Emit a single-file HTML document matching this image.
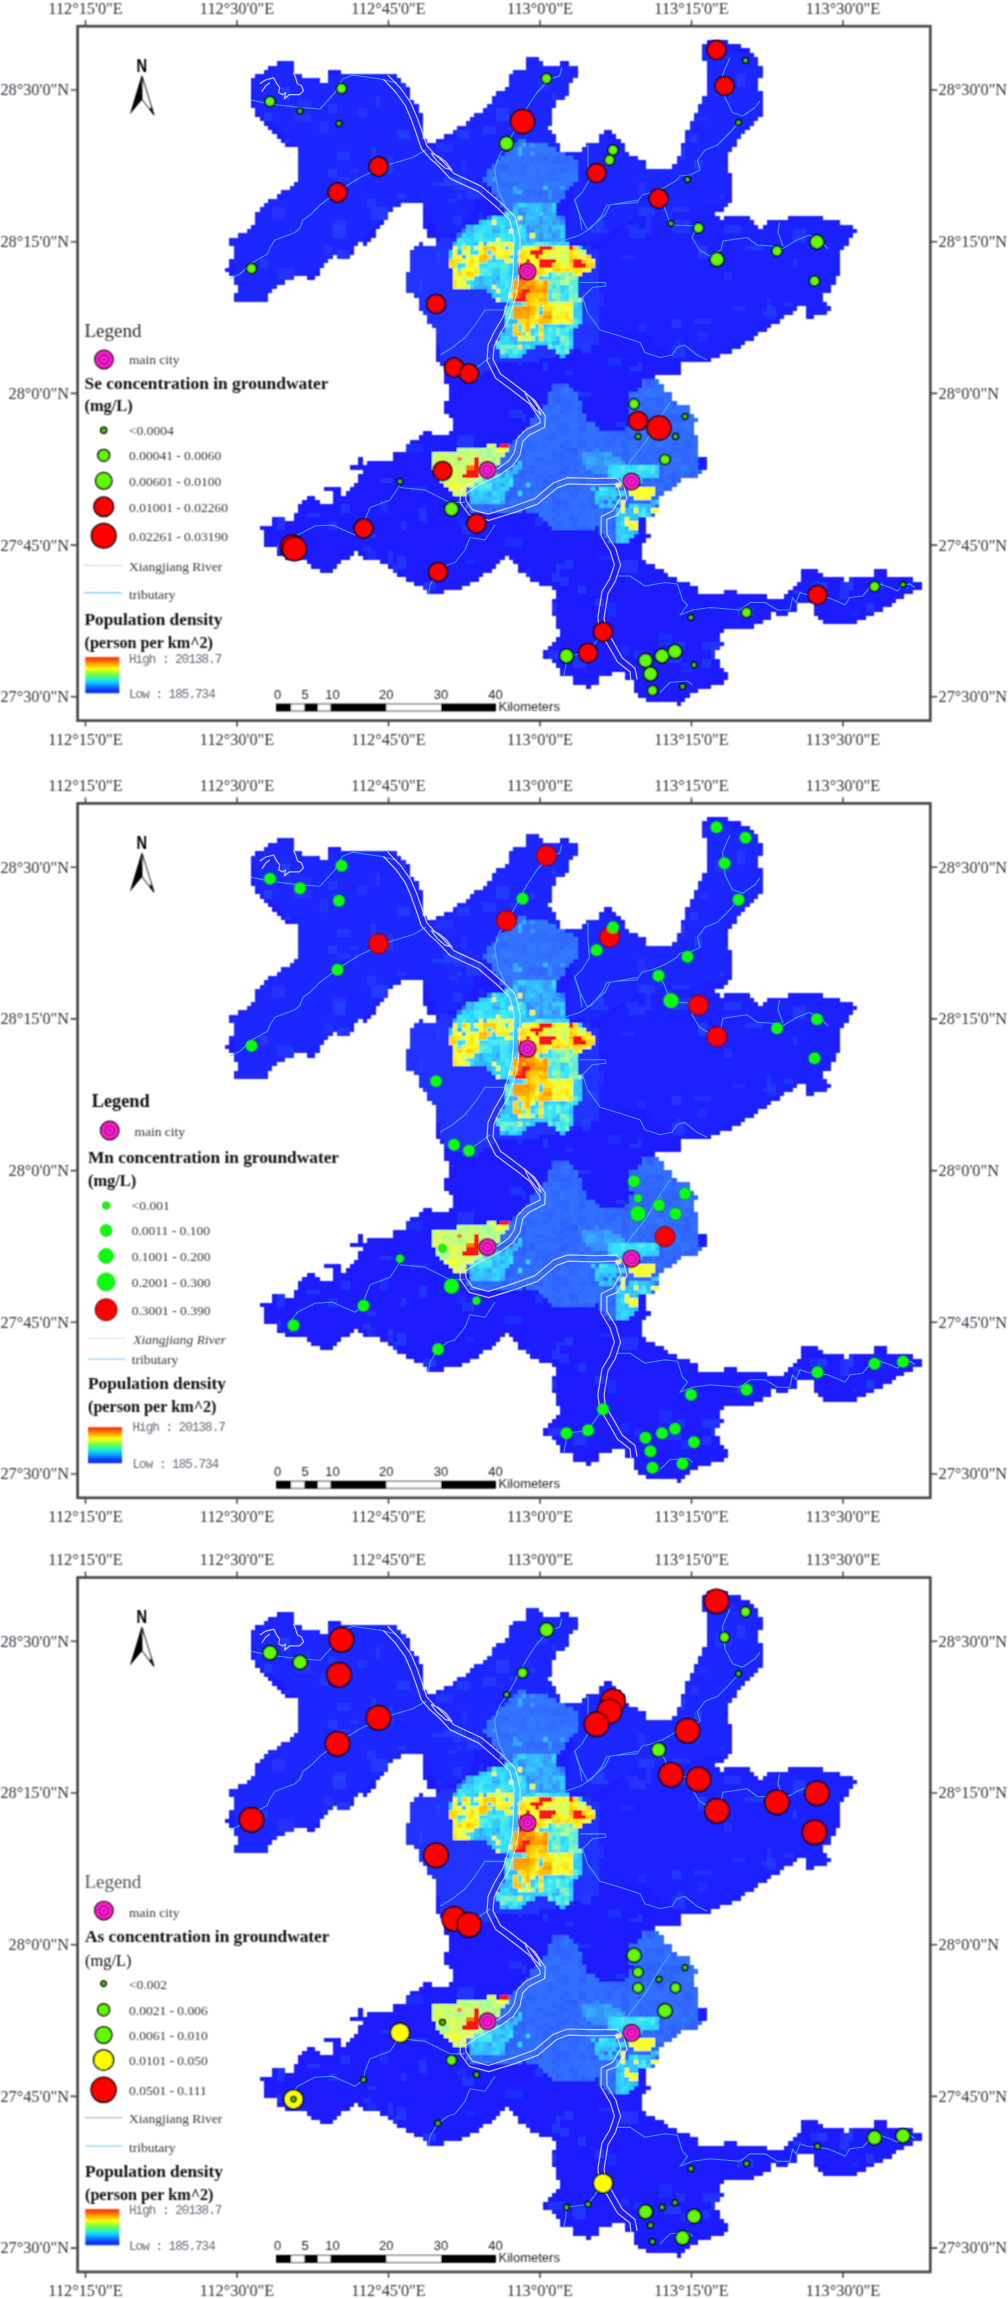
<!DOCTYPE html>
<html><head><meta charset="utf-8"><title>Groundwater concentration maps</title>
<style>
html,body{margin:0;padding:0;background:#fff}
svg{display:block}
text{font-family:"Liberation Serif",serif}
.tk{font-size:16.3px;fill:#30363c}
.lb{font-size:13.5px;fill:#383838}
.bd{font-size:16.4px;font-weight:bold;fill:#111}
.hl{font-size:12.5px;fill:#667;font-family:"Liberation Mono",monospace;letter-spacing:-0.9px}
.sb{font-family:"Liberation Sans",sans-serif;font-size:13px;fill:#222}
.nn{font-family:"Liberation Sans",sans-serif;font-size:17.5px;font-weight:bold;fill:#000}
</style></head><body>
<svg width="1008" height="2298" viewBox="0 0 1008 2298">
<defs><linearGradient id="ramp" x1="0" y1="0" x2="0" y2="1">
<stop offset="0" stop-color="#ff1a00"/><stop offset="0.15" stop-color="#ff8c00"/><stop offset="0.32" stop-color="#ffff10"/><stop offset="0.5" stop-color="#60ff50"/><stop offset="0.62" stop-color="#20f0d0"/><stop offset="0.73" stop-color="#10b8ff"/><stop offset="0.88" stop-color="#1048ff"/><stop offset="1" stop-color="#1020ff"/>
</linearGradient>
<filter id="soft" x="0" y="0" width="100%" height="100%" filterUnits="userSpaceOnUse"><feConvolveMatrix order="3" kernelMatrix="1 2 1 2 4 2 1 2 1" divisor="16" edgeMode="duplicate" preserveAlpha="false"/></filter>
</defs>
<rect width="1008" height="2298" fill="#fff"/>
<g transform="translate(0,0)">
<g filter="url(#soft)"><path fill="#1c1eff" d="M707 40h21v4h-21zM702 44h39v4h-39zM702 48h48v5h-48zM702 53h52v4h-52zM526 57h13v4h-13zM702 57h56v4h-56zM277 61h17v5h-17zM526 61h17v5h-17zM560 61h9v5h-9zM707 61h51v5h-51zM268 66h26v4h-26zM526 66h52v4h-52zM707 66h56v4h-56zM264 70h30v4h-30zM328 70h13v4h-13zM513 70h65v4h-65zM707 70h56v4h-56zM255 74h47v4h-47zM328 74h69v4h-69zM509 74h69v4h-69zM707 74h56v4h-56zM251 78h69v5h-69zM328 78h73v5h-73zM509 78h64v5h-64zM707 78h51v5h-51zM251 83h155v4h-155zM509 83h60v4h-60zM707 83h51v4h-51zM251 87h159v4h-159zM505 87h64v4h-64zM707 87h51v4h-51zM251 91h159v5h-159zM496 91h73v5h-73zM707 91h56v5h-56zM251 96h159v4h-159zM492 96h73v4h-73zM702 96h61v4h-61zM251 100h163v4h-163zM492 100h64v4h-64zM702 100h61v4h-61zM251 104h168v4h-168zM487 104h69v4h-69zM698 104h65v4h-65zM255 108h164v5h-164zM483 108h69v5h-69zM698 108h65v5h-65zM255 113h168v4h-168zM474 113h78v4h-78zM694 113h69v4h-69zM260 117h163v4h-163zM470 117h82v4h-82zM694 117h64v4h-64zM264 121h159v5h-159zM466 121h86v5h-86zM690 121h64v5h-64zM268 126h155v4h-155zM457 126h91v4h-91zM690 126h60v4h-60zM272 130h151v4h-151zM453 130h99v4h-99zM604 130h8v4h-8zM685 130h60v4h-60zM277 134h146v5h-146zM444 134h112v5h-112zM599 134h17v5h-17zM685 134h56v5h-56zM281 139h146v4h-146zM436 139h120v4h-120zM599 139h22v4h-22zM685 139h52v4h-52zM285 143h275v4h-275zM586 143h39v4h-39zM681 143h56v4h-56zM298 147h262v5h-262zM582 147h43v5h-43zM681 147h51v5h-51zM298 152h331v4h-331zM681 152h47v4h-47zM298 156h340v4h-340zM677 156h51v4h-51zM298 160h348v4h-348zM677 160h51v4h-51zM298 164h348v5h-348zM672 164h56v5h-56zM298 169h430v4h-430zM298 173h434v4h-434zM298 177h434v5h-434zM294 182h438v4h-438zM290 186h442v4h-442zM281 190h451v4h-451zM277 194h455v5h-455zM268 199h464v4h-464zM264 203h137v4h-137zM423 203h305v4h-305zM260 207h133v5h-133zM423 207h301v5h-301zM255 212h133v4h-133zM423 212h292v4h-292zM255 216h133v4h-133zM423 216h297v4h-297zM724 216h26v4h-26zM788 216h35v4h-35zM255 220h129v5h-129zM423 220h331v5h-331zM767 220h73v5h-73zM251 225h129v4h-129zM423 225h335v4h-335zM763 225h90v4h-90zM247 229h129v4h-129zM427 229h430v4h-430zM238 233h138v5h-138zM427 233h426v5h-426zM229 238h142v4h-142zM436 238h413v4h-413zM229 242h129v4h-129zM363 242h4v4h-4zM419 242h4v4h-4zM436 242h413v4h-413zM234 246h120v4h-120zM414 246h430v4h-430zM234 250h120v5h-120zM410 250h430v5h-430zM234 255h99v4h-99zM337 255h13v4h-13zM410 255h430v4h-430zM229 259h99v4h-99zM410 259h430v4h-430zM229 263h95v5h-95zM410 263h430v5h-430zM225 268h95v4h-95zM410 268h430v4h-430zM229 272h91v4h-91zM406 272h434v4h-434zM234 276h60v4h-60zM307 276h8v4h-8zM406 276h430v4h-430zM234 280h51v5h-51zM406 280h430v5h-430zM238 285h39v4h-39zM406 285h425v4h-425zM238 289h34v4h-34zM406 289h425v4h-425zM234 293h34v5h-34zM414 293h409v5h-409zM234 298h34v4h-34zM419 298h404v4h-404zM419 302h408v4h-408zM419 306h378v5h-378zM806 306h25v5h-25zM423 311h370v4h-370zM806 311h21v4h-21zM427 315h357v4h-357zM806 315h8v4h-8zM427 319h353v5h-353zM432 324h339v4h-339zM436 328h331v4h-331zM436 332h322v4h-322zM436 336h318v5h-318zM436 341h309v4h-309zM436 345h305v4h-305zM436 349h296v5h-296zM436 354h284v4h-284zM436 358h275v4h-275zM440 362h241v4h-241zM444 366h237v5h-237zM444 371h237v4h-237zM444 375h211v4h-211zM444 379h215v5h-215zM449 384h215v4h-215zM449 388h215v4h-215zM449 392h223v5h-223zM449 397h223v4h-223zM444 401h233v4h-233zM444 405h246v5h-246zM444 410h246v4h-246zM449 414h245v4h-245zM453 418h245v4h-245zM453 422h241v5h-241zM453 427h241v4h-241zM423 431h9v4h-9zM449 431h245v4h-245zM419 435h279v5h-279zM410 440h288v4h-288zM406 444h292v4h-292zM406 448h292v4h-292zM393 452h305v5h-305zM358 457h5v4h-5zM393 457h314v4h-314zM358 461h5v4h-5zM367 461h340v4h-340zM350 465h357v5h-357zM363 470h339v4h-339zM358 474h340v4h-340zM358 478h323v5h-323zM354 483h323v4h-323zM324 487h17v4h-17zM350 487h322v4h-322zM333 491h8v5h-8zM346 491h318v5h-318zM307 496h8v4h-8zM333 496h326v4h-326zM302 500h18v4h-18zM333 500h326v4h-326zM298 504h361v4h-361zM298 508h361v5h-361zM294 513h361v4h-361zM272 517h13v4h-13zM294 517h352v4h-352zM272 521h374v5h-374zM260 526h386v4h-386zM264 530h382v4h-382zM264 534h387v4h-387zM264 538h382v5h-382zM264 543h378v4h-378zM277 547h365v4h-365zM277 551h77v5h-77zM358 551h284v5h-284zM285 556h65v4h-65zM363 556h142v4h-142zM509 556h133v4h-133zM307 560h34v4h-34zM380 560h120v4h-120zM513 560h133v4h-133zM311 564h26v5h-26zM388 564h108v5h-108zM518 564h137v5h-137zM320 569h13v4h-13zM393 569h99v4h-99zM518 569h146v4h-146zM801 569h17v4h-17zM874 569h13v4h-13zM397 573h86v4h-86zM526 573h142v4h-142zM801 573h22v4h-22zM874 573h13v4h-13zM406 577h73v5h-73zM530 577h147v5h-147zM801 577h43v5h-43zM849 577h64v5h-64zM414 582h56v4h-56zM539 582h151v4h-151zM797 582h125v4h-125zM423 586h39v4h-39zM552 586h146v4h-146zM793 586h129v4h-129zM427 590h17v4h-17zM556 590h142v4h-142zM724 590h13v4h-13zM788 590h125v4h-125zM556 594h211v5h-211zM784 594h120v5h-120zM552 599h344v4h-344zM552 603h245v4h-245zM814 603h78v4h-78zM552 607h245v5h-245zM814 607h69v5h-69zM552 612h219v4h-219zM776 612h12v4h-12zM814 612h60v4h-60zM556 616h215v4h-215zM818 616h48v4h-48zM556 620h207v4h-207zM823 620h34v4h-34zM556 624h198v5h-198zM560 629h164v4h-164zM560 633h160v4h-160zM556 637h164v5h-164zM552 642h172v4h-172zM548 646h172v4h-172zM543 650h172v5h-172zM543 655h172v4h-172zM552 659h168v4h-168zM556 663h164v5h-164zM560 668h164v4h-164zM560 672h52v4h-52zM625 672h103v4h-103zM573 676h26v4h-26zM625 676h103v4h-103zM573 680h26v5h-26zM634 680h90v5h-90zM586 685h5v4h-5zM634 685h77v4h-77zM634 689h64v4h-64zM638 693h52v5h-52zM646 698h39v4h-39zM677 702h4v4h-4z"/>
<path fill="#1e26ff" d="M702 44h18v4h-18zM702 48h30v5h-30zM702 53h43v4h-43zM526 57h13v4h-13zM702 57h56v4h-56zM281 61h13v5h-13zM526 61h17v5h-17zM707 61h51v5h-51zM272 66h22v4h-22zM526 66h52v4h-52zM707 66h56v4h-56zM264 70h30v4h-30zM513 70h65v4h-65zM707 70h56v4h-56zM260 74h42v4h-42zM328 74h69v4h-69zM509 74h69v4h-69zM707 74h56v4h-56zM251 78h69v5h-69zM328 78h73v5h-73zM509 78h64v5h-64zM707 78h51v5h-51zM251 83h155v4h-155zM509 83h60v4h-60zM707 83h51v4h-51zM251 87h155v4h-155zM505 87h64v4h-64zM707 87h51v4h-51zM255 91h151v5h-151zM496 91h73v5h-73zM707 91h56v5h-56zM255 96h155v4h-155zM492 96h73v4h-73zM702 96h61v4h-61zM255 100h155v4h-155zM492 100h64v4h-64zM702 100h61v4h-61zM255 104h159v4h-159zM487 104h69v4h-69zM698 104h65v4h-65zM255 108h159v5h-159zM483 108h69v5h-69zM698 108h65v5h-65zM260 113h154v4h-154zM474 113h78v4h-78zM694 113h69v4h-69zM264 117h155v4h-155zM470 117h82v4h-82zM694 117h64v4h-64zM272 121h147v5h-147zM466 121h86v5h-86zM690 121h64v5h-64zM277 126h146v4h-146zM457 126h91v4h-91zM690 126h60v4h-60zM281 130h142v4h-142zM453 130h99v4h-99zM685 130h60v4h-60zM285 134h138v5h-138zM449 134h107v5h-107zM599 134h9v5h-9zM685 134h56v5h-56zM290 139h133v4h-133zM440 139h78v4h-78zM526 139h30v4h-30zM599 139h13v4h-13zM685 139h52v4h-52zM294 143h129v4h-129zM436 143h77v4h-77zM548 143h12v4h-12zM586 143h30v4h-30zM681 143h56v4h-56zM298 147h211v5h-211zM556 147h4v5h-4zM582 147h43v5h-43zM681 147h51v5h-51zM298 152h207v4h-207zM565 152h64v4h-64zM681 152h47v4h-47zM298 156h202v4h-202zM573 156h65v4h-65zM677 156h51v4h-51zM298 160h198v4h-198zM578 160h64v4h-64zM677 160h47v4h-47zM298 164h194v5h-194zM578 164h68v5h-68zM672 164h56v5h-56zM298 169h189v4h-189zM578 169h150v4h-150zM298 173h189v4h-189zM578 173h150v4h-150zM298 177h185v5h-185zM578 177h154v5h-154zM294 182h189v4h-189zM573 182h159v4h-159zM290 186h189v4h-189zM573 186h159v4h-159zM281 190h198v4h-198zM573 190h159v4h-159zM277 194h202v5h-202zM573 194h159v5h-159zM268 199h151v4h-151zM423 199h51v4h-51zM573 199h155v4h-155zM264 203h137v4h-137zM423 203h51v4h-51zM569 203h133v4h-133zM260 207h133v5h-133zM427 207h47v5h-47zM569 207h108v5h-108zM255 212h133v4h-133zM427 212h43v4h-43zM569 212h77v4h-77zM255 216h129v4h-129zM432 216h38v4h-38zM569 216h65v4h-65zM255 220h125v5h-125zM432 220h34v5h-34zM569 220h60v5h-60zM251 225h125v4h-125zM436 225h30v4h-30zM569 225h52v4h-52zM247 229h124v4h-124zM436 229h21v4h-21zM565 229h47v4h-47zM238 233h129v5h-129zM436 233h13v5h-13zM565 233h43v5h-43zM229 238h134v4h-134zM565 238h34v4h-34zM229 242h129v4h-129zM586 242h5v4h-5zM234 246h116v4h-116zM234 250h112v5h-112zM234 255h99v4h-99zM337 255h4v4h-4zM229 259h99v4h-99zM234 263h90v5h-90zM234 268h86v4h-86zM234 272h81v4h-81zM234 276h60v4h-60zM234 280h51v5h-51zM238 285h39v4h-39zM238 289h34v4h-34zM234 293h34v5h-34zM234 298h34v4h-34z"/>
<path fill="#3173ff" d="M518 139h4v4h-4zM513 147h5v5h-5zM535 152h4v4h-4zM513 160h5v4h-5zM526 160h4v4h-4zM535 164h4v5h-4zM487 169h5v4h-5zM548 169h4v4h-4zM513 173h5v4h-5zM487 177h5v5h-5zM487 182h5v4h-5zM530 182h5v4h-5zM492 186h4v4h-4zM565 186h4v4h-4zM522 190h4v4h-4zM505 194h4v5h-4zM513 194h9v5h-9zM530 194h5v5h-5zM509 199h4v4h-4zM646 392h9v5h-9zM543 414h5v4h-5zM560 414h5v4h-5zM560 418h5v4h-5zM569 422h4v5h-4zM681 422h4v5h-4zM685 427h5v4h-5zM591 431h4v4h-4zM586 435h5v5h-5zM522 444h4v4h-4zM659 444h5v4h-5zM548 448h4v4h-4zM578 448h4v4h-4zM634 448h4v4h-4zM539 452h4v5h-4zM629 457h5v4h-5zM672 457h9v4h-9zM634 461h4v4h-4zM578 470h4v4h-4zM664 470h8v4h-8zM526 474h4v4h-4zM634 483h4v4h-4zM651 483h4v4h-4zM535 491h8v5h-8zM582 496h4v4h-4zM634 500h4v4h-4zM526 504h4v4h-4zM539 513h4v4h-4zM591 521h4v5h-4z"/>
<path fill="#3277ff" d="M522 139h4v4h-4zM518 143h4v4h-4zM552 147h4v5h-4zM552 152h4v4h-4zM505 156h4v4h-4zM530 169h5v4h-5zM500 173h5v4h-5zM560 173h5v4h-5zM569 173h9v4h-9zM526 177h4v5h-4zM518 182h8v4h-8zM518 186h4v4h-4zM535 186h4v4h-4zM556 186h4v4h-4zM500 194h5v5h-5zM530 199h5v4h-5zM539 199h4v4h-4zM556 199h4v4h-4z"/>
<path fill="#2f67ff" d="M513 143h5v4h-5zM505 182h4v4h-4zM569 392h4v5h-4zM569 397h4v4h-4zM642 401h4v4h-4zM548 405h4v5h-4zM672 405h5v5h-5zM634 410h4v4h-4zM530 418h5v4h-5zM642 418h4v4h-4zM565 422h4v5h-4zM582 422h4v5h-4zM629 422h5v5h-5zM526 427h13v4h-13zM556 427h4v4h-4zM646 427h5v4h-5zM548 431h4v4h-4zM612 431h4v4h-4zM625 435h4v5h-4zM634 435h4v5h-4zM548 440h4v4h-4zM560 440h5v4h-5zM595 440h4v4h-4zM604 440h4v4h-4zM681 440h4v4h-4zM535 444h4v4h-4zM625 444h4v4h-4zM672 448h9v4h-9zM659 452h5v5h-5zM685 452h5v5h-5zM556 457h4v4h-4zM642 457h4v4h-4zM513 461h5v4h-5zM543 461h5v4h-5zM522 465h4v5h-4zM690 465h4v5h-4zM556 470h4v4h-4zM672 470h5v4h-5zM694 470h8v4h-8zM535 474h4v4h-4zM578 474h4v4h-4zM694 474h4v4h-4zM599 478h5v5h-5zM608 478h4v5h-4zM642 478h4v5h-4zM677 478h4v5h-4zM518 483h4v4h-4zM582 483h4v4h-4zM565 487h4v4h-4zM668 487h4v4h-4zM552 491h4v5h-4zM659 491h5v5h-5zM629 496h5v4h-5zM470 504h4v4h-4zM616 504h5v4h-5zM552 517h4v4h-4z"/>
<path fill="#36a9ff" d="M522 143h4v4h-4zM522 216h4v4h-4zM543 220h5v5h-5zM591 461h4v4h-4z"/>
<path fill="#3170ff" d="M526 143h4v4h-4zM543 143h5v4h-5zM560 152h5v4h-5zM522 156h4v4h-4zM500 160h5v4h-5zM539 160h4v4h-4zM513 169h5v4h-5zM535 169h4v4h-4zM565 169h13v4h-13zM535 173h4v4h-4zM556 177h4v5h-4zM526 182h4v4h-4zM492 190h4v4h-4zM560 190h5v4h-5zM638 388h4v4h-4zM548 392h4v5h-4zM560 392h5v5h-5zM659 392h5v5h-5zM677 405h8v5h-8zM672 410h5v4h-5zM681 410h9v4h-9zM569 414h9v4h-9zM565 418h4v4h-4zM672 422h5v5h-5zM526 431h4v4h-4zM586 431h5v4h-5zM599 431h5v4h-5zM539 435h4v5h-4zM638 435h4v5h-4zM573 440h5v4h-5zM646 440h5v4h-5zM539 444h4v4h-4zM586 444h9v4h-9zM634 444h4v4h-4zM604 448h4v4h-4zM616 448h5v4h-5zM612 452h4v5h-4zM629 452h5v5h-5zM629 461h5v4h-5zM578 465h4v5h-4zM664 465h8v5h-8zM526 478h4v5h-4zM522 483h4v4h-4zM530 483h5v4h-5zM625 483h4v4h-4zM586 487h5v4h-5zM595 487h4v4h-4zM513 500h5v4h-5zM569 500h4v4h-4zM530 504h5v4h-5zM487 508h5v5h-5zM535 508h4v5h-4zM573 508h5v5h-5zM599 513h5v4h-5zM586 517h5v4h-5zM608 530h4v4h-4zM608 534h4v4h-4zM608 538h4v5h-4z"/>
<path fill="#3894ff" d="M530 143h5v4h-5zM530 152h5v4h-5zM582 457h4v4h-4zM604 465h4v5h-4z"/>
<path fill="#3275ff" d="M535 143h4v4h-4zM539 147h4v5h-4zM548 152h4v4h-4zM500 156h5v4h-5zM513 156h5v4h-5zM539 164h4v5h-4zM500 177h5v5h-5zM530 177h5v5h-5zM522 186h4v4h-4zM655 379h4v5h-4zM565 388h4v4h-4z"/>
<path fill="#337bff" d="M539 143h4v4h-4zM496 160h4v4h-4z"/>
<path fill="#3171ff" d="M509 147h4v5h-4zM513 152h5v4h-5zM539 152h4v4h-4zM518 156h4v4h-4zM526 156h4v4h-4zM548 156h4v4h-4zM569 156h4v4h-4zM535 160h4v4h-4zM569 160h4v4h-4zM552 164h4v5h-4zM556 169h4v4h-4zM492 173h4v4h-4zM518 177h4v5h-4zM543 177h5v5h-5zM509 182h4v4h-4zM539 182h4v4h-4zM565 182h8v4h-8zM496 186h9v4h-9zM530 186h5v4h-5zM496 194h4v5h-4zM560 194h5v5h-5zM535 199h4v4h-4zM505 203h4v4h-4zM655 388h4v4h-4zM642 392h4v5h-4zM664 401h4v4h-4zM548 422h4v5h-4zM586 427h9v4h-9zM535 431h8v4h-8zM651 431h4v4h-4zM522 435h4v5h-4zM518 440h4v4h-4zM634 440h4v4h-4zM655 440h4v4h-4zM612 444h4v4h-4zM612 448h4v4h-4zM505 457h4v4h-4zM664 461h4v4h-4zM677 461h4v4h-4zM535 470h4v4h-4zM569 478h4v5h-4zM586 478h9v5h-9zM591 483h4v4h-4zM466 487h4v4h-4zM560 491h9v5h-9zM625 491h4v5h-4zM539 508h4v5h-4zM591 513h4v4h-4z"/>
<path fill="#35b3ff" d="M518 147h4v5h-4zM530 212h5v4h-5zM535 220h4v5h-4zM552 229h4v4h-4zM548 233h4v5h-4zM616 461h5v4h-5zM492 483h4v4h-4z"/>
<path fill="#3274ff" d="M522 147h4v5h-4zM548 147h4v5h-4zM522 160h4v4h-4zM509 164h4v5h-4zM543 173h5v4h-5zM496 190h4v4h-4zM513 199h5v4h-5zM646 388h5v4h-5zM573 422h5v5h-5zM659 440h5v4h-5zM535 452h4v5h-4zM681 465h4v5h-4zM543 504h5v4h-5zM500 508h5v5h-5zM591 517h4v4h-4z"/>
<path fill="#3172ff" d="M526 147h4v5h-4zM518 164h4v5h-4zM526 164h4v5h-4zM556 164h4v5h-4zM492 169h4v4h-4zM518 169h4v4h-4zM526 173h4v4h-4zM539 173h4v4h-4zM483 177h4v5h-4zM522 177h4v5h-4zM500 190h5v4h-5zM522 194h4v5h-4zM526 199h4v4h-4zM548 199h4v4h-4zM462 229h4v4h-4zM642 384h4v4h-4zM655 384h4v4h-4zM565 392h4v5h-4zM548 401h4v4h-4zM552 410h8v4h-8zM690 414h4v4h-4zM543 418h5v4h-5zM543 422h5v5h-5zM591 422h4v5h-4zM573 427h5v4h-5zM638 431h4v4h-4zM642 435h4v5h-4zM668 435h4v5h-4zM552 440h4v4h-4zM629 444h5v4h-5zM655 444h4v4h-4zM582 448h4v4h-4zM608 448h4v4h-4zM694 448h4v4h-4zM578 452h4v5h-4zM530 461h5v4h-5zM685 465h5v5h-5zM582 470h4v4h-4zM530 474h5v4h-5zM586 483h5v4h-5zM604 483h4v4h-4zM629 483h5v4h-5zM616 487h5v4h-5zM655 487h4v4h-4zM578 491h4v5h-4zM535 496h4v4h-4zM578 496h4v4h-4zM509 500h4v4h-4zM496 504h4v4h-4zM483 508h4v5h-4zM505 508h4v5h-4zM586 521h5v5h-5z"/>
<path fill="#3174ff" d="M530 147h5v5h-5zM569 164h4v5h-4zM487 173h5v4h-5zM565 177h4v5h-4zM548 182h4v4h-4zM560 182h5v4h-5zM556 405h4v5h-4zM685 422h5v5h-5zM548 427h4v4h-4zM642 431h4v4h-4zM668 431h4v4h-4zM681 470h4v4h-4z"/>
<path fill="#3276ff" d="M535 147h4v5h-4zM522 152h4v4h-4zM543 152h5v4h-5zM509 156h4v4h-4zM505 160h4v4h-4zM530 164h5v5h-5zM548 164h4v5h-4zM539 169h4v4h-4zM509 173h4v4h-4zM530 173h5v4h-5zM513 177h5v5h-5zM526 186h4v4h-4zM552 186h4v4h-4zM505 190h8v4h-8zM509 194h4v5h-4zM522 199h4v4h-4zM552 199h4v4h-4z"/>
<path fill="#3278ff" d="M543 147h5v5h-5zM526 169h4v4h-4zM505 173h4v4h-4zM505 177h8v5h-8zM560 177h5v5h-5zM573 177h5v5h-5zM535 182h4v4h-4zM539 186h4v4h-4zM487 216h5v4h-5z"/>
<path fill="#306cff" d="M505 152h4v4h-4zM535 156h4v4h-4zM560 156h5v4h-5zM543 160h5v4h-5zM522 164h4v5h-4zM505 169h4v4h-4zM496 173h4v4h-4zM535 190h4v4h-4zM535 194h4v5h-4zM629 392h5v5h-5zM664 392h4v5h-4zM565 397h4v4h-4zM638 397h4v4h-4zM543 405h5v5h-5zM634 405h4v5h-4zM646 405h5v5h-5zM655 405h4v5h-4zM664 405h4v5h-4zM642 410h4v4h-4zM582 414h4v4h-4zM548 418h4v4h-4zM552 422h8v5h-8zM677 422h4v5h-4zM634 427h4v4h-4zM543 431h5v4h-5zM629 431h5v4h-5zM578 435h4v5h-4zM621 435h4v5h-4zM694 435h4v5h-4zM513 440h5v4h-5zM625 440h4v4h-4zM642 440h4v4h-4zM642 444h4v4h-4zM651 444h4v4h-4zM681 444h4v4h-4zM513 452h5v5h-5zM616 452h5v5h-5zM642 452h4v5h-4zM621 457h4v4h-4zM659 457h5v4h-5zM539 461h4v4h-4zM539 465h4v5h-4zM573 465h5v5h-5zM672 465h5v5h-5zM560 474h5v4h-5zM664 474h4v4h-4zM518 478h4v5h-4zM573 478h5v5h-5zM616 478h5v5h-5zM513 483h5v4h-5zM556 483h4v4h-4zM548 487h4v4h-4zM621 487h4v4h-4zM582 491h4v5h-4zM530 496h5v4h-5zM586 500h5v4h-5zM604 500h4v4h-4zM612 500h4v4h-4zM642 500h4v4h-4zM573 504h5v4h-5zM470 508h4v5h-4zM582 508h4v5h-4zM552 513h4v4h-4zM556 517h4v4h-4zM604 517h4v4h-4zM560 526h5v4h-5zM599 526h5v4h-5z"/>
<path fill="#306fff" d="M509 152h4v4h-4zM543 194h5v5h-5zM659 384h5v4h-5zM518 435h4v5h-4zM651 435h4v5h-4zM629 448h5v4h-5zM569 470h4v4h-4zM513 478h5v5h-5zM599 517h5v4h-5zM612 517h4v4h-4zM578 521h4v5h-4zM604 534h4v4h-4z"/>
<path fill="#36adff" d="M518 152h4v4h-4zM518 220h4v5h-4zM591 457h4v4h-4zM492 487h4v4h-4zM608 496h4v4h-4z"/>
<path fill="#306dff" d="M526 152h4v4h-4zM492 164h4v5h-4zM560 164h5v5h-5zM573 164h5v5h-5zM496 169h4v4h-4zM522 173h4v4h-4zM496 177h4v5h-4zM535 177h4v5h-4zM548 177h4v5h-4zM500 182h5v4h-5zM552 190h8v4h-8zM552 194h4v5h-4zM500 203h5v4h-5zM573 397h5v4h-5zM638 401h4v4h-4zM651 401h4v4h-4zM668 401h4v4h-4zM638 405h4v5h-4zM539 410h13v4h-13zM569 410h9v4h-9zM664 410h8v4h-8zM677 410h4v4h-4zM548 414h4v4h-4zM565 414h4v4h-4zM573 418h5v4h-5zM659 418h5v4h-5zM685 418h5v4h-5zM586 422h5v5h-5zM634 422h4v5h-4zM629 427h5v4h-5zM677 427h4v4h-4zM556 431h4v4h-4zM573 431h5v4h-5zM604 431h4v4h-4zM681 431h4v4h-4zM599 435h5v5h-5zM681 435h9v5h-9zM522 440h4v4h-4zM539 440h9v4h-9zM586 440h9v4h-9zM664 440h4v4h-4zM677 440h4v4h-4zM513 444h5v4h-5zM616 444h5v4h-5zM677 444h4v4h-4zM694 444h4v4h-4zM526 448h4v4h-4zM672 452h5v5h-5zM690 452h8v5h-8zM578 457h4v4h-4zM500 461h9v4h-9zM565 461h4v4h-4zM651 461h4v4h-4zM668 461h9v4h-9zM535 465h4v5h-4zM569 474h9v4h-9zM586 474h9v4h-9zM565 478h4v5h-4zM664 478h8v5h-8zM539 483h4v4h-4zM560 483h5v4h-5zM578 483h4v4h-4zM599 483h5v4h-5zM612 483h4v4h-4zM659 483h5v4h-5zM518 487h4v4h-4zM569 487h4v4h-4zM522 491h4v5h-4zM586 491h5v5h-5zM518 496h4v4h-4zM539 496h4v4h-4zM548 496h4v4h-4zM565 496h4v4h-4zM621 496h4v4h-4zM655 496h4v4h-4zM526 500h4v4h-4zM638 500h4v4h-4zM509 504h4v4h-4zM522 504h4v4h-4zM548 508h4v5h-4zM560 508h5v5h-5zM543 513h5v4h-5zM586 513h5v4h-5zM543 517h5v4h-5zM560 517h9v4h-9zM595 521h4v5h-4zM608 521h4v5h-4z"/>
<path fill="#3379ff" d="M556 152h4v4h-4zM543 164h5v5h-5zM543 169h5v4h-5zM505 207h4v5h-4zM457 233h5v5h-5z"/>
<path fill="#306eff" d="M530 156h5v4h-5zM518 160h4v4h-4zM548 160h4v4h-4zM513 164h5v5h-5zM500 169h5v4h-5zM522 169h4v4h-4zM518 173h4v4h-4zM548 173h8v4h-8zM492 182h4v4h-4zM556 194h4v5h-4zM543 199h5v4h-5zM509 207h4v5h-4zM560 216h5v4h-5zM642 379h4v5h-4zM565 384h4v4h-4zM560 388h5v4h-5zM638 392h4v5h-4zM642 397h4v4h-4zM668 397h4v4h-4zM552 405h4v5h-4zM573 405h5v5h-5zM629 405h5v5h-5zM668 405h4v5h-4zM629 410h5v4h-5zM569 418h4v4h-4zM690 418h4v4h-4zM543 427h5v4h-5zM552 427h4v4h-4zM681 427h4v4h-4zM690 427h4v4h-4zM530 431h5v4h-5zM582 431h4v4h-4zM634 431h4v4h-4zM664 431h4v4h-4zM530 435h5v5h-5zM565 435h4v5h-4zM595 435h4v5h-4zM535 440h4v4h-4zM599 440h5v4h-5zM651 440h4v4h-4zM518 444h4v4h-4zM548 444h12v4h-12zM599 444h5v4h-5zM668 444h4v4h-4zM513 448h5v4h-5zM535 448h4v4h-4zM543 448h5v4h-5zM556 448h4v4h-4zM591 448h4v4h-4zM526 452h9v5h-9zM509 457h4v4h-4zM543 457h5v4h-5zM552 457h4v4h-4zM634 457h4v4h-4zM646 457h5v4h-5zM668 457h4v4h-4zM543 465h9v5h-9zM548 470h8v4h-8zM565 474h4v4h-4zM651 478h4v5h-4zM646 483h5v4h-5zM655 483h4v4h-4zM582 487h4v4h-4zM560 496h5v4h-5zM548 500h4v4h-4zM573 500h5v4h-5zM479 504h4v4h-4zM492 504h4v4h-4zM548 504h4v4h-4zM518 508h4v5h-4zM578 508h4v5h-4zM591 508h4v5h-4zM599 508h5v5h-5zM573 513h5v4h-5zM582 513h4v4h-4zM582 517h4v4h-4zM595 517h4v4h-4zM552 521h4v5h-4zM582 521h4v5h-4zM565 526h4v4h-4zM612 530h4v4h-4zM612 534h4v4h-4z"/>
<path fill="#316fff" d="M539 156h4v4h-4zM552 156h4v4h-4zM509 160h4v4h-4zM573 160h5v4h-5zM509 169h4v4h-4zM556 173h4v4h-4zM539 177h4v5h-4zM552 177h4v5h-4zM496 182h4v4h-4zM505 186h4v4h-4zM500 199h9v4h-9zM509 203h4v4h-4zM642 388h4v4h-4zM651 388h4v4h-4zM659 388h5v4h-5zM573 392h5v5h-5zM634 392h4v5h-4zM655 392h4v5h-4zM548 397h4v4h-4zM664 397h4v4h-4zM578 401h4v4h-4zM685 405h5v5h-5zM638 410h4v4h-4zM694 418h4v4h-4zM569 427h4v4h-4zM569 431h4v4h-4zM595 431h4v4h-4zM535 435h4v5h-4zM569 435h9v5h-9zM582 435h4v5h-4zM591 435h4v5h-4zM608 435h4v5h-4zM646 435h5v5h-5zM664 435h4v5h-4zM556 440h4v4h-4zM616 440h5v4h-5zM690 440h8v4h-8zM573 444h5v4h-5zM646 444h5v4h-5zM509 448h4v4h-4zM539 448h4v4h-4zM642 448h4v4h-4zM543 452h9v5h-9zM634 452h4v5h-4zM526 457h9v4h-9zM526 461h4v4h-4zM642 461h4v4h-4zM659 461h5v4h-5zM690 461h4v4h-4zM582 465h4v5h-4zM539 470h4v4h-4zM685 470h5v4h-5zM530 478h5v5h-5zM595 478h4v5h-4zM595 483h4v4h-4zM659 487h5v4h-5zM466 491h4v5h-4zM526 491h4v5h-4zM616 496h5v4h-5zM625 496h4v4h-4zM530 500h5v4h-5zM543 500h5v4h-5zM629 500h5v4h-5zM466 504h4v4h-4zM513 504h5v4h-5zM474 508h5v5h-5zM543 508h5v5h-5zM586 508h5v5h-5zM595 508h4v5h-4zM548 513h4v4h-4zM560 513h9v4h-9zM612 513h4v4h-4zM548 517h4v4h-4zM578 517h4v4h-4zM608 517h4v4h-4zM565 521h4v5h-4zM599 521h9v5h-9zM552 526h4v4h-4zM604 530h4v4h-4z"/>
<path fill="#2f68ff" d="M543 156h5v4h-5zM556 160h4v4h-4zM505 164h4v5h-4zM560 169h5v4h-5zM539 190h9v4h-9zM539 194h4v5h-4zM552 392h4v5h-4zM651 397h4v4h-4zM552 401h4v4h-4zM569 405h4v5h-4zM651 410h4v4h-4zM539 414h4v4h-4zM552 414h4v4h-4zM655 414h4v4h-4zM629 418h5v4h-5zM578 422h4v5h-4zM668 422h4v5h-4zM595 427h4v4h-4zM522 431h4v4h-4zM608 431h4v4h-4zM690 431h4v4h-4zM552 435h4v5h-4zM616 435h5v5h-5zM672 435h5v5h-5zM565 444h4v4h-4zM621 448h4v4h-4zM664 448h4v4h-4zM509 452h4v5h-4zM556 452h4v5h-4zM668 452h4v5h-4zM638 457h4v4h-4zM681 457h4v4h-4zM694 457h4v4h-4zM578 461h4v4h-4zM509 465h4v5h-4zM560 465h5v5h-5zM599 474h5v4h-5zM535 478h4v5h-4zM548 478h4v5h-4zM578 478h4v5h-4zM569 483h4v4h-4zM509 487h4v4h-4zM625 487h4v4h-4zM556 491h4v5h-4zM591 500h4v4h-4zM500 504h5v4h-5zM518 504h4v4h-4zM582 504h4v4h-4zM530 508h5v5h-5zM556 508h4v5h-4zM565 508h4v5h-4zM578 513h4v4h-4zM569 521h4v5h-4zM556 526h4v4h-4zM569 526h9v4h-9zM604 526h4v4h-4z"/>
<path fill="#2f69ff" d="M556 156h4v4h-4zM565 156h4v4h-4zM496 164h9v5h-9zM651 379h4v5h-4zM651 405h4v5h-4zM659 405h5v5h-5zM582 418h4v4h-4zM668 418h4v4h-4zM539 422h4v5h-4zM651 422h4v5h-4zM672 427h5v4h-5zM560 431h5v4h-5zM578 431h4v4h-4zM543 435h5v5h-5zM604 435h4v5h-4zM629 435h5v5h-5zM569 440h4v4h-4zM612 440h4v4h-4zM569 444h4v4h-4zM608 444h4v4h-4zM690 444h4v4h-4zM552 448h4v4h-4zM599 448h5v4h-5zM638 448h4v4h-4zM646 448h5v4h-5zM659 448h5v4h-5zM518 452h4v5h-4zM565 452h4v5h-4zM638 452h4v5h-4zM651 452h8v5h-8zM677 452h4v5h-4zM522 457h4v4h-4zM548 461h4v4h-4zM573 461h5v4h-5zM638 461h4v4h-4zM500 470h5v4h-5zM543 474h5v4h-5zM677 474h4v4h-4zM539 478h4v5h-4zM552 478h4v5h-4zM621 483h4v4h-4zM642 483h4v4h-4zM522 487h8v4h-8zM578 487h4v4h-4zM505 491h4v5h-4zM513 491h5v5h-5zM556 496h4v4h-4zM573 496h5v4h-5zM651 496h4v4h-4zM505 500h4v4h-4zM578 504h4v4h-4zM595 504h4v4h-4zM655 504h4v4h-4zM608 526h4v4h-4z"/>
<path fill="#306bff" d="M530 160h5v4h-5zM565 160h4v4h-4zM565 164h4v5h-4zM509 186h4v4h-4zM526 190h4v4h-4zM526 194h4v5h-4zM668 392h4v5h-4zM573 401h5v4h-5zM646 401h5v4h-5zM565 410h4v4h-4zM578 418h4v4h-4zM690 422h4v5h-4zM526 435h4v5h-4zM556 435h4v5h-4zM655 435h4v5h-4zM638 440h4v4h-4zM509 444h4v4h-4zM664 444h4v4h-4zM672 444h5v4h-5zM530 448h5v4h-5zM690 448h4v4h-4zM646 452h5v5h-5zM500 457h5v4h-5zM569 457h4v4h-4zM664 457h4v4h-4zM685 457h5v4h-5zM509 461h4v4h-4zM526 465h4v5h-4zM556 465h4v5h-4zM677 465h4v5h-4zM496 470h4v4h-4zM677 470h4v4h-4zM681 474h4v4h-4zM522 478h4v5h-4zM556 478h4v5h-4zM530 491h5v5h-5zM573 491h5v5h-5zM526 496h4v4h-4zM591 496h4v4h-4zM518 500h4v4h-4zM578 500h8v4h-8zM569 504h4v4h-4zM586 504h5v4h-5zM625 504h4v4h-4zM479 508h4v5h-4zM569 508h4v5h-4zM608 508h8v5h-8zM595 513h4v4h-4zM548 521h4v5h-4zM599 530h5v4h-5z"/>
<path fill="#2e66ff" d="M552 160h4v4h-4zM655 397h4v4h-4zM560 405h5v5h-5zM642 405h4v5h-4zM664 414h4v4h-4zM681 414h4v4h-4zM681 418h4v4h-4zM642 422h4v5h-4zM539 427h4v4h-4zM560 427h5v4h-5zM655 427h4v4h-4zM616 431h5v4h-5zM543 444h5v4h-5zM681 448h4v4h-4zM625 457h4v4h-4zM651 457h8v4h-8zM625 461h4v4h-4zM646 461h5v4h-5zM685 461h5v4h-5zM496 465h4v5h-4zM659 470h5v4h-5zM595 474h4v4h-4zM672 474h5v4h-5zM672 483h5v4h-5zM543 487h5v4h-5zM573 487h5v4h-5zM646 500h5v4h-5zM487 504h5v4h-5zM560 504h5v4h-5zM509 508h9v5h-9zM526 508h4v5h-4zM651 513h4v4h-4zM560 521h5v5h-5z"/>
<path fill="#2f66ff" d="M560 160h5v4h-5zM560 397h5v4h-5zM565 405h4v5h-4zM659 410h5v4h-5zM677 414h4v4h-4zM685 414h5v4h-5zM659 422h5v5h-5zM651 427h4v4h-4zM659 427h5v4h-5zM668 440h4v4h-4zM578 444h4v4h-4zM586 448h5v4h-5zM625 448h4v4h-4zM651 448h4v4h-4zM569 452h4v5h-4zM569 461h4v4h-4zM526 470h4v4h-4zM513 474h5v4h-5zM668 483h4v4h-4zM543 496h5v4h-5zM586 526h5v4h-5z"/>
<path fill="#306aff" d="M552 169h4v4h-4zM569 388h4v4h-4zM638 418h4v4h-4zM535 422h4v5h-4zM552 431h4v4h-4zM560 435h5v5h-5zM629 440h5v4h-5zM672 440h5v4h-5zM668 448h4v4h-4zM664 452h4v5h-4zM513 457h5v4h-5zM548 457h4v4h-4zM552 465h4v5h-4zM569 465h4v5h-4zM694 465h4v5h-4zM582 474h4v4h-4zM604 474h4v4h-4zM608 483h4v4h-4zM535 487h4v4h-4zM522 496h4v4h-4zM569 496h4v4h-4zM608 513h4v4h-4zM591 526h4v4h-4z"/>
<path fill="#3279ff" d="M565 173h4v4h-4zM548 186h4v4h-4zM518 199h4v4h-4z"/>
<path fill="#3896ff" d="M492 177h4v5h-4z"/>
<path fill="#337aff" d="M569 177h4v5h-4zM543 182h5v4h-5zM552 182h8v4h-8z"/>
<path fill="#2f6aff" d="M513 182h5v4h-5zM530 190h5v4h-5zM552 418h8v4h-8zM646 431h5v4h-5zM685 431h5v4h-5zM530 440h5v4h-5zM604 444h4v4h-4zM573 457h5v4h-5zM690 457h4v4h-4zM535 461h4v4h-4zM556 461h4v4h-4zM655 461h4v4h-4zM681 461h4v4h-4zM694 461h4v4h-4zM543 470h5v4h-5zM612 478h4v5h-4zM535 483h4v4h-4zM573 483h5v4h-5zM530 487h5v4h-5zM539 487h4v4h-4zM560 487h5v4h-5zM509 496h9v4h-9zM586 496h5v4h-5zM522 500h4v4h-4zM474 504h5v4h-5zM569 513h4v4h-4z"/>
<path fill="#379eff" d="M513 186h5v4h-5zM548 212h4v4h-4zM530 225h5v4h-5zM608 452h4v5h-4z"/>
<path fill="#34c0ff" d="M543 186h5v4h-5zM530 207h5v5h-5zM513 319h5v5h-5zM625 513h4v4h-4z"/>
<path fill="#389aff" d="M560 186h5v4h-5zM548 203h4v4h-4zM535 225h4v4h-4z"/>
<path fill="#36a5ff" d="M513 190h5v4h-5zM496 276h4v4h-4z"/>
<path fill="#35b7ff" d="M518 190h4v4h-4zM539 203h4v4h-4zM535 229h4v4h-4zM453 242h4v4h-4zM457 250h5v5h-5zM513 268h5v4h-5zM487 289h5v4h-5zM509 336h4v5h-4zM479 500h4v4h-4zM646 508h5v5h-5zM616 517h5v4h-5z"/>
<path fill="#3790ff" d="M548 190h4v4h-4zM591 452h4v5h-4zM599 461h5v4h-5zM591 465h4v5h-4zM599 465h5v5h-5z"/>
<path fill="#368eff" d="M548 194h4v5h-4zM526 225h4v4h-4zM526 229h4v4h-4zM552 233h4v5h-4zM599 457h5v4h-5z"/>
<path fill="#1d23ff" d="M728 199h4v4h-4zM702 203h26v4h-26zM677 207h47v5h-47zM646 212h69v4h-69zM638 216h82v4h-82zM724 216h26v4h-26zM788 216h35v4h-35zM634 220h120v5h-120zM767 220h73v5h-73zM625 225h133v4h-133zM763 225h90v4h-90zM621 229h236v4h-236zM616 233h237v5h-237zM612 238h237v4h-237zM608 242h241v4h-241zM604 246h240v4h-240zM599 250h241v5h-241zM599 255h241v4h-241zM599 259h241v4h-241zM599 263h241v5h-241zM599 268h241v4h-241zM599 272h241v4h-241zM599 276h237v4h-237zM599 280h237v5h-237zM599 285h232v4h-232zM599 289h232v4h-232zM599 293h224v5h-224zM599 298h224v4h-224zM599 302h228v4h-228zM599 306h198v5h-198zM806 306h25v5h-25zM599 311h194v4h-194zM806 311h21v4h-21zM599 315h185v4h-185zM806 315h8v4h-8zM599 319h181v5h-181zM599 324h172v4h-172zM599 328h168v4h-168zM646 332h112v4h-112zM651 336h103v5h-103zM655 341h90v4h-90zM659 345h82v4h-82zM668 349h64v5h-64zM672 354h43v4h-43zM677 358h21v4h-21z"/>
<path fill="#379dff" d="M513 203h5v4h-5zM548 225h4v4h-4zM548 229h4v4h-4zM556 238h4v4h-4zM595 457h4v4h-4z"/>
<path fill="#31d9ff" d="M518 203h8v4h-8zM513 229h5v4h-5zM513 238h5v4h-5zM470 242h4v4h-4zM474 250h5v5h-5zM457 263h5v5h-5zM535 341h4v4h-4zM629 465h5v5h-5zM479 491h4v5h-4zM496 500h4v4h-4z"/>
<path fill="#35b6ff" d="M526 203h4v4h-4zM462 255h4v4h-4zM556 341h4v4h-4z"/>
<path fill="#34baff" d="M530 203h5v4h-5zM535 212h4v4h-4zM513 216h5v4h-5zM492 225h4v4h-4zM492 280h4v5h-4zM560 324h5v4h-5zM509 474h4v4h-4zM470 496h4v4h-4z"/>
<path fill="#34c1ff" d="M535 203h4v4h-4zM466 225h4v4h-4zM474 242h5v4h-5zM513 255h5v4h-5zM487 285h5v4h-5zM492 496h4v4h-4zM604 496h4v4h-4z"/>
<path fill="#37a1ff" d="M543 203h5v4h-5z"/>
<path fill="#30e0ff" d="M552 203h4v4h-4zM496 220h4v5h-4zM487 229h5v4h-5zM548 276h4v4h-4zM552 324h4v4h-4zM569 341h4v4h-4zM492 491h4v5h-4z"/>
<path fill="#33c7ff" d="M513 207h5v5h-5zM509 220h4v5h-4zM509 225h4v4h-4zM518 238h4v4h-4zM496 272h4v4h-4zM474 276h5v4h-5zM492 276h4v4h-4zM474 280h5v5h-5zM496 280h4v5h-4zM573 311h5v4h-5zM500 491h5v5h-5zM474 496h5v4h-5z"/>
<path fill="#378fff" d="M518 207h4v5h-4zM556 216h4v4h-4zM582 461h4v4h-4zM595 470h4v4h-4z"/>
<path fill="#37a3ff" d="M522 207h4v5h-4zM539 225h4v4h-4zM543 238h5v4h-5zM552 238h4v4h-4z"/>
<path fill="#35afff" d="M526 207h4v5h-4zM535 233h4v5h-4zM604 504h4v4h-4z"/>
<path fill="#32d2ff" d="M535 207h4v5h-4zM539 212h4v4h-4zM483 233h9v5h-9zM522 238h4v4h-4zM509 324h4v4h-4zM496 478h4v5h-4zM496 491h4v5h-4zM612 496h4v4h-4z"/>
<path fill="#35b0ff" d="M539 207h4v5h-4zM548 207h4v5h-4zM470 225h4v4h-4zM586 461h5v4h-5z"/>
<path fill="#3899ff" d="M543 207h5v5h-5zM595 461h4v4h-4z"/>
<path fill="#32d1ff" d="M552 207h4v5h-4zM505 220h4v5h-4zM492 233h4v5h-4zM526 242h4v4h-4zM492 255h4v4h-4zM496 293h4v5h-4zM518 302h4v4h-4zM578 311h4v4h-4zM505 474h4v4h-4zM646 474h5v4h-5zM604 491h4v5h-4zM655 500h4v4h-4zM616 530h5v4h-5z"/>
<path fill="#59ecdc" d="M505 212h4v4h-4z"/>
<path fill="#32cdff" d="M509 212h4v4h-4zM483 220h4v5h-4zM560 225h5v4h-5zM518 246h4v4h-4zM483 276h9v4h-9zM573 306h5v5h-5zM595 491h4v5h-4zM621 530h4v4h-4z"/>
<path fill="#33c6ff" d="M513 212h5v4h-5zM500 216h5v4h-5zM505 225h4v4h-4zM466 233h4v5h-4zM492 289h4v4h-4zM642 504h4v4h-4zM629 530h5v4h-5z"/>
<path fill="#368dff" d="M518 212h4v4h-4zM539 238h4v4h-4zM595 448h4v4h-4z"/>
<path fill="#368aff" d="M522 212h4v4h-4zM595 465h4v5h-4z"/>
<path fill="#34bdff" d="M526 212h4v4h-4zM543 216h5v4h-5zM513 263h5v5h-5zM578 302h4v4h-4zM505 332h4v4h-4zM569 332h4v4h-4zM505 470h4v4h-4zM616 491h5v5h-5z"/>
<path fill="#36a6ff" d="M543 212h5v4h-5zM535 238h4v4h-4zM505 354h4v4h-4z"/>
<path fill="#36acff" d="M552 212h4v4h-4zM530 220h5v5h-5zM612 504h4v4h-4z"/>
<path fill="#5feed8" d="M492 216h4v4h-4z"/>
<path fill="#31daff" d="M496 216h4v4h-4zM492 238h4v4h-4zM513 242h5v4h-5zM500 341h5v4h-5zM539 341h4v4h-4zM522 345h4v4h-4zM513 354h5v4h-5zM621 538h4v5h-4z"/>
<path fill="#32d5ff" d="M505 216h4v4h-4zM513 233h5v5h-5zM513 250h5v5h-5zM500 285h5v4h-5zM492 293h4v5h-4zM509 302h4v4h-4zM578 319h4v5h-4zM535 324h4v4h-4zM505 341h4v4h-4zM625 474h4v4h-4z"/>
<path fill="#34bfff" d="M509 216h4v4h-4zM466 229h4v4h-4zM500 496h5v4h-5zM629 508h5v5h-5z"/>
<path fill="#fff722" d="M518 216h4v4h-4zM509 246h4v4h-4zM586 268h5v4h-5z"/>
<path fill="#33c8ff" d="M526 216h4v4h-4zM552 225h4v4h-4zM530 238h5v4h-5zM530 345h5v4h-5zM616 500h5v4h-5zM599 504h5v4h-5zM629 513h5v4h-5z"/>
<path fill="#33cbff" d="M530 216h5v4h-5zM522 242h4v4h-4zM608 487h4v4h-4zM608 500h4v4h-4z"/>
<path fill="#36aeff" d="M535 216h4v4h-4zM608 461h4v4h-4z"/>
<path fill="#3895ff" d="M539 216h4v4h-4zM539 220h4v5h-4zM586 452h5v5h-5zM599 452h5v5h-5zM604 470h4v4h-4z"/>
<path fill="#35b2ff" d="M548 216h4v4h-4zM470 229h4v4h-4zM500 332h5v4h-5z"/>
<path fill="#36a8ff" d="M552 216h4v4h-4zM496 229h4v4h-4zM539 229h4v4h-4zM509 470h4v4h-4zM500 474h5v4h-5z"/>
<path fill="#34bcff" d="M479 220h4v5h-4zM543 225h5v4h-5zM496 487h4v4h-4zM474 491h5v5h-5zM470 500h4v4h-4zM487 500h5v4h-5zM625 526h4v4h-4z"/>
<path fill="#30e4ff" d="M487 220h5v5h-5zM505 233h4v5h-4zM556 242h4v4h-4zM470 246h4v4h-4zM470 250h4v5h-4zM462 263h4v5h-4zM552 332h4v4h-4z"/>
<path fill="#fff320" d="M492 220h4v5h-4zM505 250h4v5h-4zM526 250h4v5h-4zM573 250h5v5h-5zM453 276h4v4h-4zM539 332h4v4h-4z"/>
<path fill="#31deff" d="M500 220h5v5h-5zM522 229h4v4h-4zM470 280h4v5h-4zM487 280h5v5h-5zM509 280h4v5h-4zM505 289h4v4h-4zM552 336h4v5h-4zM625 470h4v4h-4z"/>
<path fill="#31dcff" d="M513 220h5v5h-5zM479 225h4v4h-4zM509 238h4v4h-4zM642 470h4v4h-4zM629 478h5v5h-5zM470 487h4v4h-4zM625 534h4v4h-4z"/>
<path fill="#389bff" d="M522 220h4v5h-4zM604 457h4v4h-4z"/>
<path fill="#35b5ff" d="M526 220h4v5h-4zM543 229h5v4h-5zM483 242h4v4h-4zM509 319h4v5h-4zM599 496h5v4h-5zM634 530h4v4h-4z"/>
<path fill="#34bbff" d="M548 220h4v5h-4zM543 233h5v5h-5zM509 272h4v4h-4zM513 336h5v5h-5zM487 496h5v4h-5zM651 500h4v4h-4zM616 534h5v4h-5z"/>
<path fill="#3791ff" d="M552 220h4v5h-4zM539 233h4v5h-4z"/>
<path fill="#37a2ff" d="M556 220h4v5h-4zM582 452h4v5h-4zM612 461h4v4h-4zM487 491h5v5h-5z"/>
<path fill="#368bff" d="M560 220h5v5h-5z"/>
<path fill="#31e4fe" d="M474 225h5v4h-5zM483 225h4v4h-4zM509 255h4v4h-4zM565 332h4v4h-4zM612 465h4v5h-4zM616 474h5v4h-5z"/>
<path fill="#31ddff" d="M487 225h5v4h-5zM565 242h4v4h-4zM505 246h4v4h-4zM505 276h4v4h-4zM548 324h4v4h-4zM573 324h5v4h-5zM552 345h4v4h-4zM634 478h4v5h-4zM526 483h4v4h-4zM599 491h5v5h-5zM621 534h4v4h-4z"/>
<path fill="#33c9ff" d="M496 225h4v4h-4zM556 225h4v4h-4zM560 229h5v4h-5zM496 268h4v4h-4zM492 272h4v4h-4zM543 324h5v4h-5zM500 354h5v4h-5zM518 461h4v4h-4zM638 474h4v4h-4zM492 478h4v5h-4z"/>
<path fill="#39e6f7" d="M500 225h5v4h-5zM479 229h4v4h-4zM509 311h4v4h-4z"/>
<path fill="#33c3ff" d="M513 225h5v4h-5zM560 354h5v4h-5zM474 500h5v4h-5zM638 504h4v4h-4z"/>
<path fill="#68efd0" d="M518 225h4v4h-4zM535 242h4v4h-4zM479 272h4v4h-4zM552 289h4v4h-4z"/>
<path fill="#32ceff" d="M522 225h4v4h-4zM513 246h5v4h-5zM492 268h4v4h-4zM509 332h4v4h-4zM535 336h4v5h-4zM526 341h4v4h-4zM505 487h4v4h-4zM625 530h4v4h-4z"/>
<path fill="#31d6ff" d="M474 229h5v4h-5zM496 233h4v5h-4zM518 233h4v5h-4zM556 324h4v4h-4zM530 332h5v4h-5zM474 487h5v4h-5z"/>
<path fill="#37e6f9" d="M483 229h4v4h-4z"/>
<path fill="#35aeff" d="M492 229h4v4h-4zM604 461h4v4h-4z"/>
<path fill="#30dfff" d="M500 229h5v4h-5zM483 263h4v5h-4z"/>
<path fill="#32d0ff" d="M505 229h4v4h-4zM470 238h4v4h-4zM466 242h4v4h-4zM552 242h4v4h-4zM560 242h5v4h-5zM492 259h4v4h-4zM513 276h5v4h-5zM513 302h5v4h-5zM573 315h5v4h-5zM505 483h4v4h-4zM591 487h4v4h-4zM608 491h4v5h-4zM646 513h5v4h-5z"/>
<path fill="#f1ff3c" d="M509 229h4v4h-4zM457 280h5v5h-5zM496 298h4v4h-4zM453 487h4v4h-4zM621 504h4v4h-4z"/>
<path fill="#4beae8" d="M518 229h4v4h-4zM466 280h4v5h-4zM642 465h4v5h-4z"/>
<path fill="#3793ff" d="M530 229h5v4h-5z"/>
<path fill="#36a7ff" d="M556 229h4v4h-4zM479 280h4v5h-4zM483 285h4v4h-4zM500 483h5v4h-5z"/>
<path fill="#31dbff" d="M462 233h4v5h-4zM462 238h4v4h-4zM470 285h4v4h-4zM500 298h5v4h-5zM573 302h5v4h-5zM608 470h4v4h-4zM634 470h4v4h-4zM642 474h4v4h-4zM518 491h4v5h-4zM492 500h4v4h-4z"/>
<path fill="#32cfff" d="M470 233h4v5h-4zM449 250h4v5h-4zM621 474h4v4h-4zM651 474h4v4h-4zM487 478h5v5h-5zM500 478h5v5h-5zM479 496h4v4h-4zM496 496h4v4h-4zM616 521h5v5h-5z"/>
<path fill="#43e8ef" d="M474 233h5v5h-5zM543 276h5v4h-5zM543 332h5v4h-5z"/>
<path fill="#4ceae7" d="M479 233h4v5h-4z"/>
<path fill="#46e8ed" d="M500 233h5v5h-5zM638 513h4v4h-4z"/>
<path fill="#3be6f6" d="M509 233h4v5h-4zM509 298h4v4h-4zM560 328h5v4h-5zM487 487h5v4h-5z"/>
<path fill="#36e5fa" d="M522 233h4v5h-4zM487 238h5v4h-5zM479 263h4v5h-4zM500 280h5v5h-5zM518 349h4v5h-4zM474 483h5v4h-5z"/>
<path fill="#36abff" d="M526 233h4v5h-4zM526 238h4v4h-4zM500 500h5v4h-5z"/>
<path fill="#fff420" d="M530 233h5v5h-5zM466 246h4v4h-4zM530 246h5v4h-5zM552 263h4v5h-4zM466 276h4v4h-4z"/>
<path fill="#379bff" d="M556 233h4v5h-4z"/>
<path fill="#32d4ff" d="M560 233h5v5h-5zM509 341h4v4h-4zM543 341h5v4h-5zM470 491h4v5h-4z"/>
<path fill="#2132ff" d="M440 238h17v4h-17zM419 242h4v4h-4zM436 242h17v4h-17zM414 246h39v4h-39zM582 246h9v4h-9zM410 250h39v5h-39zM586 250h13v5h-13zM410 255h39v4h-39zM591 255h8v4h-8zM410 259h39v4h-39zM595 259h4v4h-4zM410 263h39v5h-39zM595 263h4v5h-4zM410 268h43v4h-43zM591 268h8v4h-8zM406 272h47v4h-47zM582 272h17v4h-17zM406 276h47v4h-47zM578 276h21v4h-21zM406 280h47v5h-47zM578 280h21v5h-21zM406 285h47v4h-47zM578 285h21v4h-21zM406 289h81v4h-81zM578 289h21v4h-21zM414 293h78v5h-78zM578 293h21v5h-21zM419 298h77v4h-77zM582 298h17v4h-17zM419 302h90v4h-90zM582 302h17v4h-17zM419 306h86v5h-86zM582 306h17v5h-17zM423 311h82v4h-82zM582 311h17v4h-17zM427 315h78v4h-78zM582 315h17v4h-17zM427 319h78v5h-78zM582 319h17v5h-17zM432 324h73v4h-73zM578 324h21v4h-21zM436 328h69v4h-69zM573 328h26v4h-26zM436 332h64v4h-64zM573 332h26v4h-26zM436 336h64v5h-64zM573 336h26v5h-26zM436 341h60v4h-60zM573 341h26v4h-26zM440 345h56v4h-56zM535 345h13v4h-13zM573 345h18v4h-18zM440 349h60v5h-60zM526 349h30v5h-30zM569 349h4v5h-4zM440 354h60v4h-60zM522 354h34v4h-34zM440 358h99v4h-99zM444 362h52v4h-52zM518 362h4v4h-4zM444 366h48v5h-48zM453 371h30v4h-30zM462 375h17v4h-17z"/>
<path fill="#4ae9e9" d="M457 238h5v4h-5zM543 242h5v4h-5z"/>
<path fill="#30e3ff" d="M466 238h4v4h-4zM496 259h9v4h-9zM565 324h4v4h-4zM560 345h5v4h-5zM616 465h5v5h-5zM604 487h4v4h-4zM621 491h4v5h-4z"/>
<path fill="#33e5fd" d="M474 238h5v4h-5zM509 354h4v4h-4zM509 478h4v5h-4z"/>
<path fill="#58ecdd" d="M479 238h4v4h-4zM569 324h4v4h-4zM513 349h5v5h-5z"/>
<path fill="#35e5fb" d="M483 238h4v4h-4zM457 242h5v4h-5zM505 319h4v5h-4zM505 336h4v5h-4zM483 487h4v4h-4z"/>
<path fill="#faff2f" d="M496 238h4v4h-4zM496 289h4v4h-4zM552 319h4v5h-4zM642 496h4v4h-4z"/>
<path fill="#57ecdf" d="M500 238h5v4h-5z"/>
<path fill="#42e8f0" d="M505 238h4v4h-4zM479 483h4v4h-4z"/>
<path fill="#37a0ff" d="M548 238h4v4h-4z"/>
<path fill="#35b1ff" d="M560 238h5v4h-5zM513 272h5v4h-5zM483 500h4v4h-4z"/>
<path fill="#57ecde" d="M462 242h4v4h-4zM500 263h5v5h-5zM483 483h4v4h-4z"/>
<path fill="#f4ff37" d="M479 242h4v4h-4zM522 246h4v4h-4zM509 250h4v5h-4zM569 306h4v5h-4zM453 483h4v4h-4zM642 487h4v4h-4zM621 508h4v5h-4z"/>
<path fill="#d6ff60" d="M487 242h5v4h-5zM440 452h4v5h-4z"/>
<path fill="#ceff6c" d="M492 242h4v4h-4z"/>
<path fill="#c6ff78" d="M496 242h4v4h-4z"/>
<path fill="#e2ff51" d="M500 242h5v4h-5zM470 478h4v5h-4z"/>
<path fill="#eaff46" d="M505 242h4v4h-4z"/>
<path fill="#fff01e" d="M509 242h4v4h-4zM466 263h4v5h-4zM569 268h4v4h-4zM548 302h4v4h-4z"/>
<path fill="#32d3ff" d="M518 242h4v4h-4zM530 242h5v4h-5zM560 285h5v4h-5zM655 474h4v4h-4zM621 517h4v4h-4zM621 526h4v4h-4z"/>
<path fill="#6bf0cd" d="M539 242h4v4h-4z"/>
<path fill="#32e4fd" d="M548 242h4v4h-4zM487 250h5v5h-5zM552 328h4v4h-4z"/>
<path fill="#f9ff30" d="M453 246h4v4h-4zM474 255h5v4h-5zM651 508h4v5h-4z"/>
<path fill="#4feae5" d="M457 246h5v4h-5z"/>
<path fill="#ffd50c" d="M462 246h4v4h-4zM513 324h5v4h-5z"/>
<path fill="#e4ff4e" d="M474 246h5v4h-5zM565 263h4v5h-4z"/>
<path fill="#ecff43" d="M479 246h4v4h-4z"/>
<path fill="#ffca04" d="M483 246h4v4h-4zM530 293h5v5h-5z"/>
<path fill="#ffd209" d="M487 246h5v4h-5z"/>
<path fill="#ffc903" d="M492 246h4v4h-4z"/>
<path fill="#f0ff3d" d="M496 246h4v4h-4zM556 246h4v4h-4zM582 255h4v4h-4zM530 324h5v4h-5zM638 487h4v4h-4z"/>
<path fill="#dbff5a" d="M500 246h5v4h-5z"/>
<path fill="#e2ff50" d="M526 246h4v4h-4zM453 474h4v4h-4z"/>
<path fill="#ffe315" d="M535 246h4v4h-4zM539 324h4v4h-4z"/>
<path fill="#ff1414" d="M539 246h13v4h-13zM569 246h4v4h-4zM530 250h13v5h-13zM535 255h4v4h-4zM526 259h4v4h-4zM539 259h17v4h-17zM573 259h9v4h-9zM518 263h4v5h-4zM539 263h13v5h-13zM573 263h13v5h-13zM518 268h4v4h-4zM518 272h4v4h-4zM518 276h4v4h-4zM522 289h8v4h-8zM513 298h13v4h-13zM500 444h9v4h-9zM474 457h5v4h-5zM474 461h5v4h-5zM474 465h5v5h-5zM466 470h13v4h-13zM462 474h17v4h-17z"/>
<path fill="#ffe013" d="M552 246h4v4h-4zM453 259h4v4h-4zM569 319h4v5h-4z"/>
<path fill="#fff723" d="M560 246h5v4h-5zM479 250h4v5h-4zM548 250h4v5h-4zM586 259h5v4h-5zM462 272h4v4h-4zM543 272h5v4h-5zM509 293h4v5h-4z"/>
<path fill="#d6ff61" d="M565 246h4v4h-4zM444 470h5v4h-5z"/>
<path fill="#ffdb0f" d="M573 246h5v4h-5z"/>
<path fill="#30e1ff" d="M578 246h4v4h-4zM565 285h4v4h-4zM612 474h4v4h-4zM483 478h4v5h-4z"/>
<path fill="#fff521" d="M453 250h4v5h-4zM462 268h4v4h-4zM470 276h4v4h-4zM526 332h4v4h-4z"/>
<path fill="#cdff6e" d="M462 250h4v5h-4zM470 461h4v4h-4z"/>
<path fill="#f3ff38" d="M466 250h4v5h-4zM457 255h5v4h-5zM462 487h4v4h-4z"/>
<path fill="#ffd90e" d="M483 250h4v5h-4zM453 263h4v5h-4zM470 272h4v4h-4z"/>
<path fill="#ffe214" d="M492 250h4v5h-4zM505 255h4v4h-4zM543 306h5v5h-5zM522 324h4v4h-4zM518 345h4v4h-4z"/>
<path fill="#f8ff31" d="M496 250h4v5h-4zM655 508h4v5h-4z"/>
<path fill="#fffc26" d="M500 250h5v5h-5zM526 263h4v5h-4zM466 268h4v4h-4zM646 487h5v4h-5z"/>
<path fill="#ffe617" d="M518 250h4v5h-4z"/>
<path fill="#ffde11" d="M522 250h4v5h-4z"/>
<path fill="#faff2e" d="M543 250h5v5h-5zM474 259h5v4h-5zM565 306h4v5h-4z"/>
<path fill="#cbff70" d="M552 250h4v5h-4zM470 452h4v5h-4zM492 470h4v4h-4z"/>
<path fill="#fcff2d" d="M556 250h4v5h-4z"/>
<path fill="#d9ff5d" d="M560 250h5v5h-5zM466 478h4v5h-4z"/>
<path fill="#d3ff65" d="M565 250h4v5h-4zM453 465h4v5h-4z"/>
<path fill="#ffdd11" d="M569 250h4v5h-4zM522 255h4v4h-4zM470 259h4v4h-4zM449 263h4v5h-4zM569 263h4v5h-4zM539 268h4v4h-4zM539 272h4v4h-4zM530 302h5v4h-5zM565 315h4v4h-4zM522 319h4v5h-4zM535 319h4v5h-4z"/>
<path fill="#d1ff68" d="M578 250h4v5h-4zM432 457h4v4h-4zM483 474h4v4h-4z"/>
<path fill="#caff71" d="M582 250h4v5h-4z"/>
<path fill="#31d7ff" d="M449 255h4v4h-4zM509 276h4v4h-4zM530 328h5v4h-5zM569 328h4v4h-4zM500 336h5v5h-5zM569 336h4v5h-4zM509 349h4v5h-4zM655 465h4v5h-4zM621 478h4v5h-4zM500 487h5v4h-5zM595 496h4v4h-4zM629 504h5v4h-5zM638 508h4v5h-4z"/>
<path fill="#fff421" d="M453 255h4v4h-4zM560 315h5v4h-5z"/>
<path fill="#feff2a" d="M466 255h4v4h-4z"/>
<path fill="#dcff58" d="M470 255h4v4h-4zM487 444h5v4h-5zM466 457h4v4h-4z"/>
<path fill="#ffc702" d="M479 255h4v4h-4z"/>
<path fill="#ffba00" d="M483 255h4v4h-4zM539 298h4v4h-4zM530 306h5v5h-5z"/>
<path fill="#ffde12" d="M487 255h5v4h-5zM535 298h4v4h-4zM543 302h5v4h-5z"/>
<path fill="#fff21f" d="M496 255h4v4h-4z"/>
<path fill="#ffeb1a" d="M500 255h5v4h-5zM522 259h4v4h-4zM530 263h5v5h-5z"/>
<path fill="#ffc300" d="M518 255h4v4h-4zM513 289h5v4h-5z"/>
<path fill="#ffee1c" d="M526 255h4v4h-4zM552 306h4v5h-4zM556 315h4v4h-4zM530 319h5v5h-5z"/>
<path fill="#fffd27" d="M530 255h5v4h-5zM616 483h5v4h-5zM634 487h4v4h-4z"/>
<path fill="#ffe819" d="M539 255h4v4h-4zM573 272h5v4h-5z"/>
<path fill="#d4ff64" d="M543 255h5v4h-5z"/>
<path fill="#d0ff69" d="M548 255h4v4h-4zM578 255h4v4h-4z"/>
<path fill="#cfff6a" d="M552 255h4v4h-4z"/>
<path fill="#ebff44" d="M556 255h4v4h-4zM457 285h5v4h-5zM449 487h4v4h-4z"/>
<path fill="#d4ff63" d="M560 255h5v4h-5zM440 457h4v4h-4zM440 465h4v5h-4zM457 470h5v4h-5z"/>
<path fill="#d8ff5e" d="M565 255h4v4h-4zM432 465h4v5h-4zM449 474h4v4h-4z"/>
<path fill="#ffd008" d="M569 255h4v4h-4zM552 268h4v4h-4zM530 298h5v4h-5zM539 315h4v4h-4z"/>
<path fill="#ffdf12" d="M573 255h5v4h-5zM578 268h4v4h-4z"/>
<path fill="#ffdc11" d="M586 255h5v4h-5z"/>
<path fill="#ffcd06" d="M449 259h4v4h-4zM556 268h4v4h-4z"/>
<path fill="#fff11f" d="M457 259h5v4h-5z"/>
<path fill="#f7ff32" d="M462 259h4v4h-4z"/>
<path fill="#f5ff36" d="M466 259h4v4h-4zM457 276h5v4h-5zM449 483h4v4h-4zM634 491h4v5h-4zM651 491h4v5h-4z"/>
<path fill="#ffc803" d="M479 259h4v4h-4zM535 293h4v5h-4z"/>
<path fill="#ffc904" d="M483 259h4v4h-4z"/>
<path fill="#38e6f8" d="M487 259h5v4h-5zM505 268h4v4h-4zM483 272h4v4h-4zM500 289h5v4h-5zM548 289h4v4h-4zM646 465h5v5h-5z"/>
<path fill="#fffb25" d="M505 259h4v4h-4z"/>
<path fill="#e1ff52" d="M509 259h4v4h-4zM453 478h4v5h-4z"/>
<path fill="#33caff" d="M513 259h5v4h-5zM509 268h4v4h-4zM539 276h4v4h-4zM483 280h4v5h-4zM522 341h4v4h-4zM569 345h4v4h-4zM616 526h5v4h-5z"/>
<path fill="#ffea1a" d="M518 259h4v4h-4zM535 302h4v4h-4z"/>
<path fill="#fbff2e" d="M530 259h5v4h-5zM492 285h4v4h-4zM642 491h4v5h-4z"/>
<path fill="#f9ff31" d="M535 259h4v4h-4zM565 319h4v5h-4z"/>
<path fill="#fffd26" d="M556 259h4v4h-4z"/>
<path fill="#deff56" d="M560 259h5v4h-5zM436 461h4v4h-4zM462 483h4v4h-4zM453 491h4v5h-4z"/>
<path fill="#d2ff66" d="M565 259h4v4h-4zM453 272h4v4h-4zM457 465h5v5h-5z"/>
<path fill="#ffc000" d="M569 259h4v4h-4z"/>
<path fill="#ffdc10" d="M582 259h4v4h-4zM573 268h5v4h-5zM535 306h4v5h-4zM518 319h4v5h-4z"/>
<path fill="#fff622" d="M591 259h4v4h-4z"/>
<path fill="#ffeb1b" d="M470 263h4v5h-4zM560 268h5v4h-5zM565 311h4v4h-4z"/>
<path fill="#e8ff48" d="M474 263h5v5h-5zM560 306h5v5h-5zM556 311h4v4h-4z"/>
<path fill="#3fe7f2" d="M487 263h5v5h-5zM500 272h5v4h-5zM548 298h4v4h-4z"/>
<path fill="#4eeae5" d="M492 263h4v5h-4z"/>
<path fill="#44e8ee" d="M496 263h4v5h-4zM560 293h5v5h-5zM479 487h4v4h-4z"/>
<path fill="#52ebe2" d="M505 263h4v5h-4zM505 280h4v5h-4zM552 298h4v4h-4z"/>
<path fill="#32ccff" d="M509 263h4v5h-4zM608 465h4v5h-4zM621 513h4v4h-4zM616 538h5v5h-5z"/>
<path fill="#ffdf13" d="M522 263h4v5h-4z"/>
<path fill="#fcff2c" d="M535 263h4v5h-4zM638 491h4v5h-4z"/>
<path fill="#ffe114" d="M556 263h4v5h-4zM539 280h4v5h-4z"/>
<path fill="#fffa24" d="M560 263h5v5h-5zM470 268h4v4h-4z"/>
<path fill="#ffd60c" d="M586 263h5v5h-5z"/>
<path fill="#ffd50b" d="M591 263h4v5h-4z"/>
<path fill="#f8ff32" d="M453 268h4v4h-4zM625 517h4v4h-4z"/>
<path fill="#74f2c6" d="M457 268h5v4h-5zM509 315h4v4h-4z"/>
<path fill="#ffe919" d="M474 268h5v4h-5zM569 302h4v4h-4z"/>
<path fill="#64efd3" d="M479 268h8v4h-8zM552 276h4v4h-4z"/>
<path fill="#3ae6f7" d="M487 268h5v4h-5z"/>
<path fill="#4deae7" d="M500 268h5v4h-5zM642 508h4v5h-4z"/>
<path fill="#ff6604" d="M522 268h4v4h-4z"/>
<path fill="#ffee1d" d="M526 268h4v4h-4zM560 311h5v4h-5z"/>
<path fill="#ffe416" d="M530 268h9v4h-9zM453 280h4v5h-4z"/>
<path fill="#e9ff46" d="M543 268h5v4h-5zM470 483h4v4h-4z"/>
<path fill="#ffff28" d="M548 268h4v4h-4zM462 285h4v4h-4zM560 302h5v4h-5zM496 448h9v4h-9zM444 483h5v4h-5zM651 487h4v4h-4z"/>
<path fill="#ffd70d" d="M565 268h4v4h-4zM457 272h5v4h-5zM513 328h5v4h-5z"/>
<path fill="#fffb26" d="M582 268h4v4h-4zM552 315h4v4h-4zM518 336h4v5h-4z"/>
<path fill="#ffcb05" d="M466 272h4v4h-4z"/>
<path fill="#ffef1d" d="M474 272h5v4h-5z"/>
<path fill="#47e9eb" d="M487 272h5v4h-5zM543 336h5v5h-5z"/>
<path fill="#30e2ff" d="M505 272h4v4h-4zM496 285h4v4h-4zM509 285h4v4h-4zM500 293h5v5h-5zM548 293h4v5h-4zM565 293h4v5h-4zM543 328h5v4h-5zM625 465h4v5h-4zM612 470h4v4h-4zM492 474h4v4h-4zM509 483h4v4h-4z"/>
<path fill="#ff7a00" d="M522 272h4v4h-4zM518 285h4v4h-4z"/>
<path fill="#ff9200" d="M526 272h4v4h-4z"/>
<path fill="#ff9f00" d="M530 272h5v4h-5zM513 306h5v5h-5zM526 311h4v4h-4z"/>
<path fill="#ffd80e" d="M535 272h4v4h-4z"/>
<path fill="#31dfff" d="M548 272h4v4h-4zM505 293h4v5h-4zM616 470h5v4h-5z"/>
<path fill="#84f5b8" d="M552 272h4v4h-4zM573 298h5v4h-5z"/>
<path fill="#b7ff8c" d="M556 272h4v4h-4zM479 448h4v4h-4z"/>
<path fill="#8ff7af" d="M560 272h5v4h-5zM569 285h4v4h-4z"/>
<path fill="#9dfaa3" d="M565 272h4v4h-4zM492 457h4v4h-4z"/>
<path fill="#60eed7" d="M569 272h4v4h-4z"/>
<path fill="#fff823" d="M578 272h4v4h-4zM556 319h4v5h-4z"/>
<path fill="#ccff6f" d="M462 276h4v4h-4zM466 461h4v4h-4zM487 461h5v4h-5z"/>
<path fill="#37a4ff" d="M479 276h4v4h-4zM651 504h4v4h-4z"/>
<path fill="#46e9ec" d="M500 276h5v4h-5zM651 465h4v5h-4z"/>
<path fill="#ff8700" d="M522 276h4v4h-4zM457 457h5v4h-5z"/>
<path fill="#ff8900" d="M526 276h4v4h-4z"/>
<path fill="#ff9500" d="M530 276h5v4h-5z"/>
<path fill="#dfff55" d="M535 276h4v4h-4zM449 478h4v5h-4z"/>
<path fill="#4eeae6" d="M556 276h4v4h-4z"/>
<path fill="#73f2c6" d="M560 276h5v4h-5z"/>
<path fill="#b6ff8d" d="M565 276h4v4h-4z"/>
<path fill="#91f8ad" d="M569 276h4v4h-4z"/>
<path fill="#7cf4bf" d="M573 276h5v4h-5z"/>
<path fill="#daff5b" d="M462 280h4v5h-4zM470 448h4v4h-4z"/>
<path fill="#ffa400" d="M513 280h5v5h-5zM513 315h5v4h-5z"/>
<path fill="#ff7e00" d="M518 280h4v5h-4z"/>
<path fill="#ff7700" d="M522 280h4v5h-4z"/>
<path fill="#ffaa00" d="M526 280h4v5h-4zM513 285h5v4h-5z"/>
<path fill="#ffa200" d="M530 280h5v5h-5z"/>
<path fill="#ffcb04" d="M535 280h4v5h-4z"/>
<path fill="#ff9e00" d="M543 280h5v5h-5z"/>
<path fill="#7bf3c0" d="M548 280h4v5h-4z"/>
<path fill="#72f1c8" d="M552 280h4v5h-4z"/>
<path fill="#7cf3bf" d="M556 280h4v5h-4z"/>
<path fill="#abfd98" d="M560 280h5v5h-5z"/>
<path fill="#b8ff8b" d="M565 280h4v5h-4z"/>
<path fill="#61eed6" d="M569 280h4v5h-4z"/>
<path fill="#61eed5" d="M573 280h5v5h-5z"/>
<path fill="#ffe516" d="M453 285h4v4h-4z"/>
<path fill="#eaff45" d="M466 285h4v4h-4zM552 302h4v4h-4z"/>
<path fill="#34b8ff" d="M474 285h5v4h-5zM625 508h4v5h-4z"/>
<path fill="#34b9ff" d="M479 285h4v4h-4zM505 328h4v4h-4zM518 354h4v4h-4z"/>
<path fill="#45e8ee" d="M505 285h4v4h-4z"/>
<path fill="#ffa800" d="M522 285h4v4h-4zM522 311h4v4h-4z"/>
<path fill="#ff7c00" d="M526 285h4v4h-4z"/>
<path fill="#ff8200" d="M530 285h5v4h-5z"/>
<path fill="#ffb700" d="M535 285h4v4h-4z"/>
<path fill="#ffb400" d="M539 285h4v4h-4z"/>
<path fill="#ff9c00" d="M543 285h5v4h-5zM530 289h5v4h-5zM539 289h4v4h-4zM518 306h4v5h-4zM513 311h5v4h-5z"/>
<path fill="#7df4be" d="M548 285h4v4h-4zM505 311h4v4h-4z"/>
<path fill="#34e5fb" d="M552 285h4v4h-4zM565 298h4v4h-4z"/>
<path fill="#68f0d0" d="M556 285h4v4h-4z"/>
<path fill="#5eedd8" d="M573 285h5v4h-5zM522 302h4v4h-4z"/>
<path fill="#47e9ec" d="M509 289h4v4h-4zM518 324h4v4h-4z"/>
<path fill="#ff6c02" d="M518 289h4v4h-4z"/>
<path fill="#ff9d00" d="M535 289h4v4h-4zM543 315h5v4h-5z"/>
<path fill="#ff9300" d="M543 289h5v4h-5zM513 293h5v5h-5zM526 306h4v5h-4z"/>
<path fill="#6af0ce" d="M556 289h4v4h-4z"/>
<path fill="#31d5ff" d="M560 289h5v4h-5zM518 341h4v4h-4zM625 478h4v5h-4z"/>
<path fill="#3fe7f3" d="M565 289h4v4h-4zM539 306h4v5h-4zM496 345h4v4h-4z"/>
<path fill="#6ef1cb" d="M569 289h4v4h-4zM535 332h4v4h-4z"/>
<path fill="#5dedd9" d="M573 289h5v4h-5zM565 328h4v4h-4zM560 341h5v4h-5z"/>
<path fill="#ff410b" d="M518 293h4v5h-4z"/>
<path fill="#ff1813" d="M522 293h4v5h-4z"/>
<path fill="#ffb000" d="M526 293h4v5h-4z"/>
<path fill="#ffdb10" d="M539 293h4v5h-4zM539 302h4v4h-4z"/>
<path fill="#ffbf00" d="M543 293h5v5h-5z"/>
<path fill="#a8fd9a" d="M552 293h4v5h-4z"/>
<path fill="#89f6b4" d="M556 293h4v5h-4zM565 341h4v4h-4z"/>
<path fill="#6ff1ca" d="M569 293h4v5h-4zM548 328h4v4h-4z"/>
<path fill="#7ef4bd" d="M573 293h5v5h-5z"/>
<path fill="#31d8ff" d="M505 298h4v4h-4zM646 470h5v4h-5zM496 474h4v4h-4zM634 474h4v4h-4zM638 478h4v5h-4zM612 491h4v5h-4zM616 513h5v4h-5z"/>
<path fill="#ffb200" d="M526 298h4v4h-4zM526 315h4v4h-4z"/>
<path fill="#ffb800" d="M543 298h5v4h-5zM539 319h4v5h-4z"/>
<path fill="#7ff4bd" d="M556 298h4v4h-4zM556 328h4v4h-4z"/>
<path fill="#45e8ed" d="M560 298h5v4h-5zM629 474h5v4h-5z"/>
<path fill="#9efaa3" d="M569 298h4v4h-4zM487 452h5v5h-5z"/>
<path fill="#a2fb9f" d="M578 298h4v4h-4zM479 478h4v5h-4z"/>
<path fill="#ffc100" d="M526 302h4v4h-4zM526 319h4v5h-4zM543 319h5v5h-5z"/>
<path fill="#e0ff54" d="M556 302h4v4h-4z"/>
<path fill="#fff11e" d="M565 302h4v4h-4z"/>
<path fill="#3ee7f3" d="M505 306h4v5h-4z"/>
<path fill="#56ecdf" d="M509 306h4v5h-4zM638 465h4v5h-4z"/>
<path fill="#ff9a00" d="M522 306h4v5h-4z"/>
<path fill="#ffe215" d="M548 306h4v5h-4z"/>
<path fill="#eeff3f" d="M556 306h4v5h-4zM552 311h4v4h-4zM457 483h5v4h-5zM646 491h5v5h-5z"/>
<path fill="#34beff" d="M578 306h4v5h-4zM513 341h5v4h-5zM616 508h5v5h-5z"/>
<path fill="#ff9b00" d="M518 311h4v4h-4z"/>
<path fill="#ffbd00" d="M530 311h5v4h-5zM548 311h4v4h-4z"/>
<path fill="#ffec1b" d="M535 311h4v4h-4zM522 328h4v4h-4z"/>
<path fill="#33c4ff" d="M539 311h4v4h-4zM509 328h4v4h-4zM556 336h4v5h-4zM655 470h4v4h-4zM612 487h4v4h-4zM483 491h4v5h-4zM483 496h4v4h-4zM629 517h9v4h-9zM629 534h5v4h-5zM625 538h4v5h-4z"/>
<path fill="#ffbc00" d="M543 311h5v4h-5z"/>
<path fill="#e5ff4c" d="M569 311h4v4h-4zM466 483h4v4h-4z"/>
<path fill="#5eedd9" d="M505 315h4v4h-4z"/>
<path fill="#ffaf00" d="M518 315h4v4h-4z"/>
<path fill="#ffa700" d="M522 315h4v4h-4z"/>
<path fill="#ffd40b" d="M530 315h5v4h-5zM539 336h4v5h-4z"/>
<path fill="#e7ff49" d="M535 315h4v4h-4zM487 474h5v4h-5z"/>
<path fill="#ff9400" d="M548 315h4v4h-4z"/>
<path fill="#f2ff3a" d="M569 315h4v4h-4zM646 496h5v4h-5z"/>
<path fill="#33c5ff" d="M578 315h4v4h-4zM522 349h4v5h-4zM608 504h4v4h-4z"/>
<path fill="#ffc501" d="M548 319h4v5h-4zM513 332h9v4h-9z"/>
<path fill="#ebff43" d="M560 319h5v5h-5z"/>
<path fill="#5feed7" d="M573 319h5v5h-5zM496 341h4v4h-4zM513 345h5v4h-5zM556 345h4v4h-4z"/>
<path fill="#55ece0" d="M505 324h4v4h-4zM565 345h4v4h-4zM642 513h4v4h-4z"/>
<path fill="#ffbb00" d="M526 324h4v4h-4z"/>
<path fill="#48e9eb" d="M518 328h4v4h-4zM621 470h4v4h-4z"/>
<path fill="#ffbe00" d="M526 328h4v4h-4z"/>
<path fill="#32e4fe" d="M535 328h4v4h-4z"/>
<path fill="#ffcf07" d="M539 328h4v4h-4z"/>
<path fill="#63eed4" d="M522 332h4v4h-4zM556 349h4v5h-4z"/>
<path fill="#4be9e9" d="M548 332h4v4h-4z"/>
<path fill="#79f3c1" d="M556 332h4v4h-4z"/>
<path fill="#3de7f4" d="M560 332h5v4h-5z"/>
<path fill="#c3ff7b" d="M522 336h4v5h-4zM505 448h4v4h-4zM487 457h5v4h-5zM449 461h4v4h-4zM440 478h4v5h-4z"/>
<path fill="#e6ff4a" d="M526 336h4v5h-4z"/>
<path fill="#b3ff91" d="M530 336h5v5h-5z"/>
<path fill="#51ebe3" d="M548 336h4v5h-4zM599 487h5v4h-5z"/>
<path fill="#88f6b5" d="M560 336h5v5h-5z"/>
<path fill="#69f0cf" d="M565 336h4v5h-4z"/>
<path fill="#34c2ff" d="M530 341h5v4h-5zM608 474h4v4h-4zM496 483h4v4h-4zM634 513h4v4h-4z"/>
<path fill="#40e7f1" d="M548 341h4v4h-4z"/>
<path fill="#35b4ff" d="M552 341h4v4h-4zM513 465h9v5h-9z"/>
<path fill="#71f1c8" d="M500 345h5v4h-5z"/>
<path fill="#80f4bc" d="M505 345h4v4h-4z"/>
<path fill="#70f1c9" d="M509 345h4v4h-4z"/>
<path fill="#54ebe1" d="M526 345h4v4h-4zM621 465h4v5h-4z"/>
<path fill="#73f2c7" d="M548 345h4v4h-4z"/>
<path fill="#7af3c1" d="M500 349h5v5h-5zM565 349h4v5h-4z"/>
<path fill="#3ce6f5" d="M505 349h4v5h-4z"/>
<path fill="#41e7f1" d="M560 349h5v5h-5z"/>
<path fill="#2d61ff" d="M646 379h5v5h-5zM646 384h5v4h-5zM552 397h8v4h-8zM629 397h5v4h-5zM634 414h4v4h-4zM651 414h4v4h-4zM530 422h5v5h-5zM565 427h4v4h-4zM578 427h4v4h-4zM560 444h5v4h-5zM518 448h4v4h-4zM565 448h4v4h-4zM560 452h5v5h-5zM625 452h4v5h-4zM530 465h5v5h-5zM565 465h4v5h-4zM530 470h5v4h-5zM522 474h4v4h-4zM690 474h4v4h-4zM552 483h4v4h-4zM552 487h4v4h-4zM509 491h4v5h-4zM552 496h4v4h-4zM483 504h4v4h-4zM505 504h4v4h-4z"/>
<path fill="#2d60ff" d="M552 384h4v4h-4zM552 388h4v4h-4zM556 392h4v5h-4zM634 397h4v4h-4zM672 414h5v4h-5zM625 431h4v4h-4zM526 444h4v4h-4zM569 448h4v4h-4zM685 474h5v4h-5zM582 478h4v5h-4zM655 478h4v5h-4zM672 478h5v5h-5zM556 500h4v4h-4zM556 504h4v4h-4zM569 517h4v4h-4z"/>
<path fill="#2c5eff" d="M556 384h4v4h-4zM629 401h5v4h-5zM535 414h4v4h-4zM539 418h4v4h-4zM659 431h5v4h-5zM492 508h4v5h-4z"/>
<path fill="#2e63ff" d="M560 384h5v4h-5zM556 388h4v4h-4zM646 397h5v4h-5zM565 401h4v4h-4zM659 401h5v4h-5zM578 405h4v5h-4zM646 410h5v4h-5zM655 410h4v4h-4zM646 418h5v4h-5zM560 422h5v5h-5zM638 422h4v5h-4zM646 422h5v5h-5zM642 427h4v4h-4zM668 427h4v4h-4zM621 431h4v4h-4zM612 435h4v5h-4zM659 435h5v5h-5zM526 440h4v4h-4zM565 440h4v4h-4zM578 440h4v4h-4zM621 440h4v4h-4zM685 440h5v4h-5zM582 444h4v4h-4zM621 444h4v4h-4zM638 444h4v4h-4zM685 448h5v4h-5zM522 452h4v5h-4zM621 452h4v5h-4zM500 465h9v5h-9zM552 474h4v4h-4zM646 478h5v5h-5zM625 500h4v4h-4zM552 504h4v4h-4zM604 508h4v5h-4zM573 517h5v4h-5z"/>
<path fill="#2e64ff" d="M651 384h4v4h-4zM556 401h9v4h-9zM560 410h5v4h-5zM556 414h4v4h-4zM578 414h4v4h-4zM659 414h5v4h-5zM668 414h4v4h-4zM664 418h4v4h-4zM548 435h4v5h-4zM690 435h4v5h-4zM595 444h4v4h-4zM522 448h4v4h-4zM560 448h5v4h-5zM573 452h5v5h-5zM518 457h4v4h-4zM535 457h4v4h-4zM560 457h9v4h-9zM560 461h5v4h-5zM690 470h4v4h-4zM659 474h5v4h-5zM543 483h5v4h-5zM556 487h4v4h-4zM655 491h4v5h-4zM535 500h8v4h-8zM560 500h5v4h-5zM539 504h4v4h-4zM604 513h4v4h-4zM556 521h4v5h-4z"/>
<path fill="#2e62ff" d="M659 397h5v4h-5zM543 478h5v5h-5zM496 508h4v5h-4z"/>
<path fill="#2e65ff" d="M569 401h4v4h-4zM655 401h4v4h-4zM578 410h4v4h-4zM638 414h4v4h-4zM634 418h4v4h-4zM651 418h8v4h-8zM677 418h4v4h-4zM664 422h4v5h-4zM664 427h4v4h-4zM565 431h4v4h-4zM677 435h4v5h-4zM582 440h4v4h-4zM530 444h5v4h-5zM655 448h4v4h-4zM505 452h4v5h-4zM552 452h4v5h-4zM681 452h4v5h-4zM522 461h4v4h-4zM552 461h4v4h-4zM518 470h4v4h-4zM565 470h4v4h-4zM573 470h5v4h-5zM586 470h5v4h-5zM518 474h4v4h-4zM539 474h4v4h-4zM668 474h4v4h-4zM548 483h4v4h-4zM565 483h4v4h-4zM664 483h4v4h-4zM513 487h5v4h-5zM543 491h9v5h-9zM569 491h4v5h-4zM565 500h4v4h-4zM573 521h5v5h-5zM612 521h4v5h-4zM578 526h4v4h-4zM612 526h4v4h-4zM612 538h4v5h-4z"/>
<path fill="#2c5dff" d="M634 401h4v4h-4zM672 431h9v4h-9zM560 470h5v4h-5zM505 496h4v4h-4z"/>
<path fill="#2d62ff" d="M672 401h5v4h-5zM642 414h9v4h-9zM672 418h5v4h-5zM655 422h4v5h-4zM625 427h4v4h-4zM685 444h5v4h-5zM539 457h4v4h-4zM659 465h5v5h-5zM548 474h4v4h-4zM556 474h4v4h-4zM560 478h5v5h-5zM604 478h4v5h-4zM591 491h4v5h-4zM552 500h4v4h-4zM591 504h4v4h-4zM552 508h4v5h-4zM556 513h4v4h-4z"/>
<path fill="#2d5fff" d="M535 418h4v4h-4zM582 427h4v4h-4zM638 427h4v4h-4zM655 431h4v4h-4zM608 440h4v4h-4zM522 470h4v4h-4zM659 478h5v5h-5zM638 483h4v4h-4zM664 487h4v4h-4zM565 504h4v4h-4zM582 526h4v4h-4z"/>
<path fill="#ddff56" d="M492 444h4v4h-4z"/>
<path fill="#c8ff74" d="M457 448h5v4h-5zM444 452h5v5h-5zM444 457h5v4h-5zM496 457h4v4h-4zM496 461h4v4h-4z"/>
<path fill="#baff87" d="M462 448h4v4h-4zM462 452h4v5h-4z"/>
<path fill="#b5ff8f" d="M466 448h4v4h-4z"/>
<path fill="#b8ff8a" d="M474 448h5v4h-5zM479 457h4v4h-4z"/>
<path fill="#b5ff8e" d="M483 448h4v4h-4zM444 478h5v5h-5z"/>
<path fill="#9afaa6" d="M487 448h5v4h-5z"/>
<path fill="#c4ff79" d="M492 448h4v4h-4zM483 457h4v4h-4z"/>
<path fill="#2c5cff" d="M573 448h5v4h-5z"/>
<path fill="#bdff84" d="M432 452h4v5h-4zM496 452h4v5h-4zM462 457h4v4h-4zM487 465h5v5h-5zM487 470h5v4h-5z"/>
<path fill="#d1ff67" d="M436 452h4v5h-4z"/>
<path fill="#c4ff7a" d="M449 452h4v5h-4z"/>
<path fill="#bdff83" d="M453 452h4v5h-4z"/>
<path fill="#beff82" d="M457 452h5v5h-5z"/>
<path fill="#baff88" d="M466 452h4v5h-4z"/>
<path fill="#b9ff89" d="M474 452h5v5h-5zM479 461h4v4h-4z"/>
<path fill="#a9fd9a" d="M479 452h4v5h-4z"/>
<path fill="#b2ff92" d="M483 452h4v5h-4z"/>
<path fill="#c6ff77" d="M492 452h4v5h-4zM483 470h4v4h-4z"/>
<path fill="#bcff85" d="M500 452h5v5h-5z"/>
<path fill="#368cff" d="M595 452h4v5h-4z"/>
<path fill="#36aaff" d="M604 452h4v5h-4zM586 457h5v4h-5z"/>
<path fill="#ddff58" d="M436 457h4v4h-4z"/>
<path fill="#d9ff5c" d="M449 457h4v4h-4zM444 465h5v5h-5z"/>
<path fill="#c0ff7f" d="M453 457h4v4h-4z"/>
<path fill="#c1ff7e" d="M470 457h4v4h-4z"/>
<path fill="#3898ff" d="M608 457h4v4h-4zM616 457h5v4h-5z"/>
<path fill="#379fff" d="M612 457h4v4h-4zM621 461h4v4h-4zM599 500h5v4h-5z"/>
<path fill="#c5ff78" d="M432 461h4v4h-4zM457 474h5v4h-5z"/>
<path fill="#dbff5b" d="M440 461h4v4h-4z"/>
<path fill="#c0ff80" d="M444 461h5v4h-5z"/>
<path fill="#bfff81" d="M453 461h4v4h-4z"/>
<path fill="#9efba2" d="M457 461h5v4h-5z"/>
<path fill="#c2ff7c" d="M462 461h4v4h-4zM462 470h4v4h-4z"/>
<path fill="#acfd97" d="M483 461h4v4h-4zM474 478h5v5h-5z"/>
<path fill="#9bfaa5" d="M492 461h4v4h-4z"/>
<path fill="#d5ff62" d="M436 465h4v5h-4z"/>
<path fill="#c9ff73" d="M449 465h4v5h-4zM462 465h4v5h-4zM457 478h5v5h-5z"/>
<path fill="#ff7800" d="M466 465h8v5h-8z"/>
<path fill="#bcff84" d="M479 465h4v5h-4z"/>
<path fill="#cdff6d" d="M483 465h4v5h-4zM436 470h4v4h-4z"/>
<path fill="#abfd97" d="M492 465h4v5h-4z"/>
<path fill="#3792ff" d="M586 465h5v5h-5z"/>
<path fill="#34e5fc" d="M634 465h4v5h-4z"/>
<path fill="#e0ff53" d="M440 470h4v4h-4zM457 491h5v5h-5z"/>
<path fill="#e6ff4b" d="M449 470h4v4h-4z"/>
<path fill="#ddff57" d="M453 470h4v4h-4z"/>
<path fill="#b7ff8b" d="M479 470h4v4h-4z"/>
<path fill="#35b8ff" d="M513 470h5v4h-5zM646 504h5v4h-5z"/>
<path fill="#3482ff" d="M591 470h4v4h-4z"/>
<path fill="#3689ff" d="M599 470h5v4h-5z"/>
<path fill="#40e7f2" d="M629 470h5v4h-5z"/>
<path fill="#39e6f8" d="M638 470h4v4h-4z"/>
<path fill="#49e9ea" d="M651 470h4v4h-4zM634 504h4v4h-4z"/>
<path fill="#c7ff76" d="M436 474h4v4h-4z"/>
<path fill="#b4ff8f" d="M440 474h4v4h-4z"/>
<path fill="#9ffba1" d="M444 474h5v4h-5z"/>
<path fill="#c2ff7d" d="M479 474h4v4h-4z"/>
<path fill="#d0ff6a" d="M462 478h4v5h-4zM457 487h5v4h-5z"/>
<path fill="#33c2ff" d="M505 478h4v5h-4zM595 500h4v4h-4z"/>
<path fill="#53ebe2" d="M487 483h5v4h-5z"/>
<path fill="#fdff2a" d="M629 487h5v4h-5z"/>
<path fill="#d2ff67" d="M462 491h4v5h-4z"/>
<path fill="#f4ff38" d="M629 491h5v5h-5z"/>
<path fill="#f3ff39" d="M634 496h4v4h-4z"/>
<path fill="#f6ff34" d="M638 496h4v4h-4z"/>
<path fill="#f6ff35" d="M621 500h4v4h-4z"/>
<path fill="#2d5eff" d="M535 504h4v4h-4z"/>
<path fill="#f7ff33" d="M634 508h4v5h-4z"/>
<path fill="#3ae6f6" d="M621 521h4v5h-4z"/>
<path fill="#feff29" d="M625 521h4v5h-4z"/>
<path fill="#f1ff3b" d="M629 521h9v5h-9z"/>
<path fill="#f0ff3c" d="M629 526h5v4h-5z"/>
<path fill="#ecff42" d="M634 526h4v4h-4z"/>
<path fill="#2540ff" fill-opacity="0.55" d="M732 306h13v5h-13zM354 177h4v5h-4zM565 371h8v4h-8zM333 220h13v9h-13zM659 194h5v13h-5zM350 169h8v4h-8zM535 517h8v9h-8zM462 160h4v13h-4zM285 139h5v4h-5zM290 547h8v9h-8zM552 91h4v9h-4zM694 319h17v5h-17zM724 272h8v8h-8zM548 650h17v9h-17zM677 341h4v8h-4zM388 156h5v8h-5zM625 225h13v4h-13zM621 560h17v13h-17zM285 104h9v4h-9zM328 521h9v9h-9zM793 590h8v4h-8zM277 543h4v8h-4zM646 216h5v13h-5zM453 177h13v13h-13zM320 121h8v13h-8zM720 194h4v5h-4zM737 607h17v9h-17zM560 577h9v9h-9zM599 293h5v13h-5zM341 504h9v9h-9zM358 108h9v9h-9zM337 177h13v5h-13zM711 650h4v9h-4zM457 435h17v13h-17zM419 508h8v13h-8zM277 517h8v13h-8zM767 306h9v13h-9zM522 414h4v8h-4zM483 306h9v9h-9zM410 487h17v4h-17z"/>
<path fill="#274aff" fill-opacity="0.55" d="M642 207h4v9h-4zM638 362h4v9h-4zM595 599h9v8h-9zM444 177h18v9h-18zM565 560h8v9h-8zM591 229h17v4h-17zM745 246h18v4h-18zM664 655h17v8h-17zM371 207h17v13h-17zM573 655h13v13h-13zM552 573h8v9h-8zM818 582h9v8h-9zM436 250h4v13h-4zM384 164h9v9h-9zM281 87h9v13h-9zM556 564h4v9h-4zM401 521h5v9h-5zM616 422h9v5h-9zM419 280h4v13h-4zM328 169h9v8h-9zM629 366h9v5h-9zM367 534h9v4h-9zM543 362h5v9h-5zM694 160h8v9h-8zM397 130h13v9h-13zM849 577h4v13h-4zM333 225h13v13h-13zM432 582h4v8h-4zM496 108h13v13h-13zM380 478h13v5h-13zM578 586h8v8h-8zM793 229h13v13h-13zM457 194h5v5h-5zM672 319h9v9h-9zM307 513h13v4h-13zM462 526h12v8h-12zM595 220h9v13h-9zM397 556h9v13h-9zM866 603h8v9h-8zM879 582h4v8h-4zM423 582h13v8h-13zM264 113h8v8h-8zM698 246h9v13h-9z"/>
<path fill="#2645ff" fill-opacity="0.55" d="M453 216h9v9h-9zM397 194h9v5h-9zM690 134h8v9h-8zM376 96h4v12h-4zM672 220h18v13h-18zM432 182h17v4h-17zM638 207h17v9h-17zM763 311h13v4h-13zM737 74h8v13h-8zM509 126h4v4h-4zM840 590h9v9h-9zM642 229h9v4h-9zM483 126h13v8h-13zM530 117h5v4h-5zM629 229h17v9h-17zM328 104h9v9h-9zM363 547h8v4h-8zM449 199h8v4h-8zM337 152h13v8h-13zM767 298h4v13h-4zM260 100h4v4h-4zM677 642h8v8h-8zM702 642h18v8h-18zM393 564h4v9h-4zM672 345h13v13h-13zM681 147h4v13h-4zM784 302h9v4h-9zM793 259h4v9h-4zM586 315h13v9h-13zM702 659h9v9h-9zM260 259h8v9h-8zM840 582h13v8h-13zM371 147h5v13h-5zM367 199h9v8h-9zM552 603h4v9h-4zM582 341h9v13h-9zM457 130h13v9h-13zM672 207h18v5h-18zM466 186h17v13h-17zM578 392h13v5h-13zM698 250h4v5h-4zM337 250h13v9h-13zM724 225h17v8h-17zM509 410h13v8h-13zM388 551h5v13h-5z"/>
<path fill="#233bff" fill-opacity="0.55" d="M556 564h9v5h-9zM904 582h9v8h-9zM539 78h9v13h-9zM668 212h4v8h-4zM608 358h13v8h-13zM324 246h9v9h-9zM479 212h4v8h-4zM401 83h5v8h-5zM681 663h13v9h-13zM634 650h8v9h-8zM569 349h4v5h-4zM298 100h13v8h-13zM659 633h13v13h-13zM457 496h9v8h-9zM272 207h13v13h-13zM367 551h9v9h-9zM638 182h8v12h-8zM277 268h17v12h-17zM715 83h17v13h-17zM608 603h8v13h-8zM341 156h9v4h-9zM436 143h17v9h-17zM406 276h13v4h-13zM466 560h8v4h-8zM380 500h8v13h-8zM505 538h17v9h-17zM698 332h9v9h-9zM526 569h4v8h-4zM457 517h9v9h-9zM505 117h4v4h-4zM698 117h9v4h-9zM599 556h13v4h-13zM294 113h17v8h-17zM853 612h4v4h-4zM638 324h8v8h-8zM371 160h13v4h-13zM621 255h13v4h-13zM621 646h8v9h-8zM810 582h17v8h-17zM406 444h17v8h-17z"/></g>
<path d="M251.0 100.0L270.0 104.0L300.0 107.5L320.0 109.0L335.0 92.5L342.5 79.0L352.5 75.0L380.0 79.0L397.0 83.0M426.0 150.0L412.5 157.5L387.5 165.0L360.0 177.5L340.0 190.0L320.0 205.0L315.0 210.0L310.0 215.0L303.0 220.0L300.0 228.0L295.0 232.5L275.0 240.0L270.0 247.5L267.5 254.0L252.5 262.5L240.0 274.0L230.0 279.0M562.0 67.5L559.5 76.0L549.5 79.0L537.0 92.5L527.0 107.5L509.5 140.0L499.5 155.0L494.5 170.0L498.0 190.0L505.0 205.0M730.0 57.5L722.5 75.0L725.0 97.5L732.5 112.5L742.5 116.0L755.0 107.5L760.0 101.0M739.0 122.5L727.5 135.0L717.5 145.0L705.0 150.0L697.5 160.0L700.0 170.0L690.0 175.0L680.0 176.0L677.0 180.0L664.5 187.5L652.0 192.5L642.0 195.0L637.0 202.5L607.0 205.0L602.0 215.0L592.0 227.5L580.0 235.0L565.0 240.0M658.5 198.0L664.5 207.5L669.5 222.5L672.0 225.0L697.0 226.0L692.0 237.5L699.5 250.0L709.5 256.0L721.0 250.0L723.0 241.0L747.0 237.5L757.0 245.0L772.0 246.0L782.0 249.0L797.0 240.0L809.5 235.0L822.0 242.5L828.0 249.0M779.5 222.5L778.0 232.5L783.0 246.0M588.0 145.0L588.0 162.5L589.5 180.0L582.0 192.5L574.5 200.0L579.5 215.0L582.0 230.0M575.0 200.0L580.0 215.0L587.5 230.0L605.0 215.0L610.0 205.0L637.5 200.0M580.0 282.5L605.0 282.5L606.0 286.0L592.5 287.5L582.5 297.5L587.5 312.5L600.0 330.0L620.0 336.0L640.0 342.5L645.0 352.5L660.0 357.5L672.0 355.0L677.0 347.5L684.5 345.0L697.0 355.0L707.0 360.0M505.0 310.0L485.0 310.0L475.0 325.0L465.0 337.5L452.5 347.5L440.0 355.0M469.0 373.0L480.0 365.0L490.0 357.5M400.0 485.0L390.0 500.0L370.0 507.5L365.0 520.0L363.5 528.5L355.0 535.0L332.5 525.0L315.0 526.0L297.5 535.0L290.0 545.0M400.0 487.5L425.0 490.0L440.0 497.5L450.0 502.5L465.0 502.5M495.0 525.0L485.0 540.0L470.0 537.5L465.0 550.0L455.0 562.5L447.5 565.0L437.5 572.5L430.0 585.0L428.5 595.0M617.5 576.0L630.0 576.0L645.0 586.0L665.0 582.5L677.5 584.0L682.5 600.0L687.5 605.0L680.0 615.0L692.5 610.0L710.0 607.5L740.0 610.0L750.0 602.5L765.0 602.5L777.5 610.0L790.0 610.0L792.5 597.5L796.0 602.5L800.0 592.5L807.5 595.0L827.5 597.5L840.0 602.5L845.0 605.0L850.0 597.5L862.5 596.0L870.0 587.5L880.0 584.0L890.0 587.5L897.5 591.0L902.5 585.0L910.0 584.0L915.0 587.5M660.0 692.5L670.0 682.5L687.5 681.0L692.5 685.0M566.0 657.5L566.0 665.0L564.0 675.0M566.0 656.0L588.0 653.0L603.0 632.0M670.0 402.5L660.0 417.5L645.0 442.5L627.5 465.0L620.0 480.0" fill="none" stroke="#5cc4ff" stroke-width="1.15" stroke-linejoin="round" stroke-opacity="0.7"/>
<path d="M387.7 74.9L400.4 88.0L410.7 102.5L416.9 116.9L421.9 131.0L426.7 145.5L434.2 153.8L442.2 160.8L453.7 173.4L481.6 186.4L502.1 203.7L515.2 217.0L520.1 236.8L519.6 268.6L518.1 285.5L514.5 300.8L508.8 319.3L499.2 335.5L494.0 346.8L493.0 359.3L500.5 374.1L509.4 380.5L521.9 390.1L534.8 400.4L545.3 416.2L544.7 427.2L529.2 435.1L522.8 441.4L519.9 455.1L512.9 465.5L501.1 474.0L478.9 485.1L465.5 493.9L465.9 500.3L472.6 509.9L488.3 514.2L512.9 506.5L534.4 498.7L553.3 483.0L567.6 477.7L595.0 478.4L616.6 478.0L623.8 485.6L627.0 498.2L617.2 515.2L606.8 519.4L607.0 534.2L615.8 548.7L620.6 565.1L615.3 581.3L608.0 593.4L604.1 617.7L605.4 628.9L612.7 640.9L622.4 658.0L635.0 668.2L637.1 679.5M383.3 79.1L395.6 92.0L405.3 105.5L411.1 119.1L416.1 133.0L421.3 148.5L429.8 158.2L437.8 165.2L450.3 178.6L478.4 191.6L497.9 208.3L509.8 220.0L513.9 237.2L513.4 268.4L511.9 284.5L508.5 299.2L503.2 316.7L493.8 332.5L488.0 345.2L487.0 360.7L495.5 377.9L505.6 385.5L518.1 394.9L530.2 404.6L539.7 418.8L540.3 422.8L525.8 429.9L517.2 438.6L514.1 452.9L508.5 461.1L498.1 468.6L475.9 479.7L460.5 490.1L460.1 502.5L469.4 515.1L488.7 520.4L514.9 512.3L537.6 504.1L556.7 488.2L568.2 483.9L595.0 484.6L615.4 484.0L618.2 488.4L621.0 496.8L612.8 510.8L601.2 516.6L601.0 535.8L610.2 551.3L614.4 564.9L609.7 578.7L602.0 591.6L597.9 617.3L599.6 631.1L607.3 644.1L617.6 662.0L630.0 671.8L630.9 680.5M259.8 83.7L265.8 79.8L273.7 77.8L276.7 83.7L279.7 87.7L278.7 92.7L282.7 94.6L285.6 92.7L284.6 98.6L289.6 94.6L299.5 94.6L303.5 90.7L301.5 85.7L297.5 83.7L295.6 77.8L293.6 72.8M261.8 91.7L265.8 85.7L269.8 82.7M431.0 153.0L438.0 156.0L446.0 162.0L452.0 170.0L445.0 168.0L437.0 161.0L431.0 153.0M524.0 391.0L531.0 398.0L538.0 407.0L541.0 415.0L536.0 410.0L529.0 401.0L524.0 391.0" fill="none" stroke="#eeeaff" stroke-width="1.25" stroke-linejoin="round" stroke-opacity="0.8"/>
<g filter="url(#soft)">
<circle cx="270" cy="101.5" r="5" fill="#62fa00" stroke="#000" stroke-width="1.5"/>
<circle cx="300" cy="111" r="2.7" fill="#4ccc00" stroke="#000" stroke-width="1.5"/>
<circle cx="341.5" cy="88.5" r="5" fill="#62fa00" stroke="#000" stroke-width="1.5"/>
<circle cx="339" cy="123.5" r="2.7" fill="#4ccc00" stroke="#000" stroke-width="1.5"/>
<circle cx="378.5" cy="166.5" r="9.4" fill="#ff0000" stroke="#000" stroke-width="1.5"/>
<circle cx="337.5" cy="192.5" r="9.4" fill="#ff0000" stroke="#000" stroke-width="1.5"/>
<circle cx="251.5" cy="268.5" r="5" fill="#62fa00" stroke="#000" stroke-width="1.5"/>
<circle cx="436" cy="304" r="9.4" fill="#ff0000" stroke="#000" stroke-width="1.5"/>
<circle cx="454" cy="367.5" r="9.4" fill="#ff0000" stroke="#000" stroke-width="1.5"/>
<circle cx="469" cy="373.5" r="9.4" fill="#ff0000" stroke="#000" stroke-width="1.5"/>
<circle cx="716.5" cy="50" r="9.4" fill="#ff0000" stroke="#000" stroke-width="1.5"/>
<circle cx="745.5" cy="60.5" r="2.7" fill="#4ccc00" stroke="#000" stroke-width="1.5"/>
<circle cx="724.5" cy="86" r="9.4" fill="#ff0000" stroke="#000" stroke-width="1.5"/>
<circle cx="738.5" cy="122.5" r="2.7" fill="#4ccc00" stroke="#000" stroke-width="1.5"/>
<circle cx="546.5" cy="78.5" r="5" fill="#62fa00" stroke="#000" stroke-width="1.5"/>
<circle cx="522.5" cy="121.5" r="11.9" fill="#ff0000" stroke="#000" stroke-width="1.5"/>
<circle cx="506.5" cy="143.5" r="6.9" fill="#62fa00" stroke="#000" stroke-width="1.5"/>
<circle cx="613" cy="150" r="5" fill="#62fa00" stroke="#000" stroke-width="1.5"/>
<circle cx="609.5" cy="160" r="5" fill="#62fa00" stroke="#000" stroke-width="1.5"/>
<circle cx="596.5" cy="173" r="9.4" fill="#ff0000" stroke="#000" stroke-width="1.5"/>
<circle cx="658.5" cy="198.5" r="9.4" fill="#ff0000" stroke="#000" stroke-width="1.5"/>
<circle cx="687.5" cy="179.5" r="2.7" fill="#4ccc00" stroke="#000" stroke-width="1.5"/>
<circle cx="671" cy="223.5" r="2.7" fill="#4ccc00" stroke="#000" stroke-width="1.5"/>
<circle cx="698.5" cy="228" r="5" fill="#62fa00" stroke="#000" stroke-width="1.5"/>
<circle cx="717" cy="259.5" r="6.9" fill="#62fa00" stroke="#000" stroke-width="1.5"/>
<circle cx="777" cy="251" r="5" fill="#62fa00" stroke="#000" stroke-width="1.5"/>
<circle cx="817" cy="242" r="6.9" fill="#62fa00" stroke="#000" stroke-width="1.5"/>
<circle cx="814.5" cy="281" r="5" fill="#62fa00" stroke="#000" stroke-width="1.5"/>
<circle cx="442.5" cy="471" r="9.4" fill="#ff0000" stroke="#000" stroke-width="1.5"/>
<circle cx="400" cy="481.5" r="2.7" fill="#4ccc00" stroke="#000" stroke-width="1.5"/>
<circle cx="451.5" cy="509" r="6.9" fill="#62fa00" stroke="#000" stroke-width="1.5"/>
<circle cx="476.5" cy="523.5" r="9.4" fill="#ff0000" stroke="#000" stroke-width="1.5"/>
<circle cx="363.5" cy="528.5" r="9.4" fill="#ff0000" stroke="#000" stroke-width="1.5"/>
<circle cx="438" cy="572" r="9.4" fill="#ff0000" stroke="#000" stroke-width="1.5"/>
<circle cx="634" cy="404" r="5" fill="#62fa00" stroke="#000" stroke-width="1.5"/>
<circle cx="638" cy="421" r="9.4" fill="#ff0000" stroke="#000" stroke-width="1.5"/>
<circle cx="659" cy="428" r="11.9" fill="#ff0000" stroke="#000" stroke-width="1.5"/>
<circle cx="685" cy="416.5" r="2.7" fill="#4ccc00" stroke="#000" stroke-width="1.5"/>
<circle cx="638" cy="436.5" r="2.7" fill="#4ccc00" stroke="#000" stroke-width="1.5"/>
<circle cx="675.5" cy="436.5" r="2.7" fill="#4ccc00" stroke="#000" stroke-width="1.5"/>
<circle cx="665" cy="459.5" r="5" fill="#62fa00" stroke="#000" stroke-width="1.5"/>
<circle cx="603" cy="632" r="9.4" fill="#ff0000" stroke="#000" stroke-width="1.5"/>
<circle cx="588" cy="653" r="9.4" fill="#ff0000" stroke="#000" stroke-width="1.5"/>
<circle cx="566.5" cy="656" r="6.9" fill="#62fa00" stroke="#000" stroke-width="1.5"/>
<circle cx="645.5" cy="660.5" r="6.9" fill="#62fa00" stroke="#000" stroke-width="1.5"/>
<circle cx="662" cy="656" r="6.9" fill="#62fa00" stroke="#000" stroke-width="1.5"/>
<circle cx="675" cy="651.5" r="6.9" fill="#62fa00" stroke="#000" stroke-width="1.5"/>
<circle cx="650.5" cy="674" r="6.9" fill="#62fa00" stroke="#000" stroke-width="1.5"/>
<circle cx="652.5" cy="690.5" r="5" fill="#62fa00" stroke="#000" stroke-width="1.5"/>
<circle cx="691" cy="617.5" r="2.7" fill="#4ccc00" stroke="#000" stroke-width="1.5"/>
<circle cx="694" cy="665" r="2.7" fill="#4ccc00" stroke="#000" stroke-width="1.5"/>
<circle cx="682.5" cy="686.5" r="2.7" fill="#4ccc00" stroke="#000" stroke-width="1.5"/>
<circle cx="746.5" cy="612.5" r="5" fill="#62fa00" stroke="#000" stroke-width="1.5"/>
<circle cx="817.5" cy="595" r="9.4" fill="#ff0000" stroke="#000" stroke-width="1.5"/>
<circle cx="874.5" cy="586.5" r="5" fill="#62fa00" stroke="#000" stroke-width="1.5"/>
<circle cx="903" cy="584.5" r="2.7" fill="#4ccc00" stroke="#000" stroke-width="1.5"/>
<circle cx="292.4" cy="547" r="11.9" fill="#ff0000" stroke="#000" stroke-width="1.5"/>
<circle cx="294.4" cy="548.9" r="11.9" fill="#ff0000" stroke="#000" stroke-width="1.5"/>
<circle cx="527.5" cy="271.5" r="8.3" fill="#ff1fd0" stroke="#201" stroke-width="1.4"/><circle cx="527.5" cy="271.5" r="4.316" fill="none" stroke="#900880" stroke-width="1.3"/><circle cx="527.5" cy="271.5" r="1.328" fill="#b010a0"/>
<circle cx="487.5" cy="470" r="8.3" fill="#ff1fd0" stroke="#201" stroke-width="1.4"/><circle cx="487.5" cy="470" r="4.316" fill="none" stroke="#900880" stroke-width="1.3"/><circle cx="487.5" cy="470" r="1.328" fill="#b010a0"/>
<circle cx="631.5" cy="481.5" r="8.3" fill="#ff1fd0" stroke="#201" stroke-width="1.4"/><circle cx="631.5" cy="481.5" r="4.316" fill="none" stroke="#900880" stroke-width="1.3"/><circle cx="631.5" cy="481.5" r="1.328" fill="#b010a0"/>
<rect x="77.6" y="26.2" width="852.7" height="694.4" fill="none" stroke="#4a4a4a" stroke-width="2.7"/>
<text class="tk" x="85.5" y="14" text-anchor="middle">112°15'0&quot;E</text>
<text class="tk" x="85.5" y="744.6" text-anchor="middle">112°15'0&quot;E</text>
<text class="tk" x="237" y="14" text-anchor="middle">112°30'0&quot;E</text>
<text class="tk" x="237" y="744.6" text-anchor="middle">112°30'0&quot;E</text>
<text class="tk" x="388.5" y="14" text-anchor="middle">112°45'0&quot;E</text>
<text class="tk" x="388.5" y="744.6" text-anchor="middle">112°45'0&quot;E</text>
<text class="tk" x="540" y="14" text-anchor="middle">113°0'0&quot;E</text>
<text class="tk" x="540" y="744.6" text-anchor="middle">113°0'0&quot;E</text>
<text class="tk" x="691.5" y="14" text-anchor="middle">113°15'0&quot;E</text>
<text class="tk" x="691.5" y="744.6" text-anchor="middle">113°15'0&quot;E</text>
<text class="tk" x="843" y="14" text-anchor="middle">113°30'0&quot;E</text>
<text class="tk" x="843" y="744.6" text-anchor="middle">113°30'0&quot;E</text>
<text class="tk" x="69" y="95.4" text-anchor="end">28°30'0&quot;N</text>
<text class="tk" x="938.5" y="95.4">28°30'0&quot;N</text>
<text class="tk" x="69" y="247.1" text-anchor="end">28°15'0&quot;N</text>
<text class="tk" x="938.5" y="247.1">28°15'0&quot;N</text>
<text class="tk" x="69" y="398.8" text-anchor="end">28°0'0&quot;N</text>
<text class="tk" x="938.5" y="398.8">28°0'0&quot;N</text>
<text class="tk" x="69" y="550.5" text-anchor="end">27°45'0&quot;N</text>
<text class="tk" x="938.5" y="550.5">27°45'0&quot;N</text>
<text class="tk" x="69" y="702.2" text-anchor="end">27°30'0&quot;N</text>
<text class="tk" x="938.5" y="702.2">27°30'0&quot;N</text>
<path d="M85.5 26.2v-6M85.5 720.6v6M237 26.2v-6M237 720.6v6M388.5 26.2v-6M388.5 720.6v6M540 26.2v-6M540 720.6v6M691.5 26.2v-6M691.5 720.6v6M843 26.2v-6M843 720.6v6M77.6 90h-7M930.3 90h7M77.6 241.7h-7M930.3 241.7h7M77.6 393.4h-7M930.3 393.4h7M77.6 545.1h-7M930.3 545.1h7M77.6 696.8h-7M930.3 696.8h7" stroke="#4a4a4a" stroke-width="1.6"/>
<text class="nn" x="141.7" y="71.6" text-anchor="middle" textLength="10.6" lengthAdjust="spacingAndGlyphs">N</text><path d="M141.7 75 L129.8 114.5 L142.2 99.5Z" fill="#000"/><path d="M141.9 76 L154 115 L142.4 99.8Z" fill="#fff" stroke="#111" stroke-width="1.1"/><path d="M154 115 L149.5 109.5 L151.2 106Z" fill="#111"/>
<rect x="276.5" y="704" width="219.0" height="7" fill="#fff" stroke="#000" stroke-width="0.8"/>
<rect x="276.5" y="704" width="14.6" height="7" fill="#000"/>
<rect x="304.4" y="704" width="13.4" height="7" fill="#000"/>
<rect x="330.5" y="704" width="55.8" height="7" fill="#000"/>
<rect x="441" y="704" width="54.5" height="7" fill="#000"/>
<text class="sb" x="277.5" y="698.5" text-anchor="middle">0</text>
<text class="sb" x="305" y="698.5" text-anchor="middle">5</text>
<text class="sb" x="332.4" y="698.5" text-anchor="middle">10</text>
<text class="sb" x="386.3" y="698.5" text-anchor="middle">20</text>
<text class="sb" x="441" y="698.5" text-anchor="middle">30</text>
<text class="sb" x="495.5" y="698.5" text-anchor="middle">40</text>
<text class="sb" x="498.5" y="710.6">Kilometers</text>
<text x="84.5" y="337" font-size="19" fill="#2a2a2a" font-weight="normal">Legend</text>
<circle cx="104" cy="359.5" r="9.2" fill="#ff1fd0" stroke="#201" stroke-width="1.4"/><circle cx="104" cy="359.5" r="4.784" fill="none" stroke="#900880" stroke-width="1.3"/><circle cx="104" cy="359.5" r="1.472" fill="#b010a0"/>
<text class="lb" x="129" y="364.4">main city</text>
<text class="bd" x="84.5" y="388.6" textLength="244" lengthAdjust="spacingAndGlyphs">Se concentration in groundwater</text>
<text class="bd" x="84.5" y="411.4" style="font-weight:bold">(mg/L)</text>
<circle cx="103.7" cy="430.3" r="3.0" fill="#4ccc00" stroke="#000" stroke-width="1.5"/>
<text class="lb" x="129" y="435.3">&lt;0.0004</text>
<circle cx="103.7" cy="455.3" r="5.9" fill="#62fa00" stroke="#000" stroke-width="1.5"/>
<text class="lb" x="129" y="460.3">0.00041 - 0.0060</text>
<circle cx="103.7" cy="480.8" r="8.2" fill="#62fa00" stroke="#000" stroke-width="1.5"/>
<text class="lb" x="129" y="485.8">0.00601 - 0.0100</text>
<circle cx="103.7" cy="506.7" r="9.8" fill="#ff0000" stroke="#000" stroke-width="1.5"/>
<text class="lb" x="129" y="511.7">0.01001 - 0.02260</text>
<circle cx="103.7" cy="535.8" r="12.3" fill="#ff0000" stroke="#000" stroke-width="1.5"/>
<text class="lb" x="129" y="540.8">0.02261 - 0.03190</text>
<path d="M84.5 565.5h37.5" stroke="#e2e2e8" stroke-width="1.3"/>
<text class="lb" x="129" y="570.8" font-style="normal">Xiangjiang River</text>
<path d="M84.5 592.8h37.5" stroke="#86d4ff" stroke-width="1.4"/>
<text class="lb" x="129" y="598.9">tributary</text>
<text class="bd" x="84.5" y="625.3" textLength="138" lengthAdjust="spacingAndGlyphs">Population density</text>
<text class="bd" x="84.5" y="648" textLength="128.5" lengthAdjust="spacingAndGlyphs">(person per km^2)</text>
<rect x="85.3" y="657.2" width="34" height="36" fill="url(#ramp)"/>
<text class="hl" x="129" y="662.6">High : 20138.7</text>
<text class="hl" x="129" y="698">Low : 185.734</text>
</g></g>
<g transform="translate(0,777.2)">
<g filter="url(#soft)"><path fill="#1c1eff" d="M707 39.8h21v4h-21zM702 43.8h39v5h-39zM702 48.8h48v4h-48zM702 52.8h52v4h-52zM526 56.8h13v4h-13zM702 56.8h56v4h-56zM277 60.8h17v5h-17zM526 60.8h17v5h-17zM560 60.8h9v5h-9zM707 60.8h51v5h-51zM268 65.8h26v4h-26zM526 65.8h52v4h-52zM707 65.8h56v4h-56zM264 69.8h30v4h-30zM328 69.8h13v4h-13zM513 69.8h65v4h-65zM707 69.8h56v4h-56zM255 73.8h47v5h-47zM328 73.8h69v5h-69zM509 73.8h69v5h-69zM707 73.8h56v5h-56zM251 78.8h69v4h-69zM328 78.8h73v4h-73zM509 78.8h64v4h-64zM707 78.8h51v4h-51zM251 82.8h155v4h-155zM509 82.8h60v4h-60zM707 82.8h51v4h-51zM251 86.8h159v4h-159zM505 86.8h64v4h-64zM707 86.8h51v4h-51zM251 90.8h159v5h-159zM496 90.8h73v5h-73zM707 90.8h56v5h-56zM251 95.8h159v4h-159zM492 95.8h73v4h-73zM702 95.8h61v4h-61zM251 99.8h163v4h-163zM492 99.8h64v4h-64zM702 99.8h61v4h-61zM251 103.8h168v5h-168zM487 103.8h69v5h-69zM698 103.8h65v5h-65zM255 108.8h164v4h-164zM483 108.8h69v4h-69zM698 108.8h65v4h-65zM255 112.8h168v4h-168zM474 112.8h78v4h-78zM694 112.8h69v4h-69zM260 116.8h163v5h-163zM470 116.8h82v5h-82zM694 116.8h64v5h-64zM264 121.8h159v4h-159zM466 121.8h86v4h-86zM690 121.8h64v4h-64zM268 125.8h155v4h-155zM457 125.8h91v4h-91zM690 125.8h60v4h-60zM272 129.8h151v5h-151zM453 129.8h99v5h-99zM604 129.8h8v5h-8zM685 129.8h60v5h-60zM277 134.8h146v4h-146zM444 134.8h112v4h-112zM599 134.8h17v4h-17zM685 134.8h56v4h-56zM281 138.8h146v4h-146zM436 138.8h120v4h-120zM599 138.8h22v4h-22zM685 138.8h52v4h-52zM285 142.8h275v4h-275zM586 142.8h39v4h-39zM681 142.8h56v4h-56zM298 146.8h262v5h-262zM582 146.8h43v5h-43zM681 146.8h51v5h-51zM298 151.8h331v4h-331zM681 151.8h47v4h-47zM298 155.8h340v4h-340zM677 155.8h51v4h-51zM298 159.8h348v5h-348zM677 159.8h51v5h-51zM298 164.8h348v4h-348zM672 164.8h56v4h-56zM298 168.8h430v4h-430zM298 172.8h434v4h-434zM298 176.8h434v5h-434zM294 181.8h438v4h-438zM290 185.8h442v4h-442zM281 189.8h451v5h-451zM277 194.8h455v4h-455zM268 198.8h464v4h-464zM264 202.8h137v5h-137zM423 202.8h305v5h-305zM260 207.8h133v4h-133zM423 207.8h301v4h-301zM255 211.8h133v4h-133zM423 211.8h292v4h-292zM255 215.8h133v5h-133zM423 215.8h297v5h-297zM724 215.8h26v5h-26zM788 215.8h35v5h-35zM255 220.8h129v4h-129zM423 220.8h331v4h-331zM767 220.8h73v4h-73zM251 224.8h129v4h-129zM423 224.8h335v4h-335zM763 224.8h90v4h-90zM247 228.8h129v4h-129zM427 228.8h430v4h-430zM238 232.8h138v5h-138zM427 232.8h426v5h-426zM229 237.8h142v4h-142zM436 237.8h413v4h-413zM229 241.8h129v4h-129zM363 241.8h4v4h-4zM419 241.8h4v4h-4zM436 241.8h413v4h-413zM234 245.8h120v5h-120zM414 245.8h430v5h-430zM234 250.8h120v4h-120zM410 250.8h430v4h-430zM234 254.8h99v4h-99zM337 254.8h13v4h-13zM410 254.8h430v4h-430zM229 258.8h99v4h-99zM410 258.8h430v4h-430zM229 262.8h95v5h-95zM410 262.8h430v5h-430zM225 267.8h95v4h-95zM410 267.8h430v4h-430zM229 271.8h91v4h-91zM406 271.8h434v4h-434zM234 275.8h60v5h-60zM307 275.8h8v5h-8zM406 275.8h430v5h-430zM234 280.8h51v4h-51zM406 280.8h430v4h-430zM238 284.8h39v4h-39zM406 284.8h425v4h-425zM238 288.8h34v5h-34zM406 288.8h425v5h-425zM234 293.8h34v4h-34zM414 293.8h409v4h-409zM234 297.8h34v4h-34zM419 297.8h404v4h-404zM419 301.8h408v5h-408zM419 306.8h378v4h-378zM806 306.8h25v4h-25zM423 310.8h370v4h-370zM806 310.8h21v4h-21zM427 314.8h357v4h-357zM806 314.8h8v4h-8zM427 318.8h353v5h-353zM432 323.8h339v4h-339zM436 327.8h331v4h-331zM436 331.8h322v5h-322zM436 336.8h318v4h-318zM436 340.8h309v4h-309zM436 344.8h305v4h-305zM436 348.8h296v5h-296zM436 353.8h284v4h-284zM436 357.8h275v4h-275zM440 361.8h241v5h-241zM444 366.8h237v4h-237zM444 370.8h237v4h-237zM444 374.8h211v5h-211zM444 379.8h215v4h-215zM449 383.8h215v4h-215zM449 387.8h215v5h-215zM449 392.8h223v4h-223zM449 396.8h223v4h-223zM444 400.8h233v4h-233zM444 404.8h246v5h-246zM444 409.8h246v4h-246zM449 413.8h245v4h-245zM453 417.8h245v5h-245zM453 422.8h241v4h-241zM453 426.8h241v4h-241zM423 430.8h9v4h-9zM449 430.8h245v4h-245zM419 434.8h279v5h-279zM410 439.8h288v4h-288zM406 443.8h292v4h-292zM406 447.8h292v5h-292zM393 452.8h305v4h-305zM358 456.8h5v4h-5zM393 456.8h314v4h-314zM358 460.8h5v5h-5zM367 460.8h340v5h-340zM350 465.8h357v4h-357zM363 469.8h339v4h-339zM358 473.8h340v5h-340zM358 478.8h323v4h-323zM354 482.8h323v4h-323zM324 486.8h17v4h-17zM350 486.8h322v4h-322zM333 490.8h8v5h-8zM346 490.8h318v5h-318zM307 495.8h8v4h-8zM333 495.8h326v4h-326zM302 499.8h18v4h-18zM333 499.8h326v4h-326zM298 503.8h361v5h-361zM298 508.8h361v4h-361zM294 512.8h361v4h-361zM272 516.8h13v4h-13zM294 516.8h352v4h-352zM272 520.8h374v5h-374zM260 525.8h386v4h-386zM264 529.8h382v4h-382zM264 533.8h387v5h-387zM264 538.8h382v4h-382zM264 542.8h378v4h-378zM277 546.8h365v5h-365zM277 551.8h77v4h-77zM358 551.8h284v4h-284zM285 555.8h65v4h-65zM363 555.8h142v4h-142zM509 555.8h133v4h-133zM307 559.8h34v5h-34zM380 559.8h120v5h-120zM513 559.8h133v5h-133zM311 564.8h26v4h-26zM388 564.8h108v4h-108zM518 564.8h137v4h-137zM320 568.8h13v4h-13zM393 568.8h99v4h-99zM518 568.8h146v4h-146zM801 568.8h17v4h-17zM874 568.8h13v4h-13zM397 572.8h86v4h-86zM526 572.8h142v4h-142zM801 572.8h22v4h-22zM874 572.8h13v4h-13zM406 576.8h73v5h-73zM530 576.8h147v5h-147zM801 576.8h43v5h-43zM849 576.8h64v5h-64zM414 581.8h56v4h-56zM539 581.8h151v4h-151zM797 581.8h125v4h-125zM423 585.8h39v4h-39zM552 585.8h146v4h-146zM793 585.8h129v4h-129zM427 589.8h17v5h-17zM556 589.8h142v5h-142zM724 589.8h13v5h-13zM788 589.8h125v5h-125zM556 594.8h211v4h-211zM784 594.8h120v4h-120zM552 598.8h344v4h-344zM552 602.8h245v4h-245zM814 602.8h78v4h-78zM552 606.8h245v5h-245zM814 606.8h69v5h-69zM552 611.8h219v4h-219zM776 611.8h12v4h-12zM814 611.8h60v4h-60zM556 615.8h215v4h-215zM818 615.8h48v4h-48zM556 619.8h207v5h-207zM823 619.8h34v5h-34zM556 624.8h198v4h-198zM560 628.8h164v4h-164zM560 632.8h160v5h-160zM556 637.8h164v4h-164zM552 641.8h172v4h-172zM548 645.8h172v5h-172zM543 650.8h172v4h-172zM543 654.8h172v4h-172zM552 658.8h168v4h-168zM556 662.8h164v5h-164zM560 667.8h164v4h-164zM560 671.8h52v4h-52zM625 671.8h103v4h-103zM573 675.8h26v5h-26zM625 675.8h103v5h-103zM573 680.8h26v4h-26zM634 680.8h90v4h-90zM586 684.8h5v4h-5zM634 684.8h77v4h-77zM634 688.8h64v4h-64zM638 692.8h52v5h-52zM646 697.8h39v4h-39zM677 701.8h4v4h-4z"/>
<path fill="#1e26ff" d="M702 43.8h18v5h-18zM702 48.8h30v4h-30zM702 52.8h43v4h-43zM526 56.8h13v4h-13zM702 56.8h56v4h-56zM281 60.8h13v5h-13zM526 60.8h17v5h-17zM707 60.8h51v5h-51zM272 65.8h22v4h-22zM526 65.8h52v4h-52zM707 65.8h56v4h-56zM264 69.8h30v4h-30zM513 69.8h65v4h-65zM707 69.8h56v4h-56zM260 73.8h42v5h-42zM328 73.8h69v5h-69zM509 73.8h69v5h-69zM707 73.8h56v5h-56zM251 78.8h69v4h-69zM328 78.8h73v4h-73zM509 78.8h64v4h-64zM707 78.8h51v4h-51zM251 82.8h155v4h-155zM509 82.8h60v4h-60zM707 82.8h51v4h-51zM251 86.8h155v4h-155zM505 86.8h64v4h-64zM707 86.8h51v4h-51zM255 90.8h151v5h-151zM496 90.8h73v5h-73zM707 90.8h56v5h-56zM255 95.8h155v4h-155zM492 95.8h73v4h-73zM702 95.8h61v4h-61zM255 99.8h155v4h-155zM492 99.8h64v4h-64zM702 99.8h61v4h-61zM255 103.8h159v5h-159zM487 103.8h69v5h-69zM698 103.8h65v5h-65zM255 108.8h159v4h-159zM483 108.8h69v4h-69zM698 108.8h65v4h-65zM260 112.8h154v4h-154zM474 112.8h78v4h-78zM694 112.8h69v4h-69zM264 116.8h155v5h-155zM470 116.8h82v5h-82zM694 116.8h64v5h-64zM272 121.8h147v4h-147zM466 121.8h86v4h-86zM690 121.8h64v4h-64zM277 125.8h146v4h-146zM457 125.8h91v4h-91zM690 125.8h60v4h-60zM281 129.8h142v5h-142zM453 129.8h99v5h-99zM685 129.8h60v5h-60zM285 134.8h138v4h-138zM449 134.8h107v4h-107zM599 134.8h9v4h-9zM685 134.8h56v4h-56zM290 138.8h133v4h-133zM440 138.8h78v4h-78zM526 138.8h30v4h-30zM599 138.8h13v4h-13zM685 138.8h52v4h-52zM294 142.8h129v4h-129zM436 142.8h77v4h-77zM548 142.8h12v4h-12zM586 142.8h30v4h-30zM681 142.8h56v4h-56zM298 146.8h211v5h-211zM556 146.8h4v5h-4zM582 146.8h43v5h-43zM681 146.8h51v5h-51zM298 151.8h207v4h-207zM565 151.8h64v4h-64zM681 151.8h47v4h-47zM298 155.8h202v4h-202zM573 155.8h65v4h-65zM677 155.8h51v4h-51zM298 159.8h198v5h-198zM578 159.8h64v5h-64zM677 159.8h47v5h-47zM298 164.8h194v4h-194zM578 164.8h68v4h-68zM672 164.8h56v4h-56zM298 168.8h189v4h-189zM578 168.8h150v4h-150zM298 172.8h189v4h-189zM578 172.8h150v4h-150zM298 176.8h185v5h-185zM578 176.8h154v5h-154zM294 181.8h189v4h-189zM573 181.8h159v4h-159zM290 185.8h189v4h-189zM573 185.8h159v4h-159zM281 189.8h198v5h-198zM573 189.8h159v5h-159zM277 194.8h202v4h-202zM573 194.8h159v4h-159zM268 198.8h151v4h-151zM423 198.8h51v4h-51zM573 198.8h155v4h-155zM264 202.8h137v5h-137zM423 202.8h51v5h-51zM569 202.8h133v5h-133zM260 207.8h133v4h-133zM427 207.8h47v4h-47zM569 207.8h108v4h-108zM255 211.8h133v4h-133zM427 211.8h43v4h-43zM569 211.8h77v4h-77zM255 215.8h129v5h-129zM432 215.8h38v5h-38zM569 215.8h65v5h-65zM255 220.8h125v4h-125zM432 220.8h34v4h-34zM569 220.8h60v4h-60zM251 224.8h125v4h-125zM436 224.8h30v4h-30zM569 224.8h52v4h-52zM247 228.8h124v4h-124zM436 228.8h21v4h-21zM565 228.8h47v4h-47zM238 232.8h129v5h-129zM436 232.8h13v5h-13zM565 232.8h43v5h-43zM229 237.8h134v4h-134zM565 237.8h34v4h-34zM229 241.8h129v4h-129zM586 241.8h5v4h-5zM234 245.8h116v5h-116zM234 250.8h112v4h-112zM234 254.8h99v4h-99zM337 254.8h4v4h-4zM229 258.8h99v4h-99zM234 262.8h90v5h-90zM234 267.8h86v4h-86zM234 271.8h81v4h-81zM234 275.8h60v5h-60zM234 280.8h51v4h-51zM238 284.8h39v4h-39zM238 288.8h34v5h-34zM234 293.8h34v4h-34zM234 297.8h34v4h-34z"/>
<path fill="#3173ff" d="M518 138.8h4v4h-4zM513 146.8h5v5h-5zM535 151.8h4v4h-4zM513 159.8h5v5h-5zM526 159.8h4v5h-4zM535 164.8h4v4h-4zM487 168.8h5v4h-5zM548 168.8h4v4h-4zM513 172.8h5v4h-5zM487 176.8h5v5h-5zM487 181.8h5v4h-5zM530 181.8h5v4h-5zM492 185.8h4v4h-4zM565 185.8h4v4h-4zM522 189.8h4v5h-4zM505 194.8h4v4h-4zM513 194.8h9v4h-9zM530 194.8h5v4h-5zM509 198.8h4v4h-4zM646 392.8h9v4h-9zM543 413.8h5v4h-5zM560 413.8h5v4h-5zM560 417.8h5v5h-5zM569 422.8h4v4h-4zM681 422.8h4v4h-4zM685 426.8h5v4h-5zM591 430.8h4v4h-4zM586 434.8h5v5h-5zM522 443.8h4v4h-4zM659 443.8h5v4h-5zM548 447.8h4v5h-4zM578 447.8h4v5h-4zM634 447.8h4v5h-4zM539 452.8h4v4h-4zM629 456.8h5v4h-5zM672 456.8h9v4h-9zM634 460.8h4v5h-4zM578 469.8h4v4h-4zM664 469.8h8v4h-8zM526 473.8h4v5h-4zM634 482.8h4v4h-4zM651 482.8h4v4h-4zM535 490.8h8v5h-8zM582 495.8h4v4h-4zM634 499.8h4v4h-4zM526 503.8h4v5h-4zM539 512.8h4v4h-4zM591 520.8h4v5h-4z"/>
<path fill="#3277ff" d="M522 138.8h4v4h-4zM518 142.8h4v4h-4zM552 146.8h4v5h-4zM552 151.8h4v4h-4zM505 155.8h4v4h-4zM530 168.8h5v4h-5zM500 172.8h5v4h-5zM560 172.8h5v4h-5zM569 172.8h9v4h-9zM526 176.8h4v5h-4zM518 181.8h8v4h-8zM518 185.8h4v4h-4zM535 185.8h4v4h-4zM556 185.8h4v4h-4zM500 194.8h5v4h-5zM530 198.8h5v4h-5zM539 198.8h4v4h-4zM556 198.8h4v4h-4z"/>
<path fill="#2f67ff" d="M513 142.8h5v4h-5zM505 181.8h4v4h-4zM569 392.8h4v4h-4zM569 396.8h4v4h-4zM642 400.8h4v4h-4zM548 404.8h4v5h-4zM672 404.8h5v5h-5zM634 409.8h4v4h-4zM530 417.8h5v5h-5zM642 417.8h4v5h-4zM565 422.8h4v4h-4zM582 422.8h4v4h-4zM629 422.8h5v4h-5zM526 426.8h13v4h-13zM556 426.8h4v4h-4zM646 426.8h5v4h-5zM548 430.8h4v4h-4zM612 430.8h4v4h-4zM625 434.8h4v5h-4zM634 434.8h4v5h-4zM548 439.8h4v4h-4zM560 439.8h5v4h-5zM595 439.8h4v4h-4zM604 439.8h4v4h-4zM681 439.8h4v4h-4zM535 443.8h4v4h-4zM625 443.8h4v4h-4zM672 447.8h9v5h-9zM659 452.8h5v4h-5zM685 452.8h5v4h-5zM556 456.8h4v4h-4zM642 456.8h4v4h-4zM513 460.8h5v5h-5zM543 460.8h5v5h-5zM522 465.8h4v4h-4zM690 465.8h4v4h-4zM556 469.8h4v4h-4zM672 469.8h5v4h-5zM694 469.8h8v4h-8zM535 473.8h4v5h-4zM578 473.8h4v5h-4zM694 473.8h4v5h-4zM599 478.8h5v4h-5zM608 478.8h4v4h-4zM642 478.8h4v4h-4zM677 478.8h4v4h-4zM518 482.8h4v4h-4zM582 482.8h4v4h-4zM565 486.8h4v4h-4zM668 486.8h4v4h-4zM552 490.8h4v5h-4zM659 490.8h5v5h-5zM629 495.8h5v4h-5zM470 503.8h4v5h-4zM616 503.8h5v5h-5zM552 516.8h4v4h-4z"/>
<path fill="#36a9ff" d="M522 142.8h4v4h-4zM522 215.8h4v5h-4zM543 220.8h5v4h-5zM591 460.8h4v5h-4z"/>
<path fill="#3170ff" d="M526 142.8h4v4h-4zM543 142.8h5v4h-5zM560 151.8h5v4h-5zM522 155.8h4v4h-4zM500 159.8h5v5h-5zM539 159.8h4v5h-4zM513 168.8h5v4h-5zM535 168.8h4v4h-4zM565 168.8h13v4h-13zM535 172.8h4v4h-4zM556 176.8h4v5h-4zM526 181.8h4v4h-4zM492 189.8h4v5h-4zM560 189.8h5v5h-5zM638 387.8h4v5h-4zM548 392.8h4v4h-4zM560 392.8h5v4h-5zM659 392.8h5v4h-5zM677 404.8h8v5h-8zM672 409.8h5v4h-5zM681 409.8h9v4h-9zM569 413.8h9v4h-9zM565 417.8h4v5h-4zM672 422.8h5v4h-5zM526 430.8h4v4h-4zM586 430.8h5v4h-5zM599 430.8h5v4h-5zM539 434.8h4v5h-4zM638 434.8h4v5h-4zM573 439.8h5v4h-5zM646 439.8h5v4h-5zM539 443.8h4v4h-4zM586 443.8h9v4h-9zM634 443.8h4v4h-4zM604 447.8h4v5h-4zM616 447.8h5v5h-5zM612 452.8h4v4h-4zM629 452.8h5v4h-5zM629 460.8h5v5h-5zM578 465.8h4v4h-4zM664 465.8h8v4h-8zM526 478.8h4v4h-4zM522 482.8h4v4h-4zM530 482.8h5v4h-5zM625 482.8h4v4h-4zM586 486.8h5v4h-5zM595 486.8h4v4h-4zM513 499.8h5v4h-5zM569 499.8h4v4h-4zM530 503.8h5v5h-5zM487 508.8h5v4h-5zM535 508.8h4v4h-4zM573 508.8h5v4h-5zM599 512.8h5v4h-5zM586 516.8h5v4h-5zM608 529.8h4v4h-4zM608 533.8h4v5h-4zM608 538.8h4v4h-4z"/>
<path fill="#3894ff" d="M530 142.8h5v4h-5zM530 151.8h5v4h-5zM582 456.8h4v4h-4zM604 465.8h4v4h-4z"/>
<path fill="#3275ff" d="M535 142.8h4v4h-4zM539 146.8h4v5h-4zM548 151.8h4v4h-4zM500 155.8h5v4h-5zM513 155.8h5v4h-5zM539 164.8h4v4h-4zM500 176.8h5v5h-5zM530 176.8h5v5h-5zM522 185.8h4v4h-4zM655 379.8h4v4h-4zM565 387.8h4v5h-4z"/>
<path fill="#337bff" d="M539 142.8h4v4h-4zM496 159.8h4v5h-4z"/>
<path fill="#3171ff" d="M509 146.8h4v5h-4zM513 151.8h5v4h-5zM539 151.8h4v4h-4zM518 155.8h4v4h-4zM526 155.8h4v4h-4zM548 155.8h4v4h-4zM569 155.8h4v4h-4zM535 159.8h4v5h-4zM569 159.8h4v5h-4zM552 164.8h4v4h-4zM556 168.8h4v4h-4zM492 172.8h4v4h-4zM518 176.8h4v5h-4zM543 176.8h5v5h-5zM509 181.8h4v4h-4zM539 181.8h4v4h-4zM565 181.8h8v4h-8zM496 185.8h9v4h-9zM530 185.8h5v4h-5zM496 194.8h4v4h-4zM560 194.8h5v4h-5zM535 198.8h4v4h-4zM505 202.8h4v5h-4zM655 387.8h4v5h-4zM642 392.8h4v4h-4zM664 400.8h4v4h-4zM548 422.8h4v4h-4zM586 426.8h9v4h-9zM535 430.8h8v4h-8zM651 430.8h4v4h-4zM522 434.8h4v5h-4zM518 439.8h4v4h-4zM634 439.8h4v4h-4zM655 439.8h4v4h-4zM612 443.8h4v4h-4zM612 447.8h4v5h-4zM505 456.8h4v4h-4zM664 460.8h4v5h-4zM677 460.8h4v5h-4zM535 469.8h4v4h-4zM569 478.8h4v4h-4zM586 478.8h9v4h-9zM591 482.8h4v4h-4zM466 486.8h4v4h-4zM560 490.8h9v5h-9zM625 490.8h4v5h-4zM539 508.8h4v4h-4zM591 512.8h4v4h-4z"/>
<path fill="#35b3ff" d="M518 146.8h4v5h-4zM530 211.8h5v4h-5zM535 220.8h4v4h-4zM552 228.8h4v4h-4zM548 232.8h4v5h-4zM616 460.8h5v5h-5zM492 482.8h4v4h-4z"/>
<path fill="#3274ff" d="M522 146.8h4v5h-4zM548 146.8h4v5h-4zM522 159.8h4v5h-4zM509 164.8h4v4h-4zM543 172.8h5v4h-5zM496 189.8h4v5h-4zM513 198.8h5v4h-5zM646 387.8h5v5h-5zM573 422.8h5v4h-5zM659 439.8h5v4h-5zM535 452.8h4v4h-4zM681 465.8h4v4h-4zM543 503.8h5v5h-5zM500 508.8h5v4h-5zM591 516.8h4v4h-4z"/>
<path fill="#3172ff" d="M526 146.8h4v5h-4zM518 164.8h4v4h-4zM526 164.8h4v4h-4zM556 164.8h4v4h-4zM492 168.8h4v4h-4zM518 168.8h4v4h-4zM526 172.8h4v4h-4zM539 172.8h4v4h-4zM483 176.8h4v5h-4zM522 176.8h4v5h-4zM500 189.8h5v5h-5zM522 194.8h4v4h-4zM526 198.8h4v4h-4zM548 198.8h4v4h-4zM462 228.8h4v4h-4zM642 383.8h4v4h-4zM655 383.8h4v4h-4zM565 392.8h4v4h-4zM548 400.8h4v4h-4zM552 409.8h8v4h-8zM690 413.8h4v4h-4zM543 417.8h5v5h-5zM543 422.8h5v4h-5zM591 422.8h4v4h-4zM573 426.8h5v4h-5zM638 430.8h4v4h-4zM642 434.8h4v5h-4zM668 434.8h4v5h-4zM552 439.8h4v4h-4zM629 443.8h5v4h-5zM655 443.8h4v4h-4zM582 447.8h4v5h-4zM608 447.8h4v5h-4zM694 447.8h4v5h-4zM578 452.8h4v4h-4zM530 460.8h5v5h-5zM685 465.8h5v4h-5zM582 469.8h4v4h-4zM530 473.8h5v5h-5zM586 482.8h5v4h-5zM604 482.8h4v4h-4zM629 482.8h5v4h-5zM616 486.8h5v4h-5zM655 486.8h4v4h-4zM578 490.8h4v5h-4zM535 495.8h4v4h-4zM578 495.8h4v4h-4zM509 499.8h4v4h-4zM496 503.8h4v5h-4zM483 508.8h4v4h-4zM505 508.8h4v4h-4zM586 520.8h5v5h-5z"/>
<path fill="#3174ff" d="M530 146.8h5v5h-5zM569 164.8h4v4h-4zM487 172.8h5v4h-5zM565 176.8h4v5h-4zM548 181.8h4v4h-4zM560 181.8h5v4h-5zM556 404.8h4v5h-4zM685 422.8h5v4h-5zM548 426.8h4v4h-4zM642 430.8h4v4h-4zM668 430.8h4v4h-4zM681 469.8h4v4h-4z"/>
<path fill="#3276ff" d="M535 146.8h4v5h-4zM522 151.8h4v4h-4zM543 151.8h5v4h-5zM509 155.8h4v4h-4zM505 159.8h4v5h-4zM530 164.8h5v4h-5zM548 164.8h4v4h-4zM539 168.8h4v4h-4zM509 172.8h4v4h-4zM530 172.8h5v4h-5zM513 176.8h5v5h-5zM526 185.8h4v4h-4zM552 185.8h4v4h-4zM505 189.8h8v5h-8zM509 194.8h4v4h-4zM522 198.8h4v4h-4zM552 198.8h4v4h-4z"/>
<path fill="#3278ff" d="M543 146.8h5v5h-5zM526 168.8h4v4h-4zM505 172.8h4v4h-4zM505 176.8h8v5h-8zM560 176.8h5v5h-5zM573 176.8h5v5h-5zM535 181.8h4v4h-4zM539 185.8h4v4h-4zM487 215.8h5v5h-5z"/>
<path fill="#306cff" d="M505 151.8h4v4h-4zM535 155.8h4v4h-4zM560 155.8h5v4h-5zM543 159.8h5v5h-5zM522 164.8h4v4h-4zM505 168.8h4v4h-4zM496 172.8h4v4h-4zM535 189.8h4v5h-4zM535 194.8h4v4h-4zM629 392.8h5v4h-5zM664 392.8h4v4h-4zM565 396.8h4v4h-4zM638 396.8h4v4h-4zM543 404.8h5v5h-5zM634 404.8h4v5h-4zM646 404.8h5v5h-5zM655 404.8h4v5h-4zM664 404.8h4v5h-4zM642 409.8h4v4h-4zM582 413.8h4v4h-4zM548 417.8h4v5h-4zM552 422.8h8v4h-8zM677 422.8h4v4h-4zM634 426.8h4v4h-4zM543 430.8h5v4h-5zM629 430.8h5v4h-5zM578 434.8h4v5h-4zM621 434.8h4v5h-4zM694 434.8h4v5h-4zM513 439.8h5v4h-5zM625 439.8h4v4h-4zM642 439.8h4v4h-4zM642 443.8h4v4h-4zM651 443.8h4v4h-4zM681 443.8h4v4h-4zM513 452.8h5v4h-5zM616 452.8h5v4h-5zM642 452.8h4v4h-4zM621 456.8h4v4h-4zM659 456.8h5v4h-5zM539 460.8h4v5h-4zM539 465.8h4v4h-4zM573 465.8h5v4h-5zM672 465.8h5v4h-5zM560 473.8h5v5h-5zM664 473.8h4v5h-4zM518 478.8h4v4h-4zM573 478.8h5v4h-5zM616 478.8h5v4h-5zM513 482.8h5v4h-5zM556 482.8h4v4h-4zM548 486.8h4v4h-4zM621 486.8h4v4h-4zM582 490.8h4v5h-4zM530 495.8h5v4h-5zM586 499.8h5v4h-5zM604 499.8h4v4h-4zM612 499.8h4v4h-4zM642 499.8h4v4h-4zM573 503.8h5v5h-5zM470 508.8h4v4h-4zM582 508.8h4v4h-4zM552 512.8h4v4h-4zM556 516.8h4v4h-4zM604 516.8h4v4h-4zM560 525.8h5v4h-5zM599 525.8h5v4h-5z"/>
<path fill="#306fff" d="M509 151.8h4v4h-4zM543 194.8h5v4h-5zM659 383.8h5v4h-5zM518 434.8h4v5h-4zM651 434.8h4v5h-4zM629 447.8h5v5h-5zM569 469.8h4v4h-4zM513 478.8h5v4h-5zM599 516.8h5v4h-5zM612 516.8h4v4h-4zM578 520.8h4v5h-4zM604 533.8h4v5h-4z"/>
<path fill="#36adff" d="M518 151.8h4v4h-4zM518 220.8h4v4h-4zM591 456.8h4v4h-4zM492 486.8h4v4h-4zM608 495.8h4v4h-4z"/>
<path fill="#306dff" d="M526 151.8h4v4h-4zM492 164.8h4v4h-4zM560 164.8h5v4h-5zM573 164.8h5v4h-5zM496 168.8h4v4h-4zM522 172.8h4v4h-4zM496 176.8h4v5h-4zM535 176.8h4v5h-4zM548 176.8h4v5h-4zM500 181.8h5v4h-5zM552 189.8h8v5h-8zM552 194.8h4v4h-4zM500 202.8h5v5h-5zM573 396.8h5v4h-5zM638 400.8h4v4h-4zM651 400.8h4v4h-4zM668 400.8h4v4h-4zM638 404.8h4v5h-4zM539 409.8h13v4h-13zM569 409.8h9v4h-9zM664 409.8h8v4h-8zM677 409.8h4v4h-4zM548 413.8h4v4h-4zM565 413.8h4v4h-4zM573 417.8h5v5h-5zM659 417.8h5v5h-5zM685 417.8h5v5h-5zM586 422.8h5v4h-5zM634 422.8h4v4h-4zM629 426.8h5v4h-5zM677 426.8h4v4h-4zM556 430.8h4v4h-4zM573 430.8h5v4h-5zM604 430.8h4v4h-4zM681 430.8h4v4h-4zM599 434.8h5v5h-5zM681 434.8h9v5h-9zM522 439.8h4v4h-4zM539 439.8h9v4h-9zM586 439.8h9v4h-9zM664 439.8h4v4h-4zM677 439.8h4v4h-4zM513 443.8h5v4h-5zM616 443.8h5v4h-5zM677 443.8h4v4h-4zM694 443.8h4v4h-4zM526 447.8h4v5h-4zM672 452.8h5v4h-5zM690 452.8h8v4h-8zM578 456.8h4v4h-4zM500 460.8h9v5h-9zM565 460.8h4v5h-4zM651 460.8h4v5h-4zM668 460.8h9v5h-9zM535 465.8h4v4h-4zM569 473.8h9v5h-9zM586 473.8h9v5h-9zM565 478.8h4v4h-4zM664 478.8h8v4h-8zM539 482.8h4v4h-4zM560 482.8h5v4h-5zM578 482.8h4v4h-4zM599 482.8h5v4h-5zM612 482.8h4v4h-4zM659 482.8h5v4h-5zM518 486.8h4v4h-4zM569 486.8h4v4h-4zM522 490.8h4v5h-4zM586 490.8h5v5h-5zM518 495.8h4v4h-4zM539 495.8h4v4h-4zM548 495.8h4v4h-4zM565 495.8h4v4h-4zM621 495.8h4v4h-4zM655 495.8h4v4h-4zM526 499.8h4v4h-4zM638 499.8h4v4h-4zM509 503.8h4v5h-4zM522 503.8h4v5h-4zM548 508.8h4v4h-4zM560 508.8h5v4h-5zM543 512.8h5v4h-5zM586 512.8h5v4h-5zM543 516.8h5v4h-5zM560 516.8h9v4h-9zM595 520.8h4v5h-4zM608 520.8h4v5h-4z"/>
<path fill="#3379ff" d="M556 151.8h4v4h-4zM543 164.8h5v4h-5zM543 168.8h5v4h-5zM505 207.8h4v4h-4zM457 232.8h5v5h-5z"/>
<path fill="#306eff" d="M530 155.8h5v4h-5zM518 159.8h4v5h-4zM548 159.8h4v5h-4zM513 164.8h5v4h-5zM500 168.8h5v4h-5zM522 168.8h4v4h-4zM518 172.8h4v4h-4zM548 172.8h8v4h-8zM492 181.8h4v4h-4zM556 194.8h4v4h-4zM543 198.8h5v4h-5zM509 207.8h4v4h-4zM560 215.8h5v5h-5zM642 379.8h4v4h-4zM565 383.8h4v4h-4zM560 387.8h5v5h-5zM638 392.8h4v4h-4zM642 396.8h4v4h-4zM668 396.8h4v4h-4zM552 404.8h4v5h-4zM573 404.8h5v5h-5zM629 404.8h5v5h-5zM668 404.8h4v5h-4zM629 409.8h5v4h-5zM569 417.8h4v5h-4zM690 417.8h4v5h-4zM543 426.8h5v4h-5zM552 426.8h4v4h-4zM681 426.8h4v4h-4zM690 426.8h4v4h-4zM530 430.8h5v4h-5zM582 430.8h4v4h-4zM634 430.8h4v4h-4zM664 430.8h4v4h-4zM530 434.8h5v5h-5zM565 434.8h4v5h-4zM595 434.8h4v5h-4zM535 439.8h4v4h-4zM599 439.8h5v4h-5zM651 439.8h4v4h-4zM518 443.8h4v4h-4zM548 443.8h12v4h-12zM599 443.8h5v4h-5zM668 443.8h4v4h-4zM513 447.8h5v5h-5zM535 447.8h4v5h-4zM543 447.8h5v5h-5zM556 447.8h4v5h-4zM591 447.8h4v5h-4zM526 452.8h9v4h-9zM509 456.8h4v4h-4zM543 456.8h5v4h-5zM552 456.8h4v4h-4zM634 456.8h4v4h-4zM646 456.8h5v4h-5zM668 456.8h4v4h-4zM543 465.8h9v4h-9zM548 469.8h8v4h-8zM565 473.8h4v5h-4zM651 478.8h4v4h-4zM646 482.8h5v4h-5zM655 482.8h4v4h-4zM582 486.8h4v4h-4zM560 495.8h5v4h-5zM548 499.8h4v4h-4zM573 499.8h5v4h-5zM479 503.8h4v5h-4zM492 503.8h4v5h-4zM548 503.8h4v5h-4zM518 508.8h4v4h-4zM578 508.8h4v4h-4zM591 508.8h4v4h-4zM599 508.8h5v4h-5zM573 512.8h5v4h-5zM582 512.8h4v4h-4zM582 516.8h4v4h-4zM595 516.8h4v4h-4zM552 520.8h4v5h-4zM582 520.8h4v5h-4zM565 525.8h4v4h-4zM612 529.8h4v4h-4zM612 533.8h4v5h-4z"/>
<path fill="#316fff" d="M539 155.8h4v4h-4zM552 155.8h4v4h-4zM509 159.8h4v5h-4zM573 159.8h5v5h-5zM509 168.8h4v4h-4zM556 172.8h4v4h-4zM539 176.8h4v5h-4zM552 176.8h4v5h-4zM496 181.8h4v4h-4zM505 185.8h4v4h-4zM500 198.8h9v4h-9zM509 202.8h4v5h-4zM642 387.8h4v5h-4zM651 387.8h4v5h-4zM659 387.8h5v5h-5zM573 392.8h5v4h-5zM634 392.8h4v4h-4zM655 392.8h4v4h-4zM548 396.8h4v4h-4zM664 396.8h4v4h-4zM578 400.8h4v4h-4zM685 404.8h5v5h-5zM638 409.8h4v4h-4zM694 417.8h4v5h-4zM569 426.8h4v4h-4zM569 430.8h4v4h-4zM595 430.8h4v4h-4zM535 434.8h4v5h-4zM569 434.8h9v5h-9zM582 434.8h4v5h-4zM591 434.8h4v5h-4zM608 434.8h4v5h-4zM646 434.8h5v5h-5zM664 434.8h4v5h-4zM556 439.8h4v4h-4zM616 439.8h5v4h-5zM690 439.8h8v4h-8zM573 443.8h5v4h-5zM646 443.8h5v4h-5zM509 447.8h4v5h-4zM539 447.8h4v5h-4zM642 447.8h4v5h-4zM543 452.8h9v4h-9zM634 452.8h4v4h-4zM526 456.8h9v4h-9zM526 460.8h4v5h-4zM642 460.8h4v5h-4zM659 460.8h5v5h-5zM690 460.8h4v5h-4zM582 465.8h4v4h-4zM539 469.8h4v4h-4zM685 469.8h5v4h-5zM530 478.8h5v4h-5zM595 478.8h4v4h-4zM595 482.8h4v4h-4zM659 486.8h5v4h-5zM466 490.8h4v5h-4zM526 490.8h4v5h-4zM616 495.8h5v4h-5zM625 495.8h4v4h-4zM530 499.8h5v4h-5zM543 499.8h5v4h-5zM629 499.8h5v4h-5zM466 503.8h4v5h-4zM513 503.8h5v5h-5zM474 508.8h5v4h-5zM543 508.8h5v4h-5zM586 508.8h5v4h-5zM595 508.8h4v4h-4zM548 512.8h4v4h-4zM560 512.8h9v4h-9zM612 512.8h4v4h-4zM548 516.8h4v4h-4zM578 516.8h4v4h-4zM608 516.8h4v4h-4zM565 520.8h4v5h-4zM599 520.8h9v5h-9zM552 525.8h4v4h-4zM604 529.8h4v4h-4z"/>
<path fill="#2f68ff" d="M543 155.8h5v4h-5zM556 159.8h4v5h-4zM505 164.8h4v4h-4zM560 168.8h5v4h-5zM539 189.8h9v5h-9zM539 194.8h4v4h-4zM552 392.8h4v4h-4zM651 396.8h4v4h-4zM552 400.8h4v4h-4zM569 404.8h4v5h-4zM651 409.8h4v4h-4zM539 413.8h4v4h-4zM552 413.8h4v4h-4zM655 413.8h4v4h-4zM629 417.8h5v5h-5zM578 422.8h4v4h-4zM668 422.8h4v4h-4zM595 426.8h4v4h-4zM522 430.8h4v4h-4zM608 430.8h4v4h-4zM690 430.8h4v4h-4zM552 434.8h4v5h-4zM616 434.8h5v5h-5zM672 434.8h5v5h-5zM565 443.8h4v4h-4zM621 447.8h4v5h-4zM664 447.8h4v5h-4zM509 452.8h4v4h-4zM556 452.8h4v4h-4zM668 452.8h4v4h-4zM638 456.8h4v4h-4zM681 456.8h4v4h-4zM694 456.8h4v4h-4zM578 460.8h4v5h-4zM509 465.8h4v4h-4zM560 465.8h5v4h-5zM599 473.8h5v5h-5zM535 478.8h4v4h-4zM548 478.8h4v4h-4zM578 478.8h4v4h-4zM569 482.8h4v4h-4zM509 486.8h4v4h-4zM625 486.8h4v4h-4zM556 490.8h4v5h-4zM591 499.8h4v4h-4zM500 503.8h5v5h-5zM518 503.8h4v5h-4zM582 503.8h4v5h-4zM530 508.8h5v4h-5zM556 508.8h4v4h-4zM565 508.8h4v4h-4zM578 512.8h4v4h-4zM569 520.8h4v5h-4zM556 525.8h4v4h-4zM569 525.8h9v4h-9zM604 525.8h4v4h-4z"/>
<path fill="#2f69ff" d="M556 155.8h4v4h-4zM565 155.8h4v4h-4zM496 164.8h9v4h-9zM651 379.8h4v4h-4zM651 404.8h4v5h-4zM659 404.8h5v5h-5zM582 417.8h4v5h-4zM668 417.8h4v5h-4zM539 422.8h4v4h-4zM651 422.8h4v4h-4zM672 426.8h5v4h-5zM560 430.8h5v4h-5zM578 430.8h4v4h-4zM543 434.8h5v5h-5zM604 434.8h4v5h-4zM629 434.8h5v5h-5zM569 439.8h4v4h-4zM612 439.8h4v4h-4zM569 443.8h4v4h-4zM608 443.8h4v4h-4zM690 443.8h4v4h-4zM552 447.8h4v5h-4zM599 447.8h5v5h-5zM638 447.8h4v5h-4zM646 447.8h5v5h-5zM659 447.8h5v5h-5zM518 452.8h4v4h-4zM565 452.8h4v4h-4zM638 452.8h4v4h-4zM651 452.8h8v4h-8zM677 452.8h4v4h-4zM522 456.8h4v4h-4zM548 460.8h4v5h-4zM573 460.8h5v5h-5zM638 460.8h4v5h-4zM500 469.8h5v4h-5zM543 473.8h5v5h-5zM677 473.8h4v5h-4zM539 478.8h4v4h-4zM552 478.8h4v4h-4zM621 482.8h4v4h-4zM642 482.8h4v4h-4zM522 486.8h8v4h-8zM578 486.8h4v4h-4zM505 490.8h4v5h-4zM513 490.8h5v5h-5zM556 495.8h4v4h-4zM573 495.8h5v4h-5zM651 495.8h4v4h-4zM505 499.8h4v4h-4zM578 503.8h4v5h-4zM595 503.8h4v5h-4zM655 503.8h4v5h-4zM608 525.8h4v4h-4z"/>
<path fill="#306bff" d="M530 159.8h5v5h-5zM565 159.8h4v5h-4zM565 164.8h4v4h-4zM509 185.8h4v4h-4zM526 189.8h4v5h-4zM526 194.8h4v4h-4zM668 392.8h4v4h-4zM573 400.8h5v4h-5zM646 400.8h5v4h-5zM565 409.8h4v4h-4zM578 417.8h4v5h-4zM690 422.8h4v4h-4zM526 434.8h4v5h-4zM556 434.8h4v5h-4zM655 434.8h4v5h-4zM638 439.8h4v4h-4zM509 443.8h4v4h-4zM664 443.8h4v4h-4zM672 443.8h5v4h-5zM530 447.8h5v5h-5zM690 447.8h4v5h-4zM646 452.8h5v4h-5zM500 456.8h5v4h-5zM569 456.8h4v4h-4zM664 456.8h4v4h-4zM685 456.8h5v4h-5zM509 460.8h4v5h-4zM526 465.8h4v4h-4zM556 465.8h4v4h-4zM677 465.8h4v4h-4zM496 469.8h4v4h-4zM677 469.8h4v4h-4zM681 473.8h4v5h-4zM522 478.8h4v4h-4zM556 478.8h4v4h-4zM530 490.8h5v5h-5zM573 490.8h5v5h-5zM526 495.8h4v4h-4zM591 495.8h4v4h-4zM518 499.8h4v4h-4zM578 499.8h8v4h-8zM569 503.8h4v5h-4zM586 503.8h5v5h-5zM625 503.8h4v5h-4zM479 508.8h4v4h-4zM569 508.8h4v4h-4zM608 508.8h8v4h-8zM595 512.8h4v4h-4zM548 520.8h4v5h-4zM599 529.8h5v4h-5z"/>
<path fill="#2e66ff" d="M552 159.8h4v5h-4zM655 396.8h4v4h-4zM560 404.8h5v5h-5zM642 404.8h4v5h-4zM664 413.8h4v4h-4zM681 413.8h4v4h-4zM681 417.8h4v5h-4zM642 422.8h4v4h-4zM539 426.8h4v4h-4zM560 426.8h5v4h-5zM655 426.8h4v4h-4zM616 430.8h5v4h-5zM543 443.8h5v4h-5zM681 447.8h4v5h-4zM625 456.8h4v4h-4zM651 456.8h8v4h-8zM625 460.8h4v5h-4zM646 460.8h5v5h-5zM685 460.8h5v5h-5zM496 465.8h4v4h-4zM659 469.8h5v4h-5zM595 473.8h4v5h-4zM672 473.8h5v5h-5zM672 482.8h5v4h-5zM543 486.8h5v4h-5zM573 486.8h5v4h-5zM646 499.8h5v4h-5zM487 503.8h5v5h-5zM560 503.8h5v5h-5zM509 508.8h9v4h-9zM526 508.8h4v4h-4zM651 512.8h4v4h-4zM560 520.8h5v5h-5z"/>
<path fill="#2f66ff" d="M560 159.8h5v5h-5zM560 396.8h5v4h-5zM565 404.8h4v5h-4zM659 409.8h5v4h-5zM677 413.8h4v4h-4zM685 413.8h5v4h-5zM659 422.8h5v4h-5zM651 426.8h4v4h-4zM659 426.8h5v4h-5zM668 439.8h4v4h-4zM578 443.8h4v4h-4zM586 447.8h5v5h-5zM625 447.8h4v5h-4zM651 447.8h4v5h-4zM569 452.8h4v4h-4zM569 460.8h4v5h-4zM526 469.8h4v4h-4zM513 473.8h5v5h-5zM668 482.8h4v4h-4zM543 495.8h5v4h-5zM586 525.8h5v4h-5z"/>
<path fill="#306aff" d="M552 168.8h4v4h-4zM569 387.8h4v5h-4zM638 417.8h4v5h-4zM535 422.8h4v4h-4zM552 430.8h4v4h-4zM560 434.8h5v5h-5zM629 439.8h5v4h-5zM672 439.8h5v4h-5zM668 447.8h4v5h-4zM664 452.8h4v4h-4zM513 456.8h5v4h-5zM548 456.8h4v4h-4zM552 465.8h4v4h-4zM569 465.8h4v4h-4zM694 465.8h4v4h-4zM582 473.8h4v5h-4zM604 473.8h4v5h-4zM608 482.8h4v4h-4zM535 486.8h4v4h-4zM522 495.8h4v4h-4zM569 495.8h4v4h-4zM608 512.8h4v4h-4zM591 525.8h4v4h-4z"/>
<path fill="#3279ff" d="M565 172.8h4v4h-4zM548 185.8h4v4h-4zM518 198.8h4v4h-4z"/>
<path fill="#3896ff" d="M492 176.8h4v5h-4z"/>
<path fill="#337aff" d="M569 176.8h4v5h-4zM543 181.8h5v4h-5zM552 181.8h8v4h-8z"/>
<path fill="#2f6aff" d="M513 181.8h5v4h-5zM530 189.8h5v5h-5zM552 417.8h8v5h-8zM646 430.8h5v4h-5zM685 430.8h5v4h-5zM530 439.8h5v4h-5zM604 443.8h4v4h-4zM573 456.8h5v4h-5zM690 456.8h4v4h-4zM535 460.8h4v5h-4zM556 460.8h4v5h-4zM655 460.8h4v5h-4zM681 460.8h4v5h-4zM694 460.8h4v5h-4zM543 469.8h5v4h-5zM612 478.8h4v4h-4zM535 482.8h4v4h-4zM573 482.8h5v4h-5zM530 486.8h5v4h-5zM539 486.8h4v4h-4zM560 486.8h5v4h-5zM509 495.8h9v4h-9zM586 495.8h5v4h-5zM522 499.8h4v4h-4zM474 503.8h5v5h-5zM569 512.8h4v4h-4z"/>
<path fill="#379eff" d="M513 185.8h5v4h-5zM548 211.8h4v4h-4zM530 224.8h5v4h-5zM608 452.8h4v4h-4z"/>
<path fill="#34c0ff" d="M543 185.8h5v4h-5zM530 207.8h5v4h-5zM513 318.8h5v5h-5zM625 512.8h4v4h-4z"/>
<path fill="#389aff" d="M560 185.8h5v4h-5zM548 202.8h4v5h-4zM535 224.8h4v4h-4z"/>
<path fill="#36a5ff" d="M513 189.8h5v5h-5zM496 275.8h4v5h-4z"/>
<path fill="#35b7ff" d="M518 189.8h4v5h-4zM539 202.8h4v5h-4zM535 228.8h4v4h-4zM453 241.8h4v4h-4zM457 250.8h5v4h-5zM513 267.8h5v4h-5zM487 288.8h5v5h-5zM509 336.8h4v4h-4zM479 499.8h4v4h-4zM646 508.8h5v4h-5zM616 516.8h5v4h-5z"/>
<path fill="#3790ff" d="M548 189.8h4v5h-4zM591 452.8h4v4h-4zM599 460.8h5v5h-5zM591 465.8h4v4h-4zM599 465.8h5v4h-5z"/>
<path fill="#368eff" d="M548 194.8h4v4h-4zM526 224.8h4v4h-4zM526 228.8h4v4h-4zM552 232.8h4v5h-4zM599 456.8h5v4h-5z"/>
<path fill="#1d23ff" d="M728 198.8h4v4h-4zM702 202.8h26v5h-26zM677 207.8h47v4h-47zM646 211.8h69v4h-69zM638 215.8h82v5h-82zM724 215.8h26v5h-26zM788 215.8h35v5h-35zM634 220.8h120v4h-120zM767 220.8h73v4h-73zM625 224.8h133v4h-133zM763 224.8h90v4h-90zM621 228.8h236v4h-236zM616 232.8h237v5h-237zM612 237.8h237v4h-237zM608 241.8h241v4h-241zM604 245.8h240v5h-240zM599 250.8h241v4h-241zM599 254.8h241v4h-241zM599 258.8h241v4h-241zM599 262.8h241v5h-241zM599 267.8h241v4h-241zM599 271.8h241v4h-241zM599 275.8h237v5h-237zM599 280.8h237v4h-237zM599 284.8h232v4h-232zM599 288.8h232v5h-232zM599 293.8h224v4h-224zM599 297.8h224v4h-224zM599 301.8h228v5h-228zM599 306.8h198v4h-198zM806 306.8h25v4h-25zM599 310.8h194v4h-194zM806 310.8h21v4h-21zM599 314.8h185v4h-185zM806 314.8h8v4h-8zM599 318.8h181v5h-181zM599 323.8h172v4h-172zM599 327.8h168v4h-168zM646 331.8h112v5h-112zM651 336.8h103v4h-103zM655 340.8h90v4h-90zM659 344.8h82v4h-82zM668 348.8h64v5h-64zM672 353.8h43v4h-43zM677 357.8h21v4h-21z"/>
<path fill="#379dff" d="M513 202.8h5v5h-5zM548 224.8h4v4h-4zM548 228.8h4v4h-4zM556 237.8h4v4h-4zM595 456.8h4v4h-4z"/>
<path fill="#31d9ff" d="M518 202.8h8v5h-8zM513 228.8h5v4h-5zM513 237.8h5v4h-5zM470 241.8h4v4h-4zM474 250.8h5v4h-5zM457 262.8h5v5h-5zM535 340.8h4v4h-4zM629 465.8h5v4h-5zM479 490.8h4v5h-4zM496 499.8h4v4h-4z"/>
<path fill="#35b6ff" d="M526 202.8h4v5h-4zM462 254.8h4v4h-4zM556 340.8h4v4h-4z"/>
<path fill="#34baff" d="M530 202.8h5v5h-5zM535 211.8h4v4h-4zM513 215.8h5v5h-5zM492 224.8h4v4h-4zM492 280.8h4v4h-4zM560 323.8h5v4h-5zM509 473.8h4v5h-4zM470 495.8h4v4h-4z"/>
<path fill="#34c1ff" d="M535 202.8h4v5h-4zM466 224.8h4v4h-4zM474 241.8h5v4h-5zM513 254.8h5v4h-5zM487 284.8h5v4h-5zM492 495.8h4v4h-4zM604 495.8h4v4h-4z"/>
<path fill="#37a1ff" d="M543 202.8h5v5h-5z"/>
<path fill="#30e0ff" d="M552 202.8h4v5h-4zM496 220.8h4v4h-4zM487 228.8h5v4h-5zM548 275.8h4v5h-4zM552 323.8h4v4h-4zM569 340.8h4v4h-4zM492 490.8h4v5h-4z"/>
<path fill="#33c7ff" d="M513 207.8h5v4h-5zM509 220.8h4v4h-4zM509 224.8h4v4h-4zM518 237.8h4v4h-4zM496 271.8h4v4h-4zM474 275.8h5v5h-5zM492 275.8h4v5h-4zM474 280.8h5v4h-5zM496 280.8h4v4h-4zM573 310.8h5v4h-5zM500 490.8h5v5h-5zM474 495.8h5v4h-5z"/>
<path fill="#378fff" d="M518 207.8h4v4h-4zM556 215.8h4v5h-4zM582 460.8h4v5h-4zM595 469.8h4v4h-4z"/>
<path fill="#37a3ff" d="M522 207.8h4v4h-4zM539 224.8h4v4h-4zM543 237.8h5v4h-5zM552 237.8h4v4h-4z"/>
<path fill="#35afff" d="M526 207.8h4v4h-4zM535 232.8h4v5h-4zM604 503.8h4v5h-4z"/>
<path fill="#32d2ff" d="M535 207.8h4v4h-4zM539 211.8h4v4h-4zM483 232.8h9v5h-9zM522 237.8h4v4h-4zM509 323.8h4v4h-4zM496 478.8h4v4h-4zM496 490.8h4v5h-4zM612 495.8h4v4h-4z"/>
<path fill="#35b0ff" d="M539 207.8h4v4h-4zM548 207.8h4v4h-4zM470 224.8h4v4h-4zM586 460.8h5v5h-5z"/>
<path fill="#3899ff" d="M543 207.8h5v4h-5zM595 460.8h4v5h-4z"/>
<path fill="#32d1ff" d="M552 207.8h4v4h-4zM505 220.8h4v4h-4zM492 232.8h4v5h-4zM526 241.8h4v4h-4zM492 254.8h4v4h-4zM496 293.8h4v4h-4zM518 301.8h4v5h-4zM578 310.8h4v4h-4zM505 473.8h4v5h-4zM646 473.8h5v5h-5zM604 490.8h4v5h-4zM655 499.8h4v4h-4zM616 529.8h5v4h-5z"/>
<path fill="#59ecdc" d="M505 211.8h4v4h-4z"/>
<path fill="#32cdff" d="M509 211.8h4v4h-4zM483 220.8h4v4h-4zM560 224.8h5v4h-5zM518 245.8h4v5h-4zM483 275.8h9v5h-9zM573 306.8h5v4h-5zM595 490.8h4v5h-4zM621 529.8h4v4h-4z"/>
<path fill="#33c6ff" d="M513 211.8h5v4h-5zM500 215.8h5v5h-5zM505 224.8h4v4h-4zM466 232.8h4v5h-4zM492 288.8h4v5h-4zM642 503.8h4v5h-4zM629 529.8h5v4h-5z"/>
<path fill="#368dff" d="M518 211.8h4v4h-4zM539 237.8h4v4h-4zM595 447.8h4v5h-4z"/>
<path fill="#368aff" d="M522 211.8h4v4h-4zM595 465.8h4v4h-4z"/>
<path fill="#34bdff" d="M526 211.8h4v4h-4zM543 215.8h5v5h-5zM513 262.8h5v5h-5zM578 301.8h4v5h-4zM505 331.8h4v5h-4zM569 331.8h4v5h-4zM505 469.8h4v4h-4zM616 490.8h5v5h-5z"/>
<path fill="#36a6ff" d="M543 211.8h5v4h-5zM535 237.8h4v4h-4zM505 353.8h4v4h-4z"/>
<path fill="#36acff" d="M552 211.8h4v4h-4zM530 220.8h5v4h-5zM612 503.8h4v5h-4z"/>
<path fill="#5feed8" d="M492 215.8h4v5h-4z"/>
<path fill="#31daff" d="M496 215.8h4v5h-4zM492 237.8h4v4h-4zM513 241.8h5v4h-5zM500 340.8h5v4h-5zM539 340.8h4v4h-4zM522 344.8h4v4h-4zM513 353.8h5v4h-5zM621 538.8h4v4h-4z"/>
<path fill="#32d5ff" d="M505 215.8h4v5h-4zM513 232.8h5v5h-5zM513 250.8h5v4h-5zM500 284.8h5v4h-5zM492 293.8h4v4h-4zM509 301.8h4v5h-4zM578 318.8h4v5h-4zM535 323.8h4v4h-4zM505 340.8h4v4h-4zM625 473.8h4v5h-4z"/>
<path fill="#34bfff" d="M509 215.8h4v5h-4zM466 228.8h4v4h-4zM500 495.8h5v4h-5zM629 508.8h5v4h-5z"/>
<path fill="#fff722" d="M518 215.8h4v5h-4zM509 245.8h4v5h-4zM586 267.8h5v4h-5z"/>
<path fill="#33c8ff" d="M526 215.8h4v5h-4zM552 224.8h4v4h-4zM530 237.8h5v4h-5zM530 344.8h5v4h-5zM616 499.8h5v4h-5zM599 503.8h5v5h-5zM629 512.8h5v4h-5z"/>
<path fill="#33cbff" d="M530 215.8h5v5h-5zM522 241.8h4v4h-4zM608 486.8h4v4h-4zM608 499.8h4v4h-4z"/>
<path fill="#36aeff" d="M535 215.8h4v5h-4zM608 460.8h4v5h-4z"/>
<path fill="#3895ff" d="M539 215.8h4v5h-4zM539 220.8h4v4h-4zM586 452.8h5v4h-5zM599 452.8h5v4h-5zM604 469.8h4v4h-4z"/>
<path fill="#35b2ff" d="M548 215.8h4v5h-4zM470 228.8h4v4h-4zM500 331.8h5v5h-5z"/>
<path fill="#36a8ff" d="M552 215.8h4v5h-4zM496 228.8h4v4h-4zM539 228.8h4v4h-4zM509 469.8h4v4h-4zM500 473.8h5v5h-5z"/>
<path fill="#34bcff" d="M479 220.8h4v4h-4zM543 224.8h5v4h-5zM496 486.8h4v4h-4zM474 490.8h5v5h-5zM470 499.8h4v4h-4zM487 499.8h5v4h-5zM625 525.8h4v4h-4z"/>
<path fill="#30e4ff" d="M487 220.8h5v4h-5zM505 232.8h4v5h-4zM556 241.8h4v4h-4zM470 245.8h4v5h-4zM470 250.8h4v4h-4zM462 262.8h4v5h-4zM552 331.8h4v5h-4z"/>
<path fill="#fff320" d="M492 220.8h4v4h-4zM505 250.8h4v4h-4zM526 250.8h4v4h-4zM573 250.8h5v4h-5zM453 275.8h4v5h-4zM539 331.8h4v5h-4z"/>
<path fill="#31deff" d="M500 220.8h5v4h-5zM522 228.8h4v4h-4zM470 280.8h4v4h-4zM487 280.8h5v4h-5zM509 280.8h4v4h-4zM505 288.8h4v5h-4zM552 336.8h4v4h-4zM625 469.8h4v4h-4z"/>
<path fill="#31dcff" d="M513 220.8h5v4h-5zM479 224.8h4v4h-4zM509 237.8h4v4h-4zM642 469.8h4v4h-4zM629 478.8h5v4h-5zM470 486.8h4v4h-4zM625 533.8h4v5h-4z"/>
<path fill="#389bff" d="M522 220.8h4v4h-4zM604 456.8h4v4h-4z"/>
<path fill="#35b5ff" d="M526 220.8h4v4h-4zM543 228.8h5v4h-5zM483 241.8h4v4h-4zM509 318.8h4v5h-4zM599 495.8h5v4h-5zM634 529.8h4v4h-4z"/>
<path fill="#34bbff" d="M548 220.8h4v4h-4zM543 232.8h5v5h-5zM509 271.8h4v4h-4zM513 336.8h5v4h-5zM487 495.8h5v4h-5zM651 499.8h4v4h-4zM616 533.8h5v5h-5z"/>
<path fill="#3791ff" d="M552 220.8h4v4h-4zM539 232.8h4v5h-4z"/>
<path fill="#37a2ff" d="M556 220.8h4v4h-4zM582 452.8h4v4h-4zM612 460.8h4v5h-4zM487 490.8h5v5h-5z"/>
<path fill="#368bff" d="M560 220.8h5v4h-5z"/>
<path fill="#31e4fe" d="M474 224.8h5v4h-5zM483 224.8h4v4h-4zM509 254.8h4v4h-4zM565 331.8h4v5h-4zM612 465.8h4v4h-4zM616 473.8h5v5h-5z"/>
<path fill="#31ddff" d="M487 224.8h5v4h-5zM565 241.8h4v4h-4zM505 245.8h4v5h-4zM505 275.8h4v5h-4zM548 323.8h4v4h-4zM573 323.8h5v4h-5zM552 344.8h4v4h-4zM634 478.8h4v4h-4zM526 482.8h4v4h-4zM599 490.8h5v5h-5zM621 533.8h4v5h-4z"/>
<path fill="#33c9ff" d="M496 224.8h4v4h-4zM556 224.8h4v4h-4zM560 228.8h5v4h-5zM496 267.8h4v4h-4zM492 271.8h4v4h-4zM543 323.8h5v4h-5zM500 353.8h5v4h-5zM518 460.8h4v5h-4zM638 473.8h4v5h-4zM492 478.8h4v4h-4z"/>
<path fill="#39e6f7" d="M500 224.8h5v4h-5zM479 228.8h4v4h-4zM509 310.8h4v4h-4z"/>
<path fill="#33c3ff" d="M513 224.8h5v4h-5zM560 353.8h5v4h-5zM474 499.8h5v4h-5zM638 503.8h4v5h-4z"/>
<path fill="#68efd0" d="M518 224.8h4v4h-4zM535 241.8h4v4h-4zM479 271.8h4v4h-4zM552 288.8h4v5h-4z"/>
<path fill="#32ceff" d="M522 224.8h4v4h-4zM513 245.8h5v5h-5zM492 267.8h4v4h-4zM509 331.8h4v5h-4zM535 336.8h4v4h-4zM526 340.8h4v4h-4zM505 486.8h4v4h-4zM625 529.8h4v4h-4z"/>
<path fill="#31d6ff" d="M474 228.8h5v4h-5zM496 232.8h4v5h-4zM518 232.8h4v5h-4zM556 323.8h4v4h-4zM530 331.8h5v5h-5zM474 486.8h5v4h-5z"/>
<path fill="#37e6f9" d="M483 228.8h4v4h-4z"/>
<path fill="#35aeff" d="M492 228.8h4v4h-4zM604 460.8h4v5h-4z"/>
<path fill="#30dfff" d="M500 228.8h5v4h-5zM483 262.8h4v5h-4z"/>
<path fill="#32d0ff" d="M505 228.8h4v4h-4zM470 237.8h4v4h-4zM466 241.8h4v4h-4zM552 241.8h4v4h-4zM560 241.8h5v4h-5zM492 258.8h4v4h-4zM513 275.8h5v5h-5zM513 301.8h5v5h-5zM573 314.8h5v4h-5zM505 482.8h4v4h-4zM591 486.8h4v4h-4zM608 490.8h4v5h-4zM646 512.8h5v4h-5z"/>
<path fill="#f1ff3c" d="M509 228.8h4v4h-4zM457 280.8h5v4h-5zM496 297.8h4v4h-4zM453 486.8h4v4h-4zM621 503.8h4v5h-4z"/>
<path fill="#4beae8" d="M518 228.8h4v4h-4zM466 280.8h4v4h-4zM642 465.8h4v4h-4z"/>
<path fill="#3793ff" d="M530 228.8h5v4h-5z"/>
<path fill="#36a7ff" d="M556 228.8h4v4h-4zM479 280.8h4v4h-4zM483 284.8h4v4h-4zM500 482.8h5v4h-5z"/>
<path fill="#31dbff" d="M462 232.8h4v5h-4zM462 237.8h4v4h-4zM470 284.8h4v4h-4zM500 297.8h5v4h-5zM573 301.8h5v5h-5zM608 469.8h4v4h-4zM634 469.8h4v4h-4zM642 473.8h4v5h-4zM518 490.8h4v5h-4zM492 499.8h4v4h-4z"/>
<path fill="#32cfff" d="M470 232.8h4v5h-4zM449 250.8h4v4h-4zM621 473.8h4v5h-4zM651 473.8h4v5h-4zM487 478.8h5v4h-5zM500 478.8h5v4h-5zM479 495.8h4v4h-4zM496 495.8h4v4h-4zM616 520.8h5v5h-5z"/>
<path fill="#43e8ef" d="M474 232.8h5v5h-5zM543 275.8h5v5h-5zM543 331.8h5v5h-5z"/>
<path fill="#4ceae7" d="M479 232.8h4v5h-4z"/>
<path fill="#46e8ed" d="M500 232.8h5v5h-5zM638 512.8h4v4h-4z"/>
<path fill="#3be6f6" d="M509 232.8h4v5h-4zM509 297.8h4v4h-4zM560 327.8h5v4h-5zM487 486.8h5v4h-5z"/>
<path fill="#36e5fa" d="M522 232.8h4v5h-4zM487 237.8h5v4h-5zM479 262.8h4v5h-4zM500 280.8h5v4h-5zM518 348.8h4v5h-4zM474 482.8h5v4h-5z"/>
<path fill="#36abff" d="M526 232.8h4v5h-4zM526 237.8h4v4h-4zM500 499.8h5v4h-5z"/>
<path fill="#fff420" d="M530 232.8h5v5h-5zM466 245.8h4v5h-4zM530 245.8h5v5h-5zM552 262.8h4v5h-4zM466 275.8h4v5h-4z"/>
<path fill="#379bff" d="M556 232.8h4v5h-4z"/>
<path fill="#32d4ff" d="M560 232.8h5v5h-5zM509 340.8h4v4h-4zM543 340.8h5v4h-5zM470 490.8h4v5h-4z"/>
<path fill="#2132ff" d="M440 237.8h17v4h-17zM419 241.8h4v4h-4zM436 241.8h17v4h-17zM414 245.8h39v5h-39zM582 245.8h9v5h-9zM410 250.8h39v4h-39zM586 250.8h13v4h-13zM410 254.8h39v4h-39zM591 254.8h8v4h-8zM410 258.8h39v4h-39zM595 258.8h4v4h-4zM410 262.8h39v5h-39zM595 262.8h4v5h-4zM410 267.8h43v4h-43zM591 267.8h8v4h-8zM406 271.8h47v4h-47zM582 271.8h17v4h-17zM406 275.8h47v5h-47zM578 275.8h21v5h-21zM406 280.8h47v4h-47zM578 280.8h21v4h-21zM406 284.8h47v4h-47zM578 284.8h21v4h-21zM406 288.8h81v5h-81zM578 288.8h21v5h-21zM414 293.8h78v4h-78zM578 293.8h21v4h-21zM419 297.8h77v4h-77zM582 297.8h17v4h-17zM419 301.8h90v5h-90zM582 301.8h17v5h-17zM419 306.8h86v4h-86zM582 306.8h17v4h-17zM423 310.8h82v4h-82zM582 310.8h17v4h-17zM427 314.8h78v4h-78zM582 314.8h17v4h-17zM427 318.8h78v5h-78zM582 318.8h17v5h-17zM432 323.8h73v4h-73zM578 323.8h21v4h-21zM436 327.8h69v4h-69zM573 327.8h26v4h-26zM436 331.8h64v5h-64zM573 331.8h26v5h-26zM436 336.8h64v4h-64zM573 336.8h26v4h-26zM436 340.8h60v4h-60zM573 340.8h26v4h-26zM440 344.8h56v4h-56zM535 344.8h13v4h-13zM573 344.8h18v4h-18zM440 348.8h60v5h-60zM526 348.8h30v5h-30zM569 348.8h4v5h-4zM440 353.8h60v4h-60zM522 353.8h34v4h-34zM440 357.8h99v4h-99zM444 361.8h52v5h-52zM518 361.8h4v5h-4zM444 366.8h48v4h-48zM453 370.8h30v4h-30zM462 374.8h17v5h-17z"/>
<path fill="#4ae9e9" d="M457 237.8h5v4h-5zM543 241.8h5v4h-5z"/>
<path fill="#30e3ff" d="M466 237.8h4v4h-4zM496 258.8h9v4h-9zM565 323.8h4v4h-4zM560 344.8h5v4h-5zM616 465.8h5v4h-5zM604 486.8h4v4h-4zM621 490.8h4v5h-4z"/>
<path fill="#33e5fd" d="M474 237.8h5v4h-5zM509 353.8h4v4h-4zM509 478.8h4v4h-4z"/>
<path fill="#58ecdd" d="M479 237.8h4v4h-4zM569 323.8h4v4h-4zM513 348.8h5v5h-5z"/>
<path fill="#35e5fb" d="M483 237.8h4v4h-4zM457 241.8h5v4h-5zM505 318.8h4v5h-4zM505 336.8h4v4h-4zM483 486.8h4v4h-4z"/>
<path fill="#faff2f" d="M496 237.8h4v4h-4zM496 288.8h4v5h-4zM552 318.8h4v5h-4zM642 495.8h4v4h-4z"/>
<path fill="#57ecdf" d="M500 237.8h5v4h-5z"/>
<path fill="#42e8f0" d="M505 237.8h4v4h-4zM479 482.8h4v4h-4z"/>
<path fill="#37a0ff" d="M548 237.8h4v4h-4z"/>
<path fill="#35b1ff" d="M560 237.8h5v4h-5zM513 271.8h5v4h-5zM483 499.8h4v4h-4z"/>
<path fill="#57ecde" d="M462 241.8h4v4h-4zM500 262.8h5v5h-5zM483 482.8h4v4h-4z"/>
<path fill="#f4ff37" d="M479 241.8h4v4h-4zM522 245.8h4v5h-4zM509 250.8h4v4h-4zM569 306.8h4v4h-4zM453 482.8h4v4h-4zM642 486.8h4v4h-4zM621 508.8h4v4h-4z"/>
<path fill="#d6ff60" d="M487 241.8h5v4h-5zM440 452.8h4v4h-4z"/>
<path fill="#ceff6c" d="M492 241.8h4v4h-4z"/>
<path fill="#c6ff78" d="M496 241.8h4v4h-4z"/>
<path fill="#e2ff51" d="M500 241.8h5v4h-5zM470 478.8h4v4h-4z"/>
<path fill="#eaff46" d="M505 241.8h4v4h-4z"/>
<path fill="#fff01e" d="M509 241.8h4v4h-4zM466 262.8h4v5h-4zM569 267.8h4v4h-4zM548 301.8h4v5h-4z"/>
<path fill="#32d3ff" d="M518 241.8h4v4h-4zM530 241.8h5v4h-5zM560 284.8h5v4h-5zM655 473.8h4v5h-4zM621 516.8h4v4h-4zM621 525.8h4v4h-4z"/>
<path fill="#6bf0cd" d="M539 241.8h4v4h-4z"/>
<path fill="#32e4fd" d="M548 241.8h4v4h-4zM487 250.8h5v4h-5zM552 327.8h4v4h-4z"/>
<path fill="#f9ff30" d="M453 245.8h4v5h-4zM474 254.8h5v4h-5zM651 508.8h4v4h-4z"/>
<path fill="#4feae5" d="M457 245.8h5v5h-5z"/>
<path fill="#ffd50c" d="M462 245.8h4v5h-4zM513 323.8h5v4h-5z"/>
<path fill="#e4ff4e" d="M474 245.8h5v5h-5zM565 262.8h4v5h-4z"/>
<path fill="#ecff43" d="M479 245.8h4v5h-4z"/>
<path fill="#ffca04" d="M483 245.8h4v5h-4zM530 293.8h5v4h-5z"/>
<path fill="#ffd209" d="M487 245.8h5v5h-5z"/>
<path fill="#ffc903" d="M492 245.8h4v5h-4z"/>
<path fill="#f0ff3d" d="M496 245.8h4v5h-4zM556 245.8h4v5h-4zM582 254.8h4v4h-4zM530 323.8h5v4h-5zM638 486.8h4v4h-4z"/>
<path fill="#dbff5a" d="M500 245.8h5v5h-5z"/>
<path fill="#e2ff50" d="M526 245.8h4v5h-4zM453 473.8h4v5h-4z"/>
<path fill="#ffe315" d="M535 245.8h4v5h-4zM539 323.8h4v4h-4z"/>
<path fill="#ff1414" d="M539 245.8h13v5h-13zM569 245.8h4v5h-4zM530 250.8h13v4h-13zM535 254.8h4v4h-4zM526 258.8h4v4h-4zM539 258.8h17v4h-17zM573 258.8h9v4h-9zM518 262.8h4v5h-4zM539 262.8h13v5h-13zM573 262.8h13v5h-13zM518 267.8h4v4h-4zM518 271.8h4v4h-4zM518 275.8h4v5h-4zM522 288.8h8v5h-8zM513 297.8h13v4h-13zM500 443.8h9v4h-9zM474 456.8h5v4h-5zM474 460.8h5v5h-5zM474 465.8h5v4h-5zM466 469.8h13v4h-13zM462 473.8h17v5h-17z"/>
<path fill="#ffe013" d="M552 245.8h4v5h-4zM453 258.8h4v4h-4zM569 318.8h4v5h-4z"/>
<path fill="#fff723" d="M560 245.8h5v5h-5zM479 250.8h4v4h-4zM548 250.8h4v4h-4zM586 258.8h5v4h-5zM462 271.8h4v4h-4zM543 271.8h5v4h-5zM509 293.8h4v4h-4z"/>
<path fill="#d6ff61" d="M565 245.8h4v5h-4zM444 469.8h5v4h-5z"/>
<path fill="#ffdb0f" d="M573 245.8h5v5h-5z"/>
<path fill="#30e1ff" d="M578 245.8h4v5h-4zM565 284.8h4v4h-4zM612 473.8h4v5h-4zM483 478.8h4v4h-4z"/>
<path fill="#fff521" d="M453 250.8h4v4h-4zM462 267.8h4v4h-4zM470 275.8h4v5h-4zM526 331.8h4v5h-4z"/>
<path fill="#cdff6e" d="M462 250.8h4v4h-4zM470 460.8h4v5h-4z"/>
<path fill="#f3ff38" d="M466 250.8h4v4h-4zM457 254.8h5v4h-5zM462 486.8h4v4h-4z"/>
<path fill="#ffd90e" d="M483 250.8h4v4h-4zM453 262.8h4v5h-4zM470 271.8h4v4h-4z"/>
<path fill="#ffe214" d="M492 250.8h4v4h-4zM505 254.8h4v4h-4zM543 306.8h5v4h-5zM522 323.8h4v4h-4zM518 344.8h4v4h-4z"/>
<path fill="#f8ff31" d="M496 250.8h4v4h-4zM655 508.8h4v4h-4z"/>
<path fill="#fffc26" d="M500 250.8h5v4h-5zM526 262.8h4v5h-4zM466 267.8h4v4h-4zM646 486.8h5v4h-5z"/>
<path fill="#ffe617" d="M518 250.8h4v4h-4z"/>
<path fill="#ffde11" d="M522 250.8h4v4h-4z"/>
<path fill="#faff2e" d="M543 250.8h5v4h-5zM474 258.8h5v4h-5zM565 306.8h4v4h-4z"/>
<path fill="#cbff70" d="M552 250.8h4v4h-4zM470 452.8h4v4h-4zM492 469.8h4v4h-4z"/>
<path fill="#fcff2d" d="M556 250.8h4v4h-4z"/>
<path fill="#d9ff5d" d="M560 250.8h5v4h-5zM466 478.8h4v4h-4z"/>
<path fill="#d3ff65" d="M565 250.8h4v4h-4zM453 465.8h4v4h-4z"/>
<path fill="#ffdd11" d="M569 250.8h4v4h-4zM522 254.8h4v4h-4zM470 258.8h4v4h-4zM449 262.8h4v5h-4zM569 262.8h4v5h-4zM539 267.8h4v4h-4zM539 271.8h4v4h-4zM530 301.8h5v5h-5zM565 314.8h4v4h-4zM522 318.8h4v5h-4zM535 318.8h4v5h-4z"/>
<path fill="#d1ff68" d="M578 250.8h4v4h-4zM432 456.8h4v4h-4zM483 473.8h4v5h-4z"/>
<path fill="#caff71" d="M582 250.8h4v4h-4z"/>
<path fill="#31d7ff" d="M449 254.8h4v4h-4zM509 275.8h4v5h-4zM530 327.8h5v4h-5zM569 327.8h4v4h-4zM500 336.8h5v4h-5zM569 336.8h4v4h-4zM509 348.8h4v5h-4zM655 465.8h4v4h-4zM621 478.8h4v4h-4zM500 486.8h5v4h-5zM595 495.8h4v4h-4zM629 503.8h5v5h-5zM638 508.8h4v4h-4z"/>
<path fill="#fff421" d="M453 254.8h4v4h-4zM560 314.8h5v4h-5z"/>
<path fill="#feff2a" d="M466 254.8h4v4h-4z"/>
<path fill="#dcff58" d="M470 254.8h4v4h-4zM487 443.8h5v4h-5zM466 456.8h4v4h-4z"/>
<path fill="#ffc702" d="M479 254.8h4v4h-4z"/>
<path fill="#ffba00" d="M483 254.8h4v4h-4zM539 297.8h4v4h-4zM530 306.8h5v4h-5z"/>
<path fill="#ffde12" d="M487 254.8h5v4h-5zM535 297.8h4v4h-4zM543 301.8h5v5h-5z"/>
<path fill="#fff21f" d="M496 254.8h4v4h-4z"/>
<path fill="#ffeb1a" d="M500 254.8h5v4h-5zM522 258.8h4v4h-4zM530 262.8h5v5h-5z"/>
<path fill="#ffc300" d="M518 254.8h4v4h-4zM513 288.8h5v5h-5z"/>
<path fill="#ffee1c" d="M526 254.8h4v4h-4zM552 306.8h4v4h-4zM556 314.8h4v4h-4zM530 318.8h5v5h-5z"/>
<path fill="#fffd27" d="M530 254.8h5v4h-5zM616 482.8h5v4h-5zM634 486.8h4v4h-4z"/>
<path fill="#ffe819" d="M539 254.8h4v4h-4zM573 271.8h5v4h-5z"/>
<path fill="#d4ff64" d="M543 254.8h5v4h-5z"/>
<path fill="#d0ff69" d="M548 254.8h4v4h-4zM578 254.8h4v4h-4z"/>
<path fill="#cfff6a" d="M552 254.8h4v4h-4z"/>
<path fill="#ebff44" d="M556 254.8h4v4h-4zM457 284.8h5v4h-5zM449 486.8h4v4h-4z"/>
<path fill="#d4ff63" d="M560 254.8h5v4h-5zM440 456.8h4v4h-4zM440 465.8h4v4h-4zM457 469.8h5v4h-5z"/>
<path fill="#d8ff5e" d="M565 254.8h4v4h-4zM432 465.8h4v4h-4zM449 473.8h4v5h-4z"/>
<path fill="#ffd008" d="M569 254.8h4v4h-4zM552 267.8h4v4h-4zM530 297.8h5v4h-5zM539 314.8h4v4h-4z"/>
<path fill="#ffdf12" d="M573 254.8h5v4h-5zM578 267.8h4v4h-4z"/>
<path fill="#ffdc11" d="M586 254.8h5v4h-5z"/>
<path fill="#ffcd06" d="M449 258.8h4v4h-4zM556 267.8h4v4h-4z"/>
<path fill="#fff11f" d="M457 258.8h5v4h-5z"/>
<path fill="#f7ff32" d="M462 258.8h4v4h-4z"/>
<path fill="#f5ff36" d="M466 258.8h4v4h-4zM457 275.8h5v5h-5zM449 482.8h4v4h-4zM634 490.8h4v5h-4zM651 490.8h4v5h-4z"/>
<path fill="#ffc803" d="M479 258.8h4v4h-4zM535 293.8h4v4h-4z"/>
<path fill="#ffc904" d="M483 258.8h4v4h-4z"/>
<path fill="#38e6f8" d="M487 258.8h5v4h-5zM505 267.8h4v4h-4zM483 271.8h4v4h-4zM500 288.8h5v5h-5zM548 288.8h4v5h-4zM646 465.8h5v4h-5z"/>
<path fill="#fffb25" d="M505 258.8h4v4h-4z"/>
<path fill="#e1ff52" d="M509 258.8h4v4h-4zM453 478.8h4v4h-4z"/>
<path fill="#33caff" d="M513 258.8h5v4h-5zM509 267.8h4v4h-4zM539 275.8h4v5h-4zM483 280.8h4v4h-4zM522 340.8h4v4h-4zM569 344.8h4v4h-4zM616 525.8h5v4h-5z"/>
<path fill="#ffea1a" d="M518 258.8h4v4h-4zM535 301.8h4v5h-4z"/>
<path fill="#fbff2e" d="M530 258.8h5v4h-5zM492 284.8h4v4h-4zM642 490.8h4v5h-4z"/>
<path fill="#f9ff31" d="M535 258.8h4v4h-4zM565 318.8h4v5h-4z"/>
<path fill="#fffd26" d="M556 258.8h4v4h-4z"/>
<path fill="#deff56" d="M560 258.8h5v4h-5zM436 460.8h4v5h-4zM462 482.8h4v4h-4zM453 490.8h4v5h-4z"/>
<path fill="#d2ff66" d="M565 258.8h4v4h-4zM453 271.8h4v4h-4zM457 465.8h5v4h-5z"/>
<path fill="#ffc000" d="M569 258.8h4v4h-4z"/>
<path fill="#ffdc10" d="M582 258.8h4v4h-4zM573 267.8h5v4h-5zM535 306.8h4v4h-4zM518 318.8h4v5h-4z"/>
<path fill="#fff622" d="M591 258.8h4v4h-4z"/>
<path fill="#ffeb1b" d="M470 262.8h4v5h-4zM560 267.8h5v4h-5zM565 310.8h4v4h-4z"/>
<path fill="#e8ff48" d="M474 262.8h5v5h-5zM560 306.8h5v4h-5zM556 310.8h4v4h-4z"/>
<path fill="#3fe7f2" d="M487 262.8h5v5h-5zM500 271.8h5v4h-5zM548 297.8h4v4h-4z"/>
<path fill="#4eeae5" d="M492 262.8h4v5h-4z"/>
<path fill="#44e8ee" d="M496 262.8h4v5h-4zM560 293.8h5v4h-5zM479 486.8h4v4h-4z"/>
<path fill="#52ebe2" d="M505 262.8h4v5h-4zM505 280.8h4v4h-4zM552 297.8h4v4h-4z"/>
<path fill="#32ccff" d="M509 262.8h4v5h-4zM608 465.8h4v4h-4zM621 512.8h4v4h-4zM616 538.8h5v4h-5z"/>
<path fill="#ffdf13" d="M522 262.8h4v5h-4z"/>
<path fill="#fcff2c" d="M535 262.8h4v5h-4zM638 490.8h4v5h-4z"/>
<path fill="#ffe114" d="M556 262.8h4v5h-4zM539 280.8h4v4h-4z"/>
<path fill="#fffa24" d="M560 262.8h5v5h-5zM470 267.8h4v4h-4z"/>
<path fill="#ffd60c" d="M586 262.8h5v5h-5z"/>
<path fill="#ffd50b" d="M591 262.8h4v5h-4z"/>
<path fill="#f8ff32" d="M453 267.8h4v4h-4zM625 516.8h4v4h-4z"/>
<path fill="#74f2c6" d="M457 267.8h5v4h-5zM509 314.8h4v4h-4z"/>
<path fill="#ffe919" d="M474 267.8h5v4h-5zM569 301.8h4v5h-4z"/>
<path fill="#64efd3" d="M479 267.8h8v4h-8zM552 275.8h4v5h-4z"/>
<path fill="#3ae6f7" d="M487 267.8h5v4h-5z"/>
<path fill="#4deae7" d="M500 267.8h5v4h-5zM642 508.8h4v4h-4z"/>
<path fill="#ff6604" d="M522 267.8h4v4h-4z"/>
<path fill="#ffee1d" d="M526 267.8h4v4h-4zM560 310.8h5v4h-5z"/>
<path fill="#ffe416" d="M530 267.8h9v4h-9zM453 280.8h4v4h-4z"/>
<path fill="#e9ff46" d="M543 267.8h5v4h-5zM470 482.8h4v4h-4z"/>
<path fill="#ffff28" d="M548 267.8h4v4h-4zM462 284.8h4v4h-4zM560 301.8h5v5h-5zM496 447.8h9v5h-9zM444 482.8h5v4h-5zM651 486.8h4v4h-4z"/>
<path fill="#ffd70d" d="M565 267.8h4v4h-4zM457 271.8h5v4h-5zM513 327.8h5v4h-5z"/>
<path fill="#fffb26" d="M582 267.8h4v4h-4zM552 314.8h4v4h-4zM518 336.8h4v4h-4z"/>
<path fill="#ffcb05" d="M466 271.8h4v4h-4z"/>
<path fill="#ffef1d" d="M474 271.8h5v4h-5z"/>
<path fill="#47e9eb" d="M487 271.8h5v4h-5zM543 336.8h5v4h-5z"/>
<path fill="#30e2ff" d="M505 271.8h4v4h-4zM496 284.8h4v4h-4zM509 284.8h4v4h-4zM500 293.8h5v4h-5zM548 293.8h4v4h-4zM565 293.8h4v4h-4zM543 327.8h5v4h-5zM625 465.8h4v4h-4zM612 469.8h4v4h-4zM492 473.8h4v5h-4zM509 482.8h4v4h-4z"/>
<path fill="#ff7a00" d="M522 271.8h4v4h-4zM518 284.8h4v4h-4z"/>
<path fill="#ff9200" d="M526 271.8h4v4h-4z"/>
<path fill="#ff9f00" d="M530 271.8h5v4h-5zM513 306.8h5v4h-5zM526 310.8h4v4h-4z"/>
<path fill="#ffd80e" d="M535 271.8h4v4h-4z"/>
<path fill="#31dfff" d="M548 271.8h4v4h-4zM505 293.8h4v4h-4zM616 469.8h5v4h-5z"/>
<path fill="#84f5b8" d="M552 271.8h4v4h-4zM573 297.8h5v4h-5z"/>
<path fill="#b7ff8c" d="M556 271.8h4v4h-4zM479 447.8h4v5h-4z"/>
<path fill="#8ff7af" d="M560 271.8h5v4h-5zM569 284.8h4v4h-4z"/>
<path fill="#9dfaa3" d="M565 271.8h4v4h-4zM492 456.8h4v4h-4z"/>
<path fill="#60eed7" d="M569 271.8h4v4h-4z"/>
<path fill="#fff823" d="M578 271.8h4v4h-4zM556 318.8h4v5h-4z"/>
<path fill="#ccff6f" d="M462 275.8h4v5h-4zM466 460.8h4v5h-4zM487 460.8h5v5h-5z"/>
<path fill="#37a4ff" d="M479 275.8h4v5h-4zM651 503.8h4v5h-4z"/>
<path fill="#46e9ec" d="M500 275.8h5v5h-5zM651 465.8h4v4h-4z"/>
<path fill="#ff8700" d="M522 275.8h4v5h-4zM457 456.8h5v4h-5z"/>
<path fill="#ff8900" d="M526 275.8h4v5h-4z"/>
<path fill="#ff9500" d="M530 275.8h5v5h-5z"/>
<path fill="#dfff55" d="M535 275.8h4v5h-4zM449 478.8h4v4h-4z"/>
<path fill="#4eeae6" d="M556 275.8h4v5h-4z"/>
<path fill="#73f2c6" d="M560 275.8h5v5h-5z"/>
<path fill="#b6ff8d" d="M565 275.8h4v5h-4z"/>
<path fill="#91f8ad" d="M569 275.8h4v5h-4z"/>
<path fill="#7cf4bf" d="M573 275.8h5v5h-5z"/>
<path fill="#daff5b" d="M462 280.8h4v4h-4zM470 447.8h4v5h-4z"/>
<path fill="#ffa400" d="M513 280.8h5v4h-5zM513 314.8h5v4h-5z"/>
<path fill="#ff7e00" d="M518 280.8h4v4h-4z"/>
<path fill="#ff7700" d="M522 280.8h4v4h-4z"/>
<path fill="#ffaa00" d="M526 280.8h4v4h-4zM513 284.8h5v4h-5z"/>
<path fill="#ffa200" d="M530 280.8h5v4h-5z"/>
<path fill="#ffcb04" d="M535 280.8h4v4h-4z"/>
<path fill="#ff9e00" d="M543 280.8h5v4h-5z"/>
<path fill="#7bf3c0" d="M548 280.8h4v4h-4z"/>
<path fill="#72f1c8" d="M552 280.8h4v4h-4z"/>
<path fill="#7cf3bf" d="M556 280.8h4v4h-4z"/>
<path fill="#abfd98" d="M560 280.8h5v4h-5z"/>
<path fill="#b8ff8b" d="M565 280.8h4v4h-4z"/>
<path fill="#61eed6" d="M569 280.8h4v4h-4z"/>
<path fill="#61eed5" d="M573 280.8h5v4h-5z"/>
<path fill="#ffe516" d="M453 284.8h4v4h-4z"/>
<path fill="#eaff45" d="M466 284.8h4v4h-4zM552 301.8h4v5h-4z"/>
<path fill="#34b8ff" d="M474 284.8h5v4h-5zM625 508.8h4v4h-4z"/>
<path fill="#34b9ff" d="M479 284.8h4v4h-4zM505 327.8h4v4h-4zM518 353.8h4v4h-4z"/>
<path fill="#45e8ee" d="M505 284.8h4v4h-4z"/>
<path fill="#ffa800" d="M522 284.8h4v4h-4zM522 310.8h4v4h-4z"/>
<path fill="#ff7c00" d="M526 284.8h4v4h-4z"/>
<path fill="#ff8200" d="M530 284.8h5v4h-5z"/>
<path fill="#ffb700" d="M535 284.8h4v4h-4z"/>
<path fill="#ffb400" d="M539 284.8h4v4h-4z"/>
<path fill="#ff9c00" d="M543 284.8h5v4h-5zM530 288.8h5v5h-5zM539 288.8h4v5h-4zM518 306.8h4v4h-4zM513 310.8h5v4h-5z"/>
<path fill="#7df4be" d="M548 284.8h4v4h-4zM505 310.8h4v4h-4z"/>
<path fill="#34e5fb" d="M552 284.8h4v4h-4zM565 297.8h4v4h-4z"/>
<path fill="#68f0d0" d="M556 284.8h4v4h-4z"/>
<path fill="#5eedd8" d="M573 284.8h5v4h-5zM522 301.8h4v5h-4z"/>
<path fill="#47e9ec" d="M509 288.8h4v5h-4zM518 323.8h4v4h-4z"/>
<path fill="#ff6c02" d="M518 288.8h4v5h-4z"/>
<path fill="#ff9d00" d="M535 288.8h4v5h-4zM543 314.8h5v4h-5z"/>
<path fill="#ff9300" d="M543 288.8h5v5h-5zM513 293.8h5v4h-5zM526 306.8h4v4h-4z"/>
<path fill="#6af0ce" d="M556 288.8h4v5h-4z"/>
<path fill="#31d5ff" d="M560 288.8h5v5h-5zM518 340.8h4v4h-4zM625 478.8h4v4h-4z"/>
<path fill="#3fe7f3" d="M565 288.8h4v5h-4zM539 306.8h4v4h-4zM496 344.8h4v4h-4z"/>
<path fill="#6ef1cb" d="M569 288.8h4v5h-4zM535 331.8h4v5h-4z"/>
<path fill="#5dedd9" d="M573 288.8h5v5h-5zM565 327.8h4v4h-4zM560 340.8h5v4h-5z"/>
<path fill="#ff410b" d="M518 293.8h4v4h-4z"/>
<path fill="#ff1813" d="M522 293.8h4v4h-4z"/>
<path fill="#ffb000" d="M526 293.8h4v4h-4z"/>
<path fill="#ffdb10" d="M539 293.8h4v4h-4zM539 301.8h4v5h-4z"/>
<path fill="#ffbf00" d="M543 293.8h5v4h-5z"/>
<path fill="#a8fd9a" d="M552 293.8h4v4h-4z"/>
<path fill="#89f6b4" d="M556 293.8h4v4h-4zM565 340.8h4v4h-4z"/>
<path fill="#6ff1ca" d="M569 293.8h4v4h-4zM548 327.8h4v4h-4z"/>
<path fill="#7ef4bd" d="M573 293.8h5v4h-5z"/>
<path fill="#31d8ff" d="M505 297.8h4v4h-4zM646 469.8h5v4h-5zM496 473.8h4v5h-4zM634 473.8h4v5h-4zM638 478.8h4v4h-4zM612 490.8h4v5h-4zM616 512.8h5v4h-5z"/>
<path fill="#ffb200" d="M526 297.8h4v4h-4zM526 314.8h4v4h-4z"/>
<path fill="#ffb800" d="M543 297.8h5v4h-5zM539 318.8h4v5h-4z"/>
<path fill="#7ff4bd" d="M556 297.8h4v4h-4zM556 327.8h4v4h-4z"/>
<path fill="#45e8ed" d="M560 297.8h5v4h-5zM629 473.8h5v5h-5z"/>
<path fill="#9efaa3" d="M569 297.8h4v4h-4zM487 452.8h5v4h-5z"/>
<path fill="#a2fb9f" d="M578 297.8h4v4h-4zM479 478.8h4v4h-4z"/>
<path fill="#ffc100" d="M526 301.8h4v5h-4zM526 318.8h4v5h-4zM543 318.8h5v5h-5z"/>
<path fill="#e0ff54" d="M556 301.8h4v5h-4z"/>
<path fill="#fff11e" d="M565 301.8h4v5h-4z"/>
<path fill="#3ee7f3" d="M505 306.8h4v4h-4z"/>
<path fill="#56ecdf" d="M509 306.8h4v4h-4zM638 465.8h4v4h-4z"/>
<path fill="#ff9a00" d="M522 306.8h4v4h-4z"/>
<path fill="#ffe215" d="M548 306.8h4v4h-4z"/>
<path fill="#eeff3f" d="M556 306.8h4v4h-4zM552 310.8h4v4h-4zM457 482.8h5v4h-5zM646 490.8h5v5h-5z"/>
<path fill="#34beff" d="M578 306.8h4v4h-4zM513 340.8h5v4h-5zM616 508.8h5v4h-5z"/>
<path fill="#ff9b00" d="M518 310.8h4v4h-4z"/>
<path fill="#ffbd00" d="M530 310.8h5v4h-5zM548 310.8h4v4h-4z"/>
<path fill="#ffec1b" d="M535 310.8h4v4h-4zM522 327.8h4v4h-4z"/>
<path fill="#33c4ff" d="M539 310.8h4v4h-4zM509 327.8h4v4h-4zM556 336.8h4v4h-4zM655 469.8h4v4h-4zM612 486.8h4v4h-4zM483 490.8h4v5h-4zM483 495.8h4v4h-4zM629 516.8h9v4h-9zM629 533.8h5v5h-5zM625 538.8h4v4h-4z"/>
<path fill="#ffbc00" d="M543 310.8h5v4h-5z"/>
<path fill="#e5ff4c" d="M569 310.8h4v4h-4zM466 482.8h4v4h-4z"/>
<path fill="#5eedd9" d="M505 314.8h4v4h-4z"/>
<path fill="#ffaf00" d="M518 314.8h4v4h-4z"/>
<path fill="#ffa700" d="M522 314.8h4v4h-4z"/>
<path fill="#ffd40b" d="M530 314.8h5v4h-5zM539 336.8h4v4h-4z"/>
<path fill="#e7ff49" d="M535 314.8h4v4h-4zM487 473.8h5v5h-5z"/>
<path fill="#ff9400" d="M548 314.8h4v4h-4z"/>
<path fill="#f2ff3a" d="M569 314.8h4v4h-4zM646 495.8h5v4h-5z"/>
<path fill="#33c5ff" d="M578 314.8h4v4h-4zM522 348.8h4v5h-4zM608 503.8h4v5h-4z"/>
<path fill="#ffc501" d="M548 318.8h4v5h-4zM513 331.8h9v5h-9z"/>
<path fill="#ebff43" d="M560 318.8h5v5h-5z"/>
<path fill="#5feed7" d="M573 318.8h5v5h-5zM496 340.8h4v4h-4zM513 344.8h5v4h-5zM556 344.8h4v4h-4z"/>
<path fill="#55ece0" d="M505 323.8h4v4h-4zM565 344.8h4v4h-4zM642 512.8h4v4h-4z"/>
<path fill="#ffbb00" d="M526 323.8h4v4h-4z"/>
<path fill="#48e9eb" d="M518 327.8h4v4h-4zM621 469.8h4v4h-4z"/>
<path fill="#ffbe00" d="M526 327.8h4v4h-4z"/>
<path fill="#32e4fe" d="M535 327.8h4v4h-4z"/>
<path fill="#ffcf07" d="M539 327.8h4v4h-4z"/>
<path fill="#63eed4" d="M522 331.8h4v5h-4zM556 348.8h4v5h-4z"/>
<path fill="#4be9e9" d="M548 331.8h4v5h-4z"/>
<path fill="#79f3c1" d="M556 331.8h4v5h-4z"/>
<path fill="#3de7f4" d="M560 331.8h5v5h-5z"/>
<path fill="#c3ff7b" d="M522 336.8h4v4h-4zM505 447.8h4v5h-4zM487 456.8h5v4h-5zM449 460.8h4v5h-4zM440 478.8h4v4h-4z"/>
<path fill="#e6ff4a" d="M526 336.8h4v4h-4z"/>
<path fill="#b3ff91" d="M530 336.8h5v4h-5z"/>
<path fill="#51ebe3" d="M548 336.8h4v4h-4zM599 486.8h5v4h-5z"/>
<path fill="#88f6b5" d="M560 336.8h5v4h-5z"/>
<path fill="#69f0cf" d="M565 336.8h4v4h-4z"/>
<path fill="#34c2ff" d="M530 340.8h5v4h-5zM608 473.8h4v5h-4zM496 482.8h4v4h-4zM634 512.8h4v4h-4z"/>
<path fill="#40e7f1" d="M548 340.8h4v4h-4z"/>
<path fill="#35b4ff" d="M552 340.8h4v4h-4zM513 465.8h9v4h-9z"/>
<path fill="#71f1c8" d="M500 344.8h5v4h-5z"/>
<path fill="#80f4bc" d="M505 344.8h4v4h-4z"/>
<path fill="#70f1c9" d="M509 344.8h4v4h-4z"/>
<path fill="#54ebe1" d="M526 344.8h4v4h-4zM621 465.8h4v4h-4z"/>
<path fill="#73f2c7" d="M548 344.8h4v4h-4z"/>
<path fill="#7af3c1" d="M500 348.8h5v5h-5zM565 348.8h4v5h-4z"/>
<path fill="#3ce6f5" d="M505 348.8h4v5h-4z"/>
<path fill="#41e7f1" d="M560 348.8h5v5h-5z"/>
<path fill="#2d61ff" d="M646 379.8h5v4h-5zM646 383.8h5v4h-5zM552 396.8h8v4h-8zM629 396.8h5v4h-5zM634 413.8h4v4h-4zM651 413.8h4v4h-4zM530 422.8h5v4h-5zM565 426.8h4v4h-4zM578 426.8h4v4h-4zM560 443.8h5v4h-5zM518 447.8h4v5h-4zM565 447.8h4v5h-4zM560 452.8h5v4h-5zM625 452.8h4v4h-4zM530 465.8h5v4h-5zM565 465.8h4v4h-4zM530 469.8h5v4h-5zM522 473.8h4v5h-4zM690 473.8h4v5h-4zM552 482.8h4v4h-4zM552 486.8h4v4h-4zM509 490.8h4v5h-4zM552 495.8h4v4h-4zM483 503.8h4v5h-4zM505 503.8h4v5h-4z"/>
<path fill="#2d60ff" d="M552 383.8h4v4h-4zM552 387.8h4v5h-4zM556 392.8h4v4h-4zM634 396.8h4v4h-4zM672 413.8h5v4h-5zM625 430.8h4v4h-4zM526 443.8h4v4h-4zM569 447.8h4v5h-4zM685 473.8h5v5h-5zM582 478.8h4v4h-4zM655 478.8h4v4h-4zM672 478.8h5v4h-5zM556 499.8h4v4h-4zM556 503.8h4v5h-4zM569 516.8h4v4h-4z"/>
<path fill="#2c5eff" d="M556 383.8h4v4h-4zM629 400.8h5v4h-5zM535 413.8h4v4h-4zM539 417.8h4v5h-4zM659 430.8h5v4h-5zM492 508.8h4v4h-4z"/>
<path fill="#2e63ff" d="M560 383.8h5v4h-5zM556 387.8h4v5h-4zM646 396.8h5v4h-5zM565 400.8h4v4h-4zM659 400.8h5v4h-5zM578 404.8h4v5h-4zM646 409.8h5v4h-5zM655 409.8h4v4h-4zM646 417.8h5v5h-5zM560 422.8h5v4h-5zM638 422.8h4v4h-4zM646 422.8h5v4h-5zM642 426.8h4v4h-4zM668 426.8h4v4h-4zM621 430.8h4v4h-4zM612 434.8h4v5h-4zM659 434.8h5v5h-5zM526 439.8h4v4h-4zM565 439.8h4v4h-4zM578 439.8h4v4h-4zM621 439.8h4v4h-4zM685 439.8h5v4h-5zM582 443.8h4v4h-4zM621 443.8h4v4h-4zM638 443.8h4v4h-4zM685 447.8h5v5h-5zM522 452.8h4v4h-4zM621 452.8h4v4h-4zM500 465.8h9v4h-9zM552 473.8h4v5h-4zM646 478.8h5v4h-5zM625 499.8h4v4h-4zM552 503.8h4v5h-4zM604 508.8h4v4h-4zM573 516.8h5v4h-5z"/>
<path fill="#2e64ff" d="M651 383.8h4v4h-4zM556 400.8h9v4h-9zM560 409.8h5v4h-5zM556 413.8h4v4h-4zM578 413.8h4v4h-4zM659 413.8h5v4h-5zM668 413.8h4v4h-4zM664 417.8h4v5h-4zM548 434.8h4v5h-4zM690 434.8h4v5h-4zM595 443.8h4v4h-4zM522 447.8h4v5h-4zM560 447.8h5v5h-5zM573 452.8h5v4h-5zM518 456.8h4v4h-4zM535 456.8h4v4h-4zM560 456.8h9v4h-9zM560 460.8h5v5h-5zM690 469.8h4v4h-4zM659 473.8h5v5h-5zM543 482.8h5v4h-5zM556 486.8h4v4h-4zM655 490.8h4v5h-4zM535 499.8h8v4h-8zM560 499.8h5v4h-5zM539 503.8h4v5h-4zM604 512.8h4v4h-4zM556 520.8h4v5h-4z"/>
<path fill="#2e62ff" d="M659 396.8h5v4h-5zM543 478.8h5v4h-5zM496 508.8h4v4h-4z"/>
<path fill="#2e65ff" d="M569 400.8h4v4h-4zM655 400.8h4v4h-4zM578 409.8h4v4h-4zM638 413.8h4v4h-4zM634 417.8h4v5h-4zM651 417.8h8v5h-8zM677 417.8h4v5h-4zM664 422.8h4v4h-4zM664 426.8h4v4h-4zM565 430.8h4v4h-4zM677 434.8h4v5h-4zM582 439.8h4v4h-4zM530 443.8h5v4h-5zM655 447.8h4v5h-4zM505 452.8h4v4h-4zM552 452.8h4v4h-4zM681 452.8h4v4h-4zM522 460.8h4v5h-4zM552 460.8h4v5h-4zM518 469.8h4v4h-4zM565 469.8h4v4h-4zM573 469.8h5v4h-5zM586 469.8h5v4h-5zM518 473.8h4v5h-4zM539 473.8h4v5h-4zM668 473.8h4v5h-4zM548 482.8h4v4h-4zM565 482.8h4v4h-4zM664 482.8h4v4h-4zM513 486.8h5v4h-5zM543 490.8h9v5h-9zM569 490.8h4v5h-4zM565 499.8h4v4h-4zM573 520.8h5v5h-5zM612 520.8h4v5h-4zM578 525.8h4v4h-4zM612 525.8h4v4h-4zM612 538.8h4v4h-4z"/>
<path fill="#2c5dff" d="M634 400.8h4v4h-4zM672 430.8h9v4h-9zM560 469.8h5v4h-5zM505 495.8h4v4h-4z"/>
<path fill="#2d62ff" d="M672 400.8h5v4h-5zM642 413.8h9v4h-9zM672 417.8h5v5h-5zM655 422.8h4v4h-4zM625 426.8h4v4h-4zM685 443.8h5v4h-5zM539 456.8h4v4h-4zM659 465.8h5v4h-5zM548 473.8h4v5h-4zM556 473.8h4v5h-4zM560 478.8h5v4h-5zM604 478.8h4v4h-4zM591 490.8h4v5h-4zM552 499.8h4v4h-4zM591 503.8h4v5h-4zM552 508.8h4v4h-4zM556 512.8h4v4h-4z"/>
<path fill="#2d5fff" d="M535 417.8h4v5h-4zM582 426.8h4v4h-4zM638 426.8h4v4h-4zM655 430.8h4v4h-4zM608 439.8h4v4h-4zM522 469.8h4v4h-4zM659 478.8h5v4h-5zM638 482.8h4v4h-4zM664 486.8h4v4h-4zM565 503.8h4v5h-4zM582 525.8h4v4h-4z"/>
<path fill="#ddff56" d="M492 443.8h4v4h-4z"/>
<path fill="#c8ff74" d="M457 447.8h5v5h-5zM444 452.8h5v4h-5zM444 456.8h5v4h-5zM496 456.8h4v4h-4zM496 460.8h4v5h-4z"/>
<path fill="#baff87" d="M462 447.8h4v5h-4zM462 452.8h4v4h-4z"/>
<path fill="#b5ff8f" d="M466 447.8h4v5h-4z"/>
<path fill="#b8ff8a" d="M474 447.8h5v5h-5zM479 456.8h4v4h-4z"/>
<path fill="#b5ff8e" d="M483 447.8h4v5h-4zM444 478.8h5v4h-5z"/>
<path fill="#9afaa6" d="M487 447.8h5v5h-5z"/>
<path fill="#c4ff79" d="M492 447.8h4v5h-4zM483 456.8h4v4h-4z"/>
<path fill="#2c5cff" d="M573 447.8h5v5h-5z"/>
<path fill="#bdff84" d="M432 452.8h4v4h-4zM496 452.8h4v4h-4zM462 456.8h4v4h-4zM487 465.8h5v4h-5zM487 469.8h5v4h-5z"/>
<path fill="#d1ff67" d="M436 452.8h4v4h-4z"/>
<path fill="#c4ff7a" d="M449 452.8h4v4h-4z"/>
<path fill="#bdff83" d="M453 452.8h4v4h-4z"/>
<path fill="#beff82" d="M457 452.8h5v4h-5z"/>
<path fill="#baff88" d="M466 452.8h4v4h-4z"/>
<path fill="#b9ff89" d="M474 452.8h5v4h-5zM479 460.8h4v5h-4z"/>
<path fill="#a9fd9a" d="M479 452.8h4v4h-4z"/>
<path fill="#b2ff92" d="M483 452.8h4v4h-4z"/>
<path fill="#c6ff77" d="M492 452.8h4v4h-4zM483 469.8h4v4h-4z"/>
<path fill="#bcff85" d="M500 452.8h5v4h-5z"/>
<path fill="#368cff" d="M595 452.8h4v4h-4z"/>
<path fill="#36aaff" d="M604 452.8h4v4h-4zM586 456.8h5v4h-5z"/>
<path fill="#ddff58" d="M436 456.8h4v4h-4z"/>
<path fill="#d9ff5c" d="M449 456.8h4v4h-4zM444 465.8h5v4h-5z"/>
<path fill="#c0ff7f" d="M453 456.8h4v4h-4z"/>
<path fill="#c1ff7e" d="M470 456.8h4v4h-4z"/>
<path fill="#3898ff" d="M608 456.8h4v4h-4zM616 456.8h5v4h-5z"/>
<path fill="#379fff" d="M612 456.8h4v4h-4zM621 460.8h4v5h-4zM599 499.8h5v4h-5z"/>
<path fill="#c5ff78" d="M432 460.8h4v5h-4zM457 473.8h5v5h-5z"/>
<path fill="#dbff5b" d="M440 460.8h4v5h-4z"/>
<path fill="#c0ff80" d="M444 460.8h5v5h-5z"/>
<path fill="#bfff81" d="M453 460.8h4v5h-4z"/>
<path fill="#9efba2" d="M457 460.8h5v5h-5z"/>
<path fill="#c2ff7c" d="M462 460.8h4v5h-4zM462 469.8h4v4h-4z"/>
<path fill="#acfd97" d="M483 460.8h4v5h-4zM474 478.8h5v4h-5z"/>
<path fill="#9bfaa5" d="M492 460.8h4v5h-4z"/>
<path fill="#d5ff62" d="M436 465.8h4v4h-4z"/>
<path fill="#c9ff73" d="M449 465.8h4v4h-4zM462 465.8h4v4h-4zM457 478.8h5v4h-5z"/>
<path fill="#ff7800" d="M466 465.8h8v4h-8z"/>
<path fill="#bcff84" d="M479 465.8h4v4h-4z"/>
<path fill="#cdff6d" d="M483 465.8h4v4h-4zM436 469.8h4v4h-4z"/>
<path fill="#abfd97" d="M492 465.8h4v4h-4z"/>
<path fill="#3792ff" d="M586 465.8h5v4h-5z"/>
<path fill="#34e5fc" d="M634 465.8h4v4h-4z"/>
<path fill="#e0ff53" d="M440 469.8h4v4h-4zM457 490.8h5v5h-5z"/>
<path fill="#e6ff4b" d="M449 469.8h4v4h-4z"/>
<path fill="#ddff57" d="M453 469.8h4v4h-4z"/>
<path fill="#b7ff8b" d="M479 469.8h4v4h-4z"/>
<path fill="#35b8ff" d="M513 469.8h5v4h-5zM646 503.8h5v5h-5z"/>
<path fill="#3482ff" d="M591 469.8h4v4h-4z"/>
<path fill="#3689ff" d="M599 469.8h5v4h-5z"/>
<path fill="#40e7f2" d="M629 469.8h5v4h-5z"/>
<path fill="#39e6f8" d="M638 469.8h4v4h-4z"/>
<path fill="#49e9ea" d="M651 469.8h4v4h-4zM634 503.8h4v5h-4z"/>
<path fill="#c7ff76" d="M436 473.8h4v5h-4z"/>
<path fill="#b4ff8f" d="M440 473.8h4v5h-4z"/>
<path fill="#9ffba1" d="M444 473.8h5v5h-5z"/>
<path fill="#c2ff7d" d="M479 473.8h4v5h-4z"/>
<path fill="#d0ff6a" d="M462 478.8h4v4h-4zM457 486.8h5v4h-5z"/>
<path fill="#33c2ff" d="M505 478.8h4v4h-4zM595 499.8h4v4h-4z"/>
<path fill="#53ebe2" d="M487 482.8h5v4h-5z"/>
<path fill="#fdff2a" d="M629 486.8h5v4h-5z"/>
<path fill="#d2ff67" d="M462 490.8h4v5h-4z"/>
<path fill="#f4ff38" d="M629 490.8h5v5h-5z"/>
<path fill="#f3ff39" d="M634 495.8h4v4h-4z"/>
<path fill="#f6ff34" d="M638 495.8h4v4h-4z"/>
<path fill="#f6ff35" d="M621 499.8h4v4h-4z"/>
<path fill="#2d5eff" d="M535 503.8h4v5h-4z"/>
<path fill="#f7ff33" d="M634 508.8h4v4h-4z"/>
<path fill="#3ae6f6" d="M621 520.8h4v5h-4z"/>
<path fill="#feff29" d="M625 520.8h4v5h-4z"/>
<path fill="#f1ff3b" d="M629 520.8h9v5h-9z"/>
<path fill="#f0ff3c" d="M629 525.8h5v4h-5z"/>
<path fill="#ecff42" d="M634 525.8h4v4h-4z"/>
<path fill="#2540ff" fill-opacity="0.55" d="M732 306.8h13v4h-13zM354 176.8h4v5h-4zM565 370.8h8v4h-8zM333 220.8h13v8h-13zM659 194.8h5v13h-5zM350 168.8h8v4h-8zM535 516.8h8v9h-8zM462 159.8h4v13h-4zM285 138.8h5v4h-5zM290 546.8h8v9h-8zM552 90.8h4v9h-4zM694 318.8h17v5h-17zM724 271.8h8v9h-8zM548 650.8h17v8h-17zM677 340.8h4v8h-4zM388 155.8h5v9h-5zM625 224.8h13v4h-13zM621 559.8h17v13h-17zM285 103.8h9v5h-9zM328 520.8h9v9h-9zM793 589.8h8v5h-8zM277 542.8h4v9h-4zM646 215.8h5v13h-5zM453 176.8h13v13h-13zM320 121.8h8v13h-8zM720 194.8h4v4h-4zM737 606.8h17v9h-17zM560 576.8h9v9h-9zM599 293.8h5v13h-5zM341 503.8h9v9h-9zM358 108.8h9v8h-9zM337 176.8h13v5h-13zM711 650.8h4v8h-4zM457 434.8h17v13h-17zM419 508.8h8v12h-8zM277 516.8h8v13h-8zM767 306.8h9v12h-9zM522 413.8h4v9h-4zM483 306.8h9v8h-9zM410 486.8h17v4h-17z"/>
<path fill="#274aff" fill-opacity="0.55" d="M642 207.8h4v8h-4zM638 361.8h4v9h-4zM595 598.8h9v8h-9zM444 176.8h18v9h-18zM565 559.8h8v9h-8zM591 228.8h17v4h-17zM745 245.8h18v5h-18zM664 654.8h17v8h-17zM371 207.8h17v13h-17zM573 654.8h13v13h-13zM552 572.8h8v9h-8zM818 581.8h9v8h-9zM436 250.8h4v12h-4zM384 164.8h9v8h-9zM281 86.8h9v13h-9zM556 564.8h4v8h-4zM401 520.8h5v9h-5zM616 422.8h9v4h-9zM419 280.8h4v13h-4zM328 168.8h9v8h-9zM629 366.8h9v4h-9zM367 533.8h9v5h-9zM543 361.8h5v9h-5zM694 159.8h8v9h-8zM397 129.8h13v9h-13zM849 576.8h4v13h-4zM333 224.8h13v13h-13zM432 581.8h4v8h-4zM496 108.8h13v13h-13zM380 478.8h13v4h-13zM578 585.8h8v9h-8zM793 228.8h13v13h-13zM457 194.8h5v4h-5zM672 318.8h9v9h-9zM307 512.8h13v4h-13zM462 525.8h12v8h-12zM595 220.8h9v12h-9zM397 555.8h9v13h-9zM866 602.8h8v9h-8zM879 581.8h4v8h-4zM423 581.8h13v8h-13zM264 112.8h8v9h-8zM698 245.8h9v13h-9z"/>
<path fill="#2645ff" fill-opacity="0.55" d="M453 215.8h9v9h-9zM397 194.8h9v4h-9zM690 134.8h8v8h-8zM376 95.8h4v13h-4zM672 220.8h18v12h-18zM432 181.8h17v4h-17zM638 207.8h17v8h-17zM763 310.8h13v4h-13zM737 73.8h8v13h-8zM509 125.8h4v4h-4zM840 589.8h9v9h-9zM642 228.8h9v4h-9zM483 125.8h13v9h-13zM530 116.8h5v5h-5zM629 228.8h17v9h-17zM328 103.8h9v9h-9zM363 546.8h8v5h-8zM449 198.8h8v4h-8zM337 151.8h13v8h-13zM767 297.8h4v13h-4zM260 99.8h4v4h-4zM677 641.8h8v9h-8zM702 641.8h18v9h-18zM393 564.8h4v8h-4zM672 344.8h13v13h-13zM681 146.8h4v13h-4zM784 301.8h9v5h-9zM793 258.8h4v9h-4zM586 314.8h13v9h-13zM702 658.8h9v9h-9zM260 258.8h8v9h-8zM840 581.8h13v8h-13zM371 146.8h5v13h-5zM367 198.8h9v9h-9zM552 602.8h4v9h-4zM582 340.8h9v13h-9zM457 129.8h13v9h-13zM672 207.8h18v4h-18zM466 185.8h17v13h-17zM578 392.8h13v4h-13zM698 250.8h4v4h-4zM337 250.8h13v8h-13zM724 224.8h17v8h-17zM509 409.8h13v8h-13zM388 551.8h5v13h-5z"/>
<path fill="#233bff" fill-opacity="0.55" d="M556 564.8h9v4h-9zM904 581.8h9v8h-9zM539 78.8h9v12h-9zM668 211.8h4v9h-4zM608 357.8h13v9h-13zM324 245.8h9v9h-9zM479 211.8h4v9h-4zM401 82.8h5v8h-5zM681 662.8h13v9h-13zM634 650.8h8v8h-8zM569 348.8h4v5h-4zM298 99.8h13v9h-13zM659 632.8h13v13h-13zM457 495.8h9v8h-9zM272 207.8h13v13h-13zM367 551.8h9v8h-9zM638 181.8h8v13h-8zM277 267.8h17v13h-17zM715 82.8h17v13h-17zM608 602.8h8v13h-8zM341 155.8h9v4h-9zM436 142.8h17v9h-17zM406 275.8h13v5h-13zM466 559.8h8v5h-8zM380 499.8h8v13h-8zM505 538.8h17v8h-17zM698 331.8h9v9h-9zM526 568.8h4v8h-4zM457 516.8h9v9h-9zM505 116.8h4v5h-4zM698 116.8h9v5h-9zM599 555.8h13v4h-13zM294 112.8h17v9h-17zM853 611.8h4v4h-4zM638 323.8h8v8h-8zM371 159.8h13v5h-13zM621 254.8h13v4h-13zM621 645.8h8v9h-8zM810 581.8h17v8h-17zM406 443.8h17v9h-17z"/></g>
<path d="M251.0 100.0L270.0 104.0L300.0 107.5L320.0 109.0L335.0 92.5L342.5 79.0L352.5 75.0L380.0 79.0L397.0 83.0M426.0 150.0L412.5 157.5L387.5 165.0L360.0 177.5L340.0 190.0L320.0 205.0L315.0 210.0L310.0 215.0L303.0 220.0L300.0 228.0L295.0 232.5L275.0 240.0L270.0 247.5L267.5 254.0L252.5 262.5L240.0 274.0L230.0 279.0M562.0 67.5L559.5 76.0L549.5 79.0L537.0 92.5L527.0 107.5L509.5 140.0L499.5 155.0L494.5 170.0L498.0 190.0L505.0 205.0M730.0 57.5L722.5 75.0L725.0 97.5L732.5 112.5L742.5 116.0L755.0 107.5L760.0 101.0M739.0 122.5L727.5 135.0L717.5 145.0L705.0 150.0L697.5 160.0L700.0 170.0L690.0 175.0L680.0 176.0L677.0 180.0L664.5 187.5L652.0 192.5L642.0 195.0L637.0 202.5L607.0 205.0L602.0 215.0L592.0 227.5L580.0 235.0L565.0 240.0M658.5 198.0L664.5 207.5L669.5 222.5L672.0 225.0L697.0 226.0L692.0 237.5L699.5 250.0L709.5 256.0L721.0 250.0L723.0 241.0L747.0 237.5L757.0 245.0L772.0 246.0L782.0 249.0L797.0 240.0L809.5 235.0L822.0 242.5L828.0 249.0M779.5 222.5L778.0 232.5L783.0 246.0M588.0 145.0L588.0 162.5L589.5 180.0L582.0 192.5L574.5 200.0L579.5 215.0L582.0 230.0M575.0 200.0L580.0 215.0L587.5 230.0L605.0 215.0L610.0 205.0L637.5 200.0M580.0 282.5L605.0 282.5L606.0 286.0L592.5 287.5L582.5 297.5L587.5 312.5L600.0 330.0L620.0 336.0L640.0 342.5L645.0 352.5L660.0 357.5L672.0 355.0L677.0 347.5L684.5 345.0L697.0 355.0L707.0 360.0M505.0 310.0L485.0 310.0L475.0 325.0L465.0 337.5L452.5 347.5L440.0 355.0M469.0 373.0L480.0 365.0L490.0 357.5M400.0 485.0L390.0 500.0L370.0 507.5L365.0 520.0L363.5 528.5L355.0 535.0L332.5 525.0L315.0 526.0L297.5 535.0L290.0 545.0M400.0 487.5L425.0 490.0L440.0 497.5L450.0 502.5L465.0 502.5M495.0 525.0L485.0 540.0L470.0 537.5L465.0 550.0L455.0 562.5L447.5 565.0L437.5 572.5L430.0 585.0L428.5 595.0M617.5 576.0L630.0 576.0L645.0 586.0L665.0 582.5L677.5 584.0L682.5 600.0L687.5 605.0L680.0 615.0L692.5 610.0L710.0 607.5L740.0 610.0L750.0 602.5L765.0 602.5L777.5 610.0L790.0 610.0L792.5 597.5L796.0 602.5L800.0 592.5L807.5 595.0L827.5 597.5L840.0 602.5L845.0 605.0L850.0 597.5L862.5 596.0L870.0 587.5L880.0 584.0L890.0 587.5L897.5 591.0L902.5 585.0L910.0 584.0L915.0 587.5M660.0 692.5L670.0 682.5L687.5 681.0L692.5 685.0M566.0 657.5L566.0 665.0L564.0 675.0M566.0 656.0L588.0 653.0L603.0 632.0M670.0 402.5L660.0 417.5L645.0 442.5L627.5 465.0L620.0 480.0" fill="none" stroke="#5cc4ff" stroke-width="1.15" stroke-linejoin="round" stroke-opacity="0.7"/>
<path d="M387.7 74.9L400.4 88.0L410.7 102.5L416.9 116.9L421.9 131.0L426.7 145.5L434.2 153.8L442.2 160.8L453.7 173.4L481.6 186.4L502.1 203.7L515.2 217.0L520.1 236.8L519.6 268.6L518.1 285.5L514.5 300.8L508.8 319.3L499.2 335.5L494.0 346.8L493.0 359.3L500.5 374.1L509.4 380.5L521.9 390.1L534.8 400.4L545.3 416.2L544.7 427.2L529.2 435.1L522.8 441.4L519.9 455.1L512.9 465.5L501.1 474.0L478.9 485.1L465.5 493.9L465.9 500.3L472.6 509.9L488.3 514.2L512.9 506.5L534.4 498.7L553.3 483.0L567.6 477.7L595.0 478.4L616.6 478.0L623.8 485.6L627.0 498.2L617.2 515.2L606.8 519.4L607.0 534.2L615.8 548.7L620.6 565.1L615.3 581.3L608.0 593.4L604.1 617.7L605.4 628.9L612.7 640.9L622.4 658.0L635.0 668.2L637.1 679.5M383.3 79.1L395.6 92.0L405.3 105.5L411.1 119.1L416.1 133.0L421.3 148.5L429.8 158.2L437.8 165.2L450.3 178.6L478.4 191.6L497.9 208.3L509.8 220.0L513.9 237.2L513.4 268.4L511.9 284.5L508.5 299.2L503.2 316.7L493.8 332.5L488.0 345.2L487.0 360.7L495.5 377.9L505.6 385.5L518.1 394.9L530.2 404.6L539.7 418.8L540.3 422.8L525.8 429.9L517.2 438.6L514.1 452.9L508.5 461.1L498.1 468.6L475.9 479.7L460.5 490.1L460.1 502.5L469.4 515.1L488.7 520.4L514.9 512.3L537.6 504.1L556.7 488.2L568.2 483.9L595.0 484.6L615.4 484.0L618.2 488.4L621.0 496.8L612.8 510.8L601.2 516.6L601.0 535.8L610.2 551.3L614.4 564.9L609.7 578.7L602.0 591.6L597.9 617.3L599.6 631.1L607.3 644.1L617.6 662.0L630.0 671.8L630.9 680.5M259.8 83.7L265.8 79.8L273.7 77.8L276.7 83.7L279.7 87.7L278.7 92.7L282.7 94.6L285.6 92.7L284.6 98.6L289.6 94.6L299.5 94.6L303.5 90.7L301.5 85.7L297.5 83.7L295.6 77.8L293.6 72.8M261.8 91.7L265.8 85.7L269.8 82.7M431.0 153.0L438.0 156.0L446.0 162.0L452.0 170.0L445.0 168.0L437.0 161.0L431.0 153.0M524.0 391.0L531.0 398.0L538.0 407.0L541.0 415.0L536.0 410.0L529.0 401.0L524.0 391.0" fill="none" stroke="#eeeaff" stroke-width="1.25" stroke-linejoin="round" stroke-opacity="0.8"/>
<g filter="url(#soft)">
<circle cx="378.5" cy="166.5" r="10" fill="#ff0000" stroke="#500" stroke-width="0.9"/>
<circle cx="546.5" cy="78.5" r="10" fill="#ff0000" stroke="#500" stroke-width="0.9"/>
<circle cx="506.5" cy="143.5" r="10" fill="#ff0000" stroke="#500" stroke-width="0.9"/>
<circle cx="609.5" cy="160" r="10" fill="#ff0000" stroke="#500" stroke-width="0.9"/>
<circle cx="698.5" cy="228" r="10" fill="#ff0000" stroke="#500" stroke-width="0.9"/>
<circle cx="717" cy="259.5" r="10" fill="#ff0000" stroke="#500" stroke-width="0.9"/>
<circle cx="665" cy="459.5" r="10" fill="#ff0000" stroke="#500" stroke-width="0.9"/>
<circle cx="270" cy="101.5" r="6" fill="#10ff10" stroke="#0a8a0a" stroke-width="0.5"/>
<circle cx="300" cy="111" r="6" fill="#10ff10" stroke="#0a8a0a" stroke-width="0.5"/>
<circle cx="341.5" cy="88.5" r="6" fill="#10ff10" stroke="#0a8a0a" stroke-width="0.5"/>
<circle cx="339" cy="123.5" r="6" fill="#10ff10" stroke="#0a8a0a" stroke-width="0.5"/>
<circle cx="337.5" cy="192.5" r="6" fill="#10ff10" stroke="#0a8a0a" stroke-width="0.5"/>
<circle cx="251.5" cy="268.5" r="6" fill="#10ff10" stroke="#0a8a0a" stroke-width="0.5"/>
<circle cx="436" cy="304" r="6" fill="#10ff10" stroke="#0a8a0a" stroke-width="0.5"/>
<circle cx="454" cy="367.5" r="6" fill="#10ff10" stroke="#0a8a0a" stroke-width="0.5"/>
<circle cx="469" cy="373.5" r="6" fill="#10ff10" stroke="#0a8a0a" stroke-width="0.5"/>
<circle cx="716.5" cy="50" r="6" fill="#10ff10" stroke="#0a8a0a" stroke-width="0.5"/>
<circle cx="745.5" cy="60.5" r="6" fill="#10ff10" stroke="#0a8a0a" stroke-width="0.5"/>
<circle cx="724.5" cy="86" r="6" fill="#10ff10" stroke="#0a8a0a" stroke-width="0.5"/>
<circle cx="738.5" cy="122.5" r="6" fill="#10ff10" stroke="#0a8a0a" stroke-width="0.5"/>
<circle cx="522.5" cy="121.5" r="6" fill="#10ff10" stroke="#0a8a0a" stroke-width="0.5"/>
<circle cx="613" cy="150" r="6" fill="#10ff10" stroke="#0a8a0a" stroke-width="0.5"/>
<circle cx="596.5" cy="173" r="6" fill="#10ff10" stroke="#0a8a0a" stroke-width="0.5"/>
<circle cx="658.5" cy="198.5" r="6" fill="#10ff10" stroke="#0a8a0a" stroke-width="0.5"/>
<circle cx="687.5" cy="179.5" r="6" fill="#10ff10" stroke="#0a8a0a" stroke-width="0.5"/>
<circle cx="671" cy="223.5" r="7.6" fill="#10ff10" stroke="#0a8a0a" stroke-width="0.5"/>
<circle cx="777" cy="251" r="6" fill="#10ff10" stroke="#0a8a0a" stroke-width="0.5"/>
<circle cx="817" cy="242" r="6" fill="#10ff10" stroke="#0a8a0a" stroke-width="0.5"/>
<circle cx="814.5" cy="281" r="6" fill="#10ff10" stroke="#0a8a0a" stroke-width="0.5"/>
<circle cx="442.5" cy="471" r="4.2" fill="#10ff10" stroke="#0a8a0a" stroke-width="0.5"/>
<circle cx="400" cy="481.5" r="4.2" fill="#10ff10" stroke="#0a8a0a" stroke-width="0.5"/>
<circle cx="451.5" cy="509" r="7.6" fill="#10ff10" stroke="#0a8a0a" stroke-width="0.5"/>
<circle cx="476.5" cy="523.5" r="4.2" fill="#10ff10" stroke="#0a8a0a" stroke-width="0.5"/>
<circle cx="363.5" cy="528.5" r="6" fill="#10ff10" stroke="#0a8a0a" stroke-width="0.5"/>
<circle cx="293.5" cy="548" r="6" fill="#10ff10" stroke="#0a8a0a" stroke-width="0.5"/>
<circle cx="438" cy="572" r="6" fill="#10ff10" stroke="#0a8a0a" stroke-width="0.5"/>
<circle cx="634" cy="404" r="6" fill="#10ff10" stroke="#0a8a0a" stroke-width="0.5"/>
<circle cx="638" cy="421" r="4.2" fill="#10ff10" stroke="#0a8a0a" stroke-width="0.5"/>
<circle cx="659" cy="428" r="6" fill="#10ff10" stroke="#0a8a0a" stroke-width="0.5"/>
<circle cx="685" cy="416.5" r="6" fill="#10ff10" stroke="#0a8a0a" stroke-width="0.5"/>
<circle cx="638" cy="436.5" r="7.6" fill="#10ff10" stroke="#0a8a0a" stroke-width="0.5"/>
<circle cx="675.5" cy="436.5" r="6" fill="#10ff10" stroke="#0a8a0a" stroke-width="0.5"/>
<circle cx="603" cy="632" r="6" fill="#10ff10" stroke="#0a8a0a" stroke-width="0.5"/>
<circle cx="588" cy="653" r="6" fill="#10ff10" stroke="#0a8a0a" stroke-width="0.5"/>
<circle cx="566.5" cy="656" r="6" fill="#10ff10" stroke="#0a8a0a" stroke-width="0.5"/>
<circle cx="645.5" cy="660.5" r="6" fill="#10ff10" stroke="#0a8a0a" stroke-width="0.5"/>
<circle cx="662" cy="656" r="6" fill="#10ff10" stroke="#0a8a0a" stroke-width="0.5"/>
<circle cx="675" cy="651.5" r="6" fill="#10ff10" stroke="#0a8a0a" stroke-width="0.5"/>
<circle cx="650.5" cy="674" r="6" fill="#10ff10" stroke="#0a8a0a" stroke-width="0.5"/>
<circle cx="652.5" cy="690.5" r="6" fill="#10ff10" stroke="#0a8a0a" stroke-width="0.5"/>
<circle cx="691" cy="617.5" r="6" fill="#10ff10" stroke="#0a8a0a" stroke-width="0.5"/>
<circle cx="694" cy="665" r="6" fill="#10ff10" stroke="#0a8a0a" stroke-width="0.5"/>
<circle cx="682.5" cy="686.5" r="6" fill="#10ff10" stroke="#0a8a0a" stroke-width="0.5"/>
<circle cx="746.5" cy="612.5" r="6" fill="#10ff10" stroke="#0a8a0a" stroke-width="0.5"/>
<circle cx="817.5" cy="595" r="6" fill="#10ff10" stroke="#0a8a0a" stroke-width="0.5"/>
<circle cx="874.5" cy="586.5" r="6" fill="#10ff10" stroke="#0a8a0a" stroke-width="0.5"/>
<circle cx="903" cy="584.5" r="6" fill="#10ff10" stroke="#0a8a0a" stroke-width="0.5"/>
<circle cx="527.5" cy="271.5" r="8.3" fill="#ff1fd0" stroke="#201" stroke-width="1.4"/><circle cx="527.5" cy="271.5" r="4.316" fill="none" stroke="#900880" stroke-width="1.3"/><circle cx="527.5" cy="271.5" r="1.328" fill="#b010a0"/>
<circle cx="487.5" cy="470" r="8.3" fill="#ff1fd0" stroke="#201" stroke-width="1.4"/><circle cx="487.5" cy="470" r="4.316" fill="none" stroke="#900880" stroke-width="1.3"/><circle cx="487.5" cy="470" r="1.328" fill="#b010a0"/>
<circle cx="631.5" cy="481.5" r="8.3" fill="#ff1fd0" stroke="#201" stroke-width="1.4"/><circle cx="631.5" cy="481.5" r="4.316" fill="none" stroke="#900880" stroke-width="1.3"/><circle cx="631.5" cy="481.5" r="1.328" fill="#b010a0"/>
<rect x="77.6" y="26.2" width="852.7" height="694.4" fill="none" stroke="#4a4a4a" stroke-width="2.7"/>
<text class="tk" x="85.5" y="14" text-anchor="middle">112°15'0&quot;E</text>
<text class="tk" x="85.5" y="744.6" text-anchor="middle">112°15'0&quot;E</text>
<text class="tk" x="237" y="14" text-anchor="middle">112°30'0&quot;E</text>
<text class="tk" x="237" y="744.6" text-anchor="middle">112°30'0&quot;E</text>
<text class="tk" x="388.5" y="14" text-anchor="middle">112°45'0&quot;E</text>
<text class="tk" x="388.5" y="744.6" text-anchor="middle">112°45'0&quot;E</text>
<text class="tk" x="540" y="14" text-anchor="middle">113°0'0&quot;E</text>
<text class="tk" x="540" y="744.6" text-anchor="middle">113°0'0&quot;E</text>
<text class="tk" x="691.5" y="14" text-anchor="middle">113°15'0&quot;E</text>
<text class="tk" x="691.5" y="744.6" text-anchor="middle">113°15'0&quot;E</text>
<text class="tk" x="843" y="14" text-anchor="middle">113°30'0&quot;E</text>
<text class="tk" x="843" y="744.6" text-anchor="middle">113°30'0&quot;E</text>
<text class="tk" x="69" y="95.4" text-anchor="end">28°30'0&quot;N</text>
<text class="tk" x="938.5" y="95.4">28°30'0&quot;N</text>
<text class="tk" x="69" y="247.1" text-anchor="end">28°15'0&quot;N</text>
<text class="tk" x="938.5" y="247.1">28°15'0&quot;N</text>
<text class="tk" x="69" y="398.8" text-anchor="end">28°0'0&quot;N</text>
<text class="tk" x="938.5" y="398.8">28°0'0&quot;N</text>
<text class="tk" x="69" y="550.5" text-anchor="end">27°45'0&quot;N</text>
<text class="tk" x="938.5" y="550.5">27°45'0&quot;N</text>
<text class="tk" x="69" y="702.2" text-anchor="end">27°30'0&quot;N</text>
<text class="tk" x="938.5" y="702.2">27°30'0&quot;N</text>
<path d="M85.5 26.2v-6M85.5 720.6v6M237 26.2v-6M237 720.6v6M388.5 26.2v-6M388.5 720.6v6M540 26.2v-6M540 720.6v6M691.5 26.2v-6M691.5 720.6v6M843 26.2v-6M843 720.6v6M77.6 90h-7M930.3 90h7M77.6 241.7h-7M930.3 241.7h7M77.6 393.4h-7M930.3 393.4h7M77.6 545.1h-7M930.3 545.1h7M77.6 696.8h-7M930.3 696.8h7" stroke="#4a4a4a" stroke-width="1.6"/>
<text class="nn" x="141.7" y="71.6" text-anchor="middle" textLength="10.6" lengthAdjust="spacingAndGlyphs">N</text><path d="M141.7 75 L129.8 114.5 L142.2 99.5Z" fill="#000"/><path d="M141.9 76 L154 115 L142.4 99.8Z" fill="#fff" stroke="#111" stroke-width="1.1"/><path d="M154 115 L149.5 109.5 L151.2 106Z" fill="#111"/>
<rect x="276.5" y="704" width="219.0" height="7" fill="#fff" stroke="#000" stroke-width="0.8"/>
<rect x="276.5" y="704" width="14.6" height="7" fill="#000"/>
<rect x="304.4" y="704" width="13.4" height="7" fill="#000"/>
<rect x="330.5" y="704" width="55.8" height="7" fill="#000"/>
<rect x="441" y="704" width="54.5" height="7" fill="#000"/>
<text class="sb" x="277.5" y="698.5" text-anchor="middle">0</text>
<text class="sb" x="305" y="698.5" text-anchor="middle">5</text>
<text class="sb" x="332.4" y="698.5" text-anchor="middle">10</text>
<text class="sb" x="386.3" y="698.5" text-anchor="middle">20</text>
<text class="sb" x="441" y="698.5" text-anchor="middle">30</text>
<text class="sb" x="495.5" y="698.5" text-anchor="middle">40</text>
<text class="sb" x="498.5" y="710.6">Kilometers</text>
<text x="91.7" y="330.3" font-size="18.3" fill="#111" font-weight="bold">Legend</text>
<circle cx="109.7" cy="353.3" r="9.2" fill="#ff1fd0" stroke="#201" stroke-width="1.4"/><circle cx="109.7" cy="353.3" r="4.784" fill="none" stroke="#900880" stroke-width="1.3"/><circle cx="109.7" cy="353.3" r="1.472" fill="#b010a0"/>
<text class="lb" x="134.4" y="358.9">main city</text>
<text class="bd" x="88" y="386.1" textLength="251" lengthAdjust="spacingAndGlyphs">Mn concentration in groundwater</text>
<text class="bd" x="88" y="408.8" style="font-weight:bold">(mg/L)</text>
<circle cx="106.1" cy="428.3" r="3.8" fill="#10ff10" stroke="#0a8a0a" stroke-width="0.5"/>
<text class="lb" x="131.7" y="433.3">&lt;0.001</text>
<circle cx="106.1" cy="453.3" r="5.9" fill="#10ff10" stroke="#0a8a0a" stroke-width="0.5"/>
<text class="lb" x="131.7" y="458.3">0.0011 - 0.100</text>
<circle cx="106.1" cy="478.8" r="7.5" fill="#10ff10" stroke="#0a8a0a" stroke-width="0.5"/>
<text class="lb" x="131.7" y="483.8">0.1001 - 0.200</text>
<circle cx="106.1" cy="504.7" r="9" fill="#10ff10" stroke="#0a8a0a" stroke-width="0.5"/>
<text class="lb" x="131.7" y="509.7">0.2001 - 0.300</text>
<circle cx="106.1" cy="532.5" r="11" fill="#ff0000" stroke="#500" stroke-width="0.9"/>
<text class="lb" x="131.7" y="537.5">0.3001 - 0.390</text>
<path d="M88 561.1h37.5" stroke="#e2e2e8" stroke-width="1.3"/>
<text class="lb" x="133.3" y="566.7" font-style="italic">Xiangjiang River</text>
<path d="M88 581.9h37.5" stroke="#86d4ff" stroke-width="1.4"/>
<text class="lb" x="131.7" y="586.7">tributary</text>
<text class="bd" x="88" y="612.3" textLength="138" lengthAdjust="spacingAndGlyphs">Population density</text>
<text class="bd" x="88" y="635.3" textLength="128.5" lengthAdjust="spacingAndGlyphs">(person per km^2)</text>
<rect x="88" y="650" width="34" height="36" fill="url(#ramp)"/>
<text class="hl" x="132.5" y="654">High : 20138.7</text>
<text class="hl" x="132.5" y="690.6">Low : 185.734</text>
</g></g>
<g transform="translate(0,1551.3)">
<g filter="url(#soft)"><path fill="#1c1eff" d="M707 39.7h21v4h-21zM702 43.7h39v5h-39zM702 48.7h48v4h-48zM702 52.7h52v4h-52zM526 56.7h13v4h-13zM702 56.7h56v4h-56zM277 60.7h17v5h-17zM526 60.7h17v5h-17zM560 60.7h9v5h-9zM707 60.7h51v5h-51zM268 65.7h26v4h-26zM526 65.7h52v4h-52zM707 65.7h56v4h-56zM264 69.7h30v4h-30zM328 69.7h13v4h-13zM513 69.7h65v4h-65zM707 69.7h56v4h-56zM255 73.7h47v5h-47zM328 73.7h69v5h-69zM509 73.7h69v5h-69zM707 73.7h56v5h-56zM251 78.7h69v4h-69zM328 78.7h73v4h-73zM509 78.7h64v4h-64zM707 78.7h51v4h-51zM251 82.7h155v4h-155zM509 82.7h60v4h-60zM707 82.7h51v4h-51zM251 86.7h159v5h-159zM505 86.7h64v5h-64zM707 86.7h51v5h-51zM251 91.7h159v4h-159zM496 91.7h73v4h-73zM707 91.7h56v4h-56zM251 95.7h159v4h-159zM492 95.7h73v4h-73zM702 95.7h61v4h-61zM251 99.7h163v5h-163zM492 99.7h64v5h-64zM702 99.7h61v5h-61zM251 104.7h168v4h-168zM487 104.7h69v4h-69zM698 104.7h65v4h-65zM255 108.7h164v4h-164zM483 108.7h69v4h-69zM698 108.7h65v4h-65zM255 112.7h168v4h-168zM474 112.7h78v4h-78zM694 112.7h69v4h-69zM260 116.7h163v5h-163zM470 116.7h82v5h-82zM694 116.7h64v5h-64zM264 121.7h159v4h-159zM466 121.7h86v4h-86zM690 121.7h64v4h-64zM268 125.7h155v4h-155zM457 125.7h91v4h-91zM690 125.7h60v4h-60zM272 129.7h151v5h-151zM453 129.7h99v5h-99zM604 129.7h8v5h-8zM685 129.7h60v5h-60zM277 134.7h146v4h-146zM444 134.7h112v4h-112zM599 134.7h17v4h-17zM685 134.7h56v4h-56zM281 138.7h146v4h-146zM436 138.7h120v4h-120zM599 138.7h22v4h-22zM685 138.7h52v4h-52zM285 142.7h275v4h-275zM586 142.7h39v4h-39zM681 142.7h56v4h-56zM298 146.7h262v5h-262zM582 146.7h43v5h-43zM681 146.7h51v5h-51zM298 151.7h331v4h-331zM681 151.7h47v4h-47zM298 155.7h340v4h-340zM677 155.7h51v4h-51zM298 159.7h348v5h-348zM677 159.7h51v5h-51zM298 164.7h348v4h-348zM672 164.7h56v4h-56zM298 168.7h430v4h-430zM298 172.7h434v5h-434zM298 177.7h434v4h-434zM294 181.7h438v4h-438zM290 185.7h442v5h-442zM281 190.7h451v4h-451zM277 194.7h455v4h-455zM268 198.7h464v4h-464zM264 202.7h137v5h-137zM423 202.7h305v5h-305zM260 207.7h133v4h-133zM423 207.7h301v4h-301zM255 211.7h133v4h-133zM423 211.7h292v4h-292zM255 215.7h133v5h-133zM423 215.7h297v5h-297zM724 215.7h26v5h-26zM788 215.7h35v5h-35zM255 220.7h129v4h-129zM423 220.7h331v4h-331zM767 220.7h73v4h-73zM251 224.7h129v4h-129zM423 224.7h335v4h-335zM763 224.7h90v4h-90zM247 228.7h129v4h-129zM427 228.7h430v4h-430zM238 232.7h138v5h-138zM427 232.7h426v5h-426zM229 237.7h142v4h-142zM436 237.7h413v4h-413zM229 241.7h129v4h-129zM363 241.7h4v4h-4zM419 241.7h4v4h-4zM436 241.7h413v4h-413zM234 245.7h120v5h-120zM414 245.7h430v5h-430zM234 250.7h120v4h-120zM410 250.7h430v4h-430zM234 254.7h99v4h-99zM337 254.7h13v4h-13zM410 254.7h430v4h-430zM229 258.7h99v5h-99zM410 258.7h430v5h-430zM229 263.7h95v4h-95zM410 263.7h430v4h-430zM225 267.7h95v4h-95zM410 267.7h430v4h-430zM229 271.7h91v5h-91zM406 271.7h434v5h-434zM234 276.7h60v4h-60zM307 276.7h8v4h-8zM406 276.7h430v4h-430zM234 280.7h51v4h-51zM406 280.7h430v4h-430zM238 284.7h39v4h-39zM406 284.7h425v4h-425zM238 288.7h34v5h-34zM406 288.7h425v5h-425zM234 293.7h34v4h-34zM414 293.7h409v4h-409zM234 297.7h34v4h-34zM419 297.7h404v4h-404zM419 301.7h408v5h-408zM419 306.7h378v4h-378zM806 306.7h25v4h-25zM423 310.7h370v4h-370zM806 310.7h21v4h-21zM427 314.7h357v4h-357zM806 314.7h8v4h-8zM427 318.7h353v5h-353zM432 323.7h339v4h-339zM436 327.7h331v4h-331zM436 331.7h322v5h-322zM436 336.7h318v4h-318zM436 340.7h309v4h-309zM436 344.7h305v5h-305zM436 349.7h296v4h-296zM436 353.7h284v4h-284zM436 357.7h275v5h-275zM440 362.7h241v4h-241zM444 366.7h237v4h-237zM444 370.7h237v4h-237zM444 374.7h211v5h-211zM444 379.7h215v4h-215zM449 383.7h215v4h-215zM449 387.7h215v5h-215zM449 392.7h223v4h-223zM449 396.7h223v4h-223zM444 400.7h233v4h-233zM444 404.7h246v5h-246zM444 409.7h246v4h-246zM449 413.7h245v4h-245zM453 417.7h245v5h-245zM453 422.7h241v4h-241zM453 426.7h241v4h-241zM423 430.7h9v5h-9zM449 430.7h245v5h-245zM419 435.7h279v4h-279zM410 439.7h288v4h-288zM406 443.7h292v5h-292zM406 448.7h292v4h-292zM393 452.7h305v4h-305zM358 456.7h5v4h-5zM393 456.7h314v4h-314zM358 460.7h5v5h-5zM367 460.7h340v5h-340zM350 465.7h357v4h-357zM363 469.7h339v4h-339zM358 473.7h340v5h-340zM358 478.7h323v4h-323zM354 482.7h323v4h-323zM324 486.7h17v4h-17zM350 486.7h322v4h-322zM333 490.7h8v5h-8zM346 490.7h318v5h-318zM307 495.7h8v4h-8zM333 495.7h326v4h-326zM302 499.7h18v4h-18zM333 499.7h326v4h-326zM298 503.7h361v5h-361zM298 508.7h361v4h-361zM294 512.7h361v4h-361zM272 516.7h13v5h-13zM294 516.7h352v5h-352zM272 521.7h374v4h-374zM260 525.7h386v4h-386zM264 529.7h382v5h-382zM264 534.7h387v4h-387zM264 538.7h382v4h-382zM264 542.7h378v4h-378zM277 546.7h365v5h-365zM277 551.7h77v4h-77zM358 551.7h284v4h-284zM285 555.7h65v4h-65zM363 555.7h142v4h-142zM509 555.7h133v4h-133zM307 559.7h34v5h-34zM380 559.7h120v5h-120zM513 559.7h133v5h-133zM311 564.7h26v4h-26zM388 564.7h108v4h-108zM518 564.7h137v4h-137zM320 568.7h13v4h-13zM393 568.7h99v4h-99zM518 568.7h146v4h-146zM801 568.7h17v4h-17zM874 568.7h13v4h-13zM397 572.7h86v4h-86zM526 572.7h142v4h-142zM801 572.7h22v4h-22zM874 572.7h13v4h-13zM406 576.7h73v5h-73zM530 576.7h147v5h-147zM801 576.7h43v5h-43zM849 576.7h64v5h-64zM414 581.7h56v4h-56zM539 581.7h151v4h-151zM797 581.7h125v4h-125zM423 585.7h39v4h-39zM552 585.7h146v4h-146zM793 585.7h129v4h-129zM427 589.7h17v5h-17zM556 589.7h142v5h-142zM724 589.7h13v5h-13zM788 589.7h125v5h-125zM556 594.7h211v4h-211zM784 594.7h120v4h-120zM552 598.7h344v4h-344zM552 602.7h245v5h-245zM814 602.7h78v5h-78zM552 607.7h245v4h-245zM814 607.7h69v4h-69zM552 611.7h219v4h-219zM776 611.7h12v4h-12zM814 611.7h60v4h-60zM556 615.7h215v5h-215zM818 615.7h48v5h-48zM556 620.7h207v4h-207zM823 620.7h34v4h-34zM556 624.7h198v4h-198zM560 628.7h164v4h-164zM560 632.7h160v5h-160zM556 637.7h164v4h-164zM552 641.7h172v4h-172zM548 645.7h172v5h-172zM543 650.7h172v4h-172zM543 654.7h172v4h-172zM552 658.7h168v4h-168zM556 662.7h164v5h-164zM560 667.7h164v4h-164zM560 671.7h52v4h-52zM625 671.7h103v4h-103zM573 675.7h26v5h-26zM625 675.7h103v5h-103zM573 680.7h26v4h-26zM634 680.7h90v4h-90zM586 684.7h5v4h-5zM634 684.7h77v4h-77zM634 688.7h64v5h-64zM638 693.7h52v4h-52zM646 697.7h39v4h-39zM677 701.7h4v5h-4z"/>
<path fill="#1e26ff" d="M702 43.7h18v5h-18zM702 48.7h30v4h-30zM702 52.7h43v4h-43zM526 56.7h13v4h-13zM702 56.7h56v4h-56zM281 60.7h13v5h-13zM526 60.7h17v5h-17zM707 60.7h51v5h-51zM272 65.7h22v4h-22zM526 65.7h52v4h-52zM707 65.7h56v4h-56zM264 69.7h30v4h-30zM513 69.7h65v4h-65zM707 69.7h56v4h-56zM260 73.7h42v5h-42zM328 73.7h69v5h-69zM509 73.7h69v5h-69zM707 73.7h56v5h-56zM251 78.7h69v4h-69zM328 78.7h73v4h-73zM509 78.7h64v4h-64zM707 78.7h51v4h-51zM251 82.7h155v4h-155zM509 82.7h60v4h-60zM707 82.7h51v4h-51zM251 86.7h155v5h-155zM505 86.7h64v5h-64zM707 86.7h51v5h-51zM255 91.7h151v4h-151zM496 91.7h73v4h-73zM707 91.7h56v4h-56zM255 95.7h155v4h-155zM492 95.7h73v4h-73zM702 95.7h61v4h-61zM255 99.7h155v5h-155zM492 99.7h64v5h-64zM702 99.7h61v5h-61zM255 104.7h159v4h-159zM487 104.7h69v4h-69zM698 104.7h65v4h-65zM255 108.7h159v4h-159zM483 108.7h69v4h-69zM698 108.7h65v4h-65zM260 112.7h154v4h-154zM474 112.7h78v4h-78zM694 112.7h69v4h-69zM264 116.7h155v5h-155zM470 116.7h82v5h-82zM694 116.7h64v5h-64zM272 121.7h147v4h-147zM466 121.7h86v4h-86zM690 121.7h64v4h-64zM277 125.7h146v4h-146zM457 125.7h91v4h-91zM690 125.7h60v4h-60zM281 129.7h142v5h-142zM453 129.7h99v5h-99zM685 129.7h60v5h-60zM285 134.7h138v4h-138zM449 134.7h107v4h-107zM599 134.7h9v4h-9zM685 134.7h56v4h-56zM290 138.7h133v4h-133zM440 138.7h78v4h-78zM526 138.7h30v4h-30zM599 138.7h13v4h-13zM685 138.7h52v4h-52zM294 142.7h129v4h-129zM436 142.7h77v4h-77zM548 142.7h12v4h-12zM586 142.7h30v4h-30zM681 142.7h56v4h-56zM298 146.7h211v5h-211zM556 146.7h4v5h-4zM582 146.7h43v5h-43zM681 146.7h51v5h-51zM298 151.7h207v4h-207zM565 151.7h64v4h-64zM681 151.7h47v4h-47zM298 155.7h202v4h-202zM573 155.7h65v4h-65zM677 155.7h51v4h-51zM298 159.7h198v5h-198zM578 159.7h64v5h-64zM677 159.7h47v5h-47zM298 164.7h194v4h-194zM578 164.7h68v4h-68zM672 164.7h56v4h-56zM298 168.7h189v4h-189zM578 168.7h150v4h-150zM298 172.7h189v5h-189zM578 172.7h150v5h-150zM298 177.7h185v4h-185zM578 177.7h154v4h-154zM294 181.7h189v4h-189zM573 181.7h159v4h-159zM290 185.7h189v5h-189zM573 185.7h159v5h-159zM281 190.7h198v4h-198zM573 190.7h159v4h-159zM277 194.7h202v4h-202zM573 194.7h159v4h-159zM268 198.7h151v4h-151zM423 198.7h51v4h-51zM573 198.7h155v4h-155zM264 202.7h137v5h-137zM423 202.7h51v5h-51zM569 202.7h133v5h-133zM260 207.7h133v4h-133zM427 207.7h47v4h-47zM569 207.7h108v4h-108zM255 211.7h133v4h-133zM427 211.7h43v4h-43zM569 211.7h77v4h-77zM255 215.7h129v5h-129zM432 215.7h38v5h-38zM569 215.7h65v5h-65zM255 220.7h125v4h-125zM432 220.7h34v4h-34zM569 220.7h60v4h-60zM251 224.7h125v4h-125zM436 224.7h30v4h-30zM569 224.7h52v4h-52zM247 228.7h124v4h-124zM436 228.7h21v4h-21zM565 228.7h47v4h-47zM238 232.7h129v5h-129zM436 232.7h13v5h-13zM565 232.7h43v5h-43zM229 237.7h134v4h-134zM565 237.7h34v4h-34zM229 241.7h129v4h-129zM586 241.7h5v4h-5zM234 245.7h116v5h-116zM234 250.7h112v4h-112zM234 254.7h99v4h-99zM337 254.7h4v4h-4zM229 258.7h99v5h-99zM234 263.7h90v4h-90zM234 267.7h86v4h-86zM234 271.7h81v5h-81zM234 276.7h60v4h-60zM234 280.7h51v4h-51zM238 284.7h39v4h-39zM238 288.7h34v5h-34zM234 293.7h34v4h-34zM234 297.7h34v4h-34z"/>
<path fill="#3173ff" d="M518 138.7h4v4h-4zM513 146.7h5v5h-5zM535 151.7h4v4h-4zM513 159.7h5v5h-5zM526 159.7h4v5h-4zM535 164.7h4v4h-4zM487 168.7h5v4h-5zM548 168.7h4v4h-4zM513 172.7h5v5h-5zM487 177.7h5v4h-5zM487 181.7h5v4h-5zM530 181.7h5v4h-5zM492 185.7h4v5h-4zM565 185.7h4v5h-4zM522 190.7h4v4h-4zM505 194.7h4v4h-4zM513 194.7h9v4h-9zM530 194.7h5v4h-5zM509 198.7h4v4h-4zM646 392.7h9v4h-9zM543 413.7h5v4h-5zM560 413.7h5v4h-5zM560 417.7h5v5h-5zM569 422.7h4v4h-4zM681 422.7h4v4h-4zM685 426.7h5v4h-5zM591 430.7h4v5h-4zM586 435.7h5v4h-5zM522 443.7h4v5h-4zM659 443.7h5v5h-5zM548 448.7h4v4h-4zM578 448.7h4v4h-4zM634 448.7h4v4h-4zM539 452.7h4v4h-4zM629 456.7h5v4h-5zM672 456.7h9v4h-9zM634 460.7h4v5h-4zM578 469.7h4v4h-4zM664 469.7h8v4h-8zM526 473.7h4v5h-4zM634 482.7h4v4h-4zM651 482.7h4v4h-4zM535 490.7h8v5h-8zM582 495.7h4v4h-4zM634 499.7h4v4h-4zM526 503.7h4v5h-4zM539 512.7h4v4h-4zM591 521.7h4v4h-4z"/>
<path fill="#3277ff" d="M522 138.7h4v4h-4zM518 142.7h4v4h-4zM552 146.7h4v5h-4zM552 151.7h4v4h-4zM505 155.7h4v4h-4zM530 168.7h5v4h-5zM500 172.7h5v5h-5zM560 172.7h5v5h-5zM569 172.7h9v5h-9zM526 177.7h4v4h-4zM518 181.7h8v4h-8zM518 185.7h4v5h-4zM535 185.7h4v5h-4zM556 185.7h4v5h-4zM500 194.7h5v4h-5zM530 198.7h5v4h-5zM539 198.7h4v4h-4zM556 198.7h4v4h-4z"/>
<path fill="#2f67ff" d="M513 142.7h5v4h-5zM505 181.7h4v4h-4zM569 392.7h4v4h-4zM569 396.7h4v4h-4zM642 400.7h4v4h-4zM548 404.7h4v5h-4zM672 404.7h5v5h-5zM634 409.7h4v4h-4zM530 417.7h5v5h-5zM642 417.7h4v5h-4zM565 422.7h4v4h-4zM582 422.7h4v4h-4zM629 422.7h5v4h-5zM526 426.7h13v4h-13zM556 426.7h4v4h-4zM646 426.7h5v4h-5zM548 430.7h4v5h-4zM612 430.7h4v5h-4zM625 435.7h4v4h-4zM634 435.7h4v4h-4zM548 439.7h4v4h-4zM560 439.7h5v4h-5zM595 439.7h4v4h-4zM604 439.7h4v4h-4zM681 439.7h4v4h-4zM535 443.7h4v5h-4zM625 443.7h4v5h-4zM672 448.7h9v4h-9zM659 452.7h5v4h-5zM685 452.7h5v4h-5zM556 456.7h4v4h-4zM642 456.7h4v4h-4zM513 460.7h5v5h-5zM543 460.7h5v5h-5zM522 465.7h4v4h-4zM690 465.7h4v4h-4zM556 469.7h4v4h-4zM672 469.7h5v4h-5zM694 469.7h8v4h-8zM535 473.7h4v5h-4zM578 473.7h4v5h-4zM694 473.7h4v5h-4zM599 478.7h5v4h-5zM608 478.7h4v4h-4zM642 478.7h4v4h-4zM677 478.7h4v4h-4zM518 482.7h4v4h-4zM582 482.7h4v4h-4zM565 486.7h4v4h-4zM668 486.7h4v4h-4zM552 490.7h4v5h-4zM659 490.7h5v5h-5zM629 495.7h5v4h-5zM470 503.7h4v5h-4zM616 503.7h5v5h-5zM552 516.7h4v5h-4z"/>
<path fill="#36a9ff" d="M522 142.7h4v4h-4zM522 215.7h4v5h-4zM543 220.7h5v4h-5zM591 460.7h4v5h-4z"/>
<path fill="#3170ff" d="M526 142.7h4v4h-4zM543 142.7h5v4h-5zM560 151.7h5v4h-5zM522 155.7h4v4h-4zM500 159.7h5v5h-5zM539 159.7h4v5h-4zM513 168.7h5v4h-5zM535 168.7h4v4h-4zM565 168.7h13v4h-13zM535 172.7h4v5h-4zM556 177.7h4v4h-4zM526 181.7h4v4h-4zM492 190.7h4v4h-4zM560 190.7h5v4h-5zM638 387.7h4v5h-4zM548 392.7h4v4h-4zM560 392.7h5v4h-5zM659 392.7h5v4h-5zM677 404.7h8v5h-8zM672 409.7h5v4h-5zM681 409.7h9v4h-9zM569 413.7h9v4h-9zM565 417.7h4v5h-4zM672 422.7h5v4h-5zM526 430.7h4v5h-4zM586 430.7h5v5h-5zM599 430.7h5v5h-5zM539 435.7h4v4h-4zM638 435.7h4v4h-4zM573 439.7h5v4h-5zM646 439.7h5v4h-5zM539 443.7h4v5h-4zM586 443.7h9v5h-9zM634 443.7h4v5h-4zM604 448.7h4v4h-4zM616 448.7h5v4h-5zM612 452.7h4v4h-4zM629 452.7h5v4h-5zM629 460.7h5v5h-5zM578 465.7h4v4h-4zM664 465.7h8v4h-8zM526 478.7h4v4h-4zM522 482.7h4v4h-4zM530 482.7h5v4h-5zM625 482.7h4v4h-4zM586 486.7h5v4h-5zM595 486.7h4v4h-4zM513 499.7h5v4h-5zM569 499.7h4v4h-4zM530 503.7h5v5h-5zM487 508.7h5v4h-5zM535 508.7h4v4h-4zM573 508.7h5v4h-5zM599 512.7h5v4h-5zM586 516.7h5v5h-5zM608 529.7h4v5h-4zM608 534.7h4v4h-4zM608 538.7h4v4h-4z"/>
<path fill="#3894ff" d="M530 142.7h5v4h-5zM530 151.7h5v4h-5zM582 456.7h4v4h-4zM604 465.7h4v4h-4z"/>
<path fill="#3275ff" d="M535 142.7h4v4h-4zM539 146.7h4v5h-4zM548 151.7h4v4h-4zM500 155.7h5v4h-5zM513 155.7h5v4h-5zM539 164.7h4v4h-4zM500 177.7h5v4h-5zM530 177.7h5v4h-5zM522 185.7h4v5h-4zM655 379.7h4v4h-4zM565 387.7h4v5h-4z"/>
<path fill="#337bff" d="M539 142.7h4v4h-4zM496 159.7h4v5h-4z"/>
<path fill="#3171ff" d="M509 146.7h4v5h-4zM513 151.7h5v4h-5zM539 151.7h4v4h-4zM518 155.7h4v4h-4zM526 155.7h4v4h-4zM548 155.7h4v4h-4zM569 155.7h4v4h-4zM535 159.7h4v5h-4zM569 159.7h4v5h-4zM552 164.7h4v4h-4zM556 168.7h4v4h-4zM492 172.7h4v5h-4zM518 177.7h4v4h-4zM543 177.7h5v4h-5zM509 181.7h4v4h-4zM539 181.7h4v4h-4zM565 181.7h8v4h-8zM496 185.7h9v5h-9zM530 185.7h5v5h-5zM496 194.7h4v4h-4zM560 194.7h5v4h-5zM535 198.7h4v4h-4zM505 202.7h4v5h-4zM655 387.7h4v5h-4zM642 392.7h4v4h-4zM664 400.7h4v4h-4zM548 422.7h4v4h-4zM586 426.7h9v4h-9zM535 430.7h8v5h-8zM651 430.7h4v5h-4zM522 435.7h4v4h-4zM518 439.7h4v4h-4zM634 439.7h4v4h-4zM655 439.7h4v4h-4zM612 443.7h4v5h-4zM612 448.7h4v4h-4zM505 456.7h4v4h-4zM664 460.7h4v5h-4zM677 460.7h4v5h-4zM535 469.7h4v4h-4zM569 478.7h4v4h-4zM586 478.7h9v4h-9zM591 482.7h4v4h-4zM466 486.7h4v4h-4zM560 490.7h9v5h-9zM625 490.7h4v5h-4zM539 508.7h4v4h-4zM591 512.7h4v4h-4z"/>
<path fill="#35b3ff" d="M518 146.7h4v5h-4zM530 211.7h5v4h-5zM535 220.7h4v4h-4zM552 228.7h4v4h-4zM548 232.7h4v5h-4zM616 460.7h5v5h-5zM492 482.7h4v4h-4z"/>
<path fill="#3274ff" d="M522 146.7h4v5h-4zM548 146.7h4v5h-4zM522 159.7h4v5h-4zM509 164.7h4v4h-4zM543 172.7h5v5h-5zM496 190.7h4v4h-4zM513 198.7h5v4h-5zM646 387.7h5v5h-5zM573 422.7h5v4h-5zM659 439.7h5v4h-5zM535 452.7h4v4h-4zM681 465.7h4v4h-4zM543 503.7h5v5h-5zM500 508.7h5v4h-5zM591 516.7h4v5h-4z"/>
<path fill="#3172ff" d="M526 146.7h4v5h-4zM518 164.7h4v4h-4zM526 164.7h4v4h-4zM556 164.7h4v4h-4zM492 168.7h4v4h-4zM518 168.7h4v4h-4zM526 172.7h4v5h-4zM539 172.7h4v5h-4zM483 177.7h4v4h-4zM522 177.7h4v4h-4zM500 190.7h5v4h-5zM522 194.7h4v4h-4zM526 198.7h4v4h-4zM548 198.7h4v4h-4zM462 228.7h4v4h-4zM642 383.7h4v4h-4zM655 383.7h4v4h-4zM565 392.7h4v4h-4zM548 400.7h4v4h-4zM552 409.7h8v4h-8zM690 413.7h4v4h-4zM543 417.7h5v5h-5zM543 422.7h5v4h-5zM591 422.7h4v4h-4zM573 426.7h5v4h-5zM638 430.7h4v5h-4zM642 435.7h4v4h-4zM668 435.7h4v4h-4zM552 439.7h4v4h-4zM629 443.7h5v5h-5zM655 443.7h4v5h-4zM582 448.7h4v4h-4zM608 448.7h4v4h-4zM694 448.7h4v4h-4zM578 452.7h4v4h-4zM530 460.7h5v5h-5zM685 465.7h5v4h-5zM582 469.7h4v4h-4zM530 473.7h5v5h-5zM586 482.7h5v4h-5zM604 482.7h4v4h-4zM629 482.7h5v4h-5zM616 486.7h5v4h-5zM655 486.7h4v4h-4zM578 490.7h4v5h-4zM535 495.7h4v4h-4zM578 495.7h4v4h-4zM509 499.7h4v4h-4zM496 503.7h4v5h-4zM483 508.7h4v4h-4zM505 508.7h4v4h-4zM586 521.7h5v4h-5z"/>
<path fill="#3174ff" d="M530 146.7h5v5h-5zM569 164.7h4v4h-4zM487 172.7h5v5h-5zM565 177.7h4v4h-4zM548 181.7h4v4h-4zM560 181.7h5v4h-5zM556 404.7h4v5h-4zM685 422.7h5v4h-5zM548 426.7h4v4h-4zM642 430.7h4v5h-4zM668 430.7h4v5h-4zM681 469.7h4v4h-4z"/>
<path fill="#3276ff" d="M535 146.7h4v5h-4zM522 151.7h4v4h-4zM543 151.7h5v4h-5zM509 155.7h4v4h-4zM505 159.7h4v5h-4zM530 164.7h5v4h-5zM548 164.7h4v4h-4zM539 168.7h4v4h-4zM509 172.7h4v5h-4zM530 172.7h5v5h-5zM513 177.7h5v4h-5zM526 185.7h4v5h-4zM552 185.7h4v5h-4zM505 190.7h8v4h-8zM509 194.7h4v4h-4zM522 198.7h4v4h-4zM552 198.7h4v4h-4z"/>
<path fill="#3278ff" d="M543 146.7h5v5h-5zM526 168.7h4v4h-4zM505 172.7h4v5h-4zM505 177.7h8v4h-8zM560 177.7h5v4h-5zM573 177.7h5v4h-5zM535 181.7h4v4h-4zM539 185.7h4v5h-4zM487 215.7h5v5h-5z"/>
<path fill="#306cff" d="M505 151.7h4v4h-4zM535 155.7h4v4h-4zM560 155.7h5v4h-5zM543 159.7h5v5h-5zM522 164.7h4v4h-4zM505 168.7h4v4h-4zM496 172.7h4v5h-4zM535 190.7h4v4h-4zM535 194.7h4v4h-4zM629 392.7h5v4h-5zM664 392.7h4v4h-4zM565 396.7h4v4h-4zM638 396.7h4v4h-4zM543 404.7h5v5h-5zM634 404.7h4v5h-4zM646 404.7h5v5h-5zM655 404.7h4v5h-4zM664 404.7h4v5h-4zM642 409.7h4v4h-4zM582 413.7h4v4h-4zM548 417.7h4v5h-4zM552 422.7h8v4h-8zM677 422.7h4v4h-4zM634 426.7h4v4h-4zM543 430.7h5v5h-5zM629 430.7h5v5h-5zM578 435.7h4v4h-4zM621 435.7h4v4h-4zM694 435.7h4v4h-4zM513 439.7h5v4h-5zM625 439.7h4v4h-4zM642 439.7h4v4h-4zM642 443.7h4v5h-4zM651 443.7h4v5h-4zM681 443.7h4v5h-4zM513 452.7h5v4h-5zM616 452.7h5v4h-5zM642 452.7h4v4h-4zM621 456.7h4v4h-4zM659 456.7h5v4h-5zM539 460.7h4v5h-4zM539 465.7h4v4h-4zM573 465.7h5v4h-5zM672 465.7h5v4h-5zM560 473.7h5v5h-5zM664 473.7h4v5h-4zM518 478.7h4v4h-4zM573 478.7h5v4h-5zM616 478.7h5v4h-5zM513 482.7h5v4h-5zM556 482.7h4v4h-4zM548 486.7h4v4h-4zM621 486.7h4v4h-4zM582 490.7h4v5h-4zM530 495.7h5v4h-5zM586 499.7h5v4h-5zM604 499.7h4v4h-4zM612 499.7h4v4h-4zM642 499.7h4v4h-4zM573 503.7h5v5h-5zM470 508.7h4v4h-4zM582 508.7h4v4h-4zM552 512.7h4v4h-4zM556 516.7h4v5h-4zM604 516.7h4v5h-4zM560 525.7h5v4h-5zM599 525.7h5v4h-5z"/>
<path fill="#306fff" d="M509 151.7h4v4h-4zM543 194.7h5v4h-5zM659 383.7h5v4h-5zM518 435.7h4v4h-4zM651 435.7h4v4h-4zM629 448.7h5v4h-5zM569 469.7h4v4h-4zM513 478.7h5v4h-5zM599 516.7h5v5h-5zM612 516.7h4v5h-4zM578 521.7h4v4h-4zM604 534.7h4v4h-4z"/>
<path fill="#36adff" d="M518 151.7h4v4h-4zM518 220.7h4v4h-4zM591 456.7h4v4h-4zM492 486.7h4v4h-4zM608 495.7h4v4h-4z"/>
<path fill="#306dff" d="M526 151.7h4v4h-4zM492 164.7h4v4h-4zM560 164.7h5v4h-5zM573 164.7h5v4h-5zM496 168.7h4v4h-4zM522 172.7h4v5h-4zM496 177.7h4v4h-4zM535 177.7h4v4h-4zM548 177.7h4v4h-4zM500 181.7h5v4h-5zM552 190.7h8v4h-8zM552 194.7h4v4h-4zM500 202.7h5v5h-5zM573 396.7h5v4h-5zM638 400.7h4v4h-4zM651 400.7h4v4h-4zM668 400.7h4v4h-4zM638 404.7h4v5h-4zM539 409.7h13v4h-13zM569 409.7h9v4h-9zM664 409.7h8v4h-8zM677 409.7h4v4h-4zM548 413.7h4v4h-4zM565 413.7h4v4h-4zM573 417.7h5v5h-5zM659 417.7h5v5h-5zM685 417.7h5v5h-5zM586 422.7h5v4h-5zM634 422.7h4v4h-4zM629 426.7h5v4h-5zM677 426.7h4v4h-4zM556 430.7h4v5h-4zM573 430.7h5v5h-5zM604 430.7h4v5h-4zM681 430.7h4v5h-4zM599 435.7h5v4h-5zM681 435.7h9v4h-9zM522 439.7h4v4h-4zM539 439.7h9v4h-9zM586 439.7h9v4h-9zM664 439.7h4v4h-4zM677 439.7h4v4h-4zM513 443.7h5v5h-5zM616 443.7h5v5h-5zM677 443.7h4v5h-4zM694 443.7h4v5h-4zM526 448.7h4v4h-4zM672 452.7h5v4h-5zM690 452.7h8v4h-8zM578 456.7h4v4h-4zM500 460.7h9v5h-9zM565 460.7h4v5h-4zM651 460.7h4v5h-4zM668 460.7h9v5h-9zM535 465.7h4v4h-4zM569 473.7h9v5h-9zM586 473.7h9v5h-9zM565 478.7h4v4h-4zM664 478.7h8v4h-8zM539 482.7h4v4h-4zM560 482.7h5v4h-5zM578 482.7h4v4h-4zM599 482.7h5v4h-5zM612 482.7h4v4h-4zM659 482.7h5v4h-5zM518 486.7h4v4h-4zM569 486.7h4v4h-4zM522 490.7h4v5h-4zM586 490.7h5v5h-5zM518 495.7h4v4h-4zM539 495.7h4v4h-4zM548 495.7h4v4h-4zM565 495.7h4v4h-4zM621 495.7h4v4h-4zM655 495.7h4v4h-4zM526 499.7h4v4h-4zM638 499.7h4v4h-4zM509 503.7h4v5h-4zM522 503.7h4v5h-4zM548 508.7h4v4h-4zM560 508.7h5v4h-5zM543 512.7h5v4h-5zM586 512.7h5v4h-5zM543 516.7h5v5h-5zM560 516.7h9v5h-9zM595 521.7h4v4h-4zM608 521.7h4v4h-4z"/>
<path fill="#3379ff" d="M556 151.7h4v4h-4zM543 164.7h5v4h-5zM543 168.7h5v4h-5zM505 207.7h4v4h-4zM457 232.7h5v5h-5z"/>
<path fill="#306eff" d="M530 155.7h5v4h-5zM518 159.7h4v5h-4zM548 159.7h4v5h-4zM513 164.7h5v4h-5zM500 168.7h5v4h-5zM522 168.7h4v4h-4zM518 172.7h4v5h-4zM548 172.7h8v5h-8zM492 181.7h4v4h-4zM556 194.7h4v4h-4zM543 198.7h5v4h-5zM509 207.7h4v4h-4zM560 215.7h5v5h-5zM642 379.7h4v4h-4zM565 383.7h4v4h-4zM560 387.7h5v5h-5zM638 392.7h4v4h-4zM642 396.7h4v4h-4zM668 396.7h4v4h-4zM552 404.7h4v5h-4zM573 404.7h5v5h-5zM629 404.7h5v5h-5zM668 404.7h4v5h-4zM629 409.7h5v4h-5zM569 417.7h4v5h-4zM690 417.7h4v5h-4zM543 426.7h5v4h-5zM552 426.7h4v4h-4zM681 426.7h4v4h-4zM690 426.7h4v4h-4zM530 430.7h5v5h-5zM582 430.7h4v5h-4zM634 430.7h4v5h-4zM664 430.7h4v5h-4zM530 435.7h5v4h-5zM565 435.7h4v4h-4zM595 435.7h4v4h-4zM535 439.7h4v4h-4zM599 439.7h5v4h-5zM651 439.7h4v4h-4zM518 443.7h4v5h-4zM548 443.7h12v5h-12zM599 443.7h5v5h-5zM668 443.7h4v5h-4zM513 448.7h5v4h-5zM535 448.7h4v4h-4zM543 448.7h5v4h-5zM556 448.7h4v4h-4zM591 448.7h4v4h-4zM526 452.7h9v4h-9zM509 456.7h4v4h-4zM543 456.7h5v4h-5zM552 456.7h4v4h-4zM634 456.7h4v4h-4zM646 456.7h5v4h-5zM668 456.7h4v4h-4zM543 465.7h9v4h-9zM548 469.7h8v4h-8zM565 473.7h4v5h-4zM651 478.7h4v4h-4zM646 482.7h5v4h-5zM655 482.7h4v4h-4zM582 486.7h4v4h-4zM560 495.7h5v4h-5zM548 499.7h4v4h-4zM573 499.7h5v4h-5zM479 503.7h4v5h-4zM492 503.7h4v5h-4zM548 503.7h4v5h-4zM518 508.7h4v4h-4zM578 508.7h4v4h-4zM591 508.7h4v4h-4zM599 508.7h5v4h-5zM573 512.7h5v4h-5zM582 512.7h4v4h-4zM582 516.7h4v5h-4zM595 516.7h4v5h-4zM552 521.7h4v4h-4zM582 521.7h4v4h-4zM565 525.7h4v4h-4zM612 529.7h4v5h-4zM612 534.7h4v4h-4z"/>
<path fill="#316fff" d="M539 155.7h4v4h-4zM552 155.7h4v4h-4zM509 159.7h4v5h-4zM573 159.7h5v5h-5zM509 168.7h4v4h-4zM556 172.7h4v5h-4zM539 177.7h4v4h-4zM552 177.7h4v4h-4zM496 181.7h4v4h-4zM505 185.7h4v5h-4zM500 198.7h9v4h-9zM509 202.7h4v5h-4zM642 387.7h4v5h-4zM651 387.7h4v5h-4zM659 387.7h5v5h-5zM573 392.7h5v4h-5zM634 392.7h4v4h-4zM655 392.7h4v4h-4zM548 396.7h4v4h-4zM664 396.7h4v4h-4zM578 400.7h4v4h-4zM685 404.7h5v5h-5zM638 409.7h4v4h-4zM694 417.7h4v5h-4zM569 426.7h4v4h-4zM569 430.7h4v5h-4zM595 430.7h4v5h-4zM535 435.7h4v4h-4zM569 435.7h9v4h-9zM582 435.7h4v4h-4zM591 435.7h4v4h-4zM608 435.7h4v4h-4zM646 435.7h5v4h-5zM664 435.7h4v4h-4zM556 439.7h4v4h-4zM616 439.7h5v4h-5zM690 439.7h8v4h-8zM573 443.7h5v5h-5zM646 443.7h5v5h-5zM509 448.7h4v4h-4zM539 448.7h4v4h-4zM642 448.7h4v4h-4zM543 452.7h9v4h-9zM634 452.7h4v4h-4zM526 456.7h9v4h-9zM526 460.7h4v5h-4zM642 460.7h4v5h-4zM659 460.7h5v5h-5zM690 460.7h4v5h-4zM582 465.7h4v4h-4zM539 469.7h4v4h-4zM685 469.7h5v4h-5zM530 478.7h5v4h-5zM595 478.7h4v4h-4zM595 482.7h4v4h-4zM659 486.7h5v4h-5zM466 490.7h4v5h-4zM526 490.7h4v5h-4zM616 495.7h5v4h-5zM625 495.7h4v4h-4zM530 499.7h5v4h-5zM543 499.7h5v4h-5zM629 499.7h5v4h-5zM466 503.7h4v5h-4zM513 503.7h5v5h-5zM474 508.7h5v4h-5zM543 508.7h5v4h-5zM586 508.7h5v4h-5zM595 508.7h4v4h-4zM548 512.7h4v4h-4zM560 512.7h9v4h-9zM612 512.7h4v4h-4zM548 516.7h4v5h-4zM578 516.7h4v5h-4zM608 516.7h4v5h-4zM565 521.7h4v4h-4zM599 521.7h9v4h-9zM552 525.7h4v4h-4zM604 529.7h4v5h-4z"/>
<path fill="#2f68ff" d="M543 155.7h5v4h-5zM556 159.7h4v5h-4zM505 164.7h4v4h-4zM560 168.7h5v4h-5zM539 190.7h9v4h-9zM539 194.7h4v4h-4zM552 392.7h4v4h-4zM651 396.7h4v4h-4zM552 400.7h4v4h-4zM569 404.7h4v5h-4zM651 409.7h4v4h-4zM539 413.7h4v4h-4zM552 413.7h4v4h-4zM655 413.7h4v4h-4zM629 417.7h5v5h-5zM578 422.7h4v4h-4zM668 422.7h4v4h-4zM595 426.7h4v4h-4zM522 430.7h4v5h-4zM608 430.7h4v5h-4zM690 430.7h4v5h-4zM552 435.7h4v4h-4zM616 435.7h5v4h-5zM672 435.7h5v4h-5zM565 443.7h4v5h-4zM621 448.7h4v4h-4zM664 448.7h4v4h-4zM509 452.7h4v4h-4zM556 452.7h4v4h-4zM668 452.7h4v4h-4zM638 456.7h4v4h-4zM681 456.7h4v4h-4zM694 456.7h4v4h-4zM578 460.7h4v5h-4zM509 465.7h4v4h-4zM560 465.7h5v4h-5zM599 473.7h5v5h-5zM535 478.7h4v4h-4zM548 478.7h4v4h-4zM578 478.7h4v4h-4zM569 482.7h4v4h-4zM509 486.7h4v4h-4zM625 486.7h4v4h-4zM556 490.7h4v5h-4zM591 499.7h4v4h-4zM500 503.7h5v5h-5zM518 503.7h4v5h-4zM582 503.7h4v5h-4zM530 508.7h5v4h-5zM556 508.7h4v4h-4zM565 508.7h4v4h-4zM578 512.7h4v4h-4zM569 521.7h4v4h-4zM556 525.7h4v4h-4zM569 525.7h9v4h-9zM604 525.7h4v4h-4z"/>
<path fill="#2f69ff" d="M556 155.7h4v4h-4zM565 155.7h4v4h-4zM496 164.7h9v4h-9zM651 379.7h4v4h-4zM651 404.7h4v5h-4zM659 404.7h5v5h-5zM582 417.7h4v5h-4zM668 417.7h4v5h-4zM539 422.7h4v4h-4zM651 422.7h4v4h-4zM672 426.7h5v4h-5zM560 430.7h5v5h-5zM578 430.7h4v5h-4zM543 435.7h5v4h-5zM604 435.7h4v4h-4zM629 435.7h5v4h-5zM569 439.7h4v4h-4zM612 439.7h4v4h-4zM569 443.7h4v5h-4zM608 443.7h4v5h-4zM690 443.7h4v5h-4zM552 448.7h4v4h-4zM599 448.7h5v4h-5zM638 448.7h4v4h-4zM646 448.7h5v4h-5zM659 448.7h5v4h-5zM518 452.7h4v4h-4zM565 452.7h4v4h-4zM638 452.7h4v4h-4zM651 452.7h8v4h-8zM677 452.7h4v4h-4zM522 456.7h4v4h-4zM548 460.7h4v5h-4zM573 460.7h5v5h-5zM638 460.7h4v5h-4zM500 469.7h5v4h-5zM543 473.7h5v5h-5zM677 473.7h4v5h-4zM539 478.7h4v4h-4zM552 478.7h4v4h-4zM621 482.7h4v4h-4zM642 482.7h4v4h-4zM522 486.7h8v4h-8zM578 486.7h4v4h-4zM505 490.7h4v5h-4zM513 490.7h5v5h-5zM556 495.7h4v4h-4zM573 495.7h5v4h-5zM651 495.7h4v4h-4zM505 499.7h4v4h-4zM578 503.7h4v5h-4zM595 503.7h4v5h-4zM655 503.7h4v5h-4zM608 525.7h4v4h-4z"/>
<path fill="#306bff" d="M530 159.7h5v5h-5zM565 159.7h4v5h-4zM565 164.7h4v4h-4zM509 185.7h4v5h-4zM526 190.7h4v4h-4zM526 194.7h4v4h-4zM668 392.7h4v4h-4zM573 400.7h5v4h-5zM646 400.7h5v4h-5zM565 409.7h4v4h-4zM578 417.7h4v5h-4zM690 422.7h4v4h-4zM526 435.7h4v4h-4zM556 435.7h4v4h-4zM655 435.7h4v4h-4zM638 439.7h4v4h-4zM509 443.7h4v5h-4zM664 443.7h4v5h-4zM672 443.7h5v5h-5zM530 448.7h5v4h-5zM690 448.7h4v4h-4zM646 452.7h5v4h-5zM500 456.7h5v4h-5zM569 456.7h4v4h-4zM664 456.7h4v4h-4zM685 456.7h5v4h-5zM509 460.7h4v5h-4zM526 465.7h4v4h-4zM556 465.7h4v4h-4zM677 465.7h4v4h-4zM496 469.7h4v4h-4zM677 469.7h4v4h-4zM681 473.7h4v5h-4zM522 478.7h4v4h-4zM556 478.7h4v4h-4zM530 490.7h5v5h-5zM573 490.7h5v5h-5zM526 495.7h4v4h-4zM591 495.7h4v4h-4zM518 499.7h4v4h-4zM578 499.7h8v4h-8zM569 503.7h4v5h-4zM586 503.7h5v5h-5zM625 503.7h4v5h-4zM479 508.7h4v4h-4zM569 508.7h4v4h-4zM608 508.7h8v4h-8zM595 512.7h4v4h-4zM548 521.7h4v4h-4zM599 529.7h5v5h-5z"/>
<path fill="#2e66ff" d="M552 159.7h4v5h-4zM655 396.7h4v4h-4zM560 404.7h5v5h-5zM642 404.7h4v5h-4zM664 413.7h4v4h-4zM681 413.7h4v4h-4zM681 417.7h4v5h-4zM642 422.7h4v4h-4zM539 426.7h4v4h-4zM560 426.7h5v4h-5zM655 426.7h4v4h-4zM616 430.7h5v5h-5zM543 443.7h5v5h-5zM681 448.7h4v4h-4zM625 456.7h4v4h-4zM651 456.7h8v4h-8zM625 460.7h4v5h-4zM646 460.7h5v5h-5zM685 460.7h5v5h-5zM496 465.7h4v4h-4zM659 469.7h5v4h-5zM595 473.7h4v5h-4zM672 473.7h5v5h-5zM672 482.7h5v4h-5zM543 486.7h5v4h-5zM573 486.7h5v4h-5zM646 499.7h5v4h-5zM487 503.7h5v5h-5zM560 503.7h5v5h-5zM509 508.7h9v4h-9zM526 508.7h4v4h-4zM651 512.7h4v4h-4zM560 521.7h5v4h-5z"/>
<path fill="#2f66ff" d="M560 159.7h5v5h-5zM560 396.7h5v4h-5zM565 404.7h4v5h-4zM659 409.7h5v4h-5zM677 413.7h4v4h-4zM685 413.7h5v4h-5zM659 422.7h5v4h-5zM651 426.7h4v4h-4zM659 426.7h5v4h-5zM668 439.7h4v4h-4zM578 443.7h4v5h-4zM586 448.7h5v4h-5zM625 448.7h4v4h-4zM651 448.7h4v4h-4zM569 452.7h4v4h-4zM569 460.7h4v5h-4zM526 469.7h4v4h-4zM513 473.7h5v5h-5zM668 482.7h4v4h-4zM543 495.7h5v4h-5zM586 525.7h5v4h-5z"/>
<path fill="#306aff" d="M552 168.7h4v4h-4zM569 387.7h4v5h-4zM638 417.7h4v5h-4zM535 422.7h4v4h-4zM552 430.7h4v5h-4zM560 435.7h5v4h-5zM629 439.7h5v4h-5zM672 439.7h5v4h-5zM668 448.7h4v4h-4zM664 452.7h4v4h-4zM513 456.7h5v4h-5zM548 456.7h4v4h-4zM552 465.7h4v4h-4zM569 465.7h4v4h-4zM694 465.7h4v4h-4zM582 473.7h4v5h-4zM604 473.7h4v5h-4zM608 482.7h4v4h-4zM535 486.7h4v4h-4zM522 495.7h4v4h-4zM569 495.7h4v4h-4zM608 512.7h4v4h-4zM591 525.7h4v4h-4z"/>
<path fill="#3279ff" d="M565 172.7h4v5h-4zM548 185.7h4v5h-4zM518 198.7h4v4h-4z"/>
<path fill="#3896ff" d="M492 177.7h4v4h-4z"/>
<path fill="#337aff" d="M569 177.7h4v4h-4zM543 181.7h5v4h-5zM552 181.7h8v4h-8z"/>
<path fill="#2f6aff" d="M513 181.7h5v4h-5zM530 190.7h5v4h-5zM552 417.7h8v5h-8zM646 430.7h5v5h-5zM685 430.7h5v5h-5zM530 439.7h5v4h-5zM604 443.7h4v5h-4zM573 456.7h5v4h-5zM690 456.7h4v4h-4zM535 460.7h4v5h-4zM556 460.7h4v5h-4zM655 460.7h4v5h-4zM681 460.7h4v5h-4zM694 460.7h4v5h-4zM543 469.7h5v4h-5zM612 478.7h4v4h-4zM535 482.7h4v4h-4zM573 482.7h5v4h-5zM530 486.7h5v4h-5zM539 486.7h4v4h-4zM560 486.7h5v4h-5zM509 495.7h9v4h-9zM586 495.7h5v4h-5zM522 499.7h4v4h-4zM474 503.7h5v5h-5zM569 512.7h4v4h-4z"/>
<path fill="#379eff" d="M513 185.7h5v5h-5zM548 211.7h4v4h-4zM530 224.7h5v4h-5zM608 452.7h4v4h-4z"/>
<path fill="#34c0ff" d="M543 185.7h5v5h-5zM530 207.7h5v4h-5zM513 318.7h5v5h-5zM625 512.7h4v4h-4z"/>
<path fill="#389aff" d="M560 185.7h5v5h-5zM548 202.7h4v5h-4zM535 224.7h4v4h-4z"/>
<path fill="#36a5ff" d="M513 190.7h5v4h-5zM496 276.7h4v4h-4z"/>
<path fill="#35b7ff" d="M518 190.7h4v4h-4zM539 202.7h4v5h-4zM535 228.7h4v4h-4zM453 241.7h4v4h-4zM457 250.7h5v4h-5zM513 267.7h5v4h-5zM487 288.7h5v5h-5zM509 336.7h4v4h-4zM479 499.7h4v4h-4zM646 508.7h5v4h-5zM616 516.7h5v5h-5z"/>
<path fill="#3790ff" d="M548 190.7h4v4h-4zM591 452.7h4v4h-4zM599 460.7h5v5h-5zM591 465.7h4v4h-4zM599 465.7h5v4h-5z"/>
<path fill="#368eff" d="M548 194.7h4v4h-4zM526 224.7h4v4h-4zM526 228.7h4v4h-4zM552 232.7h4v5h-4zM599 456.7h5v4h-5z"/>
<path fill="#1d23ff" d="M728 198.7h4v4h-4zM702 202.7h26v5h-26zM677 207.7h47v4h-47zM646 211.7h69v4h-69zM638 215.7h82v5h-82zM724 215.7h26v5h-26zM788 215.7h35v5h-35zM634 220.7h120v4h-120zM767 220.7h73v4h-73zM625 224.7h133v4h-133zM763 224.7h90v4h-90zM621 228.7h236v4h-236zM616 232.7h237v5h-237zM612 237.7h237v4h-237zM608 241.7h241v4h-241zM604 245.7h240v5h-240zM599 250.7h241v4h-241zM599 254.7h241v4h-241zM599 258.7h241v5h-241zM599 263.7h241v4h-241zM599 267.7h241v4h-241zM599 271.7h241v5h-241zM599 276.7h237v4h-237zM599 280.7h237v4h-237zM599 284.7h232v4h-232zM599 288.7h232v5h-232zM599 293.7h224v4h-224zM599 297.7h224v4h-224zM599 301.7h228v5h-228zM599 306.7h198v4h-198zM806 306.7h25v4h-25zM599 310.7h194v4h-194zM806 310.7h21v4h-21zM599 314.7h185v4h-185zM806 314.7h8v4h-8zM599 318.7h181v5h-181zM599 323.7h172v4h-172zM599 327.7h168v4h-168zM646 331.7h112v5h-112zM651 336.7h103v4h-103zM655 340.7h90v4h-90zM659 344.7h82v5h-82zM668 349.7h64v4h-64zM672 353.7h43v4h-43zM677 357.7h21v5h-21z"/>
<path fill="#379dff" d="M513 202.7h5v5h-5zM548 224.7h4v4h-4zM548 228.7h4v4h-4zM556 237.7h4v4h-4zM595 456.7h4v4h-4z"/>
<path fill="#31d9ff" d="M518 202.7h8v5h-8zM513 228.7h5v4h-5zM513 237.7h5v4h-5zM470 241.7h4v4h-4zM474 250.7h5v4h-5zM457 263.7h5v4h-5zM535 340.7h4v4h-4zM629 465.7h5v4h-5zM479 490.7h4v5h-4zM496 499.7h4v4h-4z"/>
<path fill="#35b6ff" d="M526 202.7h4v5h-4zM462 254.7h4v4h-4zM556 340.7h4v4h-4z"/>
<path fill="#34baff" d="M530 202.7h5v5h-5zM535 211.7h4v4h-4zM513 215.7h5v5h-5zM492 224.7h4v4h-4zM492 280.7h4v4h-4zM560 323.7h5v4h-5zM509 473.7h4v5h-4zM470 495.7h4v4h-4z"/>
<path fill="#34c1ff" d="M535 202.7h4v5h-4zM466 224.7h4v4h-4zM474 241.7h5v4h-5zM513 254.7h5v4h-5zM487 284.7h5v4h-5zM492 495.7h4v4h-4zM604 495.7h4v4h-4z"/>
<path fill="#37a1ff" d="M543 202.7h5v5h-5z"/>
<path fill="#30e0ff" d="M552 202.7h4v5h-4zM496 220.7h4v4h-4zM487 228.7h5v4h-5zM548 276.7h4v4h-4zM552 323.7h4v4h-4zM569 340.7h4v4h-4zM492 490.7h4v5h-4z"/>
<path fill="#33c7ff" d="M513 207.7h5v4h-5zM509 220.7h4v4h-4zM509 224.7h4v4h-4zM518 237.7h4v4h-4zM496 271.7h4v5h-4zM474 276.7h5v4h-5zM492 276.7h4v4h-4zM474 280.7h5v4h-5zM496 280.7h4v4h-4zM573 310.7h5v4h-5zM500 490.7h5v5h-5zM474 495.7h5v4h-5z"/>
<path fill="#378fff" d="M518 207.7h4v4h-4zM556 215.7h4v5h-4zM582 460.7h4v5h-4zM595 469.7h4v4h-4z"/>
<path fill="#37a3ff" d="M522 207.7h4v4h-4zM539 224.7h4v4h-4zM543 237.7h5v4h-5zM552 237.7h4v4h-4z"/>
<path fill="#35afff" d="M526 207.7h4v4h-4zM535 232.7h4v5h-4zM604 503.7h4v5h-4z"/>
<path fill="#32d2ff" d="M535 207.7h4v4h-4zM539 211.7h4v4h-4zM483 232.7h9v5h-9zM522 237.7h4v4h-4zM509 323.7h4v4h-4zM496 478.7h4v4h-4zM496 490.7h4v5h-4zM612 495.7h4v4h-4z"/>
<path fill="#35b0ff" d="M539 207.7h4v4h-4zM548 207.7h4v4h-4zM470 224.7h4v4h-4zM586 460.7h5v5h-5z"/>
<path fill="#3899ff" d="M543 207.7h5v4h-5zM595 460.7h4v5h-4z"/>
<path fill="#32d1ff" d="M552 207.7h4v4h-4zM505 220.7h4v4h-4zM492 232.7h4v5h-4zM526 241.7h4v4h-4zM492 254.7h4v4h-4zM496 293.7h4v4h-4zM518 301.7h4v5h-4zM578 310.7h4v4h-4zM505 473.7h4v5h-4zM646 473.7h5v5h-5zM604 490.7h4v5h-4zM655 499.7h4v4h-4zM616 529.7h5v5h-5z"/>
<path fill="#59ecdc" d="M505 211.7h4v4h-4z"/>
<path fill="#32cdff" d="M509 211.7h4v4h-4zM483 220.7h4v4h-4zM560 224.7h5v4h-5zM518 245.7h4v5h-4zM483 276.7h9v4h-9zM573 306.7h5v4h-5zM595 490.7h4v5h-4zM621 529.7h4v5h-4z"/>
<path fill="#33c6ff" d="M513 211.7h5v4h-5zM500 215.7h5v5h-5zM505 224.7h4v4h-4zM466 232.7h4v5h-4zM492 288.7h4v5h-4zM642 503.7h4v5h-4zM629 529.7h5v5h-5z"/>
<path fill="#368dff" d="M518 211.7h4v4h-4zM539 237.7h4v4h-4zM595 448.7h4v4h-4z"/>
<path fill="#368aff" d="M522 211.7h4v4h-4zM595 465.7h4v4h-4z"/>
<path fill="#34bdff" d="M526 211.7h4v4h-4zM543 215.7h5v5h-5zM513 263.7h5v4h-5zM578 301.7h4v5h-4zM505 331.7h4v5h-4zM569 331.7h4v5h-4zM505 469.7h4v4h-4zM616 490.7h5v5h-5z"/>
<path fill="#36a6ff" d="M543 211.7h5v4h-5zM535 237.7h4v4h-4zM505 353.7h4v4h-4z"/>
<path fill="#36acff" d="M552 211.7h4v4h-4zM530 220.7h5v4h-5zM612 503.7h4v5h-4z"/>
<path fill="#5feed8" d="M492 215.7h4v5h-4z"/>
<path fill="#31daff" d="M496 215.7h4v5h-4zM492 237.7h4v4h-4zM513 241.7h5v4h-5zM500 340.7h5v4h-5zM539 340.7h4v4h-4zM522 344.7h4v5h-4zM513 353.7h5v4h-5zM621 538.7h4v4h-4z"/>
<path fill="#32d5ff" d="M505 215.7h4v5h-4zM513 232.7h5v5h-5zM513 250.7h5v4h-5zM500 284.7h5v4h-5zM492 293.7h4v4h-4zM509 301.7h4v5h-4zM578 318.7h4v5h-4zM535 323.7h4v4h-4zM505 340.7h4v4h-4zM625 473.7h4v5h-4z"/>
<path fill="#34bfff" d="M509 215.7h4v5h-4zM466 228.7h4v4h-4zM500 495.7h5v4h-5zM629 508.7h5v4h-5z"/>
<path fill="#fff722" d="M518 215.7h4v5h-4zM509 245.7h4v5h-4zM586 267.7h5v4h-5z"/>
<path fill="#33c8ff" d="M526 215.7h4v5h-4zM552 224.7h4v4h-4zM530 237.7h5v4h-5zM530 344.7h5v5h-5zM616 499.7h5v4h-5zM599 503.7h5v5h-5zM629 512.7h5v4h-5z"/>
<path fill="#33cbff" d="M530 215.7h5v5h-5zM522 241.7h4v4h-4zM608 486.7h4v4h-4zM608 499.7h4v4h-4z"/>
<path fill="#36aeff" d="M535 215.7h4v5h-4zM608 460.7h4v5h-4z"/>
<path fill="#3895ff" d="M539 215.7h4v5h-4zM539 220.7h4v4h-4zM586 452.7h5v4h-5zM599 452.7h5v4h-5zM604 469.7h4v4h-4z"/>
<path fill="#35b2ff" d="M548 215.7h4v5h-4zM470 228.7h4v4h-4zM500 331.7h5v5h-5z"/>
<path fill="#36a8ff" d="M552 215.7h4v5h-4zM496 228.7h4v4h-4zM539 228.7h4v4h-4zM509 469.7h4v4h-4zM500 473.7h5v5h-5z"/>
<path fill="#34bcff" d="M479 220.7h4v4h-4zM543 224.7h5v4h-5zM496 486.7h4v4h-4zM474 490.7h5v5h-5zM470 499.7h4v4h-4zM487 499.7h5v4h-5zM625 525.7h4v4h-4z"/>
<path fill="#30e4ff" d="M487 220.7h5v4h-5zM505 232.7h4v5h-4zM556 241.7h4v4h-4zM470 245.7h4v5h-4zM470 250.7h4v4h-4zM462 263.7h4v4h-4zM552 331.7h4v5h-4z"/>
<path fill="#fff320" d="M492 220.7h4v4h-4zM505 250.7h4v4h-4zM526 250.7h4v4h-4zM573 250.7h5v4h-5zM453 276.7h4v4h-4zM539 331.7h4v5h-4z"/>
<path fill="#31deff" d="M500 220.7h5v4h-5zM522 228.7h4v4h-4zM470 280.7h4v4h-4zM487 280.7h5v4h-5zM509 280.7h4v4h-4zM505 288.7h4v5h-4zM552 336.7h4v4h-4zM625 469.7h4v4h-4z"/>
<path fill="#31dcff" d="M513 220.7h5v4h-5zM479 224.7h4v4h-4zM509 237.7h4v4h-4zM642 469.7h4v4h-4zM629 478.7h5v4h-5zM470 486.7h4v4h-4zM625 534.7h4v4h-4z"/>
<path fill="#389bff" d="M522 220.7h4v4h-4zM604 456.7h4v4h-4z"/>
<path fill="#35b5ff" d="M526 220.7h4v4h-4zM543 228.7h5v4h-5zM483 241.7h4v4h-4zM509 318.7h4v5h-4zM599 495.7h5v4h-5zM634 529.7h4v5h-4z"/>
<path fill="#34bbff" d="M548 220.7h4v4h-4zM543 232.7h5v5h-5zM509 271.7h4v5h-4zM513 336.7h5v4h-5zM487 495.7h5v4h-5zM651 499.7h4v4h-4zM616 534.7h5v4h-5z"/>
<path fill="#3791ff" d="M552 220.7h4v4h-4zM539 232.7h4v5h-4z"/>
<path fill="#37a2ff" d="M556 220.7h4v4h-4zM582 452.7h4v4h-4zM612 460.7h4v5h-4zM487 490.7h5v5h-5z"/>
<path fill="#368bff" d="M560 220.7h5v4h-5z"/>
<path fill="#31e4fe" d="M474 224.7h5v4h-5zM483 224.7h4v4h-4zM509 254.7h4v4h-4zM565 331.7h4v5h-4zM612 465.7h4v4h-4zM616 473.7h5v5h-5z"/>
<path fill="#31ddff" d="M487 224.7h5v4h-5zM565 241.7h4v4h-4zM505 245.7h4v5h-4zM505 276.7h4v4h-4zM548 323.7h4v4h-4zM573 323.7h5v4h-5zM552 344.7h4v5h-4zM634 478.7h4v4h-4zM526 482.7h4v4h-4zM599 490.7h5v5h-5zM621 534.7h4v4h-4z"/>
<path fill="#33c9ff" d="M496 224.7h4v4h-4zM556 224.7h4v4h-4zM560 228.7h5v4h-5zM496 267.7h4v4h-4zM492 271.7h4v5h-4zM543 323.7h5v4h-5zM500 353.7h5v4h-5zM518 460.7h4v5h-4zM638 473.7h4v5h-4zM492 478.7h4v4h-4z"/>
<path fill="#39e6f7" d="M500 224.7h5v4h-5zM479 228.7h4v4h-4zM509 310.7h4v4h-4z"/>
<path fill="#33c3ff" d="M513 224.7h5v4h-5zM560 353.7h5v4h-5zM474 499.7h5v4h-5zM638 503.7h4v5h-4z"/>
<path fill="#68efd0" d="M518 224.7h4v4h-4zM535 241.7h4v4h-4zM479 271.7h4v5h-4zM552 288.7h4v5h-4z"/>
<path fill="#32ceff" d="M522 224.7h4v4h-4zM513 245.7h5v5h-5zM492 267.7h4v4h-4zM509 331.7h4v5h-4zM535 336.7h4v4h-4zM526 340.7h4v4h-4zM505 486.7h4v4h-4zM625 529.7h4v5h-4z"/>
<path fill="#31d6ff" d="M474 228.7h5v4h-5zM496 232.7h4v5h-4zM518 232.7h4v5h-4zM556 323.7h4v4h-4zM530 331.7h5v5h-5zM474 486.7h5v4h-5z"/>
<path fill="#37e6f9" d="M483 228.7h4v4h-4z"/>
<path fill="#35aeff" d="M492 228.7h4v4h-4zM604 460.7h4v5h-4z"/>
<path fill="#30dfff" d="M500 228.7h5v4h-5zM483 263.7h4v4h-4z"/>
<path fill="#32d0ff" d="M505 228.7h4v4h-4zM470 237.7h4v4h-4zM466 241.7h4v4h-4zM552 241.7h4v4h-4zM560 241.7h5v4h-5zM492 258.7h4v5h-4zM513 276.7h5v4h-5zM513 301.7h5v5h-5zM573 314.7h5v4h-5zM505 482.7h4v4h-4zM591 486.7h4v4h-4zM608 490.7h4v5h-4zM646 512.7h5v4h-5z"/>
<path fill="#f1ff3c" d="M509 228.7h4v4h-4zM457 280.7h5v4h-5zM496 297.7h4v4h-4zM453 486.7h4v4h-4zM621 503.7h4v5h-4z"/>
<path fill="#4beae8" d="M518 228.7h4v4h-4zM466 280.7h4v4h-4zM642 465.7h4v4h-4z"/>
<path fill="#3793ff" d="M530 228.7h5v4h-5z"/>
<path fill="#36a7ff" d="M556 228.7h4v4h-4zM479 280.7h4v4h-4zM483 284.7h4v4h-4zM500 482.7h5v4h-5z"/>
<path fill="#31dbff" d="M462 232.7h4v5h-4zM462 237.7h4v4h-4zM470 284.7h4v4h-4zM500 297.7h5v4h-5zM573 301.7h5v5h-5zM608 469.7h4v4h-4zM634 469.7h4v4h-4zM642 473.7h4v5h-4zM518 490.7h4v5h-4zM492 499.7h4v4h-4z"/>
<path fill="#32cfff" d="M470 232.7h4v5h-4zM449 250.7h4v4h-4zM621 473.7h4v5h-4zM651 473.7h4v5h-4zM487 478.7h5v4h-5zM500 478.7h5v4h-5zM479 495.7h4v4h-4zM496 495.7h4v4h-4zM616 521.7h5v4h-5z"/>
<path fill="#43e8ef" d="M474 232.7h5v5h-5zM543 276.7h5v4h-5zM543 331.7h5v5h-5z"/>
<path fill="#4ceae7" d="M479 232.7h4v5h-4z"/>
<path fill="#46e8ed" d="M500 232.7h5v5h-5zM638 512.7h4v4h-4z"/>
<path fill="#3be6f6" d="M509 232.7h4v5h-4zM509 297.7h4v4h-4zM560 327.7h5v4h-5zM487 486.7h5v4h-5z"/>
<path fill="#36e5fa" d="M522 232.7h4v5h-4zM487 237.7h5v4h-5zM479 263.7h4v4h-4zM500 280.7h5v4h-5zM518 349.7h4v4h-4zM474 482.7h5v4h-5z"/>
<path fill="#36abff" d="M526 232.7h4v5h-4zM526 237.7h4v4h-4zM500 499.7h5v4h-5z"/>
<path fill="#fff420" d="M530 232.7h5v5h-5zM466 245.7h4v5h-4zM530 245.7h5v5h-5zM552 263.7h4v4h-4zM466 276.7h4v4h-4z"/>
<path fill="#379bff" d="M556 232.7h4v5h-4z"/>
<path fill="#32d4ff" d="M560 232.7h5v5h-5zM509 340.7h4v4h-4zM543 340.7h5v4h-5zM470 490.7h4v5h-4z"/>
<path fill="#2132ff" d="M440 237.7h17v4h-17zM419 241.7h4v4h-4zM436 241.7h17v4h-17zM414 245.7h39v5h-39zM582 245.7h9v5h-9zM410 250.7h39v4h-39zM586 250.7h13v4h-13zM410 254.7h39v4h-39zM591 254.7h8v4h-8zM410 258.7h39v5h-39zM595 258.7h4v5h-4zM410 263.7h39v4h-39zM595 263.7h4v4h-4zM410 267.7h43v4h-43zM591 267.7h8v4h-8zM406 271.7h47v5h-47zM582 271.7h17v5h-17zM406 276.7h47v4h-47zM578 276.7h21v4h-21zM406 280.7h47v4h-47zM578 280.7h21v4h-21zM406 284.7h47v4h-47zM578 284.7h21v4h-21zM406 288.7h81v5h-81zM578 288.7h21v5h-21zM414 293.7h78v4h-78zM578 293.7h21v4h-21zM419 297.7h77v4h-77zM582 297.7h17v4h-17zM419 301.7h90v5h-90zM582 301.7h17v5h-17zM419 306.7h86v4h-86zM582 306.7h17v4h-17zM423 310.7h82v4h-82zM582 310.7h17v4h-17zM427 314.7h78v4h-78zM582 314.7h17v4h-17zM427 318.7h78v5h-78zM582 318.7h17v5h-17zM432 323.7h73v4h-73zM578 323.7h21v4h-21zM436 327.7h69v4h-69zM573 327.7h26v4h-26zM436 331.7h64v5h-64zM573 331.7h26v5h-26zM436 336.7h64v4h-64zM573 336.7h26v4h-26zM436 340.7h60v4h-60zM573 340.7h26v4h-26zM440 344.7h56v5h-56zM535 344.7h13v5h-13zM573 344.7h18v5h-18zM440 349.7h60v4h-60zM526 349.7h30v4h-30zM569 349.7h4v4h-4zM440 353.7h60v4h-60zM522 353.7h34v4h-34zM440 357.7h99v5h-99zM444 362.7h52v4h-52zM518 362.7h4v4h-4zM444 366.7h48v4h-48zM453 370.7h30v4h-30zM462 374.7h17v5h-17z"/>
<path fill="#4ae9e9" d="M457 237.7h5v4h-5zM543 241.7h5v4h-5z"/>
<path fill="#30e3ff" d="M466 237.7h4v4h-4zM496 258.7h9v5h-9zM565 323.7h4v4h-4zM560 344.7h5v5h-5zM616 465.7h5v4h-5zM604 486.7h4v4h-4zM621 490.7h4v5h-4z"/>
<path fill="#33e5fd" d="M474 237.7h5v4h-5zM509 353.7h4v4h-4zM509 478.7h4v4h-4z"/>
<path fill="#58ecdd" d="M479 237.7h4v4h-4zM569 323.7h4v4h-4zM513 349.7h5v4h-5z"/>
<path fill="#35e5fb" d="M483 237.7h4v4h-4zM457 241.7h5v4h-5zM505 318.7h4v5h-4zM505 336.7h4v4h-4zM483 486.7h4v4h-4z"/>
<path fill="#faff2f" d="M496 237.7h4v4h-4zM496 288.7h4v5h-4zM552 318.7h4v5h-4zM642 495.7h4v4h-4z"/>
<path fill="#57ecdf" d="M500 237.7h5v4h-5z"/>
<path fill="#42e8f0" d="M505 237.7h4v4h-4zM479 482.7h4v4h-4z"/>
<path fill="#37a0ff" d="M548 237.7h4v4h-4z"/>
<path fill="#35b1ff" d="M560 237.7h5v4h-5zM513 271.7h5v5h-5zM483 499.7h4v4h-4z"/>
<path fill="#57ecde" d="M462 241.7h4v4h-4zM500 263.7h5v4h-5zM483 482.7h4v4h-4z"/>
<path fill="#f4ff37" d="M479 241.7h4v4h-4zM522 245.7h4v5h-4zM509 250.7h4v4h-4zM569 306.7h4v4h-4zM453 482.7h4v4h-4zM642 486.7h4v4h-4zM621 508.7h4v4h-4z"/>
<path fill="#d6ff60" d="M487 241.7h5v4h-5zM440 452.7h4v4h-4z"/>
<path fill="#ceff6c" d="M492 241.7h4v4h-4z"/>
<path fill="#c6ff78" d="M496 241.7h4v4h-4z"/>
<path fill="#e2ff51" d="M500 241.7h5v4h-5zM470 478.7h4v4h-4z"/>
<path fill="#eaff46" d="M505 241.7h4v4h-4z"/>
<path fill="#fff01e" d="M509 241.7h4v4h-4zM466 263.7h4v4h-4zM569 267.7h4v4h-4zM548 301.7h4v5h-4z"/>
<path fill="#32d3ff" d="M518 241.7h4v4h-4zM530 241.7h5v4h-5zM560 284.7h5v4h-5zM655 473.7h4v5h-4zM621 516.7h4v5h-4zM621 525.7h4v4h-4z"/>
<path fill="#6bf0cd" d="M539 241.7h4v4h-4z"/>
<path fill="#32e4fd" d="M548 241.7h4v4h-4zM487 250.7h5v4h-5zM552 327.7h4v4h-4z"/>
<path fill="#f9ff30" d="M453 245.7h4v5h-4zM474 254.7h5v4h-5zM651 508.7h4v4h-4z"/>
<path fill="#4feae5" d="M457 245.7h5v5h-5z"/>
<path fill="#ffd50c" d="M462 245.7h4v5h-4zM513 323.7h5v4h-5z"/>
<path fill="#e4ff4e" d="M474 245.7h5v5h-5zM565 263.7h4v4h-4z"/>
<path fill="#ecff43" d="M479 245.7h4v5h-4z"/>
<path fill="#ffca04" d="M483 245.7h4v5h-4zM530 293.7h5v4h-5z"/>
<path fill="#ffd209" d="M487 245.7h5v5h-5z"/>
<path fill="#ffc903" d="M492 245.7h4v5h-4z"/>
<path fill="#f0ff3d" d="M496 245.7h4v5h-4zM556 245.7h4v5h-4zM582 254.7h4v4h-4zM530 323.7h5v4h-5zM638 486.7h4v4h-4z"/>
<path fill="#dbff5a" d="M500 245.7h5v5h-5z"/>
<path fill="#e2ff50" d="M526 245.7h4v5h-4zM453 473.7h4v5h-4z"/>
<path fill="#ffe315" d="M535 245.7h4v5h-4zM539 323.7h4v4h-4z"/>
<path fill="#ff1414" d="M539 245.7h13v5h-13zM569 245.7h4v5h-4zM530 250.7h13v4h-13zM535 254.7h4v4h-4zM526 258.7h4v5h-4zM539 258.7h17v5h-17zM573 258.7h9v5h-9zM518 263.7h4v4h-4zM539 263.7h13v4h-13zM573 263.7h13v4h-13zM518 267.7h4v4h-4zM518 271.7h4v5h-4zM518 276.7h4v4h-4zM522 288.7h8v5h-8zM513 297.7h13v4h-13zM500 443.7h9v5h-9zM474 456.7h5v4h-5zM474 460.7h5v5h-5zM474 465.7h5v4h-5zM466 469.7h13v4h-13zM462 473.7h17v5h-17z"/>
<path fill="#ffe013" d="M552 245.7h4v5h-4zM453 258.7h4v5h-4zM569 318.7h4v5h-4z"/>
<path fill="#fff723" d="M560 245.7h5v5h-5zM479 250.7h4v4h-4zM548 250.7h4v4h-4zM586 258.7h5v5h-5zM462 271.7h4v5h-4zM543 271.7h5v5h-5zM509 293.7h4v4h-4z"/>
<path fill="#d6ff61" d="M565 245.7h4v5h-4zM444 469.7h5v4h-5z"/>
<path fill="#ffdb0f" d="M573 245.7h5v5h-5z"/>
<path fill="#30e1ff" d="M578 245.7h4v5h-4zM565 284.7h4v4h-4zM612 473.7h4v5h-4zM483 478.7h4v4h-4z"/>
<path fill="#fff521" d="M453 250.7h4v4h-4zM462 267.7h4v4h-4zM470 276.7h4v4h-4zM526 331.7h4v5h-4z"/>
<path fill="#cdff6e" d="M462 250.7h4v4h-4zM470 460.7h4v5h-4z"/>
<path fill="#f3ff38" d="M466 250.7h4v4h-4zM457 254.7h5v4h-5zM462 486.7h4v4h-4z"/>
<path fill="#ffd90e" d="M483 250.7h4v4h-4zM453 263.7h4v4h-4zM470 271.7h4v5h-4z"/>
<path fill="#ffe214" d="M492 250.7h4v4h-4zM505 254.7h4v4h-4zM543 306.7h5v4h-5zM522 323.7h4v4h-4zM518 344.7h4v5h-4z"/>
<path fill="#f8ff31" d="M496 250.7h4v4h-4zM655 508.7h4v4h-4z"/>
<path fill="#fffc26" d="M500 250.7h5v4h-5zM526 263.7h4v4h-4zM466 267.7h4v4h-4zM646 486.7h5v4h-5z"/>
<path fill="#ffe617" d="M518 250.7h4v4h-4z"/>
<path fill="#ffde11" d="M522 250.7h4v4h-4z"/>
<path fill="#faff2e" d="M543 250.7h5v4h-5zM474 258.7h5v5h-5zM565 306.7h4v4h-4z"/>
<path fill="#cbff70" d="M552 250.7h4v4h-4zM470 452.7h4v4h-4zM492 469.7h4v4h-4z"/>
<path fill="#fcff2d" d="M556 250.7h4v4h-4z"/>
<path fill="#d9ff5d" d="M560 250.7h5v4h-5zM466 478.7h4v4h-4z"/>
<path fill="#d3ff65" d="M565 250.7h4v4h-4zM453 465.7h4v4h-4z"/>
<path fill="#ffdd11" d="M569 250.7h4v4h-4zM522 254.7h4v4h-4zM470 258.7h4v5h-4zM449 263.7h4v4h-4zM569 263.7h4v4h-4zM539 267.7h4v4h-4zM539 271.7h4v5h-4zM530 301.7h5v5h-5zM565 314.7h4v4h-4zM522 318.7h4v5h-4zM535 318.7h4v5h-4z"/>
<path fill="#d1ff68" d="M578 250.7h4v4h-4zM432 456.7h4v4h-4zM483 473.7h4v5h-4z"/>
<path fill="#caff71" d="M582 250.7h4v4h-4z"/>
<path fill="#31d7ff" d="M449 254.7h4v4h-4zM509 276.7h4v4h-4zM530 327.7h5v4h-5zM569 327.7h4v4h-4zM500 336.7h5v4h-5zM569 336.7h4v4h-4zM509 349.7h4v4h-4zM655 465.7h4v4h-4zM621 478.7h4v4h-4zM500 486.7h5v4h-5zM595 495.7h4v4h-4zM629 503.7h5v5h-5zM638 508.7h4v4h-4z"/>
<path fill="#fff421" d="M453 254.7h4v4h-4zM560 314.7h5v4h-5z"/>
<path fill="#feff2a" d="M466 254.7h4v4h-4z"/>
<path fill="#dcff58" d="M470 254.7h4v4h-4zM487 443.7h5v5h-5zM466 456.7h4v4h-4z"/>
<path fill="#ffc702" d="M479 254.7h4v4h-4z"/>
<path fill="#ffba00" d="M483 254.7h4v4h-4zM539 297.7h4v4h-4zM530 306.7h5v4h-5z"/>
<path fill="#ffde12" d="M487 254.7h5v4h-5zM535 297.7h4v4h-4zM543 301.7h5v5h-5z"/>
<path fill="#fff21f" d="M496 254.7h4v4h-4z"/>
<path fill="#ffeb1a" d="M500 254.7h5v4h-5zM522 258.7h4v5h-4zM530 263.7h5v4h-5z"/>
<path fill="#ffc300" d="M518 254.7h4v4h-4zM513 288.7h5v5h-5z"/>
<path fill="#ffee1c" d="M526 254.7h4v4h-4zM552 306.7h4v4h-4zM556 314.7h4v4h-4zM530 318.7h5v5h-5z"/>
<path fill="#fffd27" d="M530 254.7h5v4h-5zM616 482.7h5v4h-5zM634 486.7h4v4h-4z"/>
<path fill="#ffe819" d="M539 254.7h4v4h-4zM573 271.7h5v5h-5z"/>
<path fill="#d4ff64" d="M543 254.7h5v4h-5z"/>
<path fill="#d0ff69" d="M548 254.7h4v4h-4zM578 254.7h4v4h-4z"/>
<path fill="#cfff6a" d="M552 254.7h4v4h-4z"/>
<path fill="#ebff44" d="M556 254.7h4v4h-4zM457 284.7h5v4h-5zM449 486.7h4v4h-4z"/>
<path fill="#d4ff63" d="M560 254.7h5v4h-5zM440 456.7h4v4h-4zM440 465.7h4v4h-4zM457 469.7h5v4h-5z"/>
<path fill="#d8ff5e" d="M565 254.7h4v4h-4zM432 465.7h4v4h-4zM449 473.7h4v5h-4z"/>
<path fill="#ffd008" d="M569 254.7h4v4h-4zM552 267.7h4v4h-4zM530 297.7h5v4h-5zM539 314.7h4v4h-4z"/>
<path fill="#ffdf12" d="M573 254.7h5v4h-5zM578 267.7h4v4h-4z"/>
<path fill="#ffdc11" d="M586 254.7h5v4h-5z"/>
<path fill="#ffcd06" d="M449 258.7h4v5h-4zM556 267.7h4v4h-4z"/>
<path fill="#fff11f" d="M457 258.7h5v5h-5z"/>
<path fill="#f7ff32" d="M462 258.7h4v5h-4z"/>
<path fill="#f5ff36" d="M466 258.7h4v5h-4zM457 276.7h5v4h-5zM449 482.7h4v4h-4zM634 490.7h4v5h-4zM651 490.7h4v5h-4z"/>
<path fill="#ffc803" d="M479 258.7h4v5h-4zM535 293.7h4v4h-4z"/>
<path fill="#ffc904" d="M483 258.7h4v5h-4z"/>
<path fill="#38e6f8" d="M487 258.7h5v5h-5zM505 267.7h4v4h-4zM483 271.7h4v5h-4zM500 288.7h5v5h-5zM548 288.7h4v5h-4zM646 465.7h5v4h-5z"/>
<path fill="#fffb25" d="M505 258.7h4v5h-4z"/>
<path fill="#e1ff52" d="M509 258.7h4v5h-4zM453 478.7h4v4h-4z"/>
<path fill="#33caff" d="M513 258.7h5v5h-5zM509 267.7h4v4h-4zM539 276.7h4v4h-4zM483 280.7h4v4h-4zM522 340.7h4v4h-4zM569 344.7h4v5h-4zM616 525.7h5v4h-5z"/>
<path fill="#ffea1a" d="M518 258.7h4v5h-4zM535 301.7h4v5h-4z"/>
<path fill="#fbff2e" d="M530 258.7h5v5h-5zM492 284.7h4v4h-4zM642 490.7h4v5h-4z"/>
<path fill="#f9ff31" d="M535 258.7h4v5h-4zM565 318.7h4v5h-4z"/>
<path fill="#fffd26" d="M556 258.7h4v5h-4z"/>
<path fill="#deff56" d="M560 258.7h5v5h-5zM436 460.7h4v5h-4zM462 482.7h4v4h-4zM453 490.7h4v5h-4z"/>
<path fill="#d2ff66" d="M565 258.7h4v5h-4zM453 271.7h4v5h-4zM457 465.7h5v4h-5z"/>
<path fill="#ffc000" d="M569 258.7h4v5h-4z"/>
<path fill="#ffdc10" d="M582 258.7h4v5h-4zM573 267.7h5v4h-5zM535 306.7h4v4h-4zM518 318.7h4v5h-4z"/>
<path fill="#fff622" d="M591 258.7h4v5h-4z"/>
<path fill="#ffeb1b" d="M470 263.7h4v4h-4zM560 267.7h5v4h-5zM565 310.7h4v4h-4z"/>
<path fill="#e8ff48" d="M474 263.7h5v4h-5zM560 306.7h5v4h-5zM556 310.7h4v4h-4z"/>
<path fill="#3fe7f2" d="M487 263.7h5v4h-5zM500 271.7h5v5h-5zM548 297.7h4v4h-4z"/>
<path fill="#4eeae5" d="M492 263.7h4v4h-4z"/>
<path fill="#44e8ee" d="M496 263.7h4v4h-4zM560 293.7h5v4h-5zM479 486.7h4v4h-4z"/>
<path fill="#52ebe2" d="M505 263.7h4v4h-4zM505 280.7h4v4h-4zM552 297.7h4v4h-4z"/>
<path fill="#32ccff" d="M509 263.7h4v4h-4zM608 465.7h4v4h-4zM621 512.7h4v4h-4zM616 538.7h5v4h-5z"/>
<path fill="#ffdf13" d="M522 263.7h4v4h-4z"/>
<path fill="#fcff2c" d="M535 263.7h4v4h-4zM638 490.7h4v5h-4z"/>
<path fill="#ffe114" d="M556 263.7h4v4h-4zM539 280.7h4v4h-4z"/>
<path fill="#fffa24" d="M560 263.7h5v4h-5zM470 267.7h4v4h-4z"/>
<path fill="#ffd60c" d="M586 263.7h5v4h-5z"/>
<path fill="#ffd50b" d="M591 263.7h4v4h-4z"/>
<path fill="#f8ff32" d="M453 267.7h4v4h-4zM625 516.7h4v5h-4z"/>
<path fill="#74f2c6" d="M457 267.7h5v4h-5zM509 314.7h4v4h-4z"/>
<path fill="#ffe919" d="M474 267.7h5v4h-5zM569 301.7h4v5h-4z"/>
<path fill="#64efd3" d="M479 267.7h8v4h-8zM552 276.7h4v4h-4z"/>
<path fill="#3ae6f7" d="M487 267.7h5v4h-5z"/>
<path fill="#4deae7" d="M500 267.7h5v4h-5zM642 508.7h4v4h-4z"/>
<path fill="#ff6604" d="M522 267.7h4v4h-4z"/>
<path fill="#ffee1d" d="M526 267.7h4v4h-4zM560 310.7h5v4h-5z"/>
<path fill="#ffe416" d="M530 267.7h9v4h-9zM453 280.7h4v4h-4z"/>
<path fill="#e9ff46" d="M543 267.7h5v4h-5zM470 482.7h4v4h-4z"/>
<path fill="#ffff28" d="M548 267.7h4v4h-4zM462 284.7h4v4h-4zM560 301.7h5v5h-5zM496 448.7h9v4h-9zM444 482.7h5v4h-5zM651 486.7h4v4h-4z"/>
<path fill="#ffd70d" d="M565 267.7h4v4h-4zM457 271.7h5v5h-5zM513 327.7h5v4h-5z"/>
<path fill="#fffb26" d="M582 267.7h4v4h-4zM552 314.7h4v4h-4zM518 336.7h4v4h-4z"/>
<path fill="#ffcb05" d="M466 271.7h4v5h-4z"/>
<path fill="#ffef1d" d="M474 271.7h5v5h-5z"/>
<path fill="#47e9eb" d="M487 271.7h5v5h-5zM543 336.7h5v4h-5z"/>
<path fill="#30e2ff" d="M505 271.7h4v5h-4zM496 284.7h4v4h-4zM509 284.7h4v4h-4zM500 293.7h5v4h-5zM548 293.7h4v4h-4zM565 293.7h4v4h-4zM543 327.7h5v4h-5zM625 465.7h4v4h-4zM612 469.7h4v4h-4zM492 473.7h4v5h-4zM509 482.7h4v4h-4z"/>
<path fill="#ff7a00" d="M522 271.7h4v5h-4zM518 284.7h4v4h-4z"/>
<path fill="#ff9200" d="M526 271.7h4v5h-4z"/>
<path fill="#ff9f00" d="M530 271.7h5v5h-5zM513 306.7h5v4h-5zM526 310.7h4v4h-4z"/>
<path fill="#ffd80e" d="M535 271.7h4v5h-4z"/>
<path fill="#31dfff" d="M548 271.7h4v5h-4zM505 293.7h4v4h-4zM616 469.7h5v4h-5z"/>
<path fill="#84f5b8" d="M552 271.7h4v5h-4zM573 297.7h5v4h-5z"/>
<path fill="#b7ff8c" d="M556 271.7h4v5h-4zM479 448.7h4v4h-4z"/>
<path fill="#8ff7af" d="M560 271.7h5v5h-5zM569 284.7h4v4h-4z"/>
<path fill="#9dfaa3" d="M565 271.7h4v5h-4zM492 456.7h4v4h-4z"/>
<path fill="#60eed7" d="M569 271.7h4v5h-4z"/>
<path fill="#fff823" d="M578 271.7h4v5h-4zM556 318.7h4v5h-4z"/>
<path fill="#ccff6f" d="M462 276.7h4v4h-4zM466 460.7h4v5h-4zM487 460.7h5v5h-5z"/>
<path fill="#37a4ff" d="M479 276.7h4v4h-4zM651 503.7h4v5h-4z"/>
<path fill="#46e9ec" d="M500 276.7h5v4h-5zM651 465.7h4v4h-4z"/>
<path fill="#ff8700" d="M522 276.7h4v4h-4zM457 456.7h5v4h-5z"/>
<path fill="#ff8900" d="M526 276.7h4v4h-4z"/>
<path fill="#ff9500" d="M530 276.7h5v4h-5z"/>
<path fill="#dfff55" d="M535 276.7h4v4h-4zM449 478.7h4v4h-4z"/>
<path fill="#4eeae6" d="M556 276.7h4v4h-4z"/>
<path fill="#73f2c6" d="M560 276.7h5v4h-5z"/>
<path fill="#b6ff8d" d="M565 276.7h4v4h-4z"/>
<path fill="#91f8ad" d="M569 276.7h4v4h-4z"/>
<path fill="#7cf4bf" d="M573 276.7h5v4h-5z"/>
<path fill="#daff5b" d="M462 280.7h4v4h-4zM470 448.7h4v4h-4z"/>
<path fill="#ffa400" d="M513 280.7h5v4h-5zM513 314.7h5v4h-5z"/>
<path fill="#ff7e00" d="M518 280.7h4v4h-4z"/>
<path fill="#ff7700" d="M522 280.7h4v4h-4z"/>
<path fill="#ffaa00" d="M526 280.7h4v4h-4zM513 284.7h5v4h-5z"/>
<path fill="#ffa200" d="M530 280.7h5v4h-5z"/>
<path fill="#ffcb04" d="M535 280.7h4v4h-4z"/>
<path fill="#ff9e00" d="M543 280.7h5v4h-5z"/>
<path fill="#7bf3c0" d="M548 280.7h4v4h-4z"/>
<path fill="#72f1c8" d="M552 280.7h4v4h-4z"/>
<path fill="#7cf3bf" d="M556 280.7h4v4h-4z"/>
<path fill="#abfd98" d="M560 280.7h5v4h-5z"/>
<path fill="#b8ff8b" d="M565 280.7h4v4h-4z"/>
<path fill="#61eed6" d="M569 280.7h4v4h-4z"/>
<path fill="#61eed5" d="M573 280.7h5v4h-5z"/>
<path fill="#ffe516" d="M453 284.7h4v4h-4z"/>
<path fill="#eaff45" d="M466 284.7h4v4h-4zM552 301.7h4v5h-4z"/>
<path fill="#34b8ff" d="M474 284.7h5v4h-5zM625 508.7h4v4h-4z"/>
<path fill="#34b9ff" d="M479 284.7h4v4h-4zM505 327.7h4v4h-4zM518 353.7h4v4h-4z"/>
<path fill="#45e8ee" d="M505 284.7h4v4h-4z"/>
<path fill="#ffa800" d="M522 284.7h4v4h-4zM522 310.7h4v4h-4z"/>
<path fill="#ff7c00" d="M526 284.7h4v4h-4z"/>
<path fill="#ff8200" d="M530 284.7h5v4h-5z"/>
<path fill="#ffb700" d="M535 284.7h4v4h-4z"/>
<path fill="#ffb400" d="M539 284.7h4v4h-4z"/>
<path fill="#ff9c00" d="M543 284.7h5v4h-5zM530 288.7h5v5h-5zM539 288.7h4v5h-4zM518 306.7h4v4h-4zM513 310.7h5v4h-5z"/>
<path fill="#7df4be" d="M548 284.7h4v4h-4zM505 310.7h4v4h-4z"/>
<path fill="#34e5fb" d="M552 284.7h4v4h-4zM565 297.7h4v4h-4z"/>
<path fill="#68f0d0" d="M556 284.7h4v4h-4z"/>
<path fill="#5eedd8" d="M573 284.7h5v4h-5zM522 301.7h4v5h-4z"/>
<path fill="#47e9ec" d="M509 288.7h4v5h-4zM518 323.7h4v4h-4z"/>
<path fill="#ff6c02" d="M518 288.7h4v5h-4z"/>
<path fill="#ff9d00" d="M535 288.7h4v5h-4zM543 314.7h5v4h-5z"/>
<path fill="#ff9300" d="M543 288.7h5v5h-5zM513 293.7h5v4h-5zM526 306.7h4v4h-4z"/>
<path fill="#6af0ce" d="M556 288.7h4v5h-4z"/>
<path fill="#31d5ff" d="M560 288.7h5v5h-5zM518 340.7h4v4h-4zM625 478.7h4v4h-4z"/>
<path fill="#3fe7f3" d="M565 288.7h4v5h-4zM539 306.7h4v4h-4zM496 344.7h4v5h-4z"/>
<path fill="#6ef1cb" d="M569 288.7h4v5h-4zM535 331.7h4v5h-4z"/>
<path fill="#5dedd9" d="M573 288.7h5v5h-5zM565 327.7h4v4h-4zM560 340.7h5v4h-5z"/>
<path fill="#ff410b" d="M518 293.7h4v4h-4z"/>
<path fill="#ff1813" d="M522 293.7h4v4h-4z"/>
<path fill="#ffb000" d="M526 293.7h4v4h-4z"/>
<path fill="#ffdb10" d="M539 293.7h4v4h-4zM539 301.7h4v5h-4z"/>
<path fill="#ffbf00" d="M543 293.7h5v4h-5z"/>
<path fill="#a8fd9a" d="M552 293.7h4v4h-4z"/>
<path fill="#89f6b4" d="M556 293.7h4v4h-4zM565 340.7h4v4h-4z"/>
<path fill="#6ff1ca" d="M569 293.7h4v4h-4zM548 327.7h4v4h-4z"/>
<path fill="#7ef4bd" d="M573 293.7h5v4h-5z"/>
<path fill="#31d8ff" d="M505 297.7h4v4h-4zM646 469.7h5v4h-5zM496 473.7h4v5h-4zM634 473.7h4v5h-4zM638 478.7h4v4h-4zM612 490.7h4v5h-4zM616 512.7h5v4h-5z"/>
<path fill="#ffb200" d="M526 297.7h4v4h-4zM526 314.7h4v4h-4z"/>
<path fill="#ffb800" d="M543 297.7h5v4h-5zM539 318.7h4v5h-4z"/>
<path fill="#7ff4bd" d="M556 297.7h4v4h-4zM556 327.7h4v4h-4z"/>
<path fill="#45e8ed" d="M560 297.7h5v4h-5zM629 473.7h5v5h-5z"/>
<path fill="#9efaa3" d="M569 297.7h4v4h-4zM487 452.7h5v4h-5z"/>
<path fill="#a2fb9f" d="M578 297.7h4v4h-4zM479 478.7h4v4h-4z"/>
<path fill="#ffc100" d="M526 301.7h4v5h-4zM526 318.7h4v5h-4zM543 318.7h5v5h-5z"/>
<path fill="#e0ff54" d="M556 301.7h4v5h-4z"/>
<path fill="#fff11e" d="M565 301.7h4v5h-4z"/>
<path fill="#3ee7f3" d="M505 306.7h4v4h-4z"/>
<path fill="#56ecdf" d="M509 306.7h4v4h-4zM638 465.7h4v4h-4z"/>
<path fill="#ff9a00" d="M522 306.7h4v4h-4z"/>
<path fill="#ffe215" d="M548 306.7h4v4h-4z"/>
<path fill="#eeff3f" d="M556 306.7h4v4h-4zM552 310.7h4v4h-4zM457 482.7h5v4h-5zM646 490.7h5v5h-5z"/>
<path fill="#34beff" d="M578 306.7h4v4h-4zM513 340.7h5v4h-5zM616 508.7h5v4h-5z"/>
<path fill="#ff9b00" d="M518 310.7h4v4h-4z"/>
<path fill="#ffbd00" d="M530 310.7h5v4h-5zM548 310.7h4v4h-4z"/>
<path fill="#ffec1b" d="M535 310.7h4v4h-4zM522 327.7h4v4h-4z"/>
<path fill="#33c4ff" d="M539 310.7h4v4h-4zM509 327.7h4v4h-4zM556 336.7h4v4h-4zM655 469.7h4v4h-4zM612 486.7h4v4h-4zM483 490.7h4v5h-4zM483 495.7h4v4h-4zM629 516.7h9v5h-9zM629 534.7h5v4h-5zM625 538.7h4v4h-4z"/>
<path fill="#ffbc00" d="M543 310.7h5v4h-5z"/>
<path fill="#e5ff4c" d="M569 310.7h4v4h-4zM466 482.7h4v4h-4z"/>
<path fill="#5eedd9" d="M505 314.7h4v4h-4z"/>
<path fill="#ffaf00" d="M518 314.7h4v4h-4z"/>
<path fill="#ffa700" d="M522 314.7h4v4h-4z"/>
<path fill="#ffd40b" d="M530 314.7h5v4h-5zM539 336.7h4v4h-4z"/>
<path fill="#e7ff49" d="M535 314.7h4v4h-4zM487 473.7h5v5h-5z"/>
<path fill="#ff9400" d="M548 314.7h4v4h-4z"/>
<path fill="#f2ff3a" d="M569 314.7h4v4h-4zM646 495.7h5v4h-5z"/>
<path fill="#33c5ff" d="M578 314.7h4v4h-4zM522 349.7h4v4h-4zM608 503.7h4v5h-4z"/>
<path fill="#ffc501" d="M548 318.7h4v5h-4zM513 331.7h9v5h-9z"/>
<path fill="#ebff43" d="M560 318.7h5v5h-5z"/>
<path fill="#5feed7" d="M573 318.7h5v5h-5zM496 340.7h4v4h-4zM513 344.7h5v5h-5zM556 344.7h4v5h-4z"/>
<path fill="#55ece0" d="M505 323.7h4v4h-4zM565 344.7h4v5h-4zM642 512.7h4v4h-4z"/>
<path fill="#ffbb00" d="M526 323.7h4v4h-4z"/>
<path fill="#48e9eb" d="M518 327.7h4v4h-4zM621 469.7h4v4h-4z"/>
<path fill="#ffbe00" d="M526 327.7h4v4h-4z"/>
<path fill="#32e4fe" d="M535 327.7h4v4h-4z"/>
<path fill="#ffcf07" d="M539 327.7h4v4h-4z"/>
<path fill="#63eed4" d="M522 331.7h4v5h-4zM556 349.7h4v4h-4z"/>
<path fill="#4be9e9" d="M548 331.7h4v5h-4z"/>
<path fill="#79f3c1" d="M556 331.7h4v5h-4z"/>
<path fill="#3de7f4" d="M560 331.7h5v5h-5z"/>
<path fill="#c3ff7b" d="M522 336.7h4v4h-4zM505 448.7h4v4h-4zM487 456.7h5v4h-5zM449 460.7h4v5h-4zM440 478.7h4v4h-4z"/>
<path fill="#e6ff4a" d="M526 336.7h4v4h-4z"/>
<path fill="#b3ff91" d="M530 336.7h5v4h-5z"/>
<path fill="#51ebe3" d="M548 336.7h4v4h-4zM599 486.7h5v4h-5z"/>
<path fill="#88f6b5" d="M560 336.7h5v4h-5z"/>
<path fill="#69f0cf" d="M565 336.7h4v4h-4z"/>
<path fill="#34c2ff" d="M530 340.7h5v4h-5zM608 473.7h4v5h-4zM496 482.7h4v4h-4zM634 512.7h4v4h-4z"/>
<path fill="#40e7f1" d="M548 340.7h4v4h-4z"/>
<path fill="#35b4ff" d="M552 340.7h4v4h-4zM513 465.7h9v4h-9z"/>
<path fill="#71f1c8" d="M500 344.7h5v5h-5z"/>
<path fill="#80f4bc" d="M505 344.7h4v5h-4z"/>
<path fill="#70f1c9" d="M509 344.7h4v5h-4z"/>
<path fill="#54ebe1" d="M526 344.7h4v5h-4zM621 465.7h4v4h-4z"/>
<path fill="#73f2c7" d="M548 344.7h4v5h-4z"/>
<path fill="#7af3c1" d="M500 349.7h5v4h-5zM565 349.7h4v4h-4z"/>
<path fill="#3ce6f5" d="M505 349.7h4v4h-4z"/>
<path fill="#41e7f1" d="M560 349.7h5v4h-5z"/>
<path fill="#2d61ff" d="M646 379.7h5v4h-5zM646 383.7h5v4h-5zM552 396.7h8v4h-8zM629 396.7h5v4h-5zM634 413.7h4v4h-4zM651 413.7h4v4h-4zM530 422.7h5v4h-5zM565 426.7h4v4h-4zM578 426.7h4v4h-4zM560 443.7h5v5h-5zM518 448.7h4v4h-4zM565 448.7h4v4h-4zM560 452.7h5v4h-5zM625 452.7h4v4h-4zM530 465.7h5v4h-5zM565 465.7h4v4h-4zM530 469.7h5v4h-5zM522 473.7h4v5h-4zM690 473.7h4v5h-4zM552 482.7h4v4h-4zM552 486.7h4v4h-4zM509 490.7h4v5h-4zM552 495.7h4v4h-4zM483 503.7h4v5h-4zM505 503.7h4v5h-4z"/>
<path fill="#2d60ff" d="M552 383.7h4v4h-4zM552 387.7h4v5h-4zM556 392.7h4v4h-4zM634 396.7h4v4h-4zM672 413.7h5v4h-5zM625 430.7h4v5h-4zM526 443.7h4v5h-4zM569 448.7h4v4h-4zM685 473.7h5v5h-5zM582 478.7h4v4h-4zM655 478.7h4v4h-4zM672 478.7h5v4h-5zM556 499.7h4v4h-4zM556 503.7h4v5h-4zM569 516.7h4v5h-4z"/>
<path fill="#2c5eff" d="M556 383.7h4v4h-4zM629 400.7h5v4h-5zM535 413.7h4v4h-4zM539 417.7h4v5h-4zM659 430.7h5v5h-5zM492 508.7h4v4h-4z"/>
<path fill="#2e63ff" d="M560 383.7h5v4h-5zM556 387.7h4v5h-4zM646 396.7h5v4h-5zM565 400.7h4v4h-4zM659 400.7h5v4h-5zM578 404.7h4v5h-4zM646 409.7h5v4h-5zM655 409.7h4v4h-4zM646 417.7h5v5h-5zM560 422.7h5v4h-5zM638 422.7h4v4h-4zM646 422.7h5v4h-5zM642 426.7h4v4h-4zM668 426.7h4v4h-4zM621 430.7h4v5h-4zM612 435.7h4v4h-4zM659 435.7h5v4h-5zM526 439.7h4v4h-4zM565 439.7h4v4h-4zM578 439.7h4v4h-4zM621 439.7h4v4h-4zM685 439.7h5v4h-5zM582 443.7h4v5h-4zM621 443.7h4v5h-4zM638 443.7h4v5h-4zM685 448.7h5v4h-5zM522 452.7h4v4h-4zM621 452.7h4v4h-4zM500 465.7h9v4h-9zM552 473.7h4v5h-4zM646 478.7h5v4h-5zM625 499.7h4v4h-4zM552 503.7h4v5h-4zM604 508.7h4v4h-4zM573 516.7h5v5h-5z"/>
<path fill="#2e64ff" d="M651 383.7h4v4h-4zM556 400.7h9v4h-9zM560 409.7h5v4h-5zM556 413.7h4v4h-4zM578 413.7h4v4h-4zM659 413.7h5v4h-5zM668 413.7h4v4h-4zM664 417.7h4v5h-4zM548 435.7h4v4h-4zM690 435.7h4v4h-4zM595 443.7h4v5h-4zM522 448.7h4v4h-4zM560 448.7h5v4h-5zM573 452.7h5v4h-5zM518 456.7h4v4h-4zM535 456.7h4v4h-4zM560 456.7h9v4h-9zM560 460.7h5v5h-5zM690 469.7h4v4h-4zM659 473.7h5v5h-5zM543 482.7h5v4h-5zM556 486.7h4v4h-4zM655 490.7h4v5h-4zM535 499.7h8v4h-8zM560 499.7h5v4h-5zM539 503.7h4v5h-4zM604 512.7h4v4h-4zM556 521.7h4v4h-4z"/>
<path fill="#2e62ff" d="M659 396.7h5v4h-5zM543 478.7h5v4h-5zM496 508.7h4v4h-4z"/>
<path fill="#2e65ff" d="M569 400.7h4v4h-4zM655 400.7h4v4h-4zM578 409.7h4v4h-4zM638 413.7h4v4h-4zM634 417.7h4v5h-4zM651 417.7h8v5h-8zM677 417.7h4v5h-4zM664 422.7h4v4h-4zM664 426.7h4v4h-4zM565 430.7h4v5h-4zM677 435.7h4v4h-4zM582 439.7h4v4h-4zM530 443.7h5v5h-5zM655 448.7h4v4h-4zM505 452.7h4v4h-4zM552 452.7h4v4h-4zM681 452.7h4v4h-4zM522 460.7h4v5h-4zM552 460.7h4v5h-4zM518 469.7h4v4h-4zM565 469.7h4v4h-4zM573 469.7h5v4h-5zM586 469.7h5v4h-5zM518 473.7h4v5h-4zM539 473.7h4v5h-4zM668 473.7h4v5h-4zM548 482.7h4v4h-4zM565 482.7h4v4h-4zM664 482.7h4v4h-4zM513 486.7h5v4h-5zM543 490.7h9v5h-9zM569 490.7h4v5h-4zM565 499.7h4v4h-4zM573 521.7h5v4h-5zM612 521.7h4v4h-4zM578 525.7h4v4h-4zM612 525.7h4v4h-4zM612 538.7h4v4h-4z"/>
<path fill="#2c5dff" d="M634 400.7h4v4h-4zM672 430.7h9v5h-9zM560 469.7h5v4h-5zM505 495.7h4v4h-4z"/>
<path fill="#2d62ff" d="M672 400.7h5v4h-5zM642 413.7h9v4h-9zM672 417.7h5v5h-5zM655 422.7h4v4h-4zM625 426.7h4v4h-4zM685 443.7h5v5h-5zM539 456.7h4v4h-4zM659 465.7h5v4h-5zM548 473.7h4v5h-4zM556 473.7h4v5h-4zM560 478.7h5v4h-5zM604 478.7h4v4h-4zM591 490.7h4v5h-4zM552 499.7h4v4h-4zM591 503.7h4v5h-4zM552 508.7h4v4h-4zM556 512.7h4v4h-4z"/>
<path fill="#2d5fff" d="M535 417.7h4v5h-4zM582 426.7h4v4h-4zM638 426.7h4v4h-4zM655 430.7h4v5h-4zM608 439.7h4v4h-4zM522 469.7h4v4h-4zM659 478.7h5v4h-5zM638 482.7h4v4h-4zM664 486.7h4v4h-4zM565 503.7h4v5h-4zM582 525.7h4v4h-4z"/>
<path fill="#ddff56" d="M492 443.7h4v5h-4z"/>
<path fill="#c8ff74" d="M457 448.7h5v4h-5zM444 452.7h5v4h-5zM444 456.7h5v4h-5zM496 456.7h4v4h-4zM496 460.7h4v5h-4z"/>
<path fill="#baff87" d="M462 448.7h4v4h-4zM462 452.7h4v4h-4z"/>
<path fill="#b5ff8f" d="M466 448.7h4v4h-4z"/>
<path fill="#b8ff8a" d="M474 448.7h5v4h-5zM479 456.7h4v4h-4z"/>
<path fill="#b5ff8e" d="M483 448.7h4v4h-4zM444 478.7h5v4h-5z"/>
<path fill="#9afaa6" d="M487 448.7h5v4h-5z"/>
<path fill="#c4ff79" d="M492 448.7h4v4h-4zM483 456.7h4v4h-4z"/>
<path fill="#2c5cff" d="M573 448.7h5v4h-5z"/>
<path fill="#bdff84" d="M432 452.7h4v4h-4zM496 452.7h4v4h-4zM462 456.7h4v4h-4zM487 465.7h5v4h-5zM487 469.7h5v4h-5z"/>
<path fill="#d1ff67" d="M436 452.7h4v4h-4z"/>
<path fill="#c4ff7a" d="M449 452.7h4v4h-4z"/>
<path fill="#bdff83" d="M453 452.7h4v4h-4z"/>
<path fill="#beff82" d="M457 452.7h5v4h-5z"/>
<path fill="#baff88" d="M466 452.7h4v4h-4z"/>
<path fill="#b9ff89" d="M474 452.7h5v4h-5zM479 460.7h4v5h-4z"/>
<path fill="#a9fd9a" d="M479 452.7h4v4h-4z"/>
<path fill="#b2ff92" d="M483 452.7h4v4h-4z"/>
<path fill="#c6ff77" d="M492 452.7h4v4h-4zM483 469.7h4v4h-4z"/>
<path fill="#bcff85" d="M500 452.7h5v4h-5z"/>
<path fill="#368cff" d="M595 452.7h4v4h-4z"/>
<path fill="#36aaff" d="M604 452.7h4v4h-4zM586 456.7h5v4h-5z"/>
<path fill="#ddff58" d="M436 456.7h4v4h-4z"/>
<path fill="#d9ff5c" d="M449 456.7h4v4h-4zM444 465.7h5v4h-5z"/>
<path fill="#c0ff7f" d="M453 456.7h4v4h-4z"/>
<path fill="#c1ff7e" d="M470 456.7h4v4h-4z"/>
<path fill="#3898ff" d="M608 456.7h4v4h-4zM616 456.7h5v4h-5z"/>
<path fill="#379fff" d="M612 456.7h4v4h-4zM621 460.7h4v5h-4zM599 499.7h5v4h-5z"/>
<path fill="#c5ff78" d="M432 460.7h4v5h-4zM457 473.7h5v5h-5z"/>
<path fill="#dbff5b" d="M440 460.7h4v5h-4z"/>
<path fill="#c0ff80" d="M444 460.7h5v5h-5z"/>
<path fill="#bfff81" d="M453 460.7h4v5h-4z"/>
<path fill="#9efba2" d="M457 460.7h5v5h-5z"/>
<path fill="#c2ff7c" d="M462 460.7h4v5h-4zM462 469.7h4v4h-4z"/>
<path fill="#acfd97" d="M483 460.7h4v5h-4zM474 478.7h5v4h-5z"/>
<path fill="#9bfaa5" d="M492 460.7h4v5h-4z"/>
<path fill="#d5ff62" d="M436 465.7h4v4h-4z"/>
<path fill="#c9ff73" d="M449 465.7h4v4h-4zM462 465.7h4v4h-4zM457 478.7h5v4h-5z"/>
<path fill="#ff7800" d="M466 465.7h8v4h-8z"/>
<path fill="#bcff84" d="M479 465.7h4v4h-4z"/>
<path fill="#cdff6d" d="M483 465.7h4v4h-4zM436 469.7h4v4h-4z"/>
<path fill="#abfd97" d="M492 465.7h4v4h-4z"/>
<path fill="#3792ff" d="M586 465.7h5v4h-5z"/>
<path fill="#34e5fc" d="M634 465.7h4v4h-4z"/>
<path fill="#e0ff53" d="M440 469.7h4v4h-4zM457 490.7h5v5h-5z"/>
<path fill="#e6ff4b" d="M449 469.7h4v4h-4z"/>
<path fill="#ddff57" d="M453 469.7h4v4h-4z"/>
<path fill="#b7ff8b" d="M479 469.7h4v4h-4z"/>
<path fill="#35b8ff" d="M513 469.7h5v4h-5zM646 503.7h5v5h-5z"/>
<path fill="#3482ff" d="M591 469.7h4v4h-4z"/>
<path fill="#3689ff" d="M599 469.7h5v4h-5z"/>
<path fill="#40e7f2" d="M629 469.7h5v4h-5z"/>
<path fill="#39e6f8" d="M638 469.7h4v4h-4z"/>
<path fill="#49e9ea" d="M651 469.7h4v4h-4zM634 503.7h4v5h-4z"/>
<path fill="#c7ff76" d="M436 473.7h4v5h-4z"/>
<path fill="#b4ff8f" d="M440 473.7h4v5h-4z"/>
<path fill="#9ffba1" d="M444 473.7h5v5h-5z"/>
<path fill="#c2ff7d" d="M479 473.7h4v5h-4z"/>
<path fill="#d0ff6a" d="M462 478.7h4v4h-4zM457 486.7h5v4h-5z"/>
<path fill="#33c2ff" d="M505 478.7h4v4h-4zM595 499.7h4v4h-4z"/>
<path fill="#53ebe2" d="M487 482.7h5v4h-5z"/>
<path fill="#fdff2a" d="M629 486.7h5v4h-5z"/>
<path fill="#d2ff67" d="M462 490.7h4v5h-4z"/>
<path fill="#f4ff38" d="M629 490.7h5v5h-5z"/>
<path fill="#f3ff39" d="M634 495.7h4v4h-4z"/>
<path fill="#f6ff34" d="M638 495.7h4v4h-4z"/>
<path fill="#f6ff35" d="M621 499.7h4v4h-4z"/>
<path fill="#2d5eff" d="M535 503.7h4v5h-4z"/>
<path fill="#f7ff33" d="M634 508.7h4v4h-4z"/>
<path fill="#3ae6f6" d="M621 521.7h4v4h-4z"/>
<path fill="#feff29" d="M625 521.7h4v4h-4z"/>
<path fill="#f1ff3b" d="M629 521.7h9v4h-9z"/>
<path fill="#f0ff3c" d="M629 525.7h5v4h-5z"/>
<path fill="#ecff42" d="M634 525.7h4v4h-4z"/>
<path fill="#2540ff" fill-opacity="0.55" d="M732 306.7h13v4h-13zM354 177.7h4v4h-4zM565 370.7h8v4h-8zM333 220.7h13v8h-13zM659 194.7h5v13h-5zM350 168.7h8v4h-8zM535 516.7h8v9h-8zM462 159.7h4v13h-4zM285 138.7h5v4h-5zM290 546.7h8v9h-8zM552 91.7h4v8h-4zM694 318.7h17v5h-17zM724 271.7h8v9h-8zM548 650.7h17v8h-17zM677 340.7h4v9h-4zM388 155.7h5v9h-5zM625 224.7h13v4h-13zM621 559.7h17v13h-17zM285 104.7h9v4h-9zM328 521.7h9v8h-9zM793 589.7h8v5h-8zM277 542.7h4v9h-4zM646 215.7h5v13h-5zM453 177.7h13v13h-13zM320 121.7h8v13h-8zM720 194.7h4v4h-4zM737 607.7h17v8h-17zM560 576.7h9v9h-9zM599 293.7h5v13h-5zM341 503.7h9v9h-9zM358 108.7h9v8h-9zM337 177.7h13v4h-13zM711 650.7h4v8h-4zM457 435.7h17v13h-17zM419 508.7h8v13h-8zM277 516.7h8v13h-8zM767 306.7h9v12h-9zM522 413.7h4v9h-4zM483 306.7h9v8h-9zM410 486.7h17v4h-17z"/>
<path fill="#274aff" fill-opacity="0.55" d="M642 207.7h4v8h-4zM638 362.7h4v8h-4zM595 598.7h9v9h-9zM444 177.7h18v8h-18zM565 559.7h8v9h-8zM591 228.7h17v4h-17zM745 245.7h18v5h-18zM664 654.7h17v8h-17zM371 207.7h17v13h-17zM573 654.7h13v13h-13zM552 572.7h8v9h-8zM818 581.7h9v8h-9zM436 250.7h4v13h-4zM384 164.7h9v8h-9zM281 86.7h9v13h-9zM556 564.7h4v8h-4zM401 521.7h5v8h-5zM616 422.7h9v4h-9zM419 280.7h4v13h-4zM328 168.7h9v9h-9zM629 366.7h9v4h-9zM367 534.7h9v4h-9zM543 362.7h5v8h-5zM694 159.7h8v9h-8zM397 129.7h13v9h-13zM849 576.7h4v13h-4zM333 224.7h13v13h-13zM432 581.7h4v8h-4zM496 108.7h13v13h-13zM380 478.7h13v4h-13zM578 585.7h8v9h-8zM793 228.7h13v13h-13zM457 194.7h5v4h-5zM672 318.7h9v9h-9zM307 512.7h13v4h-13zM462 525.7h12v9h-12zM595 220.7h9v12h-9zM397 555.7h9v13h-9zM866 602.7h8v9h-8zM879 581.7h4v8h-4zM423 581.7h13v8h-13zM264 112.7h8v9h-8zM698 245.7h9v13h-9z"/>
<path fill="#2645ff" fill-opacity="0.55" d="M453 215.7h9v9h-9zM397 194.7h9v4h-9zM690 134.7h8v8h-8zM376 95.7h4v13h-4zM672 220.7h18v12h-18zM432 181.7h17v4h-17zM638 207.7h17v8h-17zM763 310.7h13v4h-13zM737 73.7h8v13h-8zM509 125.7h4v4h-4zM840 589.7h9v9h-9zM642 228.7h9v4h-9zM483 125.7h13v9h-13zM530 116.7h5v5h-5zM629 228.7h17v9h-17zM328 104.7h9v8h-9zM363 546.7h8v5h-8zM449 198.7h8v4h-8zM337 151.7h13v8h-13zM767 297.7h4v13h-4zM260 99.7h4v5h-4zM677 641.7h8v9h-8zM702 641.7h18v9h-18zM393 564.7h4v8h-4zM672 344.7h13v13h-13zM681 146.7h4v13h-4zM784 301.7h9v5h-9zM793 258.7h4v9h-4zM586 314.7h13v9h-13zM702 658.7h9v9h-9zM260 258.7h8v9h-8zM840 581.7h13v8h-13zM371 146.7h5v13h-5zM367 198.7h9v9h-9zM552 602.7h4v9h-4zM582 340.7h9v13h-9zM457 129.7h13v9h-13zM672 207.7h18v4h-18zM466 185.7h17v13h-17zM578 392.7h13v4h-13zM698 250.7h4v4h-4zM337 250.7h13v8h-13zM724 224.7h17v8h-17zM509 409.7h13v8h-13zM388 551.7h5v13h-5z"/>
<path fill="#233bff" fill-opacity="0.55" d="M556 564.7h9v4h-9zM904 581.7h9v8h-9zM539 78.7h9v13h-9zM668 211.7h4v9h-4zM608 357.7h13v9h-13zM324 245.7h9v9h-9zM479 211.7h4v9h-4zM401 82.7h5v9h-5zM681 662.7h13v9h-13zM634 650.7h8v8h-8zM569 349.7h4v4h-4zM298 99.7h13v9h-13zM659 632.7h13v13h-13zM457 495.7h9v8h-9zM272 207.7h13v13h-13zM367 551.7h9v8h-9zM638 181.7h8v13h-8zM277 267.7h17v13h-17zM715 82.7h17v13h-17zM608 602.7h8v13h-8zM341 155.7h9v4h-9zM436 142.7h17v9h-17zM406 276.7h13v4h-13zM466 559.7h8v5h-8zM380 499.7h8v13h-8zM505 538.7h17v8h-17zM698 331.7h9v9h-9zM526 568.7h4v8h-4zM457 516.7h9v9h-9zM505 116.7h4v5h-4zM698 116.7h9v5h-9zM599 555.7h13v4h-13zM294 112.7h17v9h-17zM853 611.7h4v4h-4zM638 323.7h8v8h-8zM371 159.7h13v5h-13zM621 254.7h13v4h-13zM621 645.7h8v9h-8zM810 581.7h17v8h-17zM406 443.7h17v9h-17z"/></g>
<path d="M251.0 100.0L270.0 104.0L300.0 107.5L320.0 109.0L335.0 92.5L342.5 79.0L352.5 75.0L380.0 79.0L397.0 83.0M426.0 150.0L412.5 157.5L387.5 165.0L360.0 177.5L340.0 190.0L320.0 205.0L315.0 210.0L310.0 215.0L303.0 220.0L300.0 228.0L295.0 232.5L275.0 240.0L270.0 247.5L267.5 254.0L252.5 262.5L240.0 274.0L230.0 279.0M562.0 67.5L559.5 76.0L549.5 79.0L537.0 92.5L527.0 107.5L509.5 140.0L499.5 155.0L494.5 170.0L498.0 190.0L505.0 205.0M730.0 57.5L722.5 75.0L725.0 97.5L732.5 112.5L742.5 116.0L755.0 107.5L760.0 101.0M739.0 122.5L727.5 135.0L717.5 145.0L705.0 150.0L697.5 160.0L700.0 170.0L690.0 175.0L680.0 176.0L677.0 180.0L664.5 187.5L652.0 192.5L642.0 195.0L637.0 202.5L607.0 205.0L602.0 215.0L592.0 227.5L580.0 235.0L565.0 240.0M658.5 198.0L664.5 207.5L669.5 222.5L672.0 225.0L697.0 226.0L692.0 237.5L699.5 250.0L709.5 256.0L721.0 250.0L723.0 241.0L747.0 237.5L757.0 245.0L772.0 246.0L782.0 249.0L797.0 240.0L809.5 235.0L822.0 242.5L828.0 249.0M779.5 222.5L778.0 232.5L783.0 246.0M588.0 145.0L588.0 162.5L589.5 180.0L582.0 192.5L574.5 200.0L579.5 215.0L582.0 230.0M575.0 200.0L580.0 215.0L587.5 230.0L605.0 215.0L610.0 205.0L637.5 200.0M580.0 282.5L605.0 282.5L606.0 286.0L592.5 287.5L582.5 297.5L587.5 312.5L600.0 330.0L620.0 336.0L640.0 342.5L645.0 352.5L660.0 357.5L672.0 355.0L677.0 347.5L684.5 345.0L697.0 355.0L707.0 360.0M505.0 310.0L485.0 310.0L475.0 325.0L465.0 337.5L452.5 347.5L440.0 355.0M469.0 373.0L480.0 365.0L490.0 357.5M400.0 485.0L390.0 500.0L370.0 507.5L365.0 520.0L363.5 528.5L355.0 535.0L332.5 525.0L315.0 526.0L297.5 535.0L290.0 545.0M400.0 487.5L425.0 490.0L440.0 497.5L450.0 502.5L465.0 502.5M495.0 525.0L485.0 540.0L470.0 537.5L465.0 550.0L455.0 562.5L447.5 565.0L437.5 572.5L430.0 585.0L428.5 595.0M617.5 576.0L630.0 576.0L645.0 586.0L665.0 582.5L677.5 584.0L682.5 600.0L687.5 605.0L680.0 615.0L692.5 610.0L710.0 607.5L740.0 610.0L750.0 602.5L765.0 602.5L777.5 610.0L790.0 610.0L792.5 597.5L796.0 602.5L800.0 592.5L807.5 595.0L827.5 597.5L840.0 602.5L845.0 605.0L850.0 597.5L862.5 596.0L870.0 587.5L880.0 584.0L890.0 587.5L897.5 591.0L902.5 585.0L910.0 584.0L915.0 587.5M660.0 692.5L670.0 682.5L687.5 681.0L692.5 685.0M566.0 657.5L566.0 665.0L564.0 675.0M566.0 656.0L588.0 653.0L603.0 632.0M670.0 402.5L660.0 417.5L645.0 442.5L627.5 465.0L620.0 480.0" fill="none" stroke="#5cc4ff" stroke-width="1.15" stroke-linejoin="round" stroke-opacity="0.7"/>
<path d="M387.7 74.9L400.4 88.0L410.7 102.5L416.9 116.9L421.9 131.0L426.7 145.5L434.2 153.8L442.2 160.8L453.7 173.4L481.6 186.4L502.1 203.7L515.2 217.0L520.1 236.8L519.6 268.6L518.1 285.5L514.5 300.8L508.8 319.3L499.2 335.5L494.0 346.8L493.0 359.3L500.5 374.1L509.4 380.5L521.9 390.1L534.8 400.4L545.3 416.2L544.7 427.2L529.2 435.1L522.8 441.4L519.9 455.1L512.9 465.5L501.1 474.0L478.9 485.1L465.5 493.9L465.9 500.3L472.6 509.9L488.3 514.2L512.9 506.5L534.4 498.7L553.3 483.0L567.6 477.7L595.0 478.4L616.6 478.0L623.8 485.6L627.0 498.2L617.2 515.2L606.8 519.4L607.0 534.2L615.8 548.7L620.6 565.1L615.3 581.3L608.0 593.4L604.1 617.7L605.4 628.9L612.7 640.9L622.4 658.0L635.0 668.2L637.1 679.5M383.3 79.1L395.6 92.0L405.3 105.5L411.1 119.1L416.1 133.0L421.3 148.5L429.8 158.2L437.8 165.2L450.3 178.6L478.4 191.6L497.9 208.3L509.8 220.0L513.9 237.2L513.4 268.4L511.9 284.5L508.5 299.2L503.2 316.7L493.8 332.5L488.0 345.2L487.0 360.7L495.5 377.9L505.6 385.5L518.1 394.9L530.2 404.6L539.7 418.8L540.3 422.8L525.8 429.9L517.2 438.6L514.1 452.9L508.5 461.1L498.1 468.6L475.9 479.7L460.5 490.1L460.1 502.5L469.4 515.1L488.7 520.4L514.9 512.3L537.6 504.1L556.7 488.2L568.2 483.9L595.0 484.6L615.4 484.0L618.2 488.4L621.0 496.8L612.8 510.8L601.2 516.6L601.0 535.8L610.2 551.3L614.4 564.9L609.7 578.7L602.0 591.6L597.9 617.3L599.6 631.1L607.3 644.1L617.6 662.0L630.0 671.8L630.9 680.5M259.8 83.7L265.8 79.8L273.7 77.8L276.7 83.7L279.7 87.7L278.7 92.7L282.7 94.6L285.6 92.7L284.6 98.6L289.6 94.6L299.5 94.6L303.5 90.7L301.5 85.7L297.5 83.7L295.6 77.8L293.6 72.8M261.8 91.7L265.8 85.7L269.8 82.7M431.0 153.0L438.0 156.0L446.0 162.0L452.0 170.0L445.0 168.0L437.0 161.0L431.0 153.0M524.0 391.0L531.0 398.0L538.0 407.0L541.0 415.0L536.0 410.0L529.0 401.0L524.0 391.0" fill="none" stroke="#eeeaff" stroke-width="1.25" stroke-linejoin="round" stroke-opacity="0.8"/>
<g filter="url(#soft)">
<circle cx="270" cy="101.5" r="7" fill="#62fa00" stroke="#000" stroke-width="1.5"/>
<circle cx="300" cy="111" r="7" fill="#62fa00" stroke="#000" stroke-width="1.5"/>
<circle cx="341.5" cy="88.5" r="12.1" fill="#ff0000" stroke="#000" stroke-width="1.5"/>
<circle cx="339" cy="123.5" r="12.1" fill="#ff0000" stroke="#000" stroke-width="1.5"/>
<circle cx="378.5" cy="166.5" r="12.1" fill="#ff0000" stroke="#000" stroke-width="1.5"/>
<circle cx="337.5" cy="192.5" r="12.1" fill="#ff0000" stroke="#000" stroke-width="1.5"/>
<circle cx="251.5" cy="268.5" r="12.1" fill="#ff0000" stroke="#000" stroke-width="1.5"/>
<circle cx="436" cy="304" r="12.1" fill="#ff0000" stroke="#000" stroke-width="1.5"/>
<circle cx="454" cy="367.5" r="12.1" fill="#ff0000" stroke="#000" stroke-width="1.5"/>
<circle cx="469" cy="373.5" r="12.1" fill="#ff0000" stroke="#000" stroke-width="1.5"/>
<circle cx="716.5" cy="50" r="12.1" fill="#ff0000" stroke="#000" stroke-width="1.5"/>
<circle cx="745.5" cy="60.5" r="5" fill="#62fa00" stroke="#000" stroke-width="1.5"/>
<circle cx="724.5" cy="86" r="5" fill="#62fa00" stroke="#000" stroke-width="1.5"/>
<circle cx="738.5" cy="122.5" r="2.7" fill="#4ccc00" stroke="#000" stroke-width="1.5"/>
<circle cx="546.5" cy="78.5" r="7" fill="#62fa00" stroke="#000" stroke-width="1.5"/>
<circle cx="522.5" cy="121.5" r="5" fill="#62fa00" stroke="#000" stroke-width="1.5"/>
<circle cx="506.5" cy="143.5" r="2.7" fill="#4ccc00" stroke="#000" stroke-width="1.5"/>
<circle cx="613" cy="150" r="12.1" fill="#ff0000" stroke="#000" stroke-width="1.5"/>
<circle cx="609.5" cy="160" r="12.1" fill="#ff0000" stroke="#000" stroke-width="1.5"/>
<circle cx="596.5" cy="173" r="12.1" fill="#ff0000" stroke="#000" stroke-width="1.5"/>
<circle cx="658.5" cy="198.5" r="7" fill="#62fa00" stroke="#000" stroke-width="1.5"/>
<circle cx="687.5" cy="179.5" r="12.1" fill="#ff0000" stroke="#000" stroke-width="1.5"/>
<circle cx="671" cy="223.5" r="12.1" fill="#ff0000" stroke="#000" stroke-width="1.5"/>
<circle cx="698.5" cy="228" r="12.1" fill="#ff0000" stroke="#000" stroke-width="1.5"/>
<circle cx="717" cy="259.5" r="12.1" fill="#ff0000" stroke="#000" stroke-width="1.5"/>
<circle cx="777" cy="251" r="12.1" fill="#ff0000" stroke="#000" stroke-width="1.5"/>
<circle cx="817" cy="242" r="12.1" fill="#ff0000" stroke="#000" stroke-width="1.5"/>
<circle cx="814.5" cy="281" r="12.1" fill="#ff0000" stroke="#000" stroke-width="1.5"/>
<circle cx="442.5" cy="471" r="2.7" fill="#4ccc00" stroke="#000" stroke-width="1.5"/>
<circle cx="400" cy="481.5" r="9.6" fill="#ffff00" stroke="#000" stroke-width="1.5"/>
<circle cx="451.5" cy="509" r="5" fill="#62fa00" stroke="#000" stroke-width="1.5"/>
<circle cx="476.5" cy="523.5" r="2.7" fill="#4ccc00" stroke="#000" stroke-width="1.5"/>
<circle cx="363.5" cy="528.5" r="2.7" fill="#4ccc00" stroke="#000" stroke-width="1.5"/>
<circle cx="293.5" cy="548" r="9.6" fill="#ffff00" stroke="#000" stroke-width="1.5"/>
<circle cx="293.5" cy="548" r="2.7" fill="#4ccc00" stroke="#000" stroke-width="1.5"/>
<circle cx="438" cy="572" r="2.7" fill="#4ccc00" stroke="#000" stroke-width="1.5"/>
<circle cx="634" cy="404" r="7" fill="#62fa00" stroke="#000" stroke-width="1.5"/>
<circle cx="638" cy="421" r="5" fill="#62fa00" stroke="#000" stroke-width="1.5"/>
<circle cx="659" cy="428" r="2.7" fill="#4ccc00" stroke="#000" stroke-width="1.5"/>
<circle cx="685" cy="416.5" r="2.7" fill="#4ccc00" stroke="#000" stroke-width="1.5"/>
<circle cx="638" cy="436.5" r="5" fill="#62fa00" stroke="#000" stroke-width="1.5"/>
<circle cx="675.5" cy="436.5" r="5" fill="#62fa00" stroke="#000" stroke-width="1.5"/>
<circle cx="665" cy="459.5" r="7" fill="#62fa00" stroke="#000" stroke-width="1.5"/>
<circle cx="603" cy="632" r="9.6" fill="#ffff00" stroke="#000" stroke-width="1.5"/>
<circle cx="588" cy="653" r="2.7" fill="#4ccc00" stroke="#000" stroke-width="1.5"/>
<circle cx="566.5" cy="656" r="2.7" fill="#4ccc00" stroke="#000" stroke-width="1.5"/>
<circle cx="645.5" cy="660.5" r="7" fill="#62fa00" stroke="#000" stroke-width="1.5"/>
<circle cx="662" cy="656" r="2.7" fill="#4ccc00" stroke="#000" stroke-width="1.5"/>
<circle cx="675" cy="651.5" r="2.7" fill="#4ccc00" stroke="#000" stroke-width="1.5"/>
<circle cx="650.5" cy="674" r="2.7" fill="#4ccc00" stroke="#000" stroke-width="1.5"/>
<circle cx="652.5" cy="690.5" r="2.7" fill="#4ccc00" stroke="#000" stroke-width="1.5"/>
<circle cx="691" cy="617.5" r="2.7" fill="#4ccc00" stroke="#000" stroke-width="1.5"/>
<circle cx="694" cy="665" r="7" fill="#62fa00" stroke="#000" stroke-width="1.5"/>
<circle cx="682.5" cy="686.5" r="7" fill="#62fa00" stroke="#000" stroke-width="1.5"/>
<circle cx="746.5" cy="612.5" r="2.7" fill="#4ccc00" stroke="#000" stroke-width="1.5"/>
<circle cx="817.5" cy="595" r="2.7" fill="#4ccc00" stroke="#000" stroke-width="1.5"/>
<circle cx="874.5" cy="586.5" r="7" fill="#62fa00" stroke="#000" stroke-width="1.5"/>
<circle cx="903" cy="584.5" r="7" fill="#62fa00" stroke="#000" stroke-width="1.5"/>
<circle cx="527.5" cy="271.5" r="8.3" fill="#ff1fd0" stroke="#201" stroke-width="1.4"/><circle cx="527.5" cy="271.5" r="4.316" fill="none" stroke="#900880" stroke-width="1.3"/><circle cx="527.5" cy="271.5" r="1.328" fill="#b010a0"/>
<circle cx="487.5" cy="470" r="8.3" fill="#ff1fd0" stroke="#201" stroke-width="1.4"/><circle cx="487.5" cy="470" r="4.316" fill="none" stroke="#900880" stroke-width="1.3"/><circle cx="487.5" cy="470" r="1.328" fill="#b010a0"/>
<circle cx="631.5" cy="481.5" r="8.3" fill="#ff1fd0" stroke="#201" stroke-width="1.4"/><circle cx="631.5" cy="481.5" r="4.316" fill="none" stroke="#900880" stroke-width="1.3"/><circle cx="631.5" cy="481.5" r="1.328" fill="#b010a0"/>
<rect x="77.6" y="26.2" width="852.7" height="694.4" fill="none" stroke="#4a4a4a" stroke-width="2.7"/>
<text class="tk" x="85.5" y="14" text-anchor="middle">112°15'0&quot;E</text>
<text class="tk" x="85.5" y="744.6" text-anchor="middle">112°15'0&quot;E</text>
<text class="tk" x="237" y="14" text-anchor="middle">112°30'0&quot;E</text>
<text class="tk" x="237" y="744.6" text-anchor="middle">112°30'0&quot;E</text>
<text class="tk" x="388.5" y="14" text-anchor="middle">112°45'0&quot;E</text>
<text class="tk" x="388.5" y="744.6" text-anchor="middle">112°45'0&quot;E</text>
<text class="tk" x="540" y="14" text-anchor="middle">113°0'0&quot;E</text>
<text class="tk" x="540" y="744.6" text-anchor="middle">113°0'0&quot;E</text>
<text class="tk" x="691.5" y="14" text-anchor="middle">113°15'0&quot;E</text>
<text class="tk" x="691.5" y="744.6" text-anchor="middle">113°15'0&quot;E</text>
<text class="tk" x="843" y="14" text-anchor="middle">113°30'0&quot;E</text>
<text class="tk" x="843" y="744.6" text-anchor="middle">113°30'0&quot;E</text>
<text class="tk" x="69" y="95.4" text-anchor="end">28°30'0&quot;N</text>
<text class="tk" x="938.5" y="95.4">28°30'0&quot;N</text>
<text class="tk" x="69" y="247.1" text-anchor="end">28°15'0&quot;N</text>
<text class="tk" x="938.5" y="247.1">28°15'0&quot;N</text>
<text class="tk" x="69" y="398.8" text-anchor="end">28°0'0&quot;N</text>
<text class="tk" x="938.5" y="398.8">28°0'0&quot;N</text>
<text class="tk" x="69" y="550.5" text-anchor="end">27°45'0&quot;N</text>
<text class="tk" x="938.5" y="550.5">27°45'0&quot;N</text>
<text class="tk" x="69" y="702.2" text-anchor="end">27°30'0&quot;N</text>
<text class="tk" x="938.5" y="702.2">27°30'0&quot;N</text>
<path d="M85.5 26.2v-6M85.5 720.6v6M237 26.2v-6M237 720.6v6M388.5 26.2v-6M388.5 720.6v6M540 26.2v-6M540 720.6v6M691.5 26.2v-6M691.5 720.6v6M843 26.2v-6M843 720.6v6M77.6 90h-7M930.3 90h7M77.6 241.7h-7M930.3 241.7h7M77.6 393.4h-7M930.3 393.4h7M77.6 545.1h-7M930.3 545.1h7M77.6 696.8h-7M930.3 696.8h7" stroke="#4a4a4a" stroke-width="1.6"/>
<text class="nn" x="141.7" y="71.6" text-anchor="middle" textLength="10.6" lengthAdjust="spacingAndGlyphs">N</text><path d="M141.7 75 L129.8 114.5 L142.2 99.5Z" fill="#000"/><path d="M141.9 76 L154 115 L142.4 99.8Z" fill="#fff" stroke="#111" stroke-width="1.1"/><path d="M154 115 L149.5 109.5 L151.2 106Z" fill="#111"/>
<rect x="276.5" y="704" width="219.0" height="7" fill="#fff" stroke="#000" stroke-width="0.8"/>
<rect x="276.5" y="704" width="14.6" height="7" fill="#000"/>
<rect x="304.4" y="704" width="13.4" height="7" fill="#000"/>
<rect x="330.5" y="704" width="55.8" height="7" fill="#000"/>
<rect x="441" y="704" width="54.5" height="7" fill="#000"/>
<text class="sb" x="277.5" y="698.5" text-anchor="middle">0</text>
<text class="sb" x="305" y="698.5" text-anchor="middle">5</text>
<text class="sb" x="332.4" y="698.5" text-anchor="middle">10</text>
<text class="sb" x="386.3" y="698.5" text-anchor="middle">20</text>
<text class="sb" x="441" y="698.5" text-anchor="middle">30</text>
<text class="sb" x="495.5" y="698.5" text-anchor="middle">40</text>
<text class="sb" x="498.5" y="710.6">Kilometers</text>
<text x="84.4" y="336.3" font-size="19" fill="#555" font-weight="normal">Legend</text>
<circle cx="103.9" cy="359.3" r="9.2" fill="#ff1fd0" stroke="#201" stroke-width="1.4"/><circle cx="103.9" cy="359.3" r="4.784" fill="none" stroke="#900880" stroke-width="1.3"/><circle cx="103.9" cy="359.3" r="1.472" fill="#b010a0"/>
<text class="lb" x="129" y="365.5">main city</text>
<text class="bd" x="85" y="390.3" textLength="244.5" lengthAdjust="spacingAndGlyphs">As concentration in groundwater</text>
<text class="bd" x="85" y="414.3" style="font-weight:normal">(mg/L)</text>
<circle cx="103.6" cy="432.3" r="2.6" fill="#4ccc00" stroke="#000" stroke-width="1.5"/>
<text class="lb" x="129" y="437.3">&lt;0.002</text>
<circle cx="103.6" cy="458.5" r="6" fill="#62fa00" stroke="#000" stroke-width="1.5"/>
<text class="lb" x="129" y="463.5">0.0021 - 0.006</text>
<circle cx="103.6" cy="483.7" r="8.3" fill="#62fa00" stroke="#000" stroke-width="1.5"/>
<text class="lb" x="129" y="488.7">0.0061 - 0.010</text>
<circle cx="103.6" cy="508.7" r="10" fill="#ffff00" stroke="#000" stroke-width="1.5"/>
<text class="lb" x="129" y="513.7">0.0101 - 0.050</text>
<circle cx="103.6" cy="538.5" r="12.5" fill="#ff0000" stroke="#000" stroke-width="1.5"/>
<text class="lb" x="129" y="543.5">0.0501 - 0.111</text>
<path d="M85 566.3h37.5" stroke="#b8b8b8" stroke-width="1.3"/>
<text class="lb" x="129" y="572" font-style="normal">Xiangjiang River</text>
<path d="M85 594.8h37.5" stroke="#86d4ff" stroke-width="1.4"/>
<text class="lb" x="129" y="601">tributary</text>
<text class="bd" x="85" y="625.3" textLength="138" lengthAdjust="spacingAndGlyphs">Population density</text>
<text class="bd" x="85" y="648.3" textLength="128.5" lengthAdjust="spacingAndGlyphs">(person per km^2)</text>
<rect x="85.3" y="657.9" width="34" height="36" fill="url(#ramp)"/>
<text class="hl" x="129" y="662.7">High : 20138.7</text>
<text class="hl" x="129" y="698.9">Low : 185.734</text>
</g></g>
</svg>
</body></html>
